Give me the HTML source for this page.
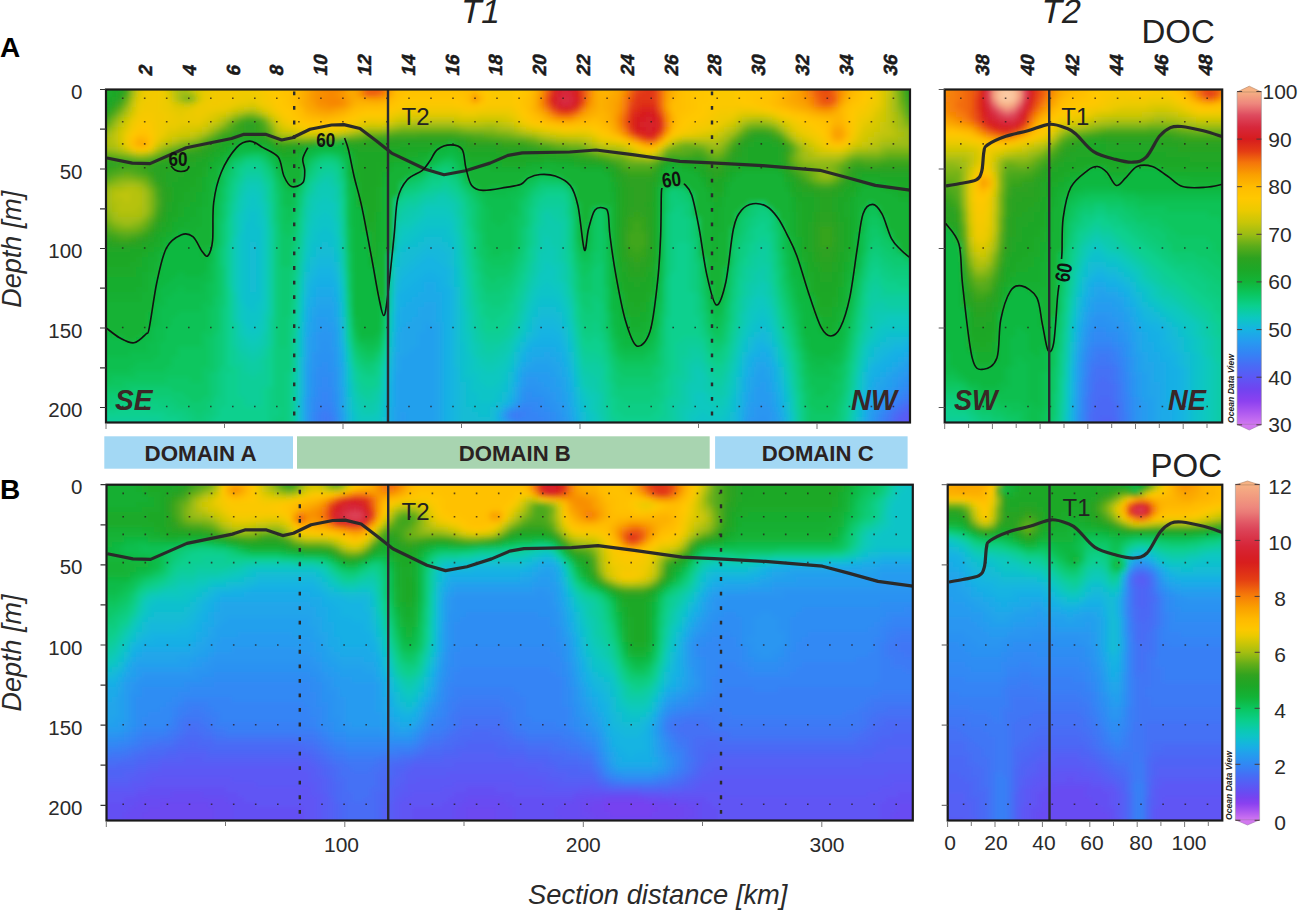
<!DOCTYPE html>
<html><head><meta charset="utf-8"><style>html,body{margin:0;padding:0;background:#fff;overflow:hidden}svg{display:block}text{font-family:"Liberation Sans", sans-serif}</style></head>
<body><svg width="1299" height="910" viewBox="0 0 1299 910" font-family='"Liberation Sans", sans-serif'>
<defs><filter id="bl" x="-2%" y="-2%" width="104%" height="104%"><feGaussianBlur stdDeviation="2.8"/></filter><clipPath id="cAL"><rect x="106.0" y="89.5" width="804.0" height="333.0"/></clipPath><clipPath id="cAR"><rect x="944.7" y="89.5" width="277.5" height="333.0"/></clipPath><clipPath id="cBL"><rect x="106.5" y="484.7" width="806.3" height="335.8"/></clipPath><clipPath id="cBR"><rect x="947.7" y="484.7" width="274.6" height="335.8"/></clipPath><linearGradient id="g91" x1="0" y1="0" x2="0" y2="1"><stop offset="0.000" stop-color="rgb(246,178,132)"/><stop offset="0.018" stop-color="rgb(242,156,128)"/><stop offset="0.036" stop-color="rgb(238,135,125)"/><stop offset="0.054" stop-color="rgb(230,105,110)"/><stop offset="0.071" stop-color="rgb(222,75,95)"/><stop offset="0.089" stop-color="rgb(218,57,77)"/><stop offset="0.107" stop-color="rgb(215,40,60)"/><stop offset="0.125" stop-color="rgb(215,34,45)"/><stop offset="0.143" stop-color="rgb(215,28,30)"/><stop offset="0.161" stop-color="rgb(221,44,25)"/><stop offset="0.179" stop-color="rgb(228,60,20)"/><stop offset="0.196" stop-color="rgb(236,89,15)"/><stop offset="0.214" stop-color="rgb(245,118,10)"/><stop offset="0.232" stop-color="rgb(247,139,5)"/><stop offset="0.250" stop-color="rgb(250,160,0)"/><stop offset="0.268" stop-color="rgb(252,174,0)"/><stop offset="0.286" stop-color="rgb(255,188,0)"/><stop offset="0.304" stop-color="rgb(255,194,0)"/><stop offset="0.321" stop-color="rgb(255,200,0)"/><stop offset="0.339" stop-color="rgb(245,201,0)"/><stop offset="0.357" stop-color="rgb(235,202,0)"/><stop offset="0.375" stop-color="rgb(217,200,4)"/><stop offset="0.393" stop-color="rgb(200,198,8)"/><stop offset="0.411" stop-color="rgb(177,193,14)"/><stop offset="0.429" stop-color="rgb(155,188,20)"/><stop offset="0.446" stop-color="rgb(123,180,23)"/><stop offset="0.464" stop-color="rgb(92,172,26)"/><stop offset="0.482" stop-color="rgb(68,167,29)"/><stop offset="0.500" stop-color="rgb(45,162,32)"/><stop offset="0.518" stop-color="rgb(36,165,36)"/><stop offset="0.536" stop-color="rgb(28,168,40)"/><stop offset="0.554" stop-color="rgb(23,174,48)"/><stop offset="0.571" stop-color="rgb(18,180,56)"/><stop offset="0.589" stop-color="rgb(14,189,75)"/><stop offset="0.607" stop-color="rgb(10,198,95)"/><stop offset="0.625" stop-color="rgb(10,203,118)"/><stop offset="0.643" stop-color="rgb(10,208,142)"/><stop offset="0.661" stop-color="rgb(11,204,167)"/><stop offset="0.679" stop-color="rgb(12,200,192)"/><stop offset="0.696" stop-color="rgb(17,190,209)"/><stop offset="0.714" stop-color="rgb(22,180,226)"/><stop offset="0.732" stop-color="rgb(30,167,233)"/><stop offset="0.750" stop-color="rgb(38,155,240)"/><stop offset="0.768" stop-color="rgb(45,143,242)"/><stop offset="0.786" stop-color="rgb(52,132,245)"/><stop offset="0.804" stop-color="rgb(62,120,245)"/><stop offset="0.821" stop-color="rgb(72,108,245)"/><stop offset="0.839" stop-color="rgb(82,98,245)"/><stop offset="0.857" stop-color="rgb(92,88,245)"/><stop offset="0.875" stop-color="rgb(102,78,242)"/><stop offset="0.893" stop-color="rgb(112,68,240)"/><stop offset="0.911" stop-color="rgb(126,66,240)"/><stop offset="0.929" stop-color="rgb(140,65,240)"/><stop offset="0.946" stop-color="rgb(157,77,240)"/><stop offset="0.964" stop-color="rgb(175,90,240)"/><stop offset="0.982" stop-color="rgb(192,105,240)"/><stop offset="1.000" stop-color="rgb(210,120,240)"/></linearGradient><linearGradient id="gpoc" x1="0" y1="0" x2="0" y2="1"><stop offset="0.000" stop-color="rgb(246,178,132)"/><stop offset="0.017" stop-color="rgb(244,167,130)"/><stop offset="0.033" stop-color="rgb(242,157,128)"/><stop offset="0.050" stop-color="rgb(240,147,126)"/><stop offset="0.067" stop-color="rgb(238,136,125)"/><stop offset="0.083" stop-color="rgb(234,123,119)"/><stop offset="0.100" stop-color="rgb(229,103,109)"/><stop offset="0.117" stop-color="rgb(224,84,99)"/><stop offset="0.133" stop-color="rgb(220,69,89)"/><stop offset="0.150" stop-color="rgb(218,58,78)"/><stop offset="0.167" stop-color="rgb(216,47,67)"/><stop offset="0.183" stop-color="rgb(215,38,56)"/><stop offset="0.200" stop-color="rgb(215,34,46)"/><stop offset="0.217" stop-color="rgb(215,30,37)"/><stop offset="0.233" stop-color="rgb(216,30,29)"/><stop offset="0.250" stop-color="rgb(220,40,26)"/><stop offset="0.267" stop-color="rgb(224,51,22)"/><stop offset="0.283" stop-color="rgb(228,62,19)"/><stop offset="0.300" stop-color="rgb(234,83,16)"/><stop offset="0.317" stop-color="rgb(241,106,12)"/><stop offset="0.333" stop-color="rgb(246,126,8)"/><stop offset="0.350" stop-color="rgb(248,143,4)"/><stop offset="0.367" stop-color="rgb(250,160,0)"/><stop offset="0.383" stop-color="rgb(252,172,0)"/><stop offset="0.400" stop-color="rgb(254,185,0)"/><stop offset="0.417" stop-color="rgb(255,192,0)"/><stop offset="0.433" stop-color="rgb(251,200,0)"/><stop offset="0.450" stop-color="rgb(235,202,0)"/><stop offset="0.467" stop-color="rgb(211,199,5)"/><stop offset="0.483" stop-color="rgb(189,195,10)"/><stop offset="0.500" stop-color="rgb(164,190,17)"/><stop offset="0.517" stop-color="rgb(134,182,21)"/><stop offset="0.533" stop-color="rgb(102,174,25)"/><stop offset="0.550" stop-color="rgb(75,168,28)"/><stop offset="0.567" stop-color="rgb(50,163,31)"/><stop offset="0.583" stop-color="rgb(38,164,35)"/><stop offset="0.600" stop-color="rgb(29,167,39)"/><stop offset="0.617" stop-color="rgb(23,173,47)"/><stop offset="0.633" stop-color="rgb(18,179,55)"/><stop offset="0.650" stop-color="rgb(14,188,74)"/><stop offset="0.667" stop-color="rgb(10,198,95)"/><stop offset="0.683" stop-color="rgb(10,202,115)"/><stop offset="0.700" stop-color="rgb(10,206,136)"/><stop offset="0.717" stop-color="rgb(10,205,157)"/><stop offset="0.733" stop-color="rgb(11,201,180)"/><stop offset="0.750" stop-color="rgb(14,196,198)"/><stop offset="0.767" stop-color="rgb(19,185,216)"/><stop offset="0.783" stop-color="rgb(25,174,229)"/><stop offset="0.800" stop-color="rgb(34,160,236)"/><stop offset="0.817" stop-color="rgb(41,148,241)"/><stop offset="0.833" stop-color="rgb(49,136,244)"/><stop offset="0.850" stop-color="rgb(59,123,245)"/><stop offset="0.867" stop-color="rgb(70,109,245)"/><stop offset="0.883" stop-color="rgb(81,98,245)"/><stop offset="0.900" stop-color="rgb(92,87,244)"/><stop offset="0.917" stop-color="rgb(104,76,242)"/><stop offset="0.933" stop-color="rgb(119,67,240)"/><stop offset="0.950" stop-color="rgb(138,65,240)"/><stop offset="0.967" stop-color="rgb(162,81,240)"/><stop offset="0.983" stop-color="rgb(186,99,240)"/><stop offset="1.000" stop-color="rgb(210,120,240)"/></linearGradient></defs>
<rect width="1299" height="910" fill="#fff"/>
<g clip-path="url(#cAL)"><g filter="url(#bl)"><path fill="#18ad2e" d="M94 77h18v5h-18zM94 82h18v5h-18zM94 87h12v5h-12zM256 142h6v5h-6zM226 147h6v5h-6zM220 152h6v5h-6zM274 152h6v5h-6zM418 152h12v5h-12zM214 157h6v5h-6zM280 157h18v5h-18zM406 157h6v5h-6zM208 162h6v5h-6zM388 162h6v5h-6zM472 162h30v5h-30zM526 162h6v5h-6zM568 162h6v5h-6zM670 162h6v5h-6zM688 167h6v5h-6zM742 167h36v5h-36zM352 172h6v5h-6zM382 172h6v5h-6zM730 172h6v5h-6zM202 177h6v5h-6zM352 177h6v5h-6zM658 177h6v5h-6zM700 177h6v5h-6zM202 182h6v5h-6zM610 182h6v5h-6zM724 182h6v5h-6zM784 182h6v5h-6zM862 182h6v5h-6zM880 182h6v5h-6zM202 187h6v5h-6zM610 187h6v5h-6zM706 187h6v5h-6zM856 187h6v5h-6zM886 187h12v5h-12zM196 192h6v5h-6zM898 192h24v5h-24zM196 197h6v5h-6zM718 197h6v5h-6zM790 197h6v5h-6zM850 197h6v5h-6zM190 202h12v5h-12zM712 202h12v5h-12zM790 202h6v5h-6zM850 202h6v5h-6zM184 207h12v5h-12zM712 207h6v5h-6zM790 207h6v5h-6zM850 207h6v5h-6zM184 212h12v5h-12zM376 212h6v5h-6zM712 212h6v5h-6zM850 212h6v5h-6zM178 217h12v5h-12zM376 217h6v5h-6zM712 217h6v5h-6zM850 217h6v5h-6zM172 222h12v5h-12zM376 222h6v5h-6zM712 222h6v5h-6zM850 222h6v5h-6zM172 227h6v5h-6zM376 227h6v5h-6zM850 227h6v5h-6zM166 232h6v5h-6zM376 232h6v5h-6zM850 232h6v5h-6zM160 237h6v5h-6zM376 237h6v5h-6zM796 237h6v5h-6zM850 237h6v5h-6zM160 242h6v5h-6zM796 242h6v5h-6zM850 242h6v5h-6zM154 247h6v5h-6zM796 247h6v5h-6zM850 247h6v5h-6zM148 252h6v5h-6zM796 252h6v5h-6zM142 257h6v5h-6zM370 257h6v5h-6zM142 262h6v5h-6zM370 262h6v5h-6zM802 262h6v5h-6zM844 262h6v5h-6zM136 267h12v5h-12zM802 267h6v5h-6zM844 267h6v5h-6zM136 272h6v5h-6zM802 272h6v5h-6zM94 277h48v5h-48zM652 277h6v5h-6zM94 282h48v5h-48zM616 282h6v5h-6zM652 282h6v5h-6zM94 287h42v5h-42zM616 287h6v5h-6zM838 287h6v5h-6zM808 292h6v5h-6zM838 292h6v5h-6zM838 297h6v5h-6zM646 302h6v5h-6zM622 307h6v5h-6zM646 307h6v5h-6zM832 307h6v5h-6zM622 312h6v5h-6zM640 312h6v5h-6zM814 312h6v5h-6zM832 312h6v5h-6zM628 317h18v5h-18zM820 317h18v5h-18zM628 322h12v5h-12zM820 322h12v5h-12zM820 327h12v5h-12z"/>
<path fill="#1aaa2b" d="M112 77h6v5h-6zM112 82h6v5h-6zM106 87h6v5h-6zM94 92h18v5h-18zM94 97h12v5h-12zM232 142h6v5h-6zM262 142h6v5h-6zM346 147h6v5h-6zM430 147h6v5h-6zM214 152h6v5h-6zM292 152h6v5h-6zM406 152h12v5h-12zM208 157h6v5h-6zM352 157h6v5h-6zM394 157h12v5h-12zM466 157h24v5h-24zM544 157h6v5h-6zM352 162h6v5h-6zM502 162h24v5h-24zM574 162h6v5h-6zM676 162h6v5h-6zM202 167h6v5h-6zM352 167h6v5h-6zM382 167h6v5h-6zM604 167h6v5h-6zM694 167h6v5h-6zM736 167h6v5h-6zM778 167h6v5h-6zM202 172h6v5h-6zM658 172h6v5h-6zM196 177h6v5h-6zM610 177h6v5h-6zM724 177h6v5h-6zM784 177h6v5h-6zM862 177h18v5h-18zM196 182h6v5h-6zM856 182h6v5h-6zM886 182h12v5h-12zM190 187h12v5h-12zM376 187h6v5h-6zM898 187h24v5h-24zM184 192h12v5h-12zM376 192h6v5h-6zM712 192h12v5h-12zM790 192h6v5h-6zM850 192h6v5h-6zM184 197h12v5h-12zM376 197h6v5h-6zM712 197h6v5h-6zM178 202h12v5h-12zM376 202h6v5h-6zM796 202h6v5h-6zM844 202h6v5h-6zM178 207h6v5h-6zM376 207h6v5h-6zM796 207h6v5h-6zM844 207h6v5h-6zM178 212h6v5h-6zM796 212h6v5h-6zM844 212h6v5h-6zM172 217h6v5h-6zM796 217h6v5h-6zM370 222h6v5h-6zM796 222h6v5h-6zM166 227h6v5h-6zM364 227h12v5h-12zM796 227h6v5h-6zM160 232h6v5h-6zM370 232h6v5h-6zM796 232h6v5h-6zM370 237h6v5h-6zM154 242h6v5h-6zM370 242h6v5h-6zM148 247h6v5h-6zM370 247h6v5h-6zM844 247h6v5h-6zM142 252h6v5h-6zM370 252h6v5h-6zM802 252h6v5h-6zM844 252h6v5h-6zM136 257h6v5h-6zM802 257h6v5h-6zM844 257h6v5h-6zM130 262h12v5h-12zM652 262h6v5h-6zM94 267h42v5h-42zM616 267h6v5h-6zM652 267h6v5h-6zM94 272h42v5h-42zM616 272h6v5h-6zM652 272h6v5h-6zM808 272h6v5h-6zM838 272h6v5h-6zM616 277h6v5h-6zM808 277h6v5h-6zM838 277h6v5h-6zM808 282h6v5h-6zM838 282h6v5h-6zM808 287h6v5h-6zM622 292h6v5h-6zM646 292h6v5h-6zM622 297h6v5h-6zM646 297h6v5h-6zM814 297h6v5h-6zM832 297h6v5h-6zM622 302h12v5h-12zM640 302h6v5h-6zM814 302h6v5h-6zM832 302h6v5h-6zM628 307h18v5h-18zM814 307h18v5h-18zM628 312h12v5h-12zM820 312h12v5h-12z"/>
<path fill="#23a625" d="M118 77h6v5h-6zM910 77h6v5h-6zM118 82h6v5h-6zM910 82h6v5h-6zM118 87h6v5h-6zM910 87h6v5h-6zM916 92h6v5h-6zM112 97h6v5h-6zM94 107h12v5h-12zM232 137h12v5h-12zM256 137h12v5h-12zM754 137h18v5h-18zM400 142h30v5h-30zM460 142h6v5h-6zM748 142h6v5h-6zM772 142h6v5h-6zM286 147h6v5h-6zM358 147h30v5h-30zM466 147h30v5h-30zM742 147h6v5h-6zM778 147h6v5h-6zM502 152h36v5h-36zM742 152h6v5h-6zM778 152h6v5h-6zM196 157h6v5h-6zM574 157h6v5h-6zM736 157h12v5h-12zM778 157h6v5h-6zM184 162h12v5h-12zM694 162h6v5h-6zM730 162h6v5h-6zM172 167h18v5h-18zM610 167h6v5h-6zM724 167h6v5h-6zM166 172h18v5h-18zM706 172h6v5h-6zM856 172h6v5h-6zM880 172h42v5h-42zM166 177h12v5h-12zM616 177h6v5h-6zM712 177h6v5h-6zM790 177h6v5h-6zM850 177h6v5h-6zM166 182h6v5h-6zM616 182h6v5h-6zM652 182h6v5h-6zM796 187h6v5h-6zM802 192h12v5h-12zM838 192h6v5h-6zM814 197h6v5h-6zM832 197h6v5h-6zM166 202h6v5h-6zM814 202h6v5h-6zM832 202h6v5h-6zM166 207h6v5h-6zM814 207h6v5h-6zM832 207h6v5h-6zM160 222h6v5h-6zM808 222h6v5h-6zM838 222h6v5h-6zM808 227h6v5h-6zM838 227h6v5h-6zM808 232h6v5h-6zM838 232h6v5h-6zM148 237h6v5h-6zM808 237h6v5h-6zM838 237h6v5h-6zM142 242h6v5h-6zM808 242h6v5h-6zM838 242h6v5h-6zM106 247h24v5h-24zM808 247h6v5h-6zM838 247h6v5h-6zM622 262h6v5h-6zM814 262h6v5h-6zM832 262h6v5h-6zM622 267h6v5h-6zM646 267h6v5h-6zM832 267h6v5h-6zM820 272h12v5h-12zM628 277h18v5h-18zM820 277h12v5h-12zM634 282h6v5h-6z"/>
<path fill="#36a41f" d="M124 77h6v5h-6zM124 82h6v5h-6zM904 92h6v5h-6zM916 107h6v5h-6zM106 112h6v5h-6zM94 117h12v5h-12zM238 122h6v5h-6zM256 122h6v5h-6zM238 127h6v5h-6zM256 127h6v5h-6zM226 132h6v5h-6zM262 132h6v5h-6zM214 137h6v5h-6zM268 137h6v5h-6zM364 137h6v5h-6zM466 137h6v5h-6zM778 137h6v5h-6zM280 142h12v5h-12zM502 142h24v5h-24zM784 142h6v5h-6zM196 147h6v5h-6zM538 147h12v5h-12zM730 147h6v5h-6zM178 152h6v5h-6zM574 152h6v5h-6zM784 152h6v5h-6zM94 157h18v5h-18zM160 157h6v5h-6zM598 157h6v5h-6zM724 157h6v5h-6zM784 157h6v5h-6zM118 162h12v5h-12zM148 162h6v5h-6zM706 162h6v5h-6zM718 162h6v5h-6zM856 162h6v5h-6zM880 162h42v5h-42zM100 167h12v5h-12zM142 167h6v5h-6zM652 167h6v5h-6zM148 172h6v5h-6zM628 172h24v5h-24zM844 172h6v5h-6zM154 182h6v5h-6zM808 182h6v5h-6zM634 212h6v5h-6zM154 217h6v5h-6zM628 217h18v5h-18zM628 222h6v5h-6zM640 222h6v5h-6zM148 227h6v5h-6zM628 227h6v5h-6zM640 227h6v5h-6zM820 227h12v5h-12zM94 232h12v5h-12zM142 232h6v5h-6zM820 232h12v5h-12zM112 237h6v5h-6zM130 237h6v5h-6zM820 237h12v5h-12zM820 242h12v5h-12zM628 247h6v5h-6zM640 247h6v5h-6zM628 252h18v5h-18zM634 257h6v5h-6z"/>
<path fill="#8eb915" d="M130 77h6v5h-6zM130 82h6v5h-6zM190 97h6v5h-6zM118 112h6v5h-6zM898 112h6v5h-6zM268 122h6v5h-6zM766 122h6v5h-6zM106 127h6v5h-6zM214 127h6v5h-6zM388 127h6v5h-6zM466 127h30v5h-30zM910 127h6v5h-6zM352 132h6v5h-6zM514 132h6v5h-6zM196 137h6v5h-6zM538 137h6v5h-6zM580 142h6v5h-6zM700 142h6v5h-6zM94 147h12v5h-12zM160 147h6v5h-6zM592 147h6v5h-6zM712 147h6v5h-6zM880 147h6v5h-6zM124 152h6v5h-6zM796 152h6v5h-6zM850 152h6v5h-6zM634 157h12v5h-12zM814 162h18v5h-18zM112 182h6v5h-6zM100 187h6v5h-6zM94 197h6v5h-6zM94 202h12v5h-12zM100 207h6v5h-6zM106 212h6v5h-6zM118 222h6v5h-6zM130 222h6v5h-6z"/>
<path fill="#d6c805" d="M136 77h6v5h-6zM166 77h6v5h-6zM196 77h6v5h-6zM136 82h6v5h-6zM166 82h6v5h-6zM196 82h6v5h-6zM136 87h6v5h-6zM166 87h6v5h-6zM196 92h6v5h-6zM190 102h6v5h-6zM232 107h6v5h-6zM880 107h6v5h-6zM220 112h6v5h-6zM394 117h6v5h-6zM460 117h18v5h-18zM502 117h6v5h-6zM874 117h6v5h-6zM202 122h6v5h-6zM370 122h6v5h-6zM382 122h6v5h-6zM514 122h6v5h-6zM784 122h6v5h-6zM874 122h6v5h-6zM184 127h12v5h-12zM526 127h6v5h-6zM718 127h6v5h-6zM868 127h6v5h-6zM118 132h6v5h-6zM172 132h6v5h-6zM556 132h6v5h-6zM706 132h6v5h-6zM862 132h6v5h-6zM118 137h6v5h-6zM592 137h6v5h-6zM802 137h6v5h-6zM616 142h6v5h-6zM664 142h6v5h-6zM844 147h6v5h-6z"/>
<path fill="#ebca00" d="M142 77h6v5h-6zM160 77h6v5h-6zM142 82h6v5h-6zM160 82h6v5h-6zM202 92h6v5h-6zM202 97h6v5h-6zM244 97h12v5h-12zM136 102h6v5h-6zM166 102h6v5h-6zM196 102h6v5h-6zM232 102h6v5h-6zM256 102h6v5h-6zM874 102h6v5h-6zM166 107h6v5h-6zM190 107h6v5h-6zM214 107h12v5h-12zM172 112h6v5h-6zM184 112h12v5h-12zM202 112h6v5h-6zM394 112h6v5h-6zM460 112h18v5h-18zM508 112h6v5h-6zM868 112h6v5h-6zM130 117h6v5h-6zM172 117h30v5h-30zM514 117h6v5h-6zM724 117h6v5h-6zM862 117h6v5h-6zM166 122h12v5h-12zM520 122h6v5h-6zM718 122h6v5h-6zM790 122h6v5h-6zM298 127h6v5h-6zM340 127h6v5h-6zM706 127h6v5h-6zM856 127h6v5h-6zM160 132h6v5h-6zM688 132h6v5h-6zM802 132h6v5h-6zM598 137h6v5h-6zM148 147h6v5h-6zM634 147h6v5h-6zM832 147h12v5h-12z"/>
<path fill="#efca00" d="M148 77h6v5h-6zM208 77h6v5h-6zM148 82h6v5h-6zM208 82h6v5h-6zM142 87h12v5h-12zM160 87h6v5h-6zM208 87h6v5h-6zM874 87h6v5h-6zM142 92h6v5h-6zM160 92h6v5h-6zM208 92h6v5h-6zM238 92h18v5h-18zM874 92h6v5h-6zM142 97h6v5h-6zM160 97h6v5h-6zM208 97h6v5h-6zM232 97h12v5h-12zM256 97h6v5h-6zM874 97h6v5h-6zM160 102h6v5h-6zM202 102h6v5h-6zM220 102h12v5h-12zM136 107h6v5h-6zM160 107h6v5h-6zM196 107h18v5h-18zM268 107h6v5h-6zM868 107h6v5h-6zM166 112h6v5h-6zM196 112h6v5h-6zM274 112h6v5h-6zM730 112h6v5h-6zM772 112h6v5h-6zM166 117h6v5h-6zM718 117h6v5h-6zM784 117h6v5h-6zM160 122h6v5h-6zM286 122h6v5h-6zM352 122h6v5h-6zM712 122h6v5h-6zM856 122h6v5h-6zM160 127h6v5h-6zM334 127h6v5h-6zM544 127h6v5h-6zM700 127h6v5h-6zM796 127h6v5h-6zM124 132h6v5h-6zM592 132h6v5h-6zM682 132h6v5h-6zM154 137h6v5h-6zM604 137h6v5h-6zM814 137h6v5h-6zM850 137h6v5h-6zM124 142h6v5h-6zM820 142h6v5h-6z"/>
<path fill="#f3c900" d="M154 77h6v5h-6zM214 77h42v5h-42zM874 77h6v5h-6zM154 82h6v5h-6zM214 82h42v5h-42zM874 82h6v5h-6zM154 87h6v5h-6zM214 87h42v5h-42zM148 92h12v5h-12zM214 92h24v5h-24zM256 92h6v5h-6zM148 97h12v5h-12zM214 97h18v5h-18zM142 102h18v5h-18zM208 102h12v5h-12zM262 102h6v5h-6zM868 102h6v5h-6zM142 107h18v5h-18zM406 107h54v5h-54zM484 107h30v5h-30zM736 107h18v5h-18zM136 112h6v5h-6zM154 112h12v5h-12zM388 112h6v5h-6zM514 112h6v5h-6zM718 112h12v5h-12zM862 112h6v5h-6zM154 117h12v5h-12zM280 117h6v5h-6zM364 117h24v5h-24zM712 117h6v5h-6zM856 117h6v5h-6zM130 122h6v5h-6zM154 122h6v5h-6zM292 122h6v5h-6zM526 122h6v5h-6zM706 122h6v5h-6zM796 122h6v5h-6zM154 127h6v5h-6zM304 127h12v5h-12zM328 127h6v5h-6zM550 127h6v5h-6zM694 127h6v5h-6zM802 127h6v5h-6zM154 132h6v5h-6zM808 132h6v5h-6zM124 137h6v5h-6zM130 147h6v5h-6z"/>
<path fill="#b6c20d" d="M172 77h6v5h-6zM172 82h6v5h-6zM172 87h6v5h-6zM130 97h6v5h-6zM124 112h6v5h-6zM220 117h6v5h-6zM268 117h6v5h-6zM748 117h6v5h-6zM760 117h6v5h-6zM214 122h6v5h-6zM394 122h6v5h-6zM460 122h24v5h-24zM496 122h6v5h-6zM736 122h6v5h-6zM274 127h6v5h-6zM514 127h6v5h-6zM730 127h6v5h-6zM892 127h6v5h-6zM196 132h6v5h-6zM280 132h12v5h-12zM892 132h6v5h-6zM178 137h6v5h-6zM568 137h12v5h-12zM880 137h6v5h-6zM112 142h6v5h-6zM592 142h6v5h-6zM874 142h6v5h-6zM118 147h6v5h-6zM154 147h6v5h-6zM622 147h6v5h-6zM136 152h6v5h-6zM124 187h12v5h-12zM112 192h6v5h-6zM130 192h12v5h-12zM112 197h12v5h-12zM130 197h12v5h-12zM118 202h24v5h-24zM118 207h18v5h-18z"/>
<path fill="#a4be12" d="M178 77h6v5h-6zM178 82h6v5h-6zM178 87h6v5h-6zM130 92h6v5h-6zM178 92h6v5h-6zM892 97h6v5h-6zM892 102h6v5h-6zM124 107h6v5h-6zM892 107h6v5h-6zM412 122h42v5h-42zM772 122h6v5h-6zM382 127h6v5h-6zM502 127h12v5h-12zM898 127h6v5h-6zM106 132h6v5h-6zM202 132h6v5h-6zM346 132h6v5h-6zM526 132h6v5h-6zM94 137h12v5h-12zM190 137h6v5h-6zM550 137h6v5h-6zM790 137h6v5h-6zM898 137h6v5h-6zM94 142h12v5h-12zM586 142h6v5h-6zM670 142h6v5h-6zM712 142h6v5h-6zM796 142h6v5h-6zM880 142h12v5h-12zM112 147h6v5h-6zM604 147h12v5h-12zM868 147h12v5h-12zM130 152h6v5h-6zM802 152h6v5h-6zM808 157h30v5h-30zM124 182h12v5h-12zM106 192h6v5h-6zM142 192h6v5h-6zM106 197h6v5h-6zM142 197h6v5h-6zM106 202h6v5h-6zM142 202h6v5h-6zM142 207h6v5h-6zM112 212h6v5h-6zM118 217h18v5h-18z"/>
<path fill="#adc00f" d="M184 77h6v5h-6zM184 82h6v5h-6zM184 87h6v5h-6zM190 92h6v5h-6zM232 112h6v5h-6zM892 112h6v5h-6zM118 117h6v5h-6zM754 117h6v5h-6zM892 117h6v5h-6zM400 122h12v5h-12zM454 122h6v5h-6zM484 122h12v5h-12zM892 122h6v5h-6zM112 127h6v5h-6zM208 127h6v5h-6zM364 127h18v5h-18zM340 132h6v5h-6zM532 132h6v5h-6zM724 132h6v5h-6zM898 132h6v5h-6zM106 137h6v5h-6zM184 137h6v5h-6zM556 137h12v5h-12zM718 137h6v5h-6zM886 137h12v5h-12zM106 142h6v5h-6zM166 142h6v5h-6zM616 147h6v5h-6zM802 147h6v5h-6zM856 147h12v5h-12zM142 152h6v5h-6zM628 152h6v5h-6zM808 152h6v5h-6zM844 152h6v5h-6zM112 187h12v5h-12zM136 187h6v5h-6zM112 202h6v5h-6zM112 207h6v5h-6zM136 207h6v5h-6zM118 212h24v5h-24z"/>
<path fill="#c8c608" d="M190 77h6v5h-6zM886 77h6v5h-6zM190 82h6v5h-6zM886 82h6v5h-6zM190 87h6v5h-6zM886 87h6v5h-6zM886 92h6v5h-6zM130 102h6v5h-6zM184 102h6v5h-6zM244 107h6v5h-6zM226 112h6v5h-6zM412 117h42v5h-42zM208 122h6v5h-6zM274 122h6v5h-6zM388 122h6v5h-6zM508 122h6v5h-6zM880 122h6v5h-6zM202 127h6v5h-6zM520 127h6v5h-6zM724 127h6v5h-6zM880 127h6v5h-6zM190 132h6v5h-6zM298 132h6v5h-6zM322 132h6v5h-6zM544 132h6v5h-6zM718 132h6v5h-6zM790 132h6v5h-6zM874 132h6v5h-6zM172 137h6v5h-6zM586 137h6v5h-6zM796 137h6v5h-6zM868 137h6v5h-6zM598 142h6v5h-6zM862 142h6v5h-6zM658 147h6v5h-6zM652 152h6v5h-6zM820 152h18v5h-18z"/>
<path fill="#e4c902" d="M202 77h6v5h-6zM202 82h6v5h-6zM202 87h6v5h-6zM136 97h6v5h-6zM166 97h6v5h-6zM238 102h12v5h-12zM172 107h18v5h-18zM226 107h6v5h-6zM262 107h6v5h-6zM874 107h6v5h-6zM178 112h6v5h-6zM208 112h6v5h-6zM400 112h60v5h-60zM478 112h30v5h-30zM736 112h6v5h-6zM766 112h6v5h-6zM202 117h6v5h-6zM388 117h6v5h-6zM730 117h6v5h-6zM778 117h6v5h-6zM868 117h6v5h-6zM178 122h24v5h-24zM280 122h6v5h-6zM358 122h6v5h-6zM862 122h6v5h-6zM124 127h6v5h-6zM166 127h12v5h-12zM292 127h6v5h-6zM538 127h6v5h-6zM712 127h6v5h-6zM586 132h6v5h-6zM694 132h6v5h-6zM856 132h6v5h-6zM670 137h6v5h-6zM808 137h6v5h-6zM622 142h6v5h-6zM814 142h6v5h-6zM826 147h6v5h-6z"/>
<path fill="#f7c900" d="M256 77h6v5h-6zM256 82h6v5h-6zM256 87h6v5h-6zM262 92h6v5h-6zM262 97h6v5h-6zM868 97h6v5h-6zM268 102h6v5h-6zM400 107h6v5h-6zM460 107h6v5h-6zM472 107h12v5h-12zM718 107h18v5h-18zM754 107h6v5h-6zM862 107h6v5h-6zM142 112h12v5h-12zM712 112h6v5h-6zM856 112h6v5h-6zM136 117h18v5h-18zM358 117h6v5h-6zM520 117h6v5h-6zM706 117h6v5h-6zM790 117h6v5h-6zM346 122h6v5h-6zM694 122h12v5h-12zM130 127h6v5h-6zM316 127h12v5h-12zM556 127h6v5h-6zM574 127h18v5h-18zM688 127h6v5h-6zM808 127h6v5h-6zM676 132h6v5h-6zM814 132h6v5h-6zM850 132h6v5h-6zM610 137h6v5h-6zM820 137h6v5h-6zM628 142h6v5h-6zM844 142h6v5h-6zM652 147h6v5h-6z"/>
<path fill="#fbc800" d="M262 77h6v5h-6zM490 77h24v5h-24zM712 77h24v5h-24zM868 77h6v5h-6zM262 82h6v5h-6zM490 82h24v5h-24zM712 82h24v5h-24zM868 82h6v5h-6zM262 87h6v5h-6zM490 87h24v5h-24zM712 87h24v5h-24zM868 87h6v5h-6zM268 92h6v5h-6zM490 92h24v5h-24zM712 92h24v5h-24zM868 92h6v5h-6zM268 97h6v5h-6zM490 97h24v5h-24zM712 97h24v5h-24zM406 102h48v5h-48zM484 102h30v5h-30zM712 102h30v5h-30zM862 102h6v5h-6zM274 107h6v5h-6zM394 107h6v5h-6zM466 107h6v5h-6zM514 107h6v5h-6zM706 107h12v5h-12zM760 107h6v5h-6zM856 107h6v5h-6zM280 112h6v5h-6zM706 112h6v5h-6zM778 112h6v5h-6zM286 117h6v5h-6zM700 117h6v5h-6zM136 122h6v5h-6zM148 122h6v5h-6zM298 122h6v5h-6zM532 122h6v5h-6zM688 122h6v5h-6zM802 122h6v5h-6zM850 122h6v5h-6zM148 127h6v5h-6zM562 127h12v5h-12zM682 127h6v5h-6zM850 127h6v5h-6zM598 132h6v5h-6zM826 142h6v5h-6zM640 147h6v5h-6z"/>
<path fill="#ffc800" d="M268 77h12v5h-12zM484 77h6v5h-6zM514 77h6v5h-6zM706 77h6v5h-6zM736 77h12v5h-12zM268 82h12v5h-12zM484 82h6v5h-6zM514 82h6v5h-6zM706 82h6v5h-6zM736 82h12v5h-12zM268 87h12v5h-12zM484 87h6v5h-6zM514 87h6v5h-6zM706 87h6v5h-6zM736 87h12v5h-12zM274 92h6v5h-6zM484 92h6v5h-6zM514 92h6v5h-6zM706 92h6v5h-6zM736 92h12v5h-12zM274 97h6v5h-6zM484 97h6v5h-6zM514 97h6v5h-6zM706 97h6v5h-6zM736 97h12v5h-12zM862 97h6v5h-6zM274 102h6v5h-6zM400 102h6v5h-6zM454 102h6v5h-6zM514 102h6v5h-6zM700 102h12v5h-12zM742 102h12v5h-12zM280 107h6v5h-6zM388 107h6v5h-6zM700 107h6v5h-6zM766 107h6v5h-6zM286 112h6v5h-6zM364 112h24v5h-24zM520 112h6v5h-6zM694 112h12v5h-12zM784 112h6v5h-6zM850 112h6v5h-6zM292 117h6v5h-6zM352 117h6v5h-6zM688 117h12v5h-12zM796 117h6v5h-6zM850 117h6v5h-6zM142 122h6v5h-6zM340 122h6v5h-6zM538 122h6v5h-6zM682 122h6v5h-6zM808 122h6v5h-6zM592 127h6v5h-6zM814 127h6v5h-6zM130 132h6v5h-6zM148 132h6v5h-6zM820 132h6v5h-6zM616 137h6v5h-6zM142 147h6v5h-6z"/>
<path fill="#ffc300" d="M280 77h6v5h-6zM478 77h6v5h-6zM688 77h6v5h-6zM766 77h6v5h-6zM862 77h6v5h-6zM280 82h6v5h-6zM478 82h6v5h-6zM688 82h6v5h-6zM766 82h6v5h-6zM862 82h6v5h-6zM280 87h6v5h-6zM478 87h6v5h-6zM688 87h6v5h-6zM766 87h6v5h-6zM280 92h6v5h-6zM406 92h54v5h-54zM688 92h6v5h-6zM760 92h12v5h-12zM460 97h6v5h-6zM520 97h6v5h-6zM688 97h6v5h-6zM754 97h12v5h-12zM856 97h6v5h-6zM286 102h6v5h-6zM466 102h6v5h-6zM520 102h6v5h-6zM688 102h6v5h-6zM760 102h6v5h-6zM850 102h6v5h-6zM382 107h6v5h-6zM688 107h6v5h-6zM772 107h6v5h-6zM292 112h6v5h-6zM352 112h6v5h-6zM526 112h6v5h-6zM682 112h6v5h-6zM790 112h6v5h-6zM298 117h6v5h-6zM808 117h6v5h-6zM310 122h24v5h-24zM544 122h6v5h-6zM676 122h6v5h-6zM820 122h6v5h-6zM598 127h6v5h-6zM148 137h6v5h-6zM832 142h12v5h-12z"/>
<path fill="#ffbe00" d="M286 77h6v5h-6zM400 77h6v5h-6zM454 77h12v5h-12zM472 77h6v5h-6zM856 77h6v5h-6zM286 82h6v5h-6zM400 82h6v5h-6zM454 82h12v5h-12zM472 82h6v5h-6zM856 82h6v5h-6zM400 87h6v5h-6zM460 87h6v5h-6zM472 87h6v5h-6zM772 87h6v5h-6zM856 87h6v5h-6zM394 92h6v5h-6zM478 92h6v5h-6zM772 92h6v5h-6zM526 97h6v5h-6zM676 97h6v5h-6zM850 97h6v5h-6zM292 102h6v5h-6zM526 102h6v5h-6zM676 102h6v5h-6zM358 107h6v5h-6zM526 107h6v5h-6zM676 107h6v5h-6zM298 112h6v5h-6zM346 112h6v5h-6zM802 112h6v5h-6zM304 117h6v5h-6zM334 117h6v5h-6zM820 117h6v5h-6zM574 122h6v5h-6zM598 122h6v5h-6zM826 122h6v5h-6zM844 122h6v5h-6zM604 127h6v5h-6zM610 132h6v5h-6zM622 137h6v5h-6zM130 142h6v5h-6z"/>
<path fill="#feb600" d="M292 77h6v5h-6zM532 77h6v5h-6zM850 77h6v5h-6zM292 82h6v5h-6zM532 82h6v5h-6zM850 82h6v5h-6zM532 87h6v5h-6zM850 87h6v5h-6zM778 92h6v5h-6zM478 97h6v5h-6zM670 97h6v5h-6zM778 97h6v5h-6zM358 102h24v5h-24zM778 102h6v5h-6zM790 107h6v5h-6zM838 107h6v5h-6zM304 112h6v5h-6zM340 112h6v5h-6zM598 112h6v5h-6zM670 112h6v5h-6zM808 112h6v5h-6zM838 112h6v5h-6zM322 117h6v5h-6zM586 117h6v5h-6zM598 117h6v5h-6zM832 117h12v5h-12zM604 122h6v5h-6zM670 122h6v5h-6zM844 132h6v5h-6zM142 137h6v5h-6z"/>
<path fill="#fdb100" d="M298 77h6v5h-6zM598 77h12v5h-12zM784 77h6v5h-6zM298 82h6v5h-6zM598 82h12v5h-12zM784 82h6v5h-6zM298 87h6v5h-6zM598 87h12v5h-12zM670 87h6v5h-6zM784 87h6v5h-6zM298 92h6v5h-6zM532 92h6v5h-6zM598 92h12v5h-12zM670 92h6v5h-6zM784 92h6v5h-6zM298 97h6v5h-6zM532 97h6v5h-6zM598 97h6v5h-6zM844 97h6v5h-6zM298 102h6v5h-6zM352 102h6v5h-6zM532 102h6v5h-6zM598 102h6v5h-6zM784 102h6v5h-6zM346 107h6v5h-6zM532 107h6v5h-6zM598 107h6v5h-6zM796 107h6v5h-6zM310 112h6v5h-6zM334 112h6v5h-6zM538 112h6v5h-6zM592 112h6v5h-6zM604 112h6v5h-6zM814 112h6v5h-6zM832 112h6v5h-6zM544 117h6v5h-6zM580 117h6v5h-6zM604 117h6v5h-6zM670 117h6v5h-6zM832 122h12v5h-12zM610 127h6v5h-6zM616 132h6v5h-6zM136 137h6v5h-6z"/>
<path fill="#fba600" d="M304 77h6v5h-6zM346 77h6v5h-6zM358 77h6v5h-6zM388 77h6v5h-6zM592 77h6v5h-6zM616 77h6v5h-6zM844 77h6v5h-6zM304 82h6v5h-6zM346 82h6v5h-6zM358 82h6v5h-6zM388 82h6v5h-6zM592 82h6v5h-6zM616 82h6v5h-6zM844 82h6v5h-6zM304 87h6v5h-6zM346 87h12v5h-12zM388 87h6v5h-6zM592 87h6v5h-6zM616 87h6v5h-6zM844 87h6v5h-6zM304 92h6v5h-6zM346 92h12v5h-12zM592 92h6v5h-6zM790 92h6v5h-6zM304 97h6v5h-6zM364 97h6v5h-6zM382 97h6v5h-6zM592 97h6v5h-6zM610 97h6v5h-6zM790 97h6v5h-6zM304 102h6v5h-6zM592 102h6v5h-6zM610 102h6v5h-6zM664 102h6v5h-6zM796 102h6v5h-6zM838 102h6v5h-6zM310 107h6v5h-6zM340 107h6v5h-6zM610 107h6v5h-6zM808 107h6v5h-6zM610 112h6v5h-6zM550 117h6v5h-6zM610 117h6v5h-6zM832 127h12v5h-12zM664 132h6v5h-6zM628 137h6v5h-6zM652 142h6v5h-6z"/>
<path fill="#f99802" d="M310 77h6v5h-6zM664 77h6v5h-6zM310 82h6v5h-6zM664 82h6v5h-6zM310 87h6v5h-6zM538 87h6v5h-6zM664 87h6v5h-6zM310 92h6v5h-6zM340 92h6v5h-6zM538 92h6v5h-6zM310 97h6v5h-6zM802 97h6v5h-6zM838 97h6v5h-6zM616 102h6v5h-6zM322 107h12v5h-12zM616 107h6v5h-6zM814 107h6v5h-6zM556 117h18v5h-18zM616 127h6v5h-6zM658 137h6v5h-6zM646 142h6v5h-6z"/>
<path fill="#f88f04" d="M316 77h6v5h-6zM340 77h6v5h-6zM364 77h6v5h-6zM622 77h6v5h-6zM802 77h6v5h-6zM316 82h6v5h-6zM340 82h6v5h-6zM364 82h6v5h-6zM622 82h6v5h-6zM802 82h6v5h-6zM316 87h6v5h-6zM340 87h6v5h-6zM358 87h6v5h-6zM622 87h6v5h-6zM802 87h6v5h-6zM838 87h6v5h-6zM316 92h12v5h-12zM334 92h6v5h-6zM358 92h6v5h-6zM802 92h6v5h-6zM838 92h6v5h-6zM316 97h6v5h-6zM340 97h6v5h-6zM472 97h6v5h-6zM538 97h6v5h-6zM316 102h12v5h-12zM340 102h6v5h-6zM538 102h6v5h-6zM586 102h6v5h-6zM808 102h6v5h-6zM820 107h12v5h-12zM616 112h6v5h-6zM664 112h6v5h-6zM616 122h6v5h-6zM622 132h6v5h-6z"/>
<path fill="#f78706" d="M322 77h18v5h-18zM586 77h6v5h-6zM838 77h6v5h-6zM322 82h18v5h-18zM586 82h6v5h-6zM838 82h6v5h-6zM322 87h18v5h-18zM328 92h6v5h-6zM382 92h6v5h-6zM622 92h6v5h-6zM322 97h18v5h-18zM586 97h6v5h-6zM808 97h6v5h-6zM328 102h12v5h-12zM616 117h6v5h-6zM664 117h6v5h-6zM664 127h6v5h-6z"/>
<path fill="#fcab00" d="M352 77h6v5h-6zM610 77h6v5h-6zM670 77h6v5h-6zM790 77h6v5h-6zM352 82h6v5h-6zM610 82h6v5h-6zM670 82h6v5h-6zM790 82h6v5h-6zM610 87h6v5h-6zM790 87h6v5h-6zM388 92h6v5h-6zM472 92h6v5h-6zM610 92h6v5h-6zM844 92h6v5h-6zM352 97h12v5h-12zM604 97h6v5h-6zM784 97h6v5h-6zM604 102h6v5h-6zM790 102h6v5h-6zM304 107h6v5h-6zM592 107h6v5h-6zM604 107h6v5h-6zM802 107h6v5h-6zM316 112h18v5h-18zM586 112h6v5h-6zM820 112h12v5h-12zM574 117h6v5h-6zM610 122h6v5h-6zM832 137h12v5h-12zM136 142h12v5h-12zM640 142h6v5h-6z"/>
<path fill="#f5760a" d="M370 77h6v5h-6zM544 77h6v5h-6zM808 77h6v5h-6zM370 82h6v5h-6zM544 82h6v5h-6zM808 82h6v5h-6zM382 87h6v5h-6zM808 87h6v5h-6zM814 102h6v5h-6zM622 107h6v5h-6zM622 127h6v5h-6z"/>
<path fill="#ee5f0e" d="M376 77h6v5h-6zM814 77h6v5h-6zM832 77h6v5h-6zM376 82h6v5h-6zM814 82h6v5h-6zM832 82h6v5h-6zM370 87h12v5h-12zM814 87h6v5h-6zM364 92h12v5h-12zM544 92h6v5h-6zM628 92h6v5h-6zM814 92h6v5h-6zM832 97h6v5h-6zM544 102h6v5h-6zM820 102h12v5h-12zM658 107h6v5h-6zM556 112h6v5h-6zM568 112h6v5h-6zM622 117h6v5h-6zM622 122h6v5h-6zM628 132h6v5h-6z"/>
<path fill="#f26a0c" d="M382 77h6v5h-6zM628 77h6v5h-6zM658 77h6v5h-6zM382 82h6v5h-6zM628 82h6v5h-6zM658 82h6v5h-6zM364 87h6v5h-6zM544 87h6v5h-6zM628 87h6v5h-6zM658 87h6v5h-6zM832 87h6v5h-6zM376 92h6v5h-6zM658 92h6v5h-6zM832 92h6v5h-6zM658 97h6v5h-6zM814 97h6v5h-6zM658 102h6v5h-6zM622 112h6v5h-6z"/>
<path fill="#ffbc00" d="M394 77h6v5h-6zM466 77h6v5h-6zM676 77h6v5h-6zM778 77h6v5h-6zM394 82h6v5h-6zM466 82h6v5h-6zM676 82h6v5h-6zM778 82h6v5h-6zM292 87h6v5h-6zM394 87h6v5h-6zM466 87h6v5h-6zM676 87h6v5h-6zM778 87h6v5h-6zM292 92h6v5h-6zM466 92h6v5h-6zM676 92h6v5h-6zM850 92h6v5h-6zM292 97h6v5h-6zM388 97h6v5h-6zM466 97h6v5h-6zM772 97h6v5h-6zM382 102h6v5h-6zM670 102h6v5h-6zM772 102h6v5h-6zM844 102h6v5h-6zM298 107h6v5h-6zM352 107h6v5h-6zM670 107h6v5h-6zM784 107h6v5h-6zM532 112h6v5h-6zM310 117h12v5h-12zM328 117h6v5h-6zM538 117h6v5h-6zM592 117h6v5h-6zM826 117h6v5h-6zM556 122h18v5h-18zM670 127h6v5h-6zM826 127h6v5h-6zM844 127h6v5h-6zM826 132h6v5h-6z"/>
<path fill="#ffc100" d="M406 77h48v5h-48zM526 77h6v5h-6zM682 77h6v5h-6zM772 77h6v5h-6zM406 82h48v5h-48zM526 82h6v5h-6zM682 82h6v5h-6zM772 82h6v5h-6zM286 87h6v5h-6zM406 87h54v5h-54zM526 87h6v5h-6zM682 87h6v5h-6zM286 92h6v5h-6zM400 92h6v5h-6zM460 92h6v5h-6zM526 92h6v5h-6zM682 92h6v5h-6zM856 92h6v5h-6zM286 97h6v5h-6zM394 97h6v5h-6zM682 97h6v5h-6zM766 97h6v5h-6zM388 102h6v5h-6zM472 102h6v5h-6zM682 102h6v5h-6zM766 102h6v5h-6zM292 107h6v5h-6zM364 107h18v5h-18zM682 107h6v5h-6zM778 107h6v5h-6zM844 107h6v5h-6zM676 112h6v5h-6zM796 112h6v5h-6zM844 112h6v5h-6zM340 117h6v5h-6zM532 117h6v5h-6zM676 117h6v5h-6zM814 117h6v5h-6zM844 117h6v5h-6zM550 122h6v5h-6zM580 122h18v5h-18zM136 132h12v5h-12zM130 137h6v5h-6zM826 137h6v5h-6zM844 137h6v5h-6zM634 142h6v5h-6z"/>
<path fill="#ffc600" d="M520 77h6v5h-6zM694 77h12v5h-12zM748 77h18v5h-18zM520 82h6v5h-6zM694 82h12v5h-12zM748 82h18v5h-18zM520 87h6v5h-6zM694 87h12v5h-12zM748 87h18v5h-18zM862 87h6v5h-6zM520 92h6v5h-6zM694 92h12v5h-12zM748 92h12v5h-12zM862 92h6v5h-6zM280 97h6v5h-6zM400 97h60v5h-60zM694 97h12v5h-12zM748 97h6v5h-6zM280 102h6v5h-6zM394 102h6v5h-6zM460 102h6v5h-6zM478 102h6v5h-6zM694 102h6v5h-6zM754 102h6v5h-6zM856 102h6v5h-6zM286 107h6v5h-6zM520 107h6v5h-6zM694 107h6v5h-6zM850 107h6v5h-6zM358 112h6v5h-6zM688 112h6v5h-6zM346 117h6v5h-6zM526 117h6v5h-6zM682 117h6v5h-6zM802 117h6v5h-6zM304 122h6v5h-6zM334 122h6v5h-6zM814 122h6v5h-6zM136 127h12v5h-12zM676 127h6v5h-6zM820 127h6v5h-6zM604 132h6v5h-6zM670 132h6v5h-6zM664 137h6v5h-6zM148 142h6v5h-6zM658 142h6v5h-6zM136 147h6v5h-6zM646 147h6v5h-6z"/>
<path fill="#faa000" d="M538 77h6v5h-6zM796 77h6v5h-6zM538 82h6v5h-6zM796 82h6v5h-6zM796 87h6v5h-6zM616 92h6v5h-6zM664 92h6v5h-6zM796 92h6v5h-6zM346 97h6v5h-6zM370 97h12v5h-12zM616 97h6v5h-6zM664 97h6v5h-6zM796 97h6v5h-6zM310 102h6v5h-6zM346 102h6v5h-6zM802 102h6v5h-6zM316 107h6v5h-6zM334 107h6v5h-6zM538 107h6v5h-6zM586 107h6v5h-6zM664 107h6v5h-6zM832 107h6v5h-6zM544 112h6v5h-6zM580 112h6v5h-6zM832 132h12v5h-12z"/>
<path fill="#e43c14" d="M550 77h6v5h-6zM640 77h6v5h-6zM652 77h6v5h-6zM820 77h12v5h-12zM640 82h6v5h-6zM652 82h6v5h-6zM820 82h12v5h-12zM640 87h6v5h-6zM652 87h6v5h-6zM634 92h6v5h-6zM652 92h6v5h-6zM580 97h6v5h-6zM652 97h6v5h-6zM574 107h6v5h-6zM628 107h6v5h-6zM646 137h6v5h-6z"/>
<path fill="#d71c1e" d="M556 77h6v5h-6zM574 92h6v5h-6zM550 97h6v5h-6zM574 102h6v5h-6zM562 107h6v5h-6zM640 112h6v5h-6zM652 112h6v5h-6zM634 117h6v5h-6zM634 122h6v5h-6zM634 127h6v5h-6z"/>
<path fill="#d72330" d="M562 77h6v5h-6zM562 82h6v5h-6zM568 87h6v5h-6zM556 92h6v5h-6zM556 102h6v5h-6z"/>
<path fill="#d7212a" d="M568 77h6v5h-6zM568 82h6v5h-6zM556 87h6v5h-6zM646 117h6v5h-6zM640 122h18v5h-18zM646 127h6v5h-6z"/>
<path fill="#dc291a" d="M574 77h6v5h-6zM574 82h6v5h-6zM550 92h6v5h-6zM550 102h6v5h-6zM556 107h6v5h-6zM652 107h6v5h-6zM658 122h6v5h-6z"/>
<path fill="#eb5310" d="M580 77h6v5h-6zM580 82h6v5h-6zM820 92h12v5h-12zM544 97h6v5h-6zM628 97h6v5h-6zM820 97h6v5h-6zM580 102h6v5h-6zM562 112h6v5h-6zM658 132h6v5h-6zM640 137h6v5h-6z"/>
<path fill="#e74812" d="M634 77h6v5h-6zM634 82h6v5h-6zM580 87h6v5h-6zM634 87h6v5h-6zM820 87h12v5h-12zM580 92h6v5h-6zM826 97h6v5h-6zM628 102h6v5h-6zM550 107h6v5h-6zM658 112h6v5h-6zM652 137h6v5h-6z"/>
<path fill="#e13616" d="M646 77h6v5h-6zM550 82h6v5h-6zM646 82h6v5h-6zM646 87h6v5h-6zM640 92h12v5h-12zM634 97h18v5h-18zM634 102h6v5h-6zM652 102h6v5h-6zM628 112h6v5h-6zM628 127h6v5h-6z"/>
<path fill="#ddc803" d="M880 77h6v5h-6zM880 82h6v5h-6zM196 87h6v5h-6zM880 87h6v5h-6zM136 92h6v5h-6zM166 92h6v5h-6zM880 92h6v5h-6zM880 97h6v5h-6zM172 102h6v5h-6zM250 102h6v5h-6zM880 102h6v5h-6zM130 112h6v5h-6zM214 112h6v5h-6zM268 112h6v5h-6zM742 112h24v5h-24zM874 112h6v5h-6zM208 117h6v5h-6zM274 117h6v5h-6zM508 117h6v5h-6zM124 122h6v5h-6zM364 122h6v5h-6zM376 122h6v5h-6zM724 122h6v5h-6zM868 122h6v5h-6zM178 127h6v5h-6zM286 127h6v5h-6zM346 127h6v5h-6zM532 127h6v5h-6zM790 127h6v5h-6zM862 127h6v5h-6zM166 132h6v5h-6zM562 132h24v5h-24zM700 132h6v5h-6zM796 132h6v5h-6zM160 137h6v5h-6zM856 137h6v5h-6zM154 142h6v5h-6zM850 142h6v5h-6zM820 147h6v5h-6zM646 152h6v5h-6z"/>
<path fill="#9bbc14" d="M892 77h6v5h-6zM892 82h6v5h-6zM130 87h6v5h-6zM892 87h6v5h-6zM184 92h6v5h-6zM892 92h6v5h-6zM178 97h6v5h-6zM238 112h6v5h-6zM256 112h6v5h-6zM226 117h6v5h-6zM898 117h6v5h-6zM112 122h6v5h-6zM220 122h6v5h-6zM742 122h6v5h-6zM898 122h6v5h-6zM496 127h6v5h-6zM736 127h6v5h-6zM778 127h6v5h-6zM904 127h6v5h-6zM94 132h12v5h-12zM274 132h6v5h-6zM520 132h6v5h-6zM730 132h6v5h-6zM784 132h6v5h-6zM904 132h18v5h-18zM544 137h6v5h-6zM724 137h6v5h-6zM904 137h18v5h-18zM172 142h6v5h-6zM706 142h6v5h-6zM718 142h6v5h-6zM892 142h30v5h-30zM106 147h6v5h-6zM598 147h6v5h-6zM148 152h6v5h-6zM622 152h6v5h-6zM658 152h6v5h-6zM646 157h6v5h-6zM802 157h6v5h-6zM838 157h6v5h-6zM820 172h12v5h-12zM118 182h6v5h-6zM136 182h6v5h-6zM106 187h6v5h-6zM142 187h6v5h-6zM94 192h12v5h-12zM100 197h6v5h-6zM106 207h6v5h-6zM142 212h6v5h-6zM112 217h6v5h-6zM136 217h6v5h-6zM124 222h6v5h-6z"/>
<path fill="#5cac1a" d="M898 77h6v5h-6zM898 82h6v5h-6zM898 87h6v5h-6zM112 112h6v5h-6zM904 112h6v5h-6zM910 117h12v5h-12zM214 132h6v5h-6zM268 132h6v5h-6zM382 132h6v5h-6zM472 132h12v5h-12zM778 132h6v5h-6zM274 137h6v5h-6zM322 137h12v5h-12zM514 137h12v5h-12zM190 142h6v5h-6zM544 142h6v5h-6zM172 147h6v5h-6zM580 147h6v5h-6zM682 147h12v5h-12zM700 147h6v5h-6zM724 147h6v5h-6zM160 152h6v5h-6zM592 152h6v5h-6zM664 152h6v5h-6zM706 152h6v5h-6zM790 152h6v5h-6zM136 157h12v5h-12zM616 157h6v5h-6zM850 157h6v5h-6zM862 157h18v5h-18zM628 162h24v5h-24zM838 167h6v5h-6zM118 172h6v5h-6zM130 172h6v5h-6zM106 177h6v5h-6zM808 177h6v5h-6zM148 182h6v5h-6zM148 217h6v5h-6zM100 222h6v5h-6zM124 232h6v5h-6z"/>
<path fill="#2da220" d="M904 77h6v5h-6zM904 82h6v5h-6zM904 87h6v5h-6zM118 97h6v5h-6zM910 102h12v5h-12zM244 122h12v5h-12zM244 127h12v5h-12zM748 132h6v5h-6zM766 132h6v5h-6zM370 137h36v5h-36zM460 137h6v5h-6zM742 137h6v5h-6zM208 142h6v5h-6zM274 142h6v5h-6zM292 142h12v5h-12zM496 142h6v5h-6zM736 142h6v5h-6zM532 147h6v5h-6zM784 147h6v5h-6zM184 152h6v5h-6zM568 152h6v5h-6zM730 152h6v5h-6zM166 157h6v5h-6zM592 157h6v5h-6zM664 157h6v5h-6zM700 157h6v5h-6zM106 162h12v5h-12zM610 162h6v5h-6zM784 162h6v5h-6zM94 167h6v5h-6zM148 167h6v5h-6zM616 167h6v5h-6zM712 167h12v5h-12zM850 167h6v5h-6zM622 172h6v5h-6zM154 177h6v5h-6zM628 177h24v5h-24zM796 177h6v5h-6zM844 177h6v5h-6zM628 182h18v5h-18zM802 182h6v5h-6zM838 182h6v5h-6zM634 187h12v5h-12zM814 187h18v5h-18zM160 192h6v5h-6zM634 192h12v5h-12zM160 197h6v5h-6zM634 197h12v5h-12zM160 202h6v5h-6zM634 202h12v5h-12zM160 207h6v5h-6zM628 207h18v5h-18zM628 212h6v5h-6zM640 212h6v5h-6zM820 222h12v5h-12zM622 227h6v5h-6zM646 227h6v5h-6zM622 232h6v5h-6zM646 232h6v5h-6zM100 237h12v5h-12zM136 237h6v5h-6zM622 237h6v5h-6zM646 237h6v5h-6zM832 237h6v5h-6zM622 242h6v5h-6zM646 242h6v5h-6zM820 247h12v5h-12zM820 252h12v5h-12zM628 257h6v5h-6zM640 257h6v5h-6zM634 262h6v5h-6z"/>
<path fill="#1fa726" d="M916 77h6v5h-6zM916 82h6v5h-6zM916 87h6v5h-6zM112 92h6v5h-6zM106 102h6v5h-6zM244 137h12v5h-12zM220 142h6v5h-6zM268 142h6v5h-6zM430 142h12v5h-12zM454 142h6v5h-6zM754 142h18v5h-18zM214 147h6v5h-6zM274 147h6v5h-6zM292 147h6v5h-6zM352 147h6v5h-6zM388 147h18v5h-18zM748 147h30v5h-30zM208 152h6v5h-6zM358 152h36v5h-36zM472 152h30v5h-30zM748 152h30v5h-30zM202 157h6v5h-6zM364 157h18v5h-18zM508 157h18v5h-18zM562 157h12v5h-12zM748 157h30v5h-30zM196 162h6v5h-6zM364 162h12v5h-12zM598 162h6v5h-6zM688 162h6v5h-6zM736 162h6v5h-6zM778 162h6v5h-6zM190 167h6v5h-6zM364 167h12v5h-12zM658 167h6v5h-6zM700 167h6v5h-6zM184 172h12v5h-12zM364 172h12v5h-12zM724 172h6v5h-6zM862 172h18v5h-18zM178 177h12v5h-12zM364 177h12v5h-12zM706 177h6v5h-6zM718 177h6v5h-6zM856 177h6v5h-6zM892 177h30v5h-30zM172 182h12v5h-12zM364 182h12v5h-12zM712 182h6v5h-6zM790 182h6v5h-6zM850 182h6v5h-6zM172 187h6v5h-6zM364 187h6v5h-6zM616 187h6v5h-6zM652 187h6v5h-6zM844 187h6v5h-6zM172 192h6v5h-6zM616 192h6v5h-6zM652 192h6v5h-6zM796 192h6v5h-6zM172 197h6v5h-6zM652 197h6v5h-6zM802 197h12v5h-12zM838 197h6v5h-6zM172 202h6v5h-6zM808 202h6v5h-6zM838 202h6v5h-6zM808 207h6v5h-6zM838 207h6v5h-6zM166 212h6v5h-6zM808 212h6v5h-6zM838 212h6v5h-6zM616 217h6v5h-6zM808 217h6v5h-6zM838 217h6v5h-6zM616 222h6v5h-6zM616 227h6v5h-6zM652 227h6v5h-6zM154 232h6v5h-6zM616 232h6v5h-6zM652 232h6v5h-6zM616 237h6v5h-6zM652 237h6v5h-6zM616 242h6v5h-6zM652 242h6v5h-6zM94 247h12v5h-12zM130 247h12v5h-12zM616 247h6v5h-6zM94 252h36v5h-36zM808 252h6v5h-6zM838 252h6v5h-6zM808 257h6v5h-6zM838 257h6v5h-6zM814 267h6v5h-6zM622 272h6v5h-6zM646 272h6v5h-6zM814 272h6v5h-6zM832 272h6v5h-6zM622 277h6v5h-6zM646 277h6v5h-6zM814 277h6v5h-6zM832 277h6v5h-6zM628 282h6v5h-6zM640 282h6v5h-6zM820 282h12v5h-12zM628 287h18v5h-18zM820 287h12v5h-12z"/>
<path fill="#d71e24" d="M556 82h6v5h-6zM574 97h6v5h-6zM646 112h6v5h-6zM640 117h6v5h-6zM652 117h6v5h-6zM640 127h6v5h-6zM652 127h6v5h-6zM646 132h6v5h-6z"/>
<path fill="#1ca828" d="M112 87h6v5h-6zM106 97h6v5h-6zM94 102h12v5h-12zM226 142h6v5h-6zM442 142h6v5h-6zM220 147h6v5h-6zM298 147h6v5h-6zM406 147h24v5h-24zM460 147h6v5h-6zM280 152h12v5h-12zM352 152h6v5h-6zM394 152h12v5h-12zM466 152h6v5h-6zM358 157h6v5h-6zM382 157h12v5h-12zM490 157h18v5h-18zM526 157h18v5h-18zM550 157h12v5h-12zM202 162h6v5h-6zM358 162h6v5h-6zM376 162h12v5h-12zM580 162h18v5h-18zM664 162h6v5h-6zM682 162h6v5h-6zM742 162h36v5h-36zM196 167h6v5h-6zM358 167h6v5h-6zM376 167h6v5h-6zM730 167h6v5h-6zM196 172h6v5h-6zM358 172h6v5h-6zM376 172h6v5h-6zM610 172h6v5h-6zM700 172h6v5h-6zM784 172h6v5h-6zM190 177h6v5h-6zM358 177h6v5h-6zM376 177h6v5h-6zM880 177h12v5h-12zM184 182h12v5h-12zM358 182h6v5h-6zM376 182h6v5h-6zM706 182h6v5h-6zM718 182h6v5h-6zM898 182h24v5h-24zM178 187h12v5h-12zM358 187h6v5h-6zM370 187h6v5h-6zM712 187h12v5h-12zM790 187h6v5h-6zM850 187h6v5h-6zM178 192h6v5h-6zM358 192h18v5h-18zM844 192h6v5h-6zM178 197h6v5h-6zM358 197h18v5h-18zM616 197h6v5h-6zM796 197h6v5h-6zM844 197h6v5h-6zM358 202h18v5h-18zM616 202h6v5h-6zM652 202h6v5h-6zM802 202h6v5h-6zM172 207h6v5h-6zM364 207h12v5h-12zM616 207h6v5h-6zM652 207h6v5h-6zM802 207h6v5h-6zM172 212h6v5h-6zM364 212h12v5h-12zM616 212h6v5h-6zM652 212h6v5h-6zM802 212h6v5h-6zM166 217h6v5h-6zM364 217h12v5h-12zM652 217h6v5h-6zM802 217h6v5h-6zM844 217h6v5h-6zM166 222h6v5h-6zM364 222h6v5h-6zM652 222h6v5h-6zM802 222h6v5h-6zM844 222h6v5h-6zM160 227h6v5h-6zM802 227h6v5h-6zM844 227h6v5h-6zM802 232h6v5h-6zM844 232h6v5h-6zM154 237h6v5h-6zM802 237h6v5h-6zM844 237h6v5h-6zM148 242h6v5h-6zM802 242h6v5h-6zM844 242h6v5h-6zM142 247h6v5h-6zM652 247h6v5h-6zM802 247h6v5h-6zM130 252h12v5h-12zM616 252h6v5h-6zM652 252h6v5h-6zM94 257h42v5h-42zM616 257h6v5h-6zM652 257h6v5h-6zM94 262h36v5h-36zM616 262h6v5h-6zM808 262h6v5h-6zM838 262h6v5h-6zM808 267h6v5h-6zM838 267h6v5h-6zM622 282h6v5h-6zM646 282h6v5h-6zM814 282h6v5h-6zM832 282h6v5h-6zM622 287h6v5h-6zM646 287h6v5h-6zM814 287h6v5h-6zM832 287h6v5h-6zM628 292h18v5h-18zM814 292h24v5h-24zM628 297h18v5h-18zM820 297h12v5h-12zM634 302h6v5h-6zM820 302h12v5h-12z"/>
<path fill="#40a61e" d="M124 87h6v5h-6zM904 97h6v5h-6zM112 107h6v5h-6zM910 107h6v5h-6zM244 117h12v5h-12zM232 127h6v5h-6zM220 132h6v5h-6zM418 132h36v5h-36zM772 132h6v5h-6zM358 137h6v5h-6zM472 137h18v5h-18zM202 142h6v5h-6zM526 142h6v5h-6zM190 147h6v5h-6zM550 147h6v5h-6zM172 152h6v5h-6zM580 152h6v5h-6zM694 152h6v5h-6zM112 157h12v5h-12zM154 157h6v5h-6zM604 157h6v5h-6zM130 162h18v5h-18zM616 162h6v5h-6zM712 162h6v5h-6zM850 162h6v5h-6zM862 162h18v5h-18zM112 167h6v5h-6zM136 167h6v5h-6zM622 167h6v5h-6zM790 167h6v5h-6zM844 167h6v5h-6zM94 172h12v5h-12zM796 172h6v5h-6zM802 177h6v5h-6zM832 182h6v5h-6zM154 212h6v5h-6zM634 222h6v5h-6zM634 227h6v5h-6zM106 232h6v5h-6zM628 232h18v5h-18zM118 237h12v5h-12zM628 237h18v5h-18zM628 242h18v5h-18zM634 247h6v5h-6z"/>
<path fill="#df2f18" d="M550 87h6v5h-6zM640 102h12v5h-12zM634 107h6v5h-6zM628 117h6v5h-6zM658 117h6v5h-6zM628 122h6v5h-6zM658 127h6v5h-6zM634 132h6v5h-6z"/>
<path fill="#d72636" d="M562 87h6v5h-6zM568 92h6v5h-6zM556 97h6v5h-6zM568 102h6v5h-6z"/>
<path fill="#da221c" d="M574 87h6v5h-6zM568 107h6v5h-6zM640 107h12v5h-12zM634 112h6v5h-6zM640 132h6v5h-6zM652 132h6v5h-6z"/>
<path fill="#f67e08" d="M586 87h6v5h-6zM586 92h6v5h-6zM808 92h6v5h-6zM622 97h6v5h-6zM622 102h6v5h-6zM832 102h6v5h-6zM544 107h6v5h-6zM580 107h6v5h-6zM550 112h6v5h-6zM574 112h6v5h-6zM664 122h6v5h-6zM634 137h6v5h-6z"/>
<path fill="#26a423" d="M118 92h6v5h-6zM910 92h6v5h-6zM916 97h6v5h-6zM106 107h6v5h-6zM226 137h6v5h-6zM748 137h6v5h-6zM214 142h6v5h-6zM310 142h6v5h-6zM346 142h54v5h-54zM742 142h6v5h-6zM778 142h6v5h-6zM208 147h6v5h-6zM280 147h6v5h-6zM496 147h12v5h-12zM202 152h6v5h-6zM538 152h18v5h-18zM736 152h6v5h-6zM184 157h12v5h-12zM580 157h6v5h-6zM670 157h18v5h-18zM160 162h24v5h-24zM604 162h6v5h-6zM700 162h6v5h-6zM160 167h12v5h-12zM784 167h6v5h-6zM160 172h6v5h-6zM616 172h6v5h-6zM718 172h6v5h-6zM160 177h6v5h-6zM652 177h6v5h-6zM622 182h6v5h-6zM796 182h6v5h-6zM844 182h6v5h-6zM166 187h6v5h-6zM622 187h6v5h-6zM802 187h6v5h-6zM838 187h6v5h-6zM166 192h6v5h-6zM622 192h6v5h-6zM814 192h6v5h-6zM832 192h6v5h-6zM166 197h6v5h-6zM622 197h6v5h-6zM820 197h12v5h-12zM622 202h6v5h-6zM646 202h6v5h-6zM820 202h12v5h-12zM622 207h6v5h-6zM820 207h12v5h-12zM622 212h6v5h-6zM814 212h6v5h-6zM832 212h6v5h-6zM160 217h6v5h-6zM814 217h6v5h-6zM832 217h6v5h-6zM154 227h6v5h-6zM94 242h18v5h-18zM136 242h6v5h-6zM814 252h6v5h-6zM832 252h6v5h-6zM622 257h6v5h-6zM646 257h6v5h-6zM814 257h6v5h-6zM832 257h6v5h-6zM646 262h6v5h-6zM820 262h12v5h-12zM628 267h6v5h-6zM640 267h6v5h-6zM820 267h12v5h-12zM628 272h18v5h-18z"/>
<path fill="#49a81c" d="M124 92h6v5h-6zM118 102h6v5h-6zM904 102h6v5h-6zM916 112h6v5h-6zM256 117h6v5h-6zM232 122h6v5h-6zM262 127h6v5h-6zM754 127h12v5h-12zM394 132h24v5h-24zM454 132h6v5h-6zM742 132h6v5h-6zM208 137h6v5h-6zM346 137h12v5h-12zM490 137h12v5h-12zM736 137h6v5h-6zM532 142h6v5h-6zM730 142h6v5h-6zM184 147h6v5h-6zM556 147h12v5h-12zM166 152h6v5h-6zM586 152h6v5h-6zM688 152h6v5h-6zM700 152h6v5h-6zM724 152h6v5h-6zM124 157h6v5h-6zM148 157h6v5h-6zM706 157h6v5h-6zM718 157h6v5h-6zM886 157h36v5h-36zM652 162h6v5h-6zM118 167h18v5h-18zM628 167h24v5h-24zM106 172h6v5h-6zM142 172h6v5h-6zM148 177h6v5h-6zM838 177h6v5h-6zM814 182h6v5h-6zM154 187h6v5h-6zM154 192h6v5h-6zM154 207h6v5h-6zM148 222h6v5h-6zM94 227h12v5h-12zM112 232h6v5h-6zM136 232h6v5h-6z"/>
<path fill="#bfc40a" d="M172 92h6v5h-6zM172 97h6v5h-6zM886 97h6v5h-6zM886 102h6v5h-6zM250 107h6v5h-6zM886 107h6v5h-6zM262 112h6v5h-6zM886 112h6v5h-6zM742 117h6v5h-6zM766 117h6v5h-6zM886 117h6v5h-6zM118 122h6v5h-6zM502 122h6v5h-6zM778 122h6v5h-6zM886 122h6v5h-6zM358 127h6v5h-6zM784 127h6v5h-6zM886 127h6v5h-6zM112 132h6v5h-6zM292 132h6v5h-6zM328 132h12v5h-12zM538 132h6v5h-6zM880 132h12v5h-12zM112 137h6v5h-6zM580 137h6v5h-6zM682 137h36v5h-36zM874 137h6v5h-6zM160 142h6v5h-6zM802 142h6v5h-6zM868 142h6v5h-6zM808 147h6v5h-6zM850 147h6v5h-6zM634 152h6v5h-6zM814 152h6v5h-6zM838 152h6v5h-6zM118 192h12v5h-12zM124 197h6v5h-6z"/>
<path fill="#d7283c" d="M562 92h6v5h-6zM568 97h6v5h-6zM562 102h6v5h-6z"/>
<path fill="#69af19" d="M898 92h6v5h-6zM124 97h6v5h-6zM898 97h6v5h-6zM118 107h6v5h-6zM106 122h6v5h-6zM226 122h6v5h-6zM220 127h6v5h-6zM742 127h6v5h-6zM772 127h6v5h-6zM364 132h18v5h-18zM484 132h12v5h-12zM736 132h6v5h-6zM202 137h6v5h-6zM526 137h6v5h-6zM730 137h6v5h-6zM784 137h6v5h-6zM550 142h6v5h-6zM790 142h6v5h-6zM670 147h12v5h-12zM94 152h18v5h-18zM598 152h6v5h-6zM718 152h6v5h-6zM886 152h36v5h-36zM622 157h6v5h-6zM790 157h6v5h-6zM838 162h6v5h-6zM802 167h6v5h-6zM124 172h6v5h-6zM808 172h6v5h-6zM142 177h6v5h-6zM832 177h6v5h-6zM94 182h6v5h-6zM94 217h6v5h-6zM106 222h6v5h-6zM142 222h6v5h-6zM112 227h6v5h-6zM136 227h6v5h-6z"/>
<path fill="#75b218" d="M184 97h6v5h-6zM898 102h6v5h-6zM232 117h6v5h-6zM262 117h6v5h-6zM904 117h6v5h-6zM910 122h12v5h-12zM94 127h12v5h-12zM268 127h6v5h-6zM400 127h60v5h-60zM496 132h12v5h-12zM280 137h18v5h-18zM310 137h12v5h-12zM532 137h6v5h-6zM184 142h6v5h-6zM556 142h12v5h-12zM682 142h12v5h-12zM724 142h6v5h-6zM166 147h6v5h-6zM586 147h6v5h-6zM112 152h6v5h-6zM154 152h6v5h-6zM604 152h6v5h-6zM712 152h6v5h-6zM880 152h6v5h-6zM844 157h6v5h-6zM796 162h6v5h-6zM808 167h6v5h-6zM832 167h6v5h-6zM112 177h6v5h-6zM136 177h6v5h-6zM814 177h6v5h-6zM100 182h6v5h-6zM148 187h6v5h-6zM94 212h6v5h-6zM148 212h6v5h-6zM100 217h6v5h-6zM118 227h18v5h-18z"/>
<path fill="#cfc706" d="M196 97h6v5h-6zM178 102h6v5h-6zM130 107h6v5h-6zM238 107h6v5h-6zM256 107h6v5h-6zM880 112h6v5h-6zM124 117h6v5h-6zM214 117h6v5h-6zM400 117h12v5h-12zM454 117h6v5h-6zM478 117h24v5h-24zM736 117h6v5h-6zM772 117h6v5h-6zM880 117h6v5h-6zM730 122h6v5h-6zM118 127h6v5h-6zM196 127h6v5h-6zM280 127h6v5h-6zM352 127h6v5h-6zM874 127h6v5h-6zM178 132h12v5h-12zM304 132h18v5h-18zM550 132h6v5h-6zM712 132h6v5h-6zM868 132h6v5h-6zM166 137h6v5h-6zM676 137h6v5h-6zM862 137h6v5h-6zM118 142h6v5h-6zM604 142h12v5h-12zM808 142h6v5h-6zM856 142h6v5h-6zM124 147h6v5h-6zM628 147h6v5h-6zM814 147h6v5h-6zM640 152h6v5h-6z"/>
<path fill="#d82f43" d="M562 97h6v5h-6z"/>
<path fill="#2aa322" d="M910 97h6v5h-6zM112 102h6v5h-6zM94 112h12v5h-12zM232 132h30v5h-30zM754 132h12v5h-12zM220 137h6v5h-6zM406 137h54v5h-54zM772 137h6v5h-6zM304 142h6v5h-6zM466 142h30v5h-30zM202 147h6v5h-6zM508 147h24v5h-24zM736 147h6v5h-6zM190 152h12v5h-12zM556 152h12v5h-12zM172 157h12v5h-12zM586 157h6v5h-6zM688 157h12v5h-12zM730 157h6v5h-6zM94 162h12v5h-12zM154 162h6v5h-6zM658 162h6v5h-6zM724 162h6v5h-6zM154 167h6v5h-6zM706 167h6v5h-6zM856 167h66v5h-66zM154 172h6v5h-6zM652 172h6v5h-6zM712 172h6v5h-6zM790 172h6v5h-6zM850 172h6v5h-6zM622 177h6v5h-6zM160 182h6v5h-6zM646 182h6v5h-6zM160 187h6v5h-6zM628 187h6v5h-6zM646 187h6v5h-6zM808 187h6v5h-6zM832 187h6v5h-6zM628 192h6v5h-6zM646 192h6v5h-6zM820 192h12v5h-12zM628 197h6v5h-6zM646 197h6v5h-6zM628 202h6v5h-6zM646 207h6v5h-6zM160 212h6v5h-6zM646 212h6v5h-6zM820 212h12v5h-12zM622 217h6v5h-6zM646 217h6v5h-6zM820 217h12v5h-12zM154 222h6v5h-6zM622 222h6v5h-6zM646 222h6v5h-6zM814 222h6v5h-6zM832 222h6v5h-6zM814 227h6v5h-6zM832 227h6v5h-6zM148 232h6v5h-6zM814 232h6v5h-6zM832 232h6v5h-6zM94 237h6v5h-6zM142 237h6v5h-6zM814 237h6v5h-6zM112 242h24v5h-24zM814 242h6v5h-6zM832 242h6v5h-6zM622 247h6v5h-6zM646 247h6v5h-6zM814 247h6v5h-6zM832 247h6v5h-6zM622 252h6v5h-6zM646 252h6v5h-6zM820 257h12v5h-12zM628 262h6v5h-6zM640 262h6v5h-6zM634 267h6v5h-6z"/>
<path fill="#82b616" d="M124 102h6v5h-6zM898 107h6v5h-6zM244 112h12v5h-12zM112 117h6v5h-6zM748 122h18v5h-18zM904 122h6v5h-6zM394 127h6v5h-6zM460 127h6v5h-6zM916 127h6v5h-6zM208 132h6v5h-6zM358 132h6v5h-6zM508 132h6v5h-6zM298 137h12v5h-12zM178 142h6v5h-6zM568 142h12v5h-12zM676 142h6v5h-6zM694 142h6v5h-6zM664 147h6v5h-6zM706 147h6v5h-6zM718 147h6v5h-6zM796 147h6v5h-6zM886 147h36v5h-36zM118 152h6v5h-6zM610 152h12v5h-12zM856 152h24v5h-24zM628 157h6v5h-6zM652 157h6v5h-6zM796 157h6v5h-6zM802 162h12v5h-12zM832 162h6v5h-6zM814 167h18v5h-18zM814 172h6v5h-6zM832 172h6v5h-6zM118 177h18v5h-18zM820 177h12v5h-12zM106 182h6v5h-6zM142 182h6v5h-6zM94 187h6v5h-6zM148 192h6v5h-6zM148 197h6v5h-6zM148 202h6v5h-6zM94 207h6v5h-6zM148 207h6v5h-6zM100 212h6v5h-6zM106 217h6v5h-6zM142 217h6v5h-6zM112 222h6v5h-6zM136 222h6v5h-6z"/>
<path fill="#53aa1b" d="M904 107h6v5h-6zM910 112h6v5h-6zM106 117h6v5h-6zM238 117h6v5h-6zM94 122h12v5h-12zM262 122h6v5h-6zM226 127h6v5h-6zM748 127h6v5h-6zM766 127h6v5h-6zM388 132h6v5h-6zM460 132h12v5h-12zM334 137h6v5h-6zM502 137h12v5h-12zM196 142h6v5h-6zM538 142h6v5h-6zM178 147h6v5h-6zM568 147h12v5h-12zM694 147h6v5h-6zM790 147h6v5h-6zM670 152h18v5h-18zM130 157h6v5h-6zM610 157h6v5h-6zM658 157h6v5h-6zM712 157h6v5h-6zM856 157h6v5h-6zM880 157h6v5h-6zM622 162h6v5h-6zM790 162h6v5h-6zM844 162h6v5h-6zM796 167h6v5h-6zM112 172h6v5h-6zM136 172h6v5h-6zM802 172h6v5h-6zM838 172h6v5h-6zM94 177h12v5h-12zM820 182h12v5h-12zM154 197h6v5h-6zM154 202h6v5h-6zM94 222h6v5h-6zM106 227h6v5h-6zM142 227h6v5h-6zM118 232h6v5h-6zM130 232h6v5h-6z"/>
<path fill="#10b840" d="M340 137h6v5h-6zM238 142h18v5h-18zM316 142h30v5h-30zM448 142h6v5h-6zM232 147h36v5h-36zM304 147h42v5h-42zM436 147h24v5h-24zM232 152h6v5h-6zM268 152h6v5h-6zM304 152h6v5h-6zM346 152h6v5h-6zM430 152h18v5h-18zM454 152h12v5h-12zM274 157h6v5h-6zM346 157h6v5h-6zM430 157h6v5h-6zM460 157h6v5h-6zM274 162h6v5h-6zM346 162h6v5h-6zM460 162h6v5h-6zM346 167h6v5h-6zM280 172h6v5h-6zM346 172h6v5h-6zM352 182h6v5h-6zM352 187h6v5h-6zM658 187h6v5h-6zM352 192h6v5h-6zM658 192h6v5h-6zM352 197h6v5h-6zM658 197h6v5h-6zM352 202h6v5h-6zM658 202h6v5h-6zM352 207h12v5h-12zM658 207h6v5h-6zM352 212h12v5h-12zM658 212h6v5h-6zM352 217h12v5h-12zM658 217h6v5h-6zM352 222h12v5h-12zM658 222h6v5h-6zM352 227h12v5h-12zM658 227h6v5h-6zM178 232h12v5h-12zM352 232h18v5h-18zM658 232h6v5h-6zM784 232h6v5h-6zM856 232h6v5h-6zM172 237h24v5h-24zM352 237h18v5h-18zM658 237h6v5h-6zM856 237h6v5h-6zM166 242h30v5h-30zM352 242h18v5h-18zM658 242h6v5h-6zM856 242h6v5h-6zM166 247h36v5h-36zM352 247h18v5h-18zM658 247h6v5h-6zM790 247h6v5h-6zM856 247h6v5h-6zM160 252h42v5h-42zM352 252h18v5h-18zM658 252h6v5h-6zM790 252h6v5h-6zM856 252h6v5h-6zM160 257h48v5h-48zM352 257h18v5h-18zM610 257h6v5h-6zM658 257h6v5h-6zM790 257h6v5h-6zM160 262h48v5h-48zM352 262h18v5h-18zM610 262h6v5h-6zM790 262h12v5h-12zM160 267h48v5h-48zM352 267h24v5h-24zM610 267h6v5h-6zM790 267h12v5h-12zM160 272h18v5h-18zM184 272h18v5h-18zM352 272h24v5h-24zM610 272h6v5h-6zM790 272h12v5h-12zM850 272h6v5h-6zM154 277h18v5h-18zM352 277h24v5h-24zM610 277h6v5h-6zM796 277h6v5h-6zM850 277h6v5h-6zM154 282h12v5h-12zM352 282h24v5h-24zM610 282h6v5h-6zM796 282h12v5h-12zM154 287h6v5h-6zM352 287h24v5h-24zM610 287h6v5h-6zM796 287h12v5h-12zM154 292h6v5h-6zM352 292h24v5h-24zM610 292h12v5h-12zM796 292h12v5h-12zM154 297h6v5h-6zM352 297h30v5h-30zM610 297h12v5h-12zM652 297h6v5h-6zM718 297h6v5h-6zM796 297h18v5h-18zM352 302h30v5h-30zM610 302h12v5h-12zM652 302h6v5h-6zM712 302h6v5h-6zM802 302h12v5h-12zM352 307h30v5h-30zM610 307h12v5h-12zM652 307h6v5h-6zM802 307h12v5h-12zM844 307h6v5h-6zM148 312h6v5h-6zM352 312h30v5h-30zM616 312h6v5h-6zM652 312h6v5h-6zM802 312h12v5h-12zM844 312h6v5h-6zM148 317h6v5h-6zM358 317h24v5h-24zM616 317h12v5h-12zM652 317h6v5h-6zM802 317h18v5h-18zM148 322h6v5h-6zM358 322h24v5h-24zM616 322h12v5h-12zM652 322h6v5h-6zM802 322h18v5h-18zM838 322h6v5h-6zM94 327h12v5h-12zM358 327h24v5h-24zM616 327h12v5h-12zM802 327h18v5h-18zM838 327h6v5h-6zM94 332h18v5h-18zM142 332h6v5h-6zM358 332h18v5h-18zM616 332h12v5h-12zM646 332h6v5h-6zM802 332h24v5h-24zM832 332h12v5h-12zM136 337h6v5h-6zM622 337h12v5h-12zM646 337h6v5h-6zM808 337h36v5h-36zM622 342h12v5h-12zM640 342h6v5h-6zM808 342h30v5h-30zM808 347h30v5h-30zM814 352h18v5h-18z"/>
<path fill="#16af32" d="M268 147h6v5h-6zM298 152h6v5h-6zM412 157h12v5h-12zM286 162h12v5h-12zM394 162h12v5h-12zM466 162h6v5h-6zM532 162h12v5h-12zM556 162h12v5h-12zM208 167h6v5h-6zM388 167h6v5h-6zM490 167h36v5h-36zM580 167h24v5h-24zM682 167h6v5h-6zM604 172h6v5h-6zM694 172h6v5h-6zM736 172h6v5h-6zM778 172h6v5h-6zM382 177h6v5h-6zM730 177h6v5h-6zM382 182h6v5h-6zM658 182h6v5h-6zM700 182h6v5h-6zM868 182h12v5h-12zM724 187h6v5h-6zM784 187h6v5h-6zM880 187h6v5h-6zM202 192h6v5h-6zM610 192h6v5h-6zM706 192h6v5h-6zM724 192h6v5h-6zM856 192h6v5h-6zM892 192h6v5h-6zM202 197h6v5h-6zM610 197h6v5h-6zM706 197h6v5h-6zM898 197h24v5h-24zM202 202h6v5h-6zM910 202h12v5h-12zM196 207h6v5h-6zM718 207h6v5h-6zM196 212h6v5h-6zM718 212h6v5h-6zM790 212h6v5h-6zM190 217h12v5h-12zM718 217h6v5h-6zM790 217h6v5h-6zM184 222h18v5h-18zM718 222h6v5h-6zM790 222h6v5h-6zM178 227h18v5h-18zM712 227h12v5h-12zM790 227h6v5h-6zM172 232h6v5h-6zM712 232h6v5h-6zM790 232h6v5h-6zM166 237h6v5h-6zM712 237h6v5h-6zM376 242h6v5h-6zM712 242h6v5h-6zM160 247h6v5h-6zM376 247h6v5h-6zM712 247h6v5h-6zM154 252h6v5h-6zM376 252h6v5h-6zM712 252h6v5h-6zM850 252h6v5h-6zM148 257h12v5h-12zM376 257h6v5h-6zM712 257h6v5h-6zM796 257h6v5h-6zM148 262h6v5h-6zM376 262h6v5h-6zM148 267h6v5h-6zM376 267h6v5h-6zM142 272h6v5h-6zM376 272h6v5h-6zM844 272h6v5h-6zM142 277h6v5h-6zM376 277h6v5h-6zM802 277h6v5h-6zM844 277h6v5h-6zM142 282h6v5h-6zM376 282h6v5h-6zM136 287h12v5h-12zM376 287h6v5h-6zM652 287h6v5h-6zM94 292h48v5h-48zM376 292h6v5h-6zM652 292h6v5h-6zM94 297h48v5h-48zM838 302h6v5h-6zM838 307h6v5h-6zM646 312h6v5h-6zM646 317h6v5h-6zM640 322h6v5h-6zM832 322h6v5h-6zM628 327h18v5h-18zM832 327h6v5h-6zM826 332h6v5h-6z"/>
<path fill="#14b235" d="M226 152h6v5h-6zM220 157h6v5h-6zM298 157h6v5h-6zM424 157h6v5h-6zM214 162h12v5h-12zM280 162h6v5h-6zM298 162h6v5h-6zM406 162h18v5h-18zM544 162h12v5h-12zM214 167h6v5h-6zM280 167h24v5h-24zM394 167h30v5h-30zM466 167h24v5h-24zM526 167h54v5h-54zM664 167h18v5h-18zM208 172h12v5h-12zM286 172h18v5h-18zM388 172h24v5h-24zM466 172h72v5h-72zM550 172h54v5h-54zM664 172h30v5h-30zM742 172h36v5h-36zM208 177h12v5h-12zM286 177h18v5h-18zM388 177h18v5h-18zM466 177h60v5h-60zM562 177h48v5h-48zM664 177h36v5h-36zM736 177h48v5h-48zM208 182h6v5h-6zM286 182h12v5h-12zM388 182h12v5h-12zM472 182h48v5h-48zM568 182h42v5h-42zM664 182h36v5h-36zM730 182h54v5h-54zM208 187h6v5h-6zM382 187h18v5h-18zM478 187h12v5h-12zM574 187h36v5h-36zM688 187h18v5h-18zM730 187h54v5h-54zM862 187h18v5h-18zM208 192h6v5h-6zM382 192h18v5h-18zM574 192h36v5h-36zM694 192h12v5h-12zM730 192h60v5h-60zM862 192h30v5h-30zM208 197h6v5h-6zM382 197h12v5h-12zM574 197h36v5h-36zM694 197h12v5h-12zM724 197h66v5h-66zM856 197h42v5h-42zM208 202h6v5h-6zM382 202h12v5h-12zM580 202h36v5h-36zM694 202h18v5h-18zM724 202h24v5h-24zM766 202h24v5h-24zM856 202h12v5h-12zM874 202h36v5h-36zM202 207h12v5h-12zM382 207h12v5h-12zM580 207h12v5h-12zM610 207h6v5h-6zM694 207h18v5h-18zM724 207h18v5h-18zM772 207h18v5h-18zM856 207h6v5h-6zM880 207h42v5h-42zM202 212h12v5h-12zM382 212h12v5h-12zM580 212h12v5h-12zM610 212h6v5h-6zM694 212h18v5h-18zM724 212h12v5h-12zM778 212h12v5h-12zM856 212h6v5h-6zM880 212h42v5h-42zM202 217h12v5h-12zM382 217h12v5h-12zM580 217h12v5h-12zM610 217h6v5h-6zM700 217h12v5h-12zM724 217h12v5h-12zM778 217h12v5h-12zM856 217h6v5h-6zM886 217h36v5h-36zM202 222h12v5h-12zM382 222h12v5h-12zM580 222h6v5h-6zM610 222h6v5h-6zM700 222h12v5h-12zM724 222h12v5h-12zM784 222h6v5h-6zM856 222h6v5h-6zM886 222h36v5h-36zM196 227h18v5h-18zM382 227h12v5h-12zM580 227h6v5h-6zM610 227h6v5h-6zM700 227h12v5h-12zM724 227h6v5h-6zM784 227h6v5h-6zM856 227h6v5h-6zM886 227h36v5h-36zM190 232h24v5h-24zM382 232h12v5h-12zM580 232h6v5h-6zM610 232h6v5h-6zM700 232h12v5h-12zM718 232h12v5h-12zM892 232h30v5h-30zM196 237h18v5h-18zM382 237h12v5h-12zM580 237h6v5h-6zM610 237h6v5h-6zM700 237h12v5h-12zM718 237h12v5h-12zM790 237h6v5h-6zM892 237h30v5h-30zM196 242h18v5h-18zM382 242h12v5h-12zM580 242h6v5h-6zM610 242h6v5h-6zM700 242h12v5h-12zM718 242h12v5h-12zM790 242h6v5h-6zM898 242h24v5h-24zM202 247h6v5h-6zM382 247h12v5h-12zM610 247h6v5h-6zM700 247h12v5h-12zM718 247h12v5h-12zM898 247h24v5h-24zM202 252h6v5h-6zM382 252h6v5h-6zM610 252h6v5h-6zM700 252h12v5h-12zM718 252h12v5h-12zM904 252h18v5h-18zM382 257h6v5h-6zM706 257h6v5h-6zM718 257h12v5h-12zM850 257h6v5h-6zM154 262h6v5h-6zM382 262h6v5h-6zM706 262h24v5h-24zM850 262h6v5h-6zM154 267h6v5h-6zM382 267h6v5h-6zM706 267h18v5h-18zM850 267h6v5h-6zM148 272h12v5h-12zM382 272h6v5h-6zM706 272h18v5h-18zM148 277h6v5h-6zM382 277h6v5h-6zM706 277h18v5h-18zM148 282h6v5h-6zM382 282h6v5h-6zM712 282h12v5h-12zM844 282h6v5h-6zM148 287h6v5h-6zM382 287h6v5h-6zM712 287h12v5h-12zM844 287h6v5h-6zM142 292h12v5h-12zM382 292h6v5h-6zM712 292h12v5h-12zM844 292h6v5h-6zM142 297h12v5h-12zM382 297h6v5h-6zM712 297h6v5h-6zM844 297h6v5h-6zM94 302h60v5h-60zM382 302h6v5h-6zM844 302h6v5h-6zM94 307h60v5h-60zM94 312h54v5h-54zM838 312h6v5h-6zM94 317h54v5h-54zM838 317h6v5h-6zM94 322h54v5h-54zM646 322h6v5h-6zM106 327h42v5h-42zM646 327h6v5h-6zM112 332h30v5h-30zM628 332h18v5h-18zM124 337h12v5h-12zM634 337h12v5h-12zM634 342h6v5h-6z"/>
<path fill="#0dbf4f" d="M238 152h6v5h-6zM268 157h6v5h-6zM304 157h6v5h-6zM430 162h6v5h-6zM220 167h6v5h-6zM274 167h6v5h-6zM412 172h6v5h-6zM538 172h6v5h-6zM526 177h6v5h-6zM280 182h6v5h-6zM520 182h6v5h-6zM292 187h6v5h-6zM514 187h6v5h-6zM286 192h6v5h-6zM346 192h6v5h-6zM484 192h6v5h-6zM508 192h12v5h-12zM214 197h6v5h-6zM286 197h6v5h-6zM346 197h6v5h-6zM484 197h30v5h-30zM214 202h6v5h-6zM286 202h6v5h-6zM346 202h6v5h-6zM484 202h30v5h-30zM574 202h6v5h-6zM214 207h6v5h-6zM346 207h6v5h-6zM490 207h24v5h-24zM574 207h6v5h-6zM604 207h6v5h-6zM214 212h6v5h-6zM346 212h6v5h-6zM490 212h18v5h-18zM604 212h6v5h-6zM862 212h6v5h-6zM346 217h6v5h-6zM490 217h18v5h-18zM604 217h6v5h-6zM862 217h6v5h-6zM346 222h6v5h-6zM496 222h6v5h-6zM604 222h6v5h-6zM862 222h6v5h-6zM604 227h6v5h-6zM862 227h6v5h-6zM586 242h6v5h-6zM586 247h6v5h-6zM580 252h6v5h-6zM784 252h6v5h-6zM784 257h6v5h-6zM208 262h6v5h-6zM784 262h6v5h-6zM208 267h6v5h-6zM724 267h6v5h-6zM856 267h6v5h-6zM208 272h6v5h-6zM724 272h6v5h-6zM208 277h6v5h-6zM202 282h6v5h-6zM658 282h6v5h-6zM178 287h6v5h-6zM202 287h6v5h-6zM658 287h6v5h-6zM790 287h6v5h-6zM172 292h36v5h-36zM658 292h6v5h-6zM706 292h6v5h-6zM790 292h6v5h-6zM850 292h6v5h-6zM166 297h42v5h-42zM658 297h6v5h-6zM706 297h6v5h-6zM850 297h6v5h-6zM166 302h36v5h-36zM160 307h42v5h-42zM160 312h18v5h-18zM718 312h6v5h-6zM796 312h6v5h-6zM160 317h12v5h-12zM712 317h6v5h-6zM796 317h6v5h-6zM160 322h12v5h-12zM712 322h6v5h-6zM796 322h6v5h-6zM154 327h12v5h-12zM352 327h6v5h-6zM610 327h6v5h-6zM844 327h6v5h-6zM154 332h12v5h-12zM610 332h6v5h-6zM844 332h6v5h-6zM154 337h12v5h-12zM376 337h6v5h-6zM652 337h6v5h-6zM148 342h12v5h-12zM364 342h12v5h-12zM148 347h12v5h-12zM616 347h6v5h-6zM646 347h6v5h-6zM802 347h6v5h-6zM130 352h30v5h-30zM622 352h24v5h-24zM838 352h6v5h-6zM94 357h60v5h-60zM838 357h6v5h-6zM94 362h42v5h-42zM808 362h6v5h-6zM826 362h12v5h-12zM94 367h36v5h-36zM808 367h24v5h-24zM814 372h18v5h-18z"/>
<path fill="#0cc257" d="M244 152h6v5h-6zM262 152h6v5h-6zM316 152h6v5h-6zM334 152h6v5h-6zM340 157h6v5h-6zM442 157h12v5h-12zM226 162h6v5h-6zM304 162h6v5h-6zM454 162h6v5h-6zM220 172h6v5h-6zM274 172h6v5h-6zM418 172h6v5h-6zM460 172h6v5h-6zM544 172h6v5h-6zM220 177h6v5h-6zM532 177h6v5h-6zM220 182h6v5h-6zM466 182h6v5h-6zM526 182h6v5h-6zM280 187h6v5h-6zM472 187h6v5h-6zM520 187h6v5h-6zM280 192h6v5h-6zM292 192h6v5h-6zM478 192h6v5h-6zM520 192h6v5h-6zM280 197h6v5h-6zM292 197h6v5h-6zM478 197h6v5h-6zM514 197h6v5h-6zM280 202h6v5h-6zM292 202h6v5h-6zM514 202h6v5h-6zM868 202h6v5h-6zM286 207h6v5h-6zM484 207h6v5h-6zM514 207h6v5h-6zM592 207h6v5h-6zM868 207h12v5h-12zM286 212h6v5h-6zM484 212h6v5h-6zM508 212h12v5h-12zM574 212h6v5h-6zM868 212h12v5h-12zM214 217h6v5h-6zM286 217h6v5h-6zM484 217h6v5h-6zM508 217h6v5h-6zM574 217h6v5h-6zM880 217h6v5h-6zM214 222h6v5h-6zM484 222h12v5h-12zM502 222h12v5h-12zM574 222h6v5h-6zM778 222h6v5h-6zM880 222h6v5h-6zM214 227h6v5h-6zM346 227h6v5h-6zM484 227h30v5h-30zM574 227h6v5h-6zM730 227h6v5h-6zM214 232h6v5h-6zM346 232h6v5h-6zM484 232h30v5h-30zM574 232h6v5h-6zM604 232h6v5h-6zM730 232h6v5h-6zM862 232h6v5h-6zM886 232h6v5h-6zM214 237h6v5h-6zM346 237h6v5h-6zM484 237h30v5h-30zM574 237h6v5h-6zM604 237h6v5h-6zM862 237h6v5h-6zM214 242h6v5h-6zM346 242h6v5h-6zM484 242h30v5h-30zM604 242h6v5h-6zM862 242h6v5h-6zM346 247h6v5h-6zM490 247h24v5h-24zM604 247h6v5h-6zM862 247h6v5h-6zM490 252h12v5h-12zM586 252h6v5h-6zM604 252h6v5h-6zM580 257h12v5h-12zM604 257h6v5h-6zM604 262h6v5h-6zM604 267h6v5h-6zM784 267h6v5h-6zM604 272h6v5h-6zM784 272h6v5h-6zM856 272h6v5h-6zM604 277h6v5h-6zM724 277h6v5h-6zM784 277h6v5h-6zM208 282h6v5h-6zM604 282h6v5h-6zM724 282h6v5h-6zM208 287h6v5h-6zM724 287h6v5h-6zM208 292h6v5h-6zM724 292h6v5h-6zM208 297h6v5h-6zM790 297h6v5h-6zM202 302h12v5h-12zM658 302h6v5h-6zM706 302h6v5h-6zM790 302h6v5h-6zM850 302h6v5h-6zM202 307h6v5h-6zM658 307h6v5h-6zM706 307h6v5h-6zM850 307h6v5h-6zM178 312h30v5h-30zM172 317h36v5h-36zM718 317h6v5h-6zM172 322h36v5h-36zM718 322h6v5h-6zM166 327h42v5h-42zM712 327h6v5h-6zM796 327h6v5h-6zM166 332h36v5h-36zM352 332h6v5h-6zM796 332h6v5h-6zM166 337h36v5h-36zM610 337h6v5h-6zM844 337h6v5h-6zM160 342h42v5h-42zM358 342h6v5h-6zM376 342h6v5h-6zM652 342h6v5h-6zM844 342h6v5h-6zM160 347h18v5h-18zM364 347h12v5h-12zM652 347h6v5h-6zM160 352h18v5h-18zM616 352h6v5h-6zM646 352h6v5h-6zM802 352h6v5h-6zM154 357h18v5h-18zM622 357h24v5h-24zM802 357h6v5h-6zM136 362h36v5h-36zM838 362h6v5h-6zM130 367h36v5h-36zM832 367h6v5h-6zM94 372h42v5h-42zM808 372h6v5h-6zM832 372h6v5h-6zM94 377h18v5h-18zM808 377h30v5h-30zM808 382h24v5h-24zM814 387h18v5h-18zM814 392h12v5h-12z"/>
<path fill="#0ac65f" d="M250 152h12v5h-12zM322 152h12v5h-12zM232 157h6v5h-6zM310 157h6v5h-6zM268 162h6v5h-6zM436 162h6v5h-6zM226 167h6v5h-6zM424 167h6v5h-6zM454 167h6v5h-6zM274 177h6v5h-6zM406 177h12v5h-12zM460 177h6v5h-6zM538 177h24v5h-24zM298 182h6v5h-6zM532 182h6v5h-6zM220 187h6v5h-6zM466 187h6v5h-6zM526 187h6v5h-6zM664 187h6v5h-6zM220 192h6v5h-6zM472 192h6v5h-6zM688 192h6v5h-6zM220 197h6v5h-6zM520 197h6v5h-6zM478 202h6v5h-6zM280 207h6v5h-6zM292 207h6v5h-6zM478 207h6v5h-6zM280 212h6v5h-6zM292 212h6v5h-6zM478 212h6v5h-6zM592 212h6v5h-6zM736 212h6v5h-6zM280 217h6v5h-6zM478 217h6v5h-6zM514 217h6v5h-6zM592 217h6v5h-6zM736 217h6v5h-6zM868 217h12v5h-12zM280 222h12v5h-12zM478 222h6v5h-6zM514 222h6v5h-6zM592 222h6v5h-6zM868 222h12v5h-12zM280 227h12v5h-12zM478 227h6v5h-6zM514 227h6v5h-6zM592 227h6v5h-6zM778 227h6v5h-6zM880 227h6v5h-6zM286 232h6v5h-6zM514 232h6v5h-6zM592 232h6v5h-6zM778 232h6v5h-6zM880 232h6v5h-6zM514 237h6v5h-6zM592 237h6v5h-6zM730 237h6v5h-6zM778 237h6v5h-6zM886 237h6v5h-6zM514 242h6v5h-6zM574 242h6v5h-6zM592 242h6v5h-6zM730 242h6v5h-6zM778 242h6v5h-6zM892 242h6v5h-6zM214 247h6v5h-6zM484 247h6v5h-6zM574 247h6v5h-6zM592 247h6v5h-6zM778 247h6v5h-6zM214 252h6v5h-6zM346 252h6v5h-6zM484 252h6v5h-6zM502 252h12v5h-12zM862 252h6v5h-6zM214 257h6v5h-6zM346 257h6v5h-6zM484 257h30v5h-30zM700 257h6v5h-6zM214 262h6v5h-6zM346 262h6v5h-6zM490 262h18v5h-18zM580 262h12v5h-12zM700 262h6v5h-6zM214 267h6v5h-6zM346 267h6v5h-6zM580 267h12v5h-12zM700 267h6v5h-6zM214 272h6v5h-6zM580 272h6v5h-6zM700 272h6v5h-6zM214 277h6v5h-6zM856 277h6v5h-6zM214 282h6v5h-6zM784 282h6v5h-6zM856 282h6v5h-6zM214 287h6v5h-6zM604 287h6v5h-6zM784 287h6v5h-6zM214 292h6v5h-6zM604 292h6v5h-6zM604 297h6v5h-6zM724 297h6v5h-6zM604 302h6v5h-6zM724 302h6v5h-6zM208 307h6v5h-6zM382 307h6v5h-6zM604 307h6v5h-6zM790 307h6v5h-6zM208 312h6v5h-6zM382 312h6v5h-6zM658 312h6v5h-6zM706 312h6v5h-6zM790 312h6v5h-6zM850 312h6v5h-6zM208 317h6v5h-6zM382 317h6v5h-6zM658 317h6v5h-6zM706 317h6v5h-6zM850 317h6v5h-6zM208 322h6v5h-6zM658 322h6v5h-6zM208 327h6v5h-6zM718 327h6v5h-6zM202 332h12v5h-12zM712 332h12v5h-12zM202 337h6v5h-6zM352 337h6v5h-6zM796 337h6v5h-6zM202 342h6v5h-6zM610 342h6v5h-6zM796 342h6v5h-6zM178 347h30v5h-30zM358 347h6v5h-6zM376 347h6v5h-6zM610 347h6v5h-6zM844 347h6v5h-6zM178 352h30v5h-30zM364 352h12v5h-12zM652 352h6v5h-6zM844 352h6v5h-6zM172 357h36v5h-36zM616 357h6v5h-6zM646 357h12v5h-12zM172 362h36v5h-36zM622 362h30v5h-30zM802 362h6v5h-6zM166 367h36v5h-36zM802 367h6v5h-6zM838 367h6v5h-6zM136 372h66v5h-66zM802 372h6v5h-6zM838 372h6v5h-6zM112 377h54v5h-54zM190 377h12v5h-12zM838 377h6v5h-6zM94 382h30v5h-30zM832 382h6v5h-6zM808 387h6v5h-6zM832 387h6v5h-6zM808 392h6v5h-6zM826 392h12v5h-12zM808 397h30v5h-30zM808 402h24v5h-24zM814 407h18v5h-18z"/>
<path fill="#0fbb48" d="M310 152h6v5h-6zM340 152h6v5h-6zM448 152h6v5h-6zM226 157h6v5h-6zM436 157h6v5h-6zM454 157h6v5h-6zM424 162h6v5h-6zM460 167h6v5h-6zM280 177h6v5h-6zM346 177h6v5h-6zM214 182h6v5h-6zM346 182h6v5h-6zM214 187h6v5h-6zM286 187h6v5h-6zM346 187h6v5h-6zM490 187h24v5h-24zM214 192h6v5h-6zM490 192h18v5h-18zM862 207h6v5h-6zM586 222h6v5h-6zM586 227h6v5h-6zM586 232h6v5h-6zM586 237h6v5h-6zM784 237h6v5h-6zM784 242h6v5h-6zM208 247h6v5h-6zM580 247h6v5h-6zM784 247h6v5h-6zM208 252h6v5h-6zM208 257h6v5h-6zM856 257h6v5h-6zM658 262h6v5h-6zM856 262h6v5h-6zM658 267h6v5h-6zM178 272h6v5h-6zM202 272h6v5h-6zM658 272h6v5h-6zM172 277h36v5h-36zM658 277h6v5h-6zM790 277h6v5h-6zM166 282h36v5h-36zM706 282h6v5h-6zM790 282h6v5h-6zM850 282h6v5h-6zM160 287h18v5h-18zM184 287h18v5h-18zM706 287h6v5h-6zM850 287h6v5h-6zM160 292h12v5h-12zM160 297h6v5h-6zM154 302h12v5h-12zM718 302h6v5h-6zM796 302h6v5h-6zM154 307h6v5h-6zM712 307h12v5h-12zM796 307h6v5h-6zM154 312h6v5h-6zM610 312h6v5h-6zM712 312h6v5h-6zM154 317h6v5h-6zM352 317h6v5h-6zM610 317h6v5h-6zM844 317h6v5h-6zM154 322h6v5h-6zM352 322h6v5h-6zM610 322h6v5h-6zM844 322h6v5h-6zM148 327h6v5h-6zM652 327h6v5h-6zM148 332h6v5h-6zM376 332h6v5h-6zM652 332h6v5h-6zM94 337h30v5h-30zM142 337h12v5h-12zM358 337h18v5h-18zM616 337h6v5h-6zM802 337h6v5h-6zM94 342h54v5h-54zM616 342h6v5h-6zM646 342h6v5h-6zM802 342h6v5h-6zM838 342h6v5h-6zM94 347h54v5h-54zM622 347h24v5h-24zM838 347h6v5h-6zM94 352h36v5h-36zM808 352h6v5h-6zM832 352h6v5h-6zM808 357h30v5h-30zM814 362h12v5h-12z"/>
<path fill="#0ac868" d="M238 157h6v5h-6zM262 157h6v5h-6zM340 162h6v5h-6zM442 162h12v5h-12zM304 167h6v5h-6zM430 167h6v5h-6zM226 172h6v5h-6zM424 172h6v5h-6zM454 172h6v5h-6zM418 177h6v5h-6zM274 182h6v5h-6zM400 182h12v5h-12zM460 182h6v5h-6zM274 187h6v5h-6zM298 187h6v5h-6zM568 187h6v5h-6zM682 187h6v5h-6zM526 192h6v5h-6zM664 192h6v5h-6zM472 197h6v5h-6zM664 197h6v5h-6zM688 197h6v5h-6zM220 202h6v5h-6zM520 202h6v5h-6zM664 202h6v5h-6zM748 202h6v5h-6zM220 207h6v5h-6zM520 207h6v5h-6zM598 207h6v5h-6zM664 207h6v5h-6zM742 207h6v5h-6zM220 212h6v5h-6zM520 212h6v5h-6zM598 212h6v5h-6zM742 212h6v5h-6zM772 212h6v5h-6zM220 217h6v5h-6zM292 217h6v5h-6zM520 217h6v5h-6zM598 217h6v5h-6zM694 217h6v5h-6zM292 222h6v5h-6zM520 222h6v5h-6zM598 222h6v5h-6zM694 222h6v5h-6zM736 222h6v5h-6zM292 227h6v5h-6zM598 227h6v5h-6zM694 227h6v5h-6zM736 227h6v5h-6zM868 227h12v5h-12zM280 232h6v5h-6zM478 232h6v5h-6zM598 232h6v5h-6zM694 232h6v5h-6zM736 232h6v5h-6zM868 232h12v5h-12zM280 237h12v5h-12zM478 237h6v5h-6zM598 237h6v5h-6zM868 237h6v5h-6zM880 237h6v5h-6zM280 242h12v5h-12zM478 242h6v5h-6zM598 242h6v5h-6zM880 242h12v5h-12zM280 247h12v5h-12zM478 247h6v5h-6zM514 247h6v5h-6zM598 247h6v5h-6zM730 247h6v5h-6zM886 247h12v5h-12zM280 252h12v5h-12zM478 252h6v5h-6zM514 252h6v5h-6zM574 252h6v5h-6zM592 252h12v5h-12zM730 252h6v5h-6zM778 252h6v5h-6zM892 252h12v5h-12zM280 257h12v5h-12zM574 257h6v5h-6zM592 257h12v5h-12zM730 257h6v5h-6zM778 257h6v5h-6zM862 257h6v5h-6zM904 257h18v5h-18zM280 262h12v5h-12zM484 262h6v5h-6zM508 262h6v5h-6zM592 262h6v5h-6zM730 262h6v5h-6zM778 262h6v5h-6zM862 262h6v5h-6zM484 267h30v5h-30zM346 272h6v5h-6zM484 272h24v5h-24zM586 272h6v5h-6zM346 277h6v5h-6zM490 277h6v5h-6zM580 277h12v5h-12zM700 277h6v5h-6zM346 282h6v5h-6zM580 282h12v5h-12zM700 282h6v5h-6zM346 287h6v5h-6zM580 287h12v5h-12zM700 287h6v5h-6zM856 287h6v5h-6zM700 292h6v5h-6zM784 292h6v5h-6zM856 292h6v5h-6zM214 297h6v5h-6zM784 297h6v5h-6zM214 302h6v5h-6zM214 307h6v5h-6zM724 307h6v5h-6zM214 312h6v5h-6zM604 312h6v5h-6zM724 312h6v5h-6zM214 317h6v5h-6zM604 317h6v5h-6zM724 317h6v5h-6zM790 317h6v5h-6zM214 322h6v5h-6zM382 322h6v5h-6zM604 322h6v5h-6zM706 322h6v5h-6zM790 322h6v5h-6zM850 322h6v5h-6zM214 327h6v5h-6zM382 327h6v5h-6zM604 327h6v5h-6zM658 327h6v5h-6zM706 327h6v5h-6zM850 327h6v5h-6zM658 332h6v5h-6zM208 337h6v5h-6zM658 337h6v5h-6zM712 337h12v5h-12zM208 342h6v5h-6zM352 342h6v5h-6zM658 342h6v5h-6zM208 347h6v5h-6zM796 347h6v5h-6zM208 352h6v5h-6zM358 352h6v5h-6zM610 352h6v5h-6zM208 357h6v5h-6zM364 357h12v5h-12zM844 357h6v5h-6zM208 362h6v5h-6zM616 362h6v5h-6zM652 362h6v5h-6zM202 367h12v5h-12zM616 367h36v5h-36zM202 372h6v5h-6zM622 372h30v5h-30zM166 377h24v5h-24zM202 377h6v5h-6zM802 377h6v5h-6zM124 382h84v5h-84zM802 382h6v5h-6zM838 382h6v5h-6zM94 387h36v5h-36zM172 387h36v5h-36zM802 387h6v5h-6zM838 387h6v5h-6zM94 392h12v5h-12zM184 392h24v5h-24zM838 392h6v5h-6zM190 397h12v5h-12zM832 402h6v5h-6zM808 407h6v5h-6zM832 407h6v5h-6zM808 412h30v5h-30zM808 417h24v5h-24zM808 422h24v5h-24zM808 427h24v5h-24z"/>
<path fill="#0acc7b" d="M244 157h18v5h-18zM322 157h12v5h-12zM238 162h6v5h-6zM262 162h6v5h-6zM232 167h6v5h-6zM310 167h6v5h-6zM442 167h6v5h-6zM232 172h6v5h-6zM268 172h6v5h-6zM430 172h12v5h-12zM448 172h6v5h-6zM304 177h6v5h-6zM340 177h6v5h-6zM424 177h6v5h-6zM454 177h6v5h-6zM418 182h6v5h-6zM226 187h6v5h-6zM406 187h12v5h-12zM460 187h6v5h-6zM538 187h6v5h-6zM562 187h6v5h-6zM226 192h6v5h-6zM532 192h6v5h-6zM670 192h6v5h-6zM226 197h6v5h-6zM298 197h6v5h-6zM466 197h6v5h-6zM568 197h6v5h-6zM670 197h12v5h-12zM298 202h6v5h-6zM466 202h6v5h-6zM568 202h6v5h-6zM670 202h18v5h-18zM760 202h6v5h-6zM526 207h6v5h-6zM568 207h6v5h-6zM670 207h6v5h-6zM682 207h6v5h-6zM754 207h18v5h-18zM526 212h6v5h-6zM568 212h6v5h-6zM682 212h6v5h-6zM754 212h6v5h-6zM766 212h6v5h-6zM526 217h6v5h-6zM688 217h6v5h-6zM748 217h6v5h-6zM274 222h6v5h-6zM526 222h6v5h-6zM688 222h6v5h-6zM748 222h6v5h-6zM274 227h6v5h-6zM688 227h6v5h-6zM274 232h6v5h-6zM472 232h6v5h-6zM688 232h6v5h-6zM742 232h6v5h-6zM772 232h6v5h-6zM274 237h6v5h-6zM472 237h6v5h-6zM688 237h6v5h-6zM742 237h6v5h-6zM772 237h6v5h-6zM274 242h6v5h-6zM472 242h6v5h-6zM772 242h6v5h-6zM220 247h6v5h-6zM274 247h6v5h-6zM292 247h6v5h-6zM472 247h6v5h-6zM736 247h6v5h-6zM772 247h6v5h-6zM874 247h6v5h-6zM220 252h6v5h-6zM274 252h6v5h-6zM292 252h6v5h-6zM472 252h6v5h-6zM520 252h6v5h-6zM736 252h6v5h-6zM868 252h12v5h-12zM220 257h6v5h-6zM274 257h6v5h-6zM292 257h6v5h-6zM520 257h6v5h-6zM736 257h6v5h-6zM868 257h6v5h-6zM880 257h6v5h-6zM220 262h6v5h-6zM274 262h6v5h-6zM292 262h6v5h-6zM694 262h6v5h-6zM880 262h12v5h-12zM274 267h6v5h-6zM292 267h6v5h-6zM514 267h6v5h-6zM694 267h6v5h-6zM886 267h36v5h-36zM274 272h6v5h-6zM478 272h6v5h-6zM514 272h6v5h-6zM574 272h6v5h-6zM694 272h6v5h-6zM892 272h30v5h-30zM274 277h6v5h-6zM478 277h6v5h-6zM574 277h6v5h-6zM664 277h6v5h-6zM694 277h6v5h-6zM862 277h6v5h-6zM274 282h6v5h-6zM478 282h6v5h-6zM508 282h6v5h-6zM574 282h6v5h-6zM664 282h6v5h-6zM694 282h6v5h-6zM274 287h6v5h-6zM502 287h12v5h-12zM574 287h6v5h-6zM664 287h6v5h-6zM694 287h6v5h-6zM730 287h6v5h-6zM778 287h6v5h-6zM274 292h6v5h-6zM484 292h24v5h-24zM664 292h6v5h-6zM730 292h6v5h-6zM778 292h6v5h-6zM274 297h6v5h-6zM484 297h24v5h-24zM592 297h6v5h-6zM664 297h6v5h-6zM730 297h6v5h-6zM274 302h6v5h-6zM490 302h12v5h-12zM592 302h12v5h-12zM664 302h6v5h-6zM220 307h6v5h-6zM274 307h6v5h-6zM346 307h6v5h-6zM580 307h6v5h-6zM592 307h12v5h-12zM664 307h6v5h-6zM856 307h6v5h-6zM220 312h6v5h-6zM274 312h6v5h-6zM346 312h6v5h-6zM580 312h24v5h-24zM664 312h6v5h-6zM700 312h6v5h-6zM784 312h6v5h-6zM856 312h6v5h-6zM220 317h6v5h-6zM274 317h6v5h-6zM286 317h6v5h-6zM580 317h24v5h-24zM700 317h6v5h-6zM784 317h6v5h-6zM220 322h6v5h-6zM274 322h6v5h-6zM286 322h6v5h-6zM586 322h6v5h-6zM598 322h6v5h-6zM700 322h6v5h-6zM220 327h6v5h-6zM274 327h6v5h-6zM286 327h6v5h-6zM586 327h6v5h-6zM598 327h6v5h-6zM220 332h6v5h-6zM274 332h6v5h-6zM286 332h6v5h-6zM724 332h6v5h-6zM220 337h6v5h-6zM274 337h6v5h-6zM286 337h6v5h-6zM382 337h6v5h-6zM706 337h6v5h-6zM724 337h6v5h-6zM790 337h6v5h-6zM220 342h6v5h-6zM274 342h6v5h-6zM286 342h6v5h-6zM604 342h6v5h-6zM706 342h6v5h-6zM790 342h6v5h-6zM850 342h6v5h-6zM220 347h6v5h-6zM274 347h18v5h-18zM604 347h6v5h-6zM718 347h6v5h-6zM850 347h6v5h-6zM220 352h6v5h-6zM274 352h18v5h-18zM352 352h6v5h-6zM712 352h6v5h-6zM220 357h6v5h-6zM274 357h18v5h-18zM376 357h6v5h-6zM220 362h6v5h-6zM274 362h18v5h-18zM358 362h6v5h-6zM370 362h6v5h-6zM796 362h6v5h-6zM274 367h18v5h-18zM364 367h12v5h-12zM610 367h6v5h-6zM658 367h6v5h-6zM796 367h6v5h-6zM214 372h6v5h-6zM274 372h12v5h-12zM610 372h6v5h-6zM658 372h6v5h-6zM796 372h6v5h-6zM214 377h6v5h-6zM274 377h12v5h-12zM610 377h6v5h-6zM658 377h6v5h-6zM844 377h6v5h-6zM214 382h6v5h-6zM274 382h12v5h-12zM652 382h6v5h-6zM844 382h6v5h-6zM214 387h6v5h-6zM274 387h12v5h-12zM616 387h42v5h-42zM844 387h6v5h-6zM214 392h6v5h-6zM274 392h12v5h-12zM616 392h42v5h-42zM112 397h60v5h-60zM274 397h12v5h-12zM622 397h30v5h-30zM94 402h24v5h-24zM160 402h18v5h-18zM208 402h6v5h-6zM274 402h12v5h-12zM172 407h18v5h-18zM208 407h6v5h-6zM280 407h6v5h-6zM802 407h6v5h-6zM838 407h6v5h-6zM184 412h12v5h-12zM202 412h12v5h-12zM280 412h6v5h-6zM802 412h6v5h-6zM838 412h6v5h-6zM190 417h18v5h-18zM274 417h12v5h-12zM802 417h6v5h-6zM838 417h6v5h-6zM190 422h18v5h-18zM274 422h12v5h-12zM802 422h6v5h-6zM838 422h6v5h-6zM196 427h12v5h-12zM274 427h12v5h-12zM802 427h6v5h-6z"/>
<path fill="#0aca72" d="M316 157h6v5h-6zM334 157h6v5h-6zM232 162h6v5h-6zM310 162h6v5h-6zM268 167h6v5h-6zM340 167h6v5h-6zM436 167h6v5h-6zM448 167h6v5h-6zM304 172h6v5h-6zM340 172h6v5h-6zM226 177h6v5h-6zM226 182h6v5h-6zM412 182h6v5h-6zM538 182h30v5h-30zM400 187h6v5h-6zM532 187h6v5h-6zM670 187h12v5h-12zM274 192h6v5h-6zM298 192h6v5h-6zM466 192h6v5h-6zM568 192h6v5h-6zM676 192h12v5h-12zM274 197h6v5h-6zM526 197h6v5h-6zM682 197h6v5h-6zM274 202h6v5h-6zM472 202h6v5h-6zM526 202h6v5h-6zM688 202h6v5h-6zM754 202h6v5h-6zM274 207h6v5h-6zM472 207h6v5h-6zM688 207h6v5h-6zM748 207h6v5h-6zM274 212h6v5h-6zM472 212h6v5h-6zM664 212h6v5h-6zM688 212h6v5h-6zM748 212h6v5h-6zM274 217h6v5h-6zM472 217h6v5h-6zM664 217h6v5h-6zM742 217h6v5h-6zM772 217h6v5h-6zM220 222h6v5h-6zM472 222h6v5h-6zM664 222h6v5h-6zM742 222h6v5h-6zM772 222h6v5h-6zM220 227h6v5h-6zM472 227h6v5h-6zM520 227h6v5h-6zM664 227h6v5h-6zM742 227h6v5h-6zM772 227h6v5h-6zM220 232h6v5h-6zM292 232h6v5h-6zM520 232h6v5h-6zM664 232h6v5h-6zM220 237h6v5h-6zM292 237h6v5h-6zM520 237h6v5h-6zM664 237h6v5h-6zM694 237h6v5h-6zM736 237h6v5h-6zM874 237h6v5h-6zM220 242h6v5h-6zM292 242h6v5h-6zM520 242h6v5h-6zM664 242h6v5h-6zM694 242h6v5h-6zM736 242h6v5h-6zM868 242h12v5h-12zM520 247h6v5h-6zM664 247h6v5h-6zM694 247h6v5h-6zM868 247h6v5h-6zM880 247h6v5h-6zM664 252h6v5h-6zM694 252h6v5h-6zM880 252h12v5h-12zM478 257h6v5h-6zM514 257h6v5h-6zM664 257h6v5h-6zM694 257h6v5h-6zM886 257h18v5h-18zM478 262h6v5h-6zM514 262h6v5h-6zM574 262h6v5h-6zM598 262h6v5h-6zM664 262h6v5h-6zM892 262h30v5h-30zM220 267h6v5h-6zM280 267h12v5h-12zM478 267h6v5h-6zM574 267h6v5h-6zM592 267h12v5h-12zM664 267h6v5h-6zM730 267h6v5h-6zM778 267h6v5h-6zM862 267h6v5h-6zM220 272h6v5h-6zM280 272h12v5h-12zM508 272h6v5h-6zM592 272h12v5h-12zM664 272h6v5h-6zM730 272h6v5h-6zM778 272h6v5h-6zM862 272h6v5h-6zM220 277h6v5h-6zM280 277h12v5h-12zM484 277h6v5h-6zM496 277h18v5h-18zM592 277h12v5h-12zM730 277h6v5h-6zM778 277h6v5h-6zM220 282h6v5h-6zM280 282h12v5h-12zM484 282h24v5h-24zM592 282h12v5h-12zM730 282h6v5h-6zM778 282h6v5h-6zM220 287h6v5h-6zM280 287h12v5h-12zM484 287h18v5h-18zM592 287h12v5h-12zM220 292h6v5h-6zM280 292h12v5h-12zM346 292h6v5h-6zM580 292h24v5h-24zM220 297h6v5h-6zM280 297h12v5h-12zM346 297h6v5h-6zM580 297h12v5h-12zM598 297h6v5h-6zM700 297h6v5h-6zM856 297h6v5h-6zM220 302h6v5h-6zM280 302h12v5h-12zM346 302h6v5h-6zM580 302h12v5h-12zM700 302h6v5h-6zM784 302h6v5h-6zM856 302h6v5h-6zM280 307h12v5h-12zM586 307h6v5h-6zM700 307h6v5h-6zM784 307h6v5h-6zM280 312h12v5h-12zM280 317h6v5h-6zM280 322h6v5h-6zM724 322h6v5h-6zM280 327h6v5h-6zM724 327h6v5h-6zM790 327h6v5h-6zM214 332h6v5h-6zM280 332h6v5h-6zM382 332h6v5h-6zM604 332h6v5h-6zM706 332h6v5h-6zM790 332h6v5h-6zM850 332h6v5h-6zM214 337h6v5h-6zM280 337h6v5h-6zM604 337h6v5h-6zM850 337h6v5h-6zM214 342h6v5h-6zM280 342h6v5h-6zM712 342h12v5h-12zM214 347h6v5h-6zM352 347h6v5h-6zM658 347h6v5h-6zM712 347h6v5h-6zM214 352h6v5h-6zM376 352h6v5h-6zM658 352h6v5h-6zM796 352h6v5h-6zM214 357h6v5h-6zM358 357h6v5h-6zM610 357h6v5h-6zM658 357h6v5h-6zM796 357h6v5h-6zM214 362h6v5h-6zM364 362h6v5h-6zM610 362h6v5h-6zM658 362h6v5h-6zM844 362h6v5h-6zM214 367h6v5h-6zM652 367h6v5h-6zM844 367h6v5h-6zM208 372h6v5h-6zM616 372h6v5h-6zM652 372h6v5h-6zM844 372h6v5h-6zM208 377h6v5h-6zM616 377h42v5h-42zM208 382h6v5h-6zM616 382h36v5h-36zM130 387h42v5h-42zM208 387h6v5h-6zM106 392h78v5h-78zM208 392h6v5h-6zM802 392h6v5h-6zM94 397h18v5h-18zM172 397h18v5h-18zM202 397h12v5h-12zM802 397h6v5h-6zM838 397h6v5h-6zM178 402h30v5h-30zM802 402h6v5h-6zM838 402h6v5h-6zM190 407h18v5h-18zM196 412h6v5h-6zM832 417h6v5h-6zM832 422h6v5h-6zM832 427h6v5h-6z"/>
<path fill="#0ad08e" d="M244 162h18v5h-18zM322 162h12v5h-12zM238 167h6v5h-6zM316 167h6v5h-6zM334 167h6v5h-6zM238 172h6v5h-6zM262 172h6v5h-6zM310 177h6v5h-6zM442 177h6v5h-6zM232 182h6v5h-6zM268 182h6v5h-6zM430 182h12v5h-12zM448 182h6v5h-6zM232 187h6v5h-6zM268 187h6v5h-6zM304 187h6v5h-6zM424 187h6v5h-6zM454 187h6v5h-6zM268 192h6v5h-6zM412 192h6v5h-6zM544 192h24v5h-24zM268 197h6v5h-6zM340 197h6v5h-6zM400 197h6v5h-6zM460 197h6v5h-6zM538 197h6v5h-6zM562 197h6v5h-6zM340 202h6v5h-6zM394 202h6v5h-6zM340 207h6v5h-6zM532 207h6v5h-6zM340 212h6v5h-6zM532 212h6v5h-6zM226 217h6v5h-6zM298 217h6v5h-6zM532 217h6v5h-6zM226 222h6v5h-6zM298 222h6v5h-6zM760 222h6v5h-6zM226 227h6v5h-6zM298 227h6v5h-6zM466 227h6v5h-6zM754 227h12v5h-12zM226 232h6v5h-6zM466 232h6v5h-6zM754 232h18v5h-18zM226 237h6v5h-6zM466 237h6v5h-6zM754 237h6v5h-6zM766 237h6v5h-6zM466 242h6v5h-6zM676 242h12v5h-12zM748 242h6v5h-6zM526 247h6v5h-6zM676 247h12v5h-12zM748 247h6v5h-6zM526 252h6v5h-6zM568 252h6v5h-6zM676 252h12v5h-12zM526 257h6v5h-6zM568 257h6v5h-6zM676 257h12v5h-12zM742 257h6v5h-6zM568 262h6v5h-6zM676 262h12v5h-12zM742 262h6v5h-6zM676 267h12v5h-12zM874 267h6v5h-6zM472 272h6v5h-6zM520 272h6v5h-6zM670 272h18v5h-18zM772 272h6v5h-6zM868 272h12v5h-12zM472 277h6v5h-6zM520 277h6v5h-6zM670 277h18v5h-18zM736 277h6v5h-6zM772 277h6v5h-6zM868 277h6v5h-6zM880 277h6v5h-6zM472 282h6v5h-6zM670 282h18v5h-18zM736 282h6v5h-6zM772 282h6v5h-6zM880 282h18v5h-18zM226 287h6v5h-6zM472 287h6v5h-6zM514 287h6v5h-6zM670 287h18v5h-18zM736 287h6v5h-6zM886 287h36v5h-36zM226 292h6v5h-6zM514 292h6v5h-6zM670 292h24v5h-24zM736 292h6v5h-6zM862 292h6v5h-6zM226 297h6v5h-6zM670 297h24v5h-24zM862 297h6v5h-6zM226 302h6v5h-6zM292 302h6v5h-6zM478 302h6v5h-6zM508 302h6v5h-6zM574 302h6v5h-6zM670 302h24v5h-24zM862 302h6v5h-6zM226 307h6v5h-6zM292 307h6v5h-6zM478 307h6v5h-6zM508 307h6v5h-6zM574 307h6v5h-6zM670 307h24v5h-24zM778 307h6v5h-6zM226 312h6v5h-6zM292 312h6v5h-6zM478 312h6v5h-6zM502 312h12v5h-12zM574 312h6v5h-6zM670 312h24v5h-24zM778 312h6v5h-6zM226 317h6v5h-6zM292 317h6v5h-6zM484 317h6v5h-6zM496 317h12v5h-12zM670 317h30v5h-30zM226 322h6v5h-6zM292 322h6v5h-6zM484 322h24v5h-24zM670 322h30v5h-30zM730 322h6v5h-6zM226 327h6v5h-6zM292 327h6v5h-6zM346 327h6v5h-6zM484 327h18v5h-18zM670 327h30v5h-30zM730 327h6v5h-6zM226 332h6v5h-6zM346 332h6v5h-6zM670 332h30v5h-30zM784 332h6v5h-6zM856 332h6v5h-6zM226 337h6v5h-6zM580 337h6v5h-6zM592 337h6v5h-6zM670 337h12v5h-12zM700 337h6v5h-6zM226 342h6v5h-6zM580 342h24v5h-24zM670 342h6v5h-6zM226 347h6v5h-6zM268 347h6v5h-6zM382 347h6v5h-6zM586 347h18v5h-18zM670 347h6v5h-6zM724 347h6v5h-6zM226 352h6v5h-6zM268 352h6v5h-6zM598 352h6v5h-6zM670 352h6v5h-6zM706 352h6v5h-6zM724 352h6v5h-6zM790 352h6v5h-6zM226 357h6v5h-6zM268 357h6v5h-6zM670 357h6v5h-6zM706 357h6v5h-6zM790 357h6v5h-6zM226 362h6v5h-6zM268 362h6v5h-6zM352 362h6v5h-6zM604 362h6v5h-6zM670 362h6v5h-6zM712 362h12v5h-12zM850 362h6v5h-6zM232 367h6v5h-6zM268 367h6v5h-6zM376 367h6v5h-6zM604 367h6v5h-6zM670 367h6v5h-6zM850 367h6v5h-6zM226 372h12v5h-12zM268 372h6v5h-6zM358 372h6v5h-6zM376 372h6v5h-6zM604 372h6v5h-6zM226 377h12v5h-12zM268 377h6v5h-6zM358 377h18v5h-18zM604 377h6v5h-6zM664 377h6v5h-6zM226 382h12v5h-12zM268 382h6v5h-6zM364 382h12v5h-12zM664 382h6v5h-6zM226 387h12v5h-12zM262 387h6v5h-6zM664 387h6v5h-6zM226 392h12v5h-12zM262 392h6v5h-6zM664 392h6v5h-6zM796 392h6v5h-6zM226 397h18v5h-18zM262 397h6v5h-6zM610 397h6v5h-6zM796 397h6v5h-6zM226 402h18v5h-18zM262 402h6v5h-6zM610 402h6v5h-6zM658 402h6v5h-6zM796 402h6v5h-6zM844 402h6v5h-6zM118 407h30v5h-30zM220 407h48v5h-48zM610 407h6v5h-6zM658 407h6v5h-6zM844 407h6v5h-6zM94 412h72v5h-72zM220 412h48v5h-48zM610 412h12v5h-12zM652 412h12v5h-12zM844 412h6v5h-6zM160 417h18v5h-18zM214 417h54v5h-54zM616 417h42v5h-42zM166 422h18v5h-18zM214 422h54v5h-54zM616 422h42v5h-42zM172 427h12v5h-12zM214 427h54v5h-54zM616 427h42v5h-42z"/>
<path fill="#0ace85" d="M316 162h6v5h-6zM334 162h6v5h-6zM262 167h6v5h-6zM310 172h6v5h-6zM442 172h6v5h-6zM232 177h6v5h-6zM268 177h6v5h-6zM430 177h12v5h-12zM448 177h6v5h-6zM304 182h6v5h-6zM340 182h6v5h-6zM424 182h6v5h-6zM454 182h6v5h-6zM340 187h6v5h-6zM418 187h6v5h-6zM544 187h18v5h-18zM340 192h6v5h-6zM400 192h12v5h-12zM460 192h6v5h-6zM538 192h6v5h-6zM394 197h6v5h-6zM532 197h6v5h-6zM226 202h6v5h-6zM532 202h6v5h-6zM226 207h6v5h-6zM298 207h6v5h-6zM466 207h6v5h-6zM676 207h6v5h-6zM226 212h6v5h-6zM298 212h6v5h-6zM466 212h6v5h-6zM670 212h12v5h-12zM760 212h6v5h-6zM466 217h6v5h-6zM568 217h6v5h-6zM670 217h18v5h-18zM754 217h18v5h-18zM466 222h6v5h-6zM568 222h6v5h-6zM670 222h18v5h-18zM754 222h6v5h-6zM766 222h6v5h-6zM526 227h6v5h-6zM568 227h6v5h-6zM670 227h18v5h-18zM748 227h6v5h-6zM766 227h6v5h-6zM526 232h6v5h-6zM568 232h6v5h-6zM670 232h18v5h-18zM748 232h6v5h-6zM526 237h6v5h-6zM568 237h6v5h-6zM670 237h18v5h-18zM748 237h6v5h-6zM526 242h6v5h-6zM568 242h6v5h-6zM670 242h6v5h-6zM688 242h6v5h-6zM742 242h6v5h-6zM568 247h6v5h-6zM670 247h6v5h-6zM688 247h6v5h-6zM742 247h6v5h-6zM670 252h6v5h-6zM688 252h6v5h-6zM742 252h6v5h-6zM772 252h6v5h-6zM472 257h6v5h-6zM670 257h6v5h-6zM688 257h6v5h-6zM772 257h6v5h-6zM874 257h6v5h-6zM472 262h6v5h-6zM520 262h6v5h-6zM670 262h6v5h-6zM688 262h6v5h-6zM736 262h6v5h-6zM772 262h6v5h-6zM868 262h12v5h-12zM472 267h6v5h-6zM520 267h6v5h-6zM670 267h6v5h-6zM688 267h6v5h-6zM736 267h6v5h-6zM772 267h6v5h-6zM868 267h6v5h-6zM880 267h6v5h-6zM292 272h6v5h-6zM688 272h6v5h-6zM736 272h6v5h-6zM880 272h12v5h-12zM292 277h6v5h-6zM514 277h6v5h-6zM688 277h6v5h-6zM886 277h36v5h-36zM292 282h6v5h-6zM514 282h6v5h-6zM688 282h6v5h-6zM862 282h6v5h-6zM898 282h24v5h-24zM292 287h6v5h-6zM478 287h6v5h-6zM688 287h6v5h-6zM862 287h6v5h-6zM292 292h6v5h-6zM478 292h6v5h-6zM508 292h6v5h-6zM574 292h6v5h-6zM694 292h6v5h-6zM292 297h6v5h-6zM478 297h6v5h-6zM508 297h6v5h-6zM574 297h6v5h-6zM694 297h6v5h-6zM778 297h6v5h-6zM484 302h6v5h-6zM502 302h6v5h-6zM694 302h6v5h-6zM730 302h6v5h-6zM778 302h6v5h-6zM484 307h24v5h-24zM694 307h6v5h-6zM730 307h6v5h-6zM484 312h18v5h-18zM694 312h6v5h-6zM730 312h6v5h-6zM346 317h6v5h-6zM490 317h6v5h-6zM664 317h6v5h-6zM730 317h6v5h-6zM856 317h6v5h-6zM346 322h6v5h-6zM580 322h6v5h-6zM592 322h6v5h-6zM664 322h6v5h-6zM784 322h6v5h-6zM856 322h6v5h-6zM580 327h6v5h-6zM592 327h6v5h-6zM664 327h6v5h-6zM700 327h6v5h-6zM784 327h6v5h-6zM856 327h6v5h-6zM580 332h24v5h-24zM664 332h6v5h-6zM700 332h6v5h-6zM586 337h6v5h-6zM598 337h6v5h-6zM664 337h6v5h-6zM382 342h6v5h-6zM664 342h6v5h-6zM724 342h6v5h-6zM664 347h6v5h-6zM706 347h6v5h-6zM790 347h6v5h-6zM604 352h6v5h-6zM664 352h6v5h-6zM718 352h6v5h-6zM850 352h6v5h-6zM352 357h6v5h-6zM604 357h6v5h-6zM664 357h6v5h-6zM712 357h12v5h-12zM850 357h6v5h-6zM376 362h6v5h-6zM664 362h6v5h-6zM220 367h12v5h-12zM358 367h6v5h-6zM664 367h6v5h-6zM220 372h6v5h-6zM286 372h6v5h-6zM364 372h12v5h-12zM664 372h6v5h-6zM220 377h6v5h-6zM286 377h6v5h-6zM796 377h6v5h-6zM220 382h6v5h-6zM286 382h6v5h-6zM610 382h6v5h-6zM658 382h6v5h-6zM796 382h6v5h-6zM220 387h6v5h-6zM268 387h6v5h-6zM286 387h6v5h-6zM610 387h6v5h-6zM658 387h6v5h-6zM796 387h6v5h-6zM220 392h6v5h-6zM268 392h6v5h-6zM286 392h6v5h-6zM610 392h6v5h-6zM658 392h6v5h-6zM844 392h6v5h-6zM214 397h12v5h-12zM268 397h6v5h-6zM286 397h6v5h-6zM616 397h6v5h-6zM652 397h12v5h-12zM844 397h6v5h-6zM118 402h42v5h-42zM214 402h12v5h-12zM268 402h6v5h-6zM286 402h6v5h-6zM616 402h42v5h-42zM94 407h24v5h-24zM148 407h24v5h-24zM214 407h6v5h-6zM268 407h12v5h-12zM286 407h6v5h-6zM616 407h42v5h-42zM166 412h18v5h-18zM214 412h6v5h-6zM268 412h12v5h-12zM286 412h6v5h-6zM622 412h30v5h-30zM178 417h12v5h-12zM208 417h6v5h-6zM268 417h6v5h-6zM286 417h6v5h-6zM184 422h6v5h-6zM208 422h6v5h-6zM268 422h6v5h-6zM286 422h6v5h-6zM184 427h12v5h-12zM208 427h6v5h-6zM268 427h6v5h-6zM286 427h6v5h-6zM838 427h6v5h-6z"/>
<path fill="#0ace98" d="M244 167h18v5h-18zM322 167h12v5h-12zM316 172h6v5h-6zM334 172h6v5h-6zM238 177h6v5h-6zM262 177h6v5h-6zM334 177h6v5h-6zM442 182h6v5h-6zM430 187h12v5h-12zM448 187h6v5h-6zM232 192h6v5h-6zM304 192h6v5h-6zM418 192h6v5h-6zM454 192h6v5h-6zM232 197h6v5h-6zM406 197h12v5h-12zM544 197h18v5h-18zM268 202h6v5h-6zM400 202h6v5h-6zM460 202h6v5h-6zM538 202h30v5h-30zM268 207h6v5h-6zM394 207h6v5h-6zM460 207h6v5h-6zM538 207h6v5h-6zM562 207h6v5h-6zM268 212h6v5h-6zM394 212h6v5h-6zM460 212h6v5h-6zM562 212h6v5h-6zM268 217h6v5h-6zM340 217h6v5h-6zM268 222h6v5h-6zM340 222h6v5h-6zM532 222h6v5h-6zM340 227h6v5h-6zM532 227h6v5h-6zM298 232h6v5h-6zM340 232h6v5h-6zM532 232h6v5h-6zM298 237h6v5h-6zM532 237h6v5h-6zM760 237h6v5h-6zM226 242h6v5h-6zM298 242h6v5h-6zM532 242h6v5h-6zM754 242h18v5h-18zM226 247h6v5h-6zM466 247h6v5h-6zM754 247h6v5h-6zM766 247h6v5h-6zM226 252h6v5h-6zM388 252h6v5h-6zM466 252h6v5h-6zM748 252h12v5h-12zM766 252h6v5h-6zM226 257h6v5h-6zM388 257h6v5h-6zM466 257h6v5h-6zM748 257h6v5h-6zM766 257h6v5h-6zM226 262h6v5h-6zM466 262h6v5h-6zM526 262h6v5h-6zM748 262h6v5h-6zM226 267h6v5h-6zM526 267h6v5h-6zM568 267h6v5h-6zM742 267h6v5h-6zM226 272h6v5h-6zM568 272h6v5h-6zM742 272h6v5h-6zM226 277h6v5h-6zM568 277h6v5h-6zM742 277h6v5h-6zM874 277h6v5h-6zM226 282h6v5h-6zM520 282h6v5h-6zM568 282h6v5h-6zM868 282h12v5h-12zM520 287h6v5h-6zM772 287h6v5h-6zM868 287h6v5h-6zM880 287h6v5h-6zM472 292h6v5h-6zM772 292h6v5h-6zM880 292h42v5h-42zM472 297h6v5h-6zM514 297h6v5h-6zM736 297h6v5h-6zM472 302h6v5h-6zM514 302h6v5h-6zM736 302h6v5h-6zM514 307h6v5h-6zM736 307h6v5h-6zM862 307h6v5h-6zM862 312h6v5h-6zM268 317h6v5h-6zM478 317h6v5h-6zM508 317h6v5h-6zM574 317h6v5h-6zM778 317h6v5h-6zM862 317h6v5h-6zM268 322h6v5h-6zM478 322h6v5h-6zM508 322h6v5h-6zM574 322h6v5h-6zM778 322h6v5h-6zM268 327h6v5h-6zM478 327h6v5h-6zM502 327h6v5h-6zM268 332h6v5h-6zM292 332h6v5h-6zM484 332h24v5h-24zM730 332h6v5h-6zM268 337h6v5h-6zM292 337h6v5h-6zM346 337h6v5h-6zM484 337h18v5h-18zM682 337h18v5h-18zM730 337h6v5h-6zM784 337h6v5h-6zM856 337h6v5h-6zM268 342h6v5h-6zM292 342h6v5h-6zM676 342h30v5h-30zM784 342h6v5h-6zM856 342h6v5h-6zM232 347h6v5h-6zM292 347h6v5h-6zM580 347h6v5h-6zM676 347h12v5h-12zM700 347h6v5h-6zM232 352h6v5h-6zM292 352h6v5h-6zM382 352h6v5h-6zM580 352h18v5h-18zM676 352h12v5h-12zM232 357h6v5h-6zM262 357h6v5h-6zM292 357h6v5h-6zM586 357h18v5h-18zM676 357h6v5h-6zM724 357h6v5h-6zM232 362h12v5h-12zM262 362h6v5h-6zM292 362h6v5h-6zM598 362h6v5h-6zM676 362h6v5h-6zM706 362h6v5h-6zM790 362h6v5h-6zM238 367h6v5h-6zM262 367h6v5h-6zM292 367h6v5h-6zM352 367h6v5h-6zM676 367h6v5h-6zM712 367h12v5h-12zM790 367h6v5h-6zM238 372h12v5h-12zM256 372h12v5h-12zM670 372h12v5h-12zM712 372h12v5h-12zM850 372h6v5h-6zM238 377h30v5h-30zM376 377h6v5h-6zM670 377h6v5h-6zM850 377h6v5h-6zM238 382h30v5h-30zM358 382h6v5h-6zM376 382h6v5h-6zM604 382h6v5h-6zM670 382h6v5h-6zM850 382h6v5h-6zM238 387h24v5h-24zM358 387h18v5h-18zM604 387h6v5h-6zM670 387h6v5h-6zM238 392h24v5h-24zM364 392h6v5h-6zM604 392h6v5h-6zM670 392h6v5h-6zM244 397h18v5h-18zM604 397h6v5h-6zM664 397h6v5h-6zM244 402h18v5h-18zM604 402h6v5h-6zM664 402h6v5h-6zM664 407h6v5h-6zM796 407h6v5h-6zM664 412h6v5h-6zM796 412h6v5h-6zM94 417h66v5h-66zM610 417h6v5h-6zM658 417h12v5h-12zM796 417h6v5h-6zM844 417h6v5h-6zM148 422h18v5h-18zM610 422h6v5h-6zM658 422h6v5h-6zM844 422h6v5h-6zM154 427h18v5h-18zM610 427h6v5h-6zM658 427h6v5h-6zM844 427h6v5h-6z"/>
<path fill="#0bcda2" d="M244 172h18v5h-18zM322 172h12v5h-12zM316 177h6v5h-6zM238 182h6v5h-6zM262 182h6v5h-6zM310 182h6v5h-6zM334 182h6v5h-6zM310 187h6v5h-6zM442 187h6v5h-6zM424 192h12v5h-12zM448 192h6v5h-6zM304 197h6v5h-6zM418 197h6v5h-6zM454 197h6v5h-6zM232 202h6v5h-6zM304 202h6v5h-6zM406 202h12v5h-12zM232 207h6v5h-6zM400 207h6v5h-6zM544 207h18v5h-18zM538 212h6v5h-6zM550 212h12v5h-12zM394 217h6v5h-6zM460 217h6v5h-6zM538 217h6v5h-6zM556 217h12v5h-12zM460 222h6v5h-6zM538 222h6v5h-6zM562 222h6v5h-6zM268 227h6v5h-6zM460 227h6v5h-6zM562 227h6v5h-6zM268 232h6v5h-6zM460 232h6v5h-6zM562 232h6v5h-6zM268 237h6v5h-6zM340 237h6v5h-6zM562 237h6v5h-6zM268 242h6v5h-6zM340 242h6v5h-6zM562 242h6v5h-6zM268 247h6v5h-6zM298 247h6v5h-6zM340 247h6v5h-6zM532 247h6v5h-6zM562 247h6v5h-6zM760 247h6v5h-6zM268 252h6v5h-6zM298 252h6v5h-6zM532 252h6v5h-6zM562 252h6v5h-6zM760 252h6v5h-6zM268 257h6v5h-6zM298 257h6v5h-6zM532 257h6v5h-6zM562 257h6v5h-6zM754 257h12v5h-12zM268 262h6v5h-6zM388 262h6v5h-6zM754 262h18v5h-18zM268 267h6v5h-6zM388 267h6v5h-6zM466 267h6v5h-6zM748 267h12v5h-12zM766 267h6v5h-6zM268 272h6v5h-6zM388 272h6v5h-6zM466 272h6v5h-6zM526 272h6v5h-6zM748 272h6v5h-6zM766 272h6v5h-6zM268 277h6v5h-6zM466 277h6v5h-6zM526 277h6v5h-6zM748 277h6v5h-6zM766 277h6v5h-6zM268 282h6v5h-6zM466 282h6v5h-6zM742 282h6v5h-6zM268 287h6v5h-6zM568 287h6v5h-6zM742 287h6v5h-6zM874 287h6v5h-6zM268 292h6v5h-6zM520 292h6v5h-6zM568 292h6v5h-6zM742 292h6v5h-6zM868 292h12v5h-12zM268 297h6v5h-6zM520 297h6v5h-6zM772 297h6v5h-6zM868 297h54v5h-54zM268 302h6v5h-6zM772 302h6v5h-6zM868 302h6v5h-6zM886 302h36v5h-36zM268 307h6v5h-6zM472 307h6v5h-6zM268 312h6v5h-6zM472 312h6v5h-6zM514 312h6v5h-6zM736 312h6v5h-6zM472 317h6v5h-6zM514 317h6v5h-6zM736 317h6v5h-6zM232 322h6v5h-6zM472 322h6v5h-6zM736 322h6v5h-6zM862 322h6v5h-6zM232 327h6v5h-6zM508 327h6v5h-6zM574 327h6v5h-6zM778 327h6v5h-6zM862 327h6v5h-6zM232 332h6v5h-6zM478 332h6v5h-6zM508 332h6v5h-6zM574 332h6v5h-6zM232 337h6v5h-6zM478 337h6v5h-6zM502 337h6v5h-6zM232 342h6v5h-6zM346 342h6v5h-6zM484 342h18v5h-18zM730 342h6v5h-6zM262 347h6v5h-6zM484 347h12v5h-12zM688 347h12v5h-12zM730 347h6v5h-6zM784 347h6v5h-6zM856 347h6v5h-6zM238 352h6v5h-6zM262 352h6v5h-6zM688 352h18v5h-18zM856 352h6v5h-6zM238 357h12v5h-12zM256 357h6v5h-6zM382 357h6v5h-6zM580 357h6v5h-6zM682 357h12v5h-12zM700 357h6v5h-6zM244 362h18v5h-18zM580 362h18v5h-18zM682 362h6v5h-6zM724 362h6v5h-6zM244 367h18v5h-18zM586 367h18v5h-18zM682 367h6v5h-6zM706 367h6v5h-6zM724 367h6v5h-6zM250 372h6v5h-6zM292 372h6v5h-6zM352 372h6v5h-6zM592 372h12v5h-12zM682 372h6v5h-6zM706 372h6v5h-6zM790 372h6v5h-6zM292 377h6v5h-6zM352 377h6v5h-6zM598 377h6v5h-6zM676 377h12v5h-12zM712 377h12v5h-12zM790 377h6v5h-6zM292 382h6v5h-6zM598 382h6v5h-6zM676 382h6v5h-6zM712 382h12v5h-12zM790 382h6v5h-6zM292 387h6v5h-6zM376 387h6v5h-6zM598 387h6v5h-6zM676 387h6v5h-6zM850 387h6v5h-6zM292 392h6v5h-6zM358 392h6v5h-6zM370 392h6v5h-6zM676 392h6v5h-6zM850 392h6v5h-6zM292 397h6v5h-6zM364 397h12v5h-12zM670 397h12v5h-12zM292 402h6v5h-6zM670 402h6v5h-6zM292 407h6v5h-6zM604 407h6v5h-6zM670 407h6v5h-6zM292 412h6v5h-6zM604 412h6v5h-6zM670 412h6v5h-6zM292 417h6v5h-6zM604 417h6v5h-6zM670 417h6v5h-6zM94 422h54v5h-54zM292 422h6v5h-6zM604 422h6v5h-6zM664 422h12v5h-12zM796 422h6v5h-6zM94 427h60v5h-60zM292 427h6v5h-6zM604 427h6v5h-6zM664 427h12v5h-12zM796 427h6v5h-6z"/>
<path fill="#0bcbac" d="M244 177h18v5h-18zM322 177h12v5h-12zM316 182h6v5h-6zM328 182h6v5h-6zM238 187h6v5h-6zM262 187h6v5h-6zM334 187h6v5h-6zM238 192h6v5h-6zM262 192h6v5h-6zM310 192h6v5h-6zM334 192h6v5h-6zM436 192h12v5h-12zM262 197h6v5h-6zM334 197h6v5h-6zM424 197h12v5h-12zM448 197h6v5h-6zM418 202h6v5h-6zM454 202h6v5h-6zM304 207h6v5h-6zM406 207h12v5h-12zM454 207h6v5h-6zM232 212h6v5h-6zM304 212h6v5h-6zM400 212h12v5h-12zM454 212h6v5h-6zM544 212h6v5h-6zM232 217h6v5h-6zM304 217h6v5h-6zM400 217h6v5h-6zM544 217h12v5h-12zM232 222h6v5h-6zM394 222h6v5h-6zM544 222h18v5h-18zM232 227h6v5h-6zM394 227h6v5h-6zM538 227h24v5h-24zM232 232h6v5h-6zM538 232h24v5h-24zM460 237h6v5h-6zM538 237h6v5h-6zM550 237h12v5h-12zM460 242h6v5h-6zM538 242h6v5h-6zM550 242h12v5h-12zM460 247h6v5h-6zM538 247h6v5h-6zM556 247h6v5h-6zM340 252h6v5h-6zM460 252h6v5h-6zM556 252h6v5h-6zM340 257h6v5h-6zM556 257h6v5h-6zM298 262h6v5h-6zM340 262h6v5h-6zM532 262h6v5h-6zM562 262h6v5h-6zM298 267h6v5h-6zM532 267h6v5h-6zM562 267h6v5h-6zM760 267h6v5h-6zM298 272h6v5h-6zM532 272h6v5h-6zM562 272h6v5h-6zM754 272h12v5h-12zM388 277h6v5h-6zM562 277h6v5h-6zM754 277h12v5h-12zM388 282h6v5h-6zM526 282h6v5h-6zM748 282h12v5h-12zM766 282h6v5h-6zM388 287h6v5h-6zM466 287h6v5h-6zM526 287h6v5h-6zM748 287h6v5h-6zM766 287h6v5h-6zM232 292h6v5h-6zM388 292h6v5h-6zM466 292h6v5h-6zM748 292h6v5h-6zM766 292h6v5h-6zM232 297h6v5h-6zM466 297h6v5h-6zM568 297h6v5h-6zM742 297h6v5h-6zM232 302h6v5h-6zM466 302h6v5h-6zM520 302h6v5h-6zM568 302h6v5h-6zM742 302h6v5h-6zM874 302h12v5h-12zM232 307h6v5h-6zM466 307h6v5h-6zM520 307h6v5h-6zM742 307h6v5h-6zM772 307h6v5h-6zM868 307h54v5h-54zM232 312h6v5h-6zM772 312h6v5h-6zM868 312h6v5h-6zM232 317h6v5h-6zM868 317h6v5h-6zM514 322h6v5h-6zM868 322h6v5h-6zM472 327h6v5h-6zM514 327h6v5h-6zM736 327h6v5h-6zM262 332h6v5h-6zM472 332h6v5h-6zM736 332h6v5h-6zM778 332h6v5h-6zM862 332h6v5h-6zM238 337h6v5h-6zM262 337h6v5h-6zM472 337h6v5h-6zM508 337h6v5h-6zM574 337h6v5h-6zM778 337h6v5h-6zM862 337h6v5h-6zM238 342h6v5h-6zM262 342h6v5h-6zM478 342h6v5h-6zM502 342h6v5h-6zM574 342h6v5h-6zM238 347h12v5h-12zM256 347h6v5h-6zM346 347h6v5h-6zM478 347h6v5h-6zM496 347h12v5h-12zM244 352h18v5h-18zM478 352h24v5h-24zM730 352h6v5h-6zM784 352h6v5h-6zM250 357h6v5h-6zM484 357h12v5h-12zM694 357h6v5h-6zM730 357h6v5h-6zM784 357h6v5h-6zM856 357h6v5h-6zM382 362h6v5h-6zM688 362h18v5h-18zM856 362h6v5h-6zM580 367h6v5h-6zM688 367h6v5h-6zM700 367h6v5h-6zM580 372h12v5h-12zM688 372h6v5h-6zM724 372h6v5h-6zM586 377h12v5h-12zM688 377h6v5h-6zM706 377h6v5h-6zM724 377h6v5h-6zM352 382h6v5h-6zM586 382h12v5h-12zM682 382h6v5h-6zM706 382h6v5h-6zM352 387h6v5h-6zM592 387h6v5h-6zM682 387h6v5h-6zM706 387h18v5h-18zM790 387h6v5h-6zM376 392h6v5h-6zM598 392h6v5h-6zM682 392h6v5h-6zM712 392h12v5h-12zM790 392h6v5h-6zM358 397h6v5h-6zM376 397h6v5h-6zM598 397h6v5h-6zM682 397h6v5h-6zM850 397h6v5h-6zM358 402h18v5h-18zM598 402h6v5h-6zM676 402h12v5h-12zM850 402h6v5h-6zM364 407h12v5h-12zM598 407h6v5h-6zM676 407h6v5h-6zM850 407h6v5h-6zM598 412h6v5h-6zM676 412h6v5h-6zM676 417h6v5h-6zM676 422h6v5h-6zM676 427h6v5h-6z"/>
<path fill="#0ccab6" d="M244 182h18v5h-18zM322 182h6v5h-6zM244 187h6v5h-6zM256 187h6v5h-6zM316 187h18v5h-18zM316 192h18v5h-18zM238 197h6v5h-6zM310 197h12v5h-12zM328 197h6v5h-6zM436 197h12v5h-12zM238 202h6v5h-6zM262 202h6v5h-6zM310 202h6v5h-6zM334 202h6v5h-6zM424 202h30v5h-30zM238 207h6v5h-6zM262 207h6v5h-6zM310 207h6v5h-6zM334 207h6v5h-6zM418 207h6v5h-6zM448 207h6v5h-6zM262 212h6v5h-6zM334 212h6v5h-6zM412 212h12v5h-12zM334 217h6v5h-6zM406 217h12v5h-12zM454 217h6v5h-6zM304 222h6v5h-6zM400 222h12v5h-12zM454 222h6v5h-6zM304 227h6v5h-6zM454 227h6v5h-6zM304 232h6v5h-6zM394 232h6v5h-6zM232 237h6v5h-6zM394 237h6v5h-6zM544 237h6v5h-6zM232 242h6v5h-6zM544 242h6v5h-6zM232 247h6v5h-6zM544 247h12v5h-12zM232 252h6v5h-6zM538 252h18v5h-18zM232 257h6v5h-6zM460 257h6v5h-6zM538 257h18v5h-18zM232 262h6v5h-6zM460 262h6v5h-6zM538 262h6v5h-6zM550 262h12v5h-12zM232 267h6v5h-6zM340 267h6v5h-6zM460 267h6v5h-6zM538 267h6v5h-6zM556 267h6v5h-6zM232 272h6v5h-6zM340 272h6v5h-6zM460 272h6v5h-6zM556 272h6v5h-6zM232 277h6v5h-6zM298 277h6v5h-6zM532 277h6v5h-6zM556 277h6v5h-6zM232 282h6v5h-6zM298 282h6v5h-6zM532 282h6v5h-6zM562 282h6v5h-6zM760 282h6v5h-6zM232 287h6v5h-6zM298 287h6v5h-6zM562 287h6v5h-6zM754 287h12v5h-12zM526 292h6v5h-6zM562 292h6v5h-6zM754 292h12v5h-12zM388 297h6v5h-6zM526 297h6v5h-6zM748 297h6v5h-6zM766 297h6v5h-6zM388 302h6v5h-6zM748 302h6v5h-6zM766 302h6v5h-6zM388 307h6v5h-6zM568 307h6v5h-6zM262 312h6v5h-6zM466 312h6v5h-6zM520 312h6v5h-6zM568 312h6v5h-6zM742 312h6v5h-6zM874 312h48v5h-48zM262 317h6v5h-6zM466 317h6v5h-6zM520 317h6v5h-6zM568 317h6v5h-6zM742 317h6v5h-6zM772 317h6v5h-6zM874 317h12v5h-12zM238 322h6v5h-6zM262 322h6v5h-6zM466 322h6v5h-6zM742 322h6v5h-6zM772 322h6v5h-6zM874 322h6v5h-6zM238 327h6v5h-6zM262 327h6v5h-6zM466 327h6v5h-6zM868 327h6v5h-6zM238 332h6v5h-6zM514 332h6v5h-6zM868 332h6v5h-6zM244 337h6v5h-6zM256 337h6v5h-6zM736 337h6v5h-6zM244 342h18v5h-18zM472 342h6v5h-6zM508 342h6v5h-6zM736 342h6v5h-6zM778 342h6v5h-6zM862 342h6v5h-6zM250 347h6v5h-6zM472 347h6v5h-6zM508 347h6v5h-6zM574 347h6v5h-6zM346 352h6v5h-6zM472 352h6v5h-6zM502 352h6v5h-6zM574 352h6v5h-6zM346 357h6v5h-6zM478 357h6v5h-6zM496 357h12v5h-12zM478 362h24v5h-24zM730 362h6v5h-6zM784 362h6v5h-6zM382 367h6v5h-6zM484 367h12v5h-12zM694 367h6v5h-6zM730 367h6v5h-6zM784 367h6v5h-6zM856 367h6v5h-6zM382 372h6v5h-6zM694 372h12v5h-12zM856 372h6v5h-6zM580 377h6v5h-6zM694 377h12v5h-12zM580 382h6v5h-6zM688 382h18v5h-18zM724 382h6v5h-6zM586 387h6v5h-6zM688 387h18v5h-18zM724 387h6v5h-6zM352 392h6v5h-6zM586 392h12v5h-12zM688 392h6v5h-6zM706 392h6v5h-6zM724 392h6v5h-6zM352 397h6v5h-6zM592 397h6v5h-6zM688 397h6v5h-6zM706 397h18v5h-18zM790 397h6v5h-6zM376 402h6v5h-6zM592 402h6v5h-6zM688 402h6v5h-6zM712 402h12v5h-12zM790 402h6v5h-6zM358 407h6v5h-6zM376 407h6v5h-6zM592 407h6v5h-6zM682 407h12v5h-12zM790 407h6v5h-6zM358 412h18v5h-18zM682 412h6v5h-6zM850 412h6v5h-6zM598 417h6v5h-6zM682 417h6v5h-6zM850 417h6v5h-6zM598 422h6v5h-6zM682 422h6v5h-6zM850 422h6v5h-6zM598 427h6v5h-6zM682 427h6v5h-6zM850 427h6v5h-6z"/>
<path fill="#0cc8c0" d="M250 187h6v5h-6zM244 192h18v5h-18zM244 197h6v5h-6zM256 197h6v5h-6zM322 197h6v5h-6zM244 202h6v5h-6zM256 202h6v5h-6zM316 202h18v5h-18zM316 207h18v5h-18zM424 207h24v5h-24zM238 212h6v5h-6zM310 212h12v5h-12zM328 212h6v5h-6zM424 212h30v5h-30zM238 217h6v5h-6zM262 217h6v5h-6zM310 217h6v5h-6zM418 217h6v5h-6zM448 217h6v5h-6zM238 222h6v5h-6zM262 222h6v5h-6zM310 222h6v5h-6zM334 222h6v5h-6zM412 222h6v5h-6zM238 227h6v5h-6zM262 227h6v5h-6zM334 227h6v5h-6zM400 227h12v5h-12zM262 232h6v5h-6zM334 232h6v5h-6zM400 232h6v5h-6zM454 232h6v5h-6zM262 237h6v5h-6zM304 237h6v5h-6zM454 237h6v5h-6zM262 242h6v5h-6zM304 242h6v5h-6zM394 242h6v5h-6zM454 242h6v5h-6zM262 247h6v5h-6zM304 247h6v5h-6zM262 252h6v5h-6zM262 257h6v5h-6zM262 262h6v5h-6zM544 262h6v5h-6zM262 267h6v5h-6zM544 267h12v5h-12zM262 272h6v5h-6zM538 272h18v5h-18zM262 277h6v5h-6zM340 277h6v5h-6zM460 277h6v5h-6zM538 277h18v5h-18zM262 282h6v5h-6zM340 282h6v5h-6zM460 282h6v5h-6zM538 282h6v5h-6zM550 282h12v5h-12zM262 287h6v5h-6zM460 287h6v5h-6zM532 287h6v5h-6zM556 287h6v5h-6zM262 292h6v5h-6zM298 292h6v5h-6zM460 292h6v5h-6zM532 292h6v5h-6zM262 297h6v5h-6zM298 297h6v5h-6zM460 297h6v5h-6zM562 297h6v5h-6zM754 297h12v5h-12zM238 302h6v5h-6zM262 302h6v5h-6zM298 302h6v5h-6zM460 302h6v5h-6zM526 302h6v5h-6zM562 302h6v5h-6zM754 302h12v5h-12zM238 307h6v5h-6zM262 307h6v5h-6zM298 307h6v5h-6zM526 307h6v5h-6zM748 307h12v5h-12zM766 307h6v5h-6zM238 312h6v5h-6zM388 312h6v5h-6zM748 312h6v5h-6zM766 312h6v5h-6zM238 317h6v5h-6zM388 317h6v5h-6zM748 317h6v5h-6zM886 317h36v5h-36zM256 322h6v5h-6zM388 322h6v5h-6zM520 322h6v5h-6zM568 322h6v5h-6zM880 322h42v5h-42zM244 327h6v5h-6zM256 327h6v5h-6zM520 327h6v5h-6zM568 327h6v5h-6zM742 327h6v5h-6zM772 327h6v5h-6zM874 327h6v5h-6zM244 332h18v5h-18zM466 332h6v5h-6zM742 332h6v5h-6zM772 332h6v5h-6zM250 337h6v5h-6zM466 337h6v5h-6zM514 337h6v5h-6zM868 337h6v5h-6zM466 342h6v5h-6zM466 347h6v5h-6zM736 347h6v5h-6zM778 347h6v5h-6zM862 347h6v5h-6zM508 352h6v5h-6zM736 352h6v5h-6zM778 352h6v5h-6zM862 352h6v5h-6zM472 357h6v5h-6zM574 357h6v5h-6zM346 362h6v5h-6zM472 362h6v5h-6zM502 362h6v5h-6zM574 362h6v5h-6zM472 367h12v5h-12zM496 367h12v5h-12zM478 372h24v5h-24zM730 372h6v5h-6zM784 372h6v5h-6zM382 377h6v5h-6zM478 377h24v5h-24zM730 377h6v5h-6zM784 377h6v5h-6zM856 377h6v5h-6zM382 382h6v5h-6zM484 382h12v5h-12zM730 382h6v5h-6zM856 382h6v5h-6zM382 387h6v5h-6zM580 387h6v5h-6zM856 387h6v5h-6zM694 392h12v5h-12zM586 397h6v5h-6zM694 397h12v5h-12zM724 397h6v5h-6zM352 402h6v5h-6zM586 402h6v5h-6zM694 402h18v5h-18zM724 402h6v5h-6zM352 407h6v5h-6zM586 407h6v5h-6zM694 407h30v5h-30zM376 412h6v5h-6zM592 412h6v5h-6zM688 412h12v5h-12zM706 412h18v5h-18zM790 412h6v5h-6zM358 417h24v5h-24zM592 417h6v5h-6zM688 417h6v5h-6zM790 417h6v5h-6zM358 422h18v5h-18zM592 422h6v5h-6zM688 422h6v5h-6zM790 422h6v5h-6zM358 427h18v5h-18zM592 427h6v5h-6zM688 427h6v5h-6zM790 427h6v5h-6z"/>
<path fill="#0ec4c7" d="M250 197h6v5h-6zM250 202h6v5h-6zM244 207h18v5h-18zM244 212h6v5h-6zM256 212h6v5h-6zM322 212h6v5h-6zM244 217h6v5h-6zM256 217h6v5h-6zM316 217h18v5h-18zM424 217h24v5h-24zM256 222h6v5h-6zM316 222h18v5h-18zM418 222h36v5h-36zM310 227h12v5h-12zM328 227h6v5h-6zM412 227h12v5h-12zM448 227h6v5h-6zM238 232h6v5h-6zM310 232h6v5h-6zM406 232h12v5h-12zM448 232h6v5h-6zM238 237h6v5h-6zM310 237h6v5h-6zM334 237h6v5h-6zM400 237h12v5h-12zM238 242h6v5h-6zM334 242h6v5h-6zM400 242h6v5h-6zM238 247h6v5h-6zM334 247h6v5h-6zM394 247h6v5h-6zM454 247h6v5h-6zM238 252h6v5h-6zM304 252h6v5h-6zM394 252h6v5h-6zM454 252h6v5h-6zM238 257h6v5h-6zM304 257h6v5h-6zM454 257h6v5h-6zM238 262h6v5h-6zM454 262h6v5h-6zM238 267h6v5h-6zM238 272h6v5h-6zM238 277h6v5h-6zM238 282h6v5h-6zM544 282h6v5h-6zM238 287h6v5h-6zM340 287h6v5h-6zM538 287h18v5h-18zM238 292h6v5h-6zM340 292h6v5h-6zM538 292h24v5h-24zM238 297h6v5h-6zM340 297h6v5h-6zM532 297h6v5h-6zM556 297h6v5h-6zM256 302h6v5h-6zM532 302h6v5h-6zM244 307h6v5h-6zM256 307h6v5h-6zM460 307h6v5h-6zM562 307h6v5h-6zM760 307h6v5h-6zM244 312h18v5h-18zM298 312h6v5h-6zM460 312h6v5h-6zM526 312h6v5h-6zM562 312h6v5h-6zM754 312h12v5h-12zM244 317h18v5h-18zM298 317h6v5h-6zM460 317h6v5h-6zM526 317h6v5h-6zM754 317h6v5h-6zM766 317h6v5h-6zM244 322h12v5h-12zM298 322h6v5h-6zM460 322h6v5h-6zM748 322h6v5h-6zM766 322h6v5h-6zM250 327h6v5h-6zM388 327h6v5h-6zM460 327h6v5h-6zM748 327h6v5h-6zM880 327h42v5h-42zM388 332h6v5h-6zM460 332h6v5h-6zM520 332h6v5h-6zM568 332h6v5h-6zM874 332h12v5h-12zM460 337h6v5h-6zM568 337h6v5h-6zM742 337h6v5h-6zM772 337h6v5h-6zM874 337h6v5h-6zM514 342h6v5h-6zM868 342h6v5h-6zM466 352h6v5h-6zM466 357h6v5h-6zM508 357h6v5h-6zM736 357h6v5h-6zM778 357h6v5h-6zM862 357h6v5h-6zM466 362h6v5h-6zM508 362h6v5h-6zM736 362h6v5h-6zM862 362h6v5h-6zM346 367h6v5h-6zM466 367h6v5h-6zM574 367h6v5h-6zM346 372h6v5h-6zM466 372h12v5h-12zM502 372h6v5h-6zM574 372h6v5h-6zM346 377h6v5h-6zM472 377h6v5h-6zM502 377h6v5h-6zM472 382h12v5h-12zM496 382h6v5h-6zM784 382h6v5h-6zM472 387h30v5h-30zM730 387h6v5h-6zM784 387h6v5h-6zM382 392h6v5h-6zM478 392h18v5h-18zM580 392h6v5h-6zM730 392h6v5h-6zM856 392h6v5h-6zM382 397h6v5h-6zM478 397h18v5h-18zM580 397h6v5h-6zM856 397h6v5h-6zM724 407h6v5h-6zM352 412h6v5h-6zM586 412h6v5h-6zM700 412h6v5h-6zM724 412h6v5h-6zM352 417h6v5h-6zM586 417h6v5h-6zM694 417h30v5h-30zM352 422h6v5h-6zM376 422h6v5h-6zM694 422h30v5h-30zM376 427h6v5h-6zM694 427h30v5h-30z"/>
<path fill="#10c0ce" d="M250 212h6v5h-6zM250 217h6v5h-6zM244 222h12v5h-12zM244 227h18v5h-18zM322 227h6v5h-6zM424 227h24v5h-24zM244 232h18v5h-18zM316 232h18v5h-18zM418 232h30v5h-30zM244 237h18v5h-18zM316 237h18v5h-18zM412 237h12v5h-12zM442 237h12v5h-12zM244 242h6v5h-6zM256 242h6v5h-6zM310 242h12v5h-12zM328 242h6v5h-6zM406 242h12v5h-12zM448 242h6v5h-6zM244 247h6v5h-6zM256 247h6v5h-6zM310 247h6v5h-6zM400 247h6v5h-6zM244 252h6v5h-6zM256 252h6v5h-6zM310 252h6v5h-6zM334 252h6v5h-6zM244 257h6v5h-6zM256 257h6v5h-6zM334 257h6v5h-6zM394 257h6v5h-6zM244 262h6v5h-6zM256 262h6v5h-6zM304 262h6v5h-6zM394 262h6v5h-6zM244 267h6v5h-6zM256 267h6v5h-6zM304 267h6v5h-6zM454 267h6v5h-6zM244 272h6v5h-6zM256 272h6v5h-6zM454 272h6v5h-6zM244 277h6v5h-6zM256 277h6v5h-6zM454 277h6v5h-6zM244 282h6v5h-6zM256 282h6v5h-6zM454 282h6v5h-6zM244 287h6v5h-6zM256 287h6v5h-6zM244 292h18v5h-18zM244 297h18v5h-18zM538 297h18v5h-18zM244 302h12v5h-12zM340 302h6v5h-6zM538 302h24v5h-24zM250 307h6v5h-6zM340 307h6v5h-6zM532 307h6v5h-6zM556 307h6v5h-6zM340 312h6v5h-6zM532 312h6v5h-6zM562 317h6v5h-6zM760 317h6v5h-6zM526 322h6v5h-6zM562 322h6v5h-6zM754 322h12v5h-12zM298 327h6v5h-6zM526 327h6v5h-6zM754 327h6v5h-6zM766 327h6v5h-6zM298 332h6v5h-6zM748 332h6v5h-6zM886 332h24v5h-24zM298 337h6v5h-6zM388 337h6v5h-6zM520 337h6v5h-6zM880 337h6v5h-6zM298 342h6v5h-6zM388 342h6v5h-6zM460 342h6v5h-6zM568 342h6v5h-6zM742 342h6v5h-6zM772 342h6v5h-6zM874 342h6v5h-6zM298 347h6v5h-6zM460 347h6v5h-6zM514 347h6v5h-6zM568 347h6v5h-6zM742 347h6v5h-6zM868 347h6v5h-6zM298 352h6v5h-6zM460 352h6v5h-6zM868 352h6v5h-6zM460 357h6v5h-6zM460 362h6v5h-6zM778 362h6v5h-6zM460 367h6v5h-6zM508 367h6v5h-6zM736 367h6v5h-6zM862 367h6v5h-6zM460 372h6v5h-6zM736 372h6v5h-6zM460 377h12v5h-12zM574 377h6v5h-6zM346 382h6v5h-6zM466 382h6v5h-6zM502 382h6v5h-6zM574 382h6v5h-6zM346 387h6v5h-6zM466 387h6v5h-6zM502 387h6v5h-6zM346 392h6v5h-6zM466 392h12v5h-12zM496 392h6v5h-6zM784 392h6v5h-6zM466 397h12v5h-12zM496 397h6v5h-6zM730 397h6v5h-6zM784 397h6v5h-6zM382 402h6v5h-6zM466 402h30v5h-30zM580 402h6v5h-6zM730 402h6v5h-6zM856 402h6v5h-6zM382 407h6v5h-6zM472 407h18v5h-18zM580 407h6v5h-6zM730 407h6v5h-6zM856 407h6v5h-6zM382 412h6v5h-6zM478 412h12v5h-12zM856 412h6v5h-6zM724 417h6v5h-6zM586 422h6v5h-6zM724 422h6v5h-6zM352 427h6v5h-6zM586 427h6v5h-6zM724 427h6v5h-6z"/>
<path fill="#12bcd4" d="M424 237h18v5h-18zM250 242h6v5h-6zM322 242h6v5h-6zM418 242h30v5h-30zM250 247h6v5h-6zM316 247h18v5h-18zM406 247h18v5h-18zM442 247h12v5h-12zM250 252h6v5h-6zM316 252h18v5h-18zM400 252h18v5h-18zM448 252h6v5h-6zM250 257h6v5h-6zM310 257h6v5h-6zM400 257h12v5h-12zM448 257h6v5h-6zM250 262h6v5h-6zM310 262h6v5h-6zM334 262h6v5h-6zM400 262h6v5h-6zM448 262h6v5h-6zM250 267h6v5h-6zM334 267h6v5h-6zM394 267h6v5h-6zM250 272h6v5h-6zM304 272h6v5h-6zM394 272h6v5h-6zM250 277h6v5h-6zM304 277h6v5h-6zM394 277h6v5h-6zM250 282h6v5h-6zM250 287h6v5h-6zM454 287h6v5h-6zM454 292h6v5h-6zM454 297h6v5h-6zM454 302h6v5h-6zM454 307h6v5h-6zM538 307h18v5h-18zM454 312h6v5h-6zM538 312h24v5h-24zM340 317h6v5h-6zM454 317h6v5h-6zM532 317h6v5h-6zM556 317h6v5h-6zM340 322h6v5h-6zM454 322h6v5h-6zM532 322h6v5h-6zM454 327h6v5h-6zM562 327h6v5h-6zM760 327h6v5h-6zM454 332h6v5h-6zM526 332h6v5h-6zM562 332h6v5h-6zM754 332h6v5h-6zM766 332h6v5h-6zM910 332h12v5h-12zM454 337h6v5h-6zM748 337h6v5h-6zM766 337h6v5h-6zM886 337h18v5h-18zM454 342h6v5h-6zM520 342h6v5h-6zM748 342h6v5h-6zM880 342h12v5h-12zM388 347h6v5h-6zM454 347h6v5h-6zM772 347h6v5h-6zM874 347h6v5h-6zM388 352h6v5h-6zM454 352h6v5h-6zM514 352h6v5h-6zM568 352h6v5h-6zM742 352h6v5h-6zM772 352h6v5h-6zM298 357h6v5h-6zM454 357h6v5h-6zM514 357h6v5h-6zM568 357h6v5h-6zM868 357h6v5h-6zM298 362h6v5h-6zM454 362h6v5h-6zM298 367h6v5h-6zM778 367h6v5h-6zM298 372h6v5h-6zM508 372h6v5h-6zM778 372h6v5h-6zM862 372h6v5h-6zM298 377h6v5h-6zM508 377h6v5h-6zM736 377h6v5h-6zM862 377h6v5h-6zM298 382h6v5h-6zM460 382h6v5h-6zM736 382h6v5h-6zM862 382h6v5h-6zM298 387h6v5h-6zM460 387h6v5h-6zM574 387h6v5h-6zM736 387h6v5h-6zM298 392h6v5h-6zM460 392h6v5h-6zM502 392h6v5h-6zM574 392h6v5h-6zM346 397h6v5h-6zM460 397h6v5h-6zM502 397h6v5h-6zM346 402h6v5h-6zM460 402h6v5h-6zM496 402h6v5h-6zM784 402h6v5h-6zM346 407h6v5h-6zM460 407h12v5h-12zM490 407h6v5h-6zM784 407h6v5h-6zM460 412h18v5h-18zM490 412h6v5h-6zM580 412h6v5h-6zM730 412h6v5h-6zM382 417h6v5h-6zM460 417h36v5h-36zM580 417h6v5h-6zM730 417h6v5h-6zM856 417h6v5h-6zM382 422h6v5h-6zM460 422h36v5h-36zM580 422h6v5h-6zM730 422h6v5h-6zM856 422h6v5h-6zM382 427h6v5h-6zM460 427h36v5h-36zM730 427h6v5h-6zM856 427h6v5h-6z"/>
<path fill="#14b8db" d="M424 247h18v5h-18zM418 252h30v5h-30zM316 257h18v5h-18zM412 257h12v5h-12zM436 257h12v5h-12zM316 262h18v5h-18zM406 262h12v5h-12zM442 262h6v5h-6zM310 267h6v5h-6zM400 267h12v5h-12zM448 267h6v5h-6zM310 272h6v5h-6zM334 272h6v5h-6zM400 272h6v5h-6zM448 272h6v5h-6zM334 277h6v5h-6zM448 277h6v5h-6zM304 282h6v5h-6zM394 282h6v5h-6zM448 282h6v5h-6zM304 287h6v5h-6zM394 287h6v5h-6zM304 292h6v5h-6zM538 317h18v5h-18zM538 322h24v5h-24zM340 327h6v5h-6zM532 327h6v5h-6zM556 327h6v5h-6zM340 332h6v5h-6zM532 332h6v5h-6zM760 332h6v5h-6zM340 337h6v5h-6zM526 337h6v5h-6zM562 337h6v5h-6zM754 337h12v5h-12zM904 337h18v5h-18zM562 342h6v5h-6zM766 342h6v5h-6zM892 342h12v5h-12zM520 347h6v5h-6zM748 347h6v5h-6zM880 347h12v5h-12zM874 352h12v5h-12zM388 357h6v5h-6zM742 357h6v5h-6zM772 357h6v5h-6zM874 357h6v5h-6zM388 362h6v5h-6zM514 362h6v5h-6zM568 362h6v5h-6zM742 362h6v5h-6zM868 362h6v5h-6zM454 367h6v5h-6zM568 367h6v5h-6zM454 372h6v5h-6zM454 377h6v5h-6zM778 377h6v5h-6zM454 382h6v5h-6zM508 382h6v5h-6zM778 382h6v5h-6zM454 387h6v5h-6zM508 387h6v5h-6zM862 387h6v5h-6zM454 392h6v5h-6zM736 392h6v5h-6zM862 392h6v5h-6zM298 397h6v5h-6zM454 397h6v5h-6zM574 397h6v5h-6zM736 397h6v5h-6zM298 402h6v5h-6zM454 402h6v5h-6zM574 402h6v5h-6zM736 402h6v5h-6zM298 407h6v5h-6zM454 407h6v5h-6zM496 407h6v5h-6zM298 412h6v5h-6zM346 412h6v5h-6zM454 412h6v5h-6zM784 412h6v5h-6zM298 417h6v5h-6zM346 417h6v5h-6zM454 417h6v5h-6zM784 417h6v5h-6zM298 422h6v5h-6zM346 422h6v5h-6zM454 422h6v5h-6zM298 427h6v5h-6zM346 427h6v5h-6zM454 427h6v5h-6zM496 427h6v5h-6zM580 427h6v5h-6z"/>
<path fill="#16b4e2" d="M424 257h12v5h-12zM418 262h24v5h-24zM316 267h18v5h-18zM412 267h36v5h-36zM316 272h18v5h-18zM406 272h18v5h-18zM436 272h12v5h-12zM310 277h6v5h-6zM400 277h18v5h-18zM442 277h6v5h-6zM310 282h6v5h-6zM334 282h6v5h-6zM400 282h12v5h-12zM442 282h6v5h-6zM334 287h6v5h-6zM400 287h6v5h-6zM448 287h6v5h-6zM394 292h6v5h-6zM448 292h6v5h-6zM304 297h6v5h-6zM394 297h6v5h-6zM448 297h6v5h-6zM304 302h6v5h-6zM394 302h6v5h-6zM448 302h6v5h-6zM394 307h6v5h-6zM448 307h6v5h-6zM448 312h6v5h-6zM448 317h6v5h-6zM448 322h6v5h-6zM448 327h6v5h-6zM538 327h18v5h-18zM448 332h6v5h-6zM538 332h24v5h-24zM448 337h6v5h-6zM532 337h6v5h-6zM556 337h6v5h-6zM340 342h6v5h-6zM448 342h6v5h-6zM526 342h6v5h-6zM754 342h12v5h-12zM904 342h18v5h-18zM340 347h6v5h-6zM448 347h6v5h-6zM562 347h6v5h-6zM754 347h6v5h-6zM766 347h6v5h-6zM892 347h12v5h-12zM448 352h6v5h-6zM520 352h6v5h-6zM562 352h6v5h-6zM748 352h6v5h-6zM886 352h6v5h-6zM448 357h6v5h-6zM880 357h6v5h-6zM448 362h6v5h-6zM772 362h6v5h-6zM874 362h6v5h-6zM388 367h6v5h-6zM448 367h6v5h-6zM514 367h6v5h-6zM742 367h6v5h-6zM868 367h6v5h-6zM388 372h6v5h-6zM448 372h6v5h-6zM568 372h6v5h-6zM742 372h6v5h-6zM868 372h6v5h-6zM388 377h6v5h-6zM448 377h6v5h-6zM568 377h6v5h-6zM448 382h6v5h-6zM448 387h6v5h-6zM778 387h6v5h-6zM448 392h6v5h-6zM508 392h6v5h-6zM778 392h6v5h-6zM448 397h6v5h-6zM862 397h6v5h-6zM448 402h6v5h-6zM502 402h6v5h-6zM862 402h6v5h-6zM448 407h6v5h-6zM574 407h6v5h-6zM736 407h6v5h-6zM448 412h6v5h-6zM574 412h6v5h-6zM736 412h6v5h-6zM448 417h6v5h-6zM736 417h6v5h-6zM448 422h6v5h-6zM496 422h6v5h-6zM784 422h6v5h-6zM448 427h6v5h-6zM784 427h6v5h-6z"/>
<path fill="#19afe5" d="M424 272h12v5h-12zM316 277h18v5h-18zM418 277h24v5h-24zM316 282h18v5h-18zM412 282h12v5h-12zM436 282h6v5h-6zM310 287h6v5h-6zM406 287h18v5h-18zM436 287h12v5h-12zM310 292h6v5h-6zM334 292h6v5h-6zM400 292h18v5h-18zM442 292h6v5h-6zM334 297h6v5h-6zM400 297h12v5h-12zM442 297h6v5h-6zM400 302h6v5h-6zM442 302h6v5h-6zM304 307h6v5h-6zM442 307h6v5h-6zM304 312h6v5h-6zM394 312h6v5h-6zM442 312h6v5h-6zM304 317h6v5h-6zM394 317h6v5h-6zM442 317h6v5h-6zM394 322h6v5h-6zM442 322h6v5h-6zM394 327h6v5h-6zM442 327h6v5h-6zM442 332h6v5h-6zM442 337h6v5h-6zM538 337h18v5h-18zM442 342h6v5h-6zM532 342h30v5h-30zM442 347h6v5h-6zM526 347h6v5h-6zM556 347h6v5h-6zM760 347h6v5h-6zM904 347h18v5h-18zM340 352h6v5h-6zM442 352h6v5h-6zM754 352h6v5h-6zM766 352h6v5h-6zM892 352h12v5h-12zM340 357h6v5h-6zM442 357h6v5h-6zM520 357h6v5h-6zM562 357h6v5h-6zM748 357h6v5h-6zM886 357h12v5h-12zM442 362h6v5h-6zM562 362h6v5h-6zM748 362h6v5h-6zM880 362h12v5h-12zM442 367h6v5h-6zM772 367h6v5h-6zM874 367h12v5h-12zM442 372h6v5h-6zM514 372h6v5h-6zM772 372h6v5h-6zM874 372h6v5h-6zM442 377h6v5h-6zM514 377h6v5h-6zM742 377h6v5h-6zM772 377h6v5h-6zM868 377h6v5h-6zM388 382h6v5h-6zM442 382h6v5h-6zM568 382h6v5h-6zM742 382h6v5h-6zM868 382h6v5h-6zM388 387h6v5h-6zM442 387h6v5h-6zM568 387h6v5h-6zM742 387h6v5h-6zM388 392h6v5h-6zM442 392h6v5h-6zM388 397h6v5h-6zM442 397h6v5h-6zM508 397h6v5h-6zM778 397h6v5h-6zM388 402h6v5h-6zM442 402h6v5h-6zM778 402h6v5h-6zM442 407h6v5h-6zM862 407h6v5h-6zM442 412h6v5h-6zM496 412h6v5h-6zM862 412h6v5h-6zM442 417h6v5h-6zM496 417h6v5h-6zM574 417h6v5h-6zM442 422h6v5h-6zM574 422h6v5h-6zM736 422h6v5h-6zM442 427h6v5h-6zM502 427h6v5h-6zM574 427h6v5h-6zM736 427h6v5h-6z"/>
<path fill="#1caae8" d="M424 282h12v5h-12zM316 287h18v5h-18zM424 287h12v5h-12zM316 292h18v5h-18zM418 292h24v5h-24zM310 297h6v5h-6zM412 297h30v5h-30zM310 302h6v5h-6zM334 302h6v5h-6zM406 302h18v5h-18zM436 302h6v5h-6zM334 307h6v5h-6zM400 307h18v5h-18zM436 307h6v5h-6zM334 312h6v5h-6zM400 312h18v5h-18zM436 312h6v5h-6zM400 317h12v5h-12zM436 317h6v5h-6zM304 322h6v5h-6zM400 322h6v5h-6zM304 327h6v5h-6zM304 332h6v5h-6zM394 332h6v5h-6zM394 337h6v5h-6zM394 342h6v5h-6zM394 347h6v5h-6zM532 347h24v5h-24zM526 352h18v5h-18zM550 352h12v5h-12zM760 352h6v5h-6zM904 352h12v5h-12zM526 357h6v5h-6zM556 357h6v5h-6zM754 357h18v5h-18zM898 357h6v5h-6zM340 362h6v5h-6zM520 362h6v5h-6zM766 362h6v5h-6zM892 362h6v5h-6zM340 367h6v5h-6zM562 367h6v5h-6zM748 367h6v5h-6zM886 367h6v5h-6zM340 372h6v5h-6zM562 372h6v5h-6zM748 372h6v5h-6zM880 372h6v5h-6zM340 377h6v5h-6zM874 377h6v5h-6zM340 382h6v5h-6zM514 382h6v5h-6zM772 382h6v5h-6zM772 387h6v5h-6zM868 387h6v5h-6zM568 392h6v5h-6zM742 392h6v5h-6zM868 392h6v5h-6zM568 397h6v5h-6zM742 397h6v5h-6zM508 402h6v5h-6zM568 402h6v5h-6zM742 402h6v5h-6zM388 407h6v5h-6zM778 407h6v5h-6zM388 412h6v5h-6zM778 412h6v5h-6zM388 417h6v5h-6zM862 417h6v5h-6zM388 422h6v5h-6zM502 422h6v5h-6zM862 422h6v5h-6zM388 427h6v5h-6zM862 427h6v5h-6z"/>
<path fill="#20a5ea" d="M316 297h18v5h-18zM316 302h18v5h-18zM424 302h12v5h-12zM310 307h6v5h-6zM418 307h18v5h-18zM310 312h6v5h-6zM418 312h18v5h-18zM334 317h6v5h-6zM412 317h24v5h-24zM334 322h6v5h-6zM406 322h18v5h-18zM430 322h12v5h-12zM400 327h24v5h-24zM436 327h6v5h-6zM400 332h18v5h-18zM436 332h6v5h-6zM304 337h6v5h-6zM400 337h18v5h-18zM436 337h6v5h-6zM304 342h6v5h-6zM400 342h18v5h-18zM436 342h6v5h-6zM304 347h6v5h-6zM400 347h12v5h-12zM436 347h6v5h-6zM304 352h6v5h-6zM394 352h12v5h-12zM436 352h6v5h-6zM544 352h6v5h-6zM916 352h6v5h-6zM304 357h6v5h-6zM394 357h6v5h-6zM436 357h6v5h-6zM532 357h24v5h-24zM904 357h6v5h-6zM394 362h6v5h-6zM436 362h6v5h-6zM526 362h6v5h-6zM550 362h12v5h-12zM754 362h12v5h-12zM898 362h6v5h-6zM394 367h6v5h-6zM436 367h6v5h-6zM520 367h6v5h-6zM556 367h6v5h-6zM754 367h6v5h-6zM766 367h6v5h-6zM892 367h6v5h-6zM436 372h6v5h-6zM556 372h6v5h-6zM766 372h6v5h-6zM886 372h6v5h-6zM436 377h6v5h-6zM562 377h6v5h-6zM748 377h6v5h-6zM880 377h6v5h-6zM436 382h6v5h-6zM562 382h6v5h-6zM748 382h6v5h-6zM874 382h12v5h-12zM340 387h6v5h-6zM436 387h6v5h-6zM514 387h6v5h-6zM562 387h6v5h-6zM748 387h6v5h-6zM874 387h6v5h-6zM340 392h6v5h-6zM436 392h6v5h-6zM514 392h6v5h-6zM772 392h6v5h-6zM340 397h6v5h-6zM436 397h6v5h-6zM772 397h6v5h-6zM868 397h6v5h-6zM340 402h6v5h-6zM436 402h6v5h-6zM868 402h6v5h-6zM340 407h6v5h-6zM436 407h6v5h-6zM502 407h6v5h-6zM568 407h6v5h-6zM742 407h6v5h-6zM436 412h6v5h-6zM568 412h6v5h-6zM742 412h6v5h-6zM436 417h6v5h-6zM778 417h6v5h-6zM436 422h6v5h-6zM778 422h6v5h-6zM436 427h6v5h-6zM508 427h6v5h-6zM778 427h6v5h-6z"/>
<path fill="#23a0ed" d="M316 307h18v5h-18zM316 312h18v5h-18zM310 317h6v5h-6zM328 317h6v5h-6zM310 322h6v5h-6zM424 322h6v5h-6zM310 327h6v5h-6zM334 327h6v5h-6zM424 327h12v5h-12zM334 332h6v5h-6zM418 332h18v5h-18zM334 337h6v5h-6zM418 337h18v5h-18zM334 342h6v5h-6zM418 342h18v5h-18zM412 347h24v5h-24zM406 352h30v5h-30zM400 357h36v5h-36zM910 357h12v5h-12zM304 362h6v5h-6zM400 362h36v5h-36zM532 362h18v5h-18zM904 362h6v5h-6zM304 367h6v5h-6zM400 367h36v5h-36zM526 367h30v5h-30zM760 367h6v5h-6zM898 367h6v5h-6zM304 372h6v5h-6zM394 372h42v5h-42zM520 372h6v5h-6zM550 372h6v5h-6zM754 372h12v5h-12zM892 372h6v5h-6zM304 377h6v5h-6zM394 377h42v5h-42zM556 377h6v5h-6zM754 377h18v5h-18zM886 377h6v5h-6zM304 382h6v5h-6zM394 382h42v5h-42zM556 382h6v5h-6zM754 382h6v5h-6zM766 382h6v5h-6zM886 382h6v5h-6zM304 387h6v5h-6zM394 387h42v5h-42zM766 387h6v5h-6zM880 387h6v5h-6zM304 392h6v5h-6zM394 392h42v5h-42zM562 392h6v5h-6zM748 392h6v5h-6zM874 392h6v5h-6zM394 397h42v5h-42zM514 397h6v5h-6zM562 397h6v5h-6zM748 397h6v5h-6zM394 402h42v5h-42zM772 402h6v5h-6zM394 407h42v5h-42zM772 407h6v5h-6zM868 407h6v5h-6zM340 412h6v5h-6zM394 412h6v5h-6zM406 412h30v5h-30zM340 417h6v5h-6zM394 417h6v5h-6zM406 417h30v5h-30zM568 417h6v5h-6zM742 417h6v5h-6zM340 422h6v5h-6zM406 422h30v5h-30zM568 422h6v5h-6zM742 422h6v5h-6zM340 427h6v5h-6zM406 427h30v5h-30zM568 427h6v5h-6zM742 427h6v5h-6z"/>
<path fill="#269bf0" d="M316 317h12v5h-12zM316 322h18v5h-18zM316 327h6v5h-6zM328 327h6v5h-6zM310 332h6v5h-6zM310 337h6v5h-6zM310 342h6v5h-6zM310 347h6v5h-6zM334 347h6v5h-6zM334 352h6v5h-6zM334 357h6v5h-6zM334 362h6v5h-6zM910 362h12v5h-12zM904 367h6v5h-6zM526 372h24v5h-24zM898 372h6v5h-6zM520 377h6v5h-6zM538 377h18v5h-18zM892 377h6v5h-6zM520 382h6v5h-6zM544 382h12v5h-12zM760 382h6v5h-6zM892 382h6v5h-6zM550 387h12v5h-12zM754 387h12v5h-12zM886 387h6v5h-6zM556 392h6v5h-6zM754 392h18v5h-18zM880 392h6v5h-6zM304 397h6v5h-6zM556 397h6v5h-6zM754 397h18v5h-18zM874 397h6v5h-6zM304 402h6v5h-6zM562 402h6v5h-6zM748 402h12v5h-12zM766 402h6v5h-6zM304 407h6v5h-6zM562 407h6v5h-6zM748 407h6v5h-6zM304 412h6v5h-6zM400 412h6v5h-6zM562 412h6v5h-6zM748 412h6v5h-6zM772 412h6v5h-6zM868 412h6v5h-6zM304 417h6v5h-6zM400 417h6v5h-6zM502 417h6v5h-6zM772 417h6v5h-6zM868 417h6v5h-6zM304 422h6v5h-6zM394 422h12v5h-12zM508 422h6v5h-6zM772 422h6v5h-6zM304 427h6v5h-6zM394 427h12v5h-12zM772 427h6v5h-6z"/>
<path fill="#2996f1" d="M322 327h6v5h-6zM316 332h18v5h-18zM316 337h18v5h-18zM316 342h6v5h-6zM328 342h6v5h-6zM316 347h6v5h-6zM328 347h6v5h-6zM310 352h6v5h-6zM310 357h6v5h-6zM310 362h6v5h-6zM310 367h6v5h-6zM334 367h6v5h-6zM910 367h12v5h-12zM334 372h6v5h-6zM904 372h6v5h-6zM334 377h6v5h-6zM526 377h12v5h-12zM898 377h6v5h-6zM334 382h6v5h-6zM526 382h18v5h-18zM334 387h6v5h-6zM520 387h6v5h-6zM538 387h12v5h-12zM892 387h6v5h-6zM544 392h12v5h-12zM886 392h6v5h-6zM550 397h6v5h-6zM880 397h6v5h-6zM514 402h6v5h-6zM556 402h6v5h-6zM760 402h6v5h-6zM874 402h6v5h-6zM556 407h6v5h-6zM754 407h18v5h-18zM874 407h6v5h-6zM502 412h6v5h-6zM754 412h18v5h-18zM562 417h6v5h-6zM748 417h12v5h-12zM766 417h6v5h-6zM562 422h6v5h-6zM748 422h6v5h-6zM766 422h6v5h-6zM868 422h6v5h-6zM514 427h6v5h-6zM562 427h6v5h-6zM748 427h6v5h-6zM766 427h6v5h-6zM868 427h6v5h-6z"/>
<path fill="#2c92f2" d="M322 342h6v5h-6zM322 347h6v5h-6zM316 352h18v5h-18zM316 357h18v5h-18zM316 362h6v5h-6zM328 362h6v5h-6zM328 367h6v5h-6zM310 372h6v5h-6zM910 372h12v5h-12zM310 377h6v5h-6zM904 377h6v5h-6zM310 382h6v5h-6zM898 382h6v5h-6zM310 387h6v5h-6zM526 387h12v5h-12zM310 392h6v5h-6zM334 392h6v5h-6zM520 392h6v5h-6zM532 392h12v5h-12zM334 397h6v5h-6zM520 397h6v5h-6zM544 397h6v5h-6zM886 397h6v5h-6zM334 402h6v5h-6zM544 402h12v5h-12zM880 402h6v5h-6zM508 407h6v5h-6zM550 407h6v5h-6zM556 412h6v5h-6zM874 412h6v5h-6zM556 417h6v5h-6zM760 417h6v5h-6zM754 422h12v5h-12zM754 427h12v5h-12z"/>
<path fill="#2e8df3" d="M322 362h6v5h-6zM316 367h12v5h-12zM316 372h18v5h-18zM316 377h6v5h-6zM328 377h6v5h-6zM910 377h12v5h-12zM316 382h6v5h-6zM328 382h6v5h-6zM904 382h6v5h-6zM898 387h6v5h-6zM526 392h6v5h-6zM892 392h6v5h-6zM310 397h6v5h-6zM526 397h18v5h-18zM310 402h6v5h-6zM538 402h6v5h-6zM310 407h6v5h-6zM334 407h6v5h-6zM544 407h6v5h-6zM880 407h6v5h-6zM334 412h6v5h-6zM550 412h6v5h-6zM550 417h6v5h-6zM874 417h6v5h-6zM334 422h6v5h-6zM514 422h6v5h-6zM556 422h6v5h-6zM874 422h6v5h-6zM334 427h6v5h-6zM556 427h6v5h-6zM874 427h6v5h-6z"/>
<path fill="#3189f4" d="M322 377h6v5h-6zM322 382h6v5h-6zM910 382h12v5h-12zM316 387h18v5h-18zM904 387h6v5h-6zM316 392h6v5h-6zM328 392h6v5h-6zM898 392h6v5h-6zM316 397h6v5h-6zM328 397h6v5h-6zM892 397h6v5h-6zM520 402h18v5h-18zM886 402h6v5h-6zM514 407h6v5h-6zM532 407h12v5h-12zM310 412h6v5h-6zM538 412h12v5h-12zM310 417h6v5h-6zM334 417h6v5h-6zM508 417h6v5h-6zM544 417h6v5h-6zM310 422h6v5h-6zM550 422h6v5h-6zM310 427h6v5h-6zM520 427h6v5h-6zM550 427h6v5h-6z"/>
<path fill="#3484f5" d="M910 387h12v5h-12zM322 392h6v5h-6zM322 397h6v5h-6zM316 402h18v5h-18zM316 407h6v5h-6zM328 407h6v5h-6zM520 407h12v5h-12zM526 412h12v5h-12zM880 412h6v5h-6zM520 417h24v5h-24zM520 422h30v5h-30zM526 427h24v5h-24z"/>
<path fill="#387ff5" d="M904 392h18v5h-18zM898 397h6v5h-6zM892 402h6v5h-6zM322 407h6v5h-6zM886 407h6v5h-6zM316 412h6v5h-6zM328 412h6v5h-6zM508 412h6v5h-6zM520 412h6v5h-6zM316 417h6v5h-6zM514 417h6v5h-6zM880 417h6v5h-6zM316 422h6v5h-6zM328 422h6v5h-6zM880 422h6v5h-6zM316 427h6v5h-6zM328 427h6v5h-6zM880 427h6v5h-6z"/>
<path fill="#3c7af5" d="M904 397h6v5h-6zM322 412h6v5h-6zM514 412h6v5h-6zM886 412h6v5h-6zM322 417h12v5h-12zM322 422h6v5h-6zM322 427h6v5h-6z"/>
<path fill="#4076f5" d="M910 397h12v5h-12zM898 402h6v5h-6zM892 407h6v5h-6zM886 417h6v5h-6zM886 427h6v5h-6z"/>
<path fill="#486cf5" d="M904 402h18v5h-18zM898 407h6v5h-6zM892 412h6v5h-6z"/>
<path fill="#5064f5" d="M904 407h18v5h-18zM898 412h6v5h-6zM892 422h6v5h-6z"/>
<path fill="#585cf5" d="M904 412h12v5h-12zM898 417h6v5h-6zM916 417h6v5h-6zM898 422h6v5h-6zM916 422h6v5h-6zM904 427h18v5h-18z"/>
<path fill="#5460f5" d="M916 412h6v5h-6zM898 427h6v5h-6z"/>
<path fill="#4c68f5" d="M892 417h6v5h-6zM892 427h6v5h-6z"/>
<path fill="#5c58f5" d="M904 417h12v5h-12zM904 422h12v5h-12z"/>
<path fill="#4471f5" d="M886 422h6v5h-6z"/></g></g>
<g clip-path="url(#cAR)"><g filter="url(#bl)"><path fill="#f78706" d="M932 77h18v5h-18zM1220 77h12v5h-12zM932 82h18v5h-18zM1190 82h6v5h-6zM1226 82h6v5h-6zM932 87h18v5h-18zM1226 87h6v5h-6zM932 92h18v5h-18zM1220 92h6v5h-6zM932 97h12v5h-12zM1214 97h6v5h-6zM932 102h18v5h-18zM944 107h6v5h-6zM950 112h6v5h-6zM1034 112h6v5h-6zM956 117h6v5h-6zM968 122h6v5h-6zM1028 122h6v5h-6zM1016 132h6v5h-6z"/>
<path fill="#f67e08" d="M950 77h6v5h-6zM1196 77h6v5h-6zM1214 77h6v5h-6zM950 82h6v5h-6zM1220 82h6v5h-6zM950 87h6v5h-6zM1220 87h6v5h-6zM950 92h6v5h-6zM1046 92h6v5h-6zM944 97h12v5h-12zM1202 97h6v5h-6zM950 102h6v5h-6zM1040 102h6v5h-6zM950 107h6v5h-6zM956 112h6v5h-6zM962 117h6v5h-6zM986 132h6v5h-6z"/>
<path fill="#f5760a" d="M956 77h6v5h-6zM1046 77h6v5h-6zM1202 77h12v5h-12zM956 82h6v5h-6zM1046 82h6v5h-6zM1196 82h6v5h-6zM1208 82h12v5h-12zM956 87h6v5h-6zM1046 87h6v5h-6zM956 92h6v5h-6zM1196 92h6v5h-6zM956 97h6v5h-6zM956 107h6v5h-6zM962 112h6v5h-6zM1022 127h6v5h-6z"/>
<path fill="#f26a0c" d="M962 77h12v5h-12zM962 82h12v5h-12zM1202 82h6v5h-6zM962 87h6v5h-6zM1196 87h6v5h-6zM962 92h6v5h-6zM962 97h6v5h-6zM1040 97h6v5h-6zM1208 97h6v5h-6zM956 102h12v5h-12zM962 107h6v5h-6zM1034 107h6v5h-6zM968 117h6v5h-6zM1028 117h6v5h-6zM974 122h6v5h-6zM980 127h6v5h-6zM992 132h6v5h-6z"/>
<path fill="#e74812" d="M974 77h6v5h-6zM974 82h6v5h-6zM974 87h6v5h-6zM974 92h6v5h-6zM1202 92h6v5h-6zM1034 97h6v5h-6zM974 112h6v5h-6zM974 117h6v5h-6zM986 127h6v5h-6zM1004 132h6v5h-6z"/>
<path fill="#dc291a" d="M980 77h6v5h-6zM1028 102h6v5h-6zM980 117h6v5h-6zM1010 127h6v5h-6z"/>
<path fill="#d7283c" d="M986 77h6v5h-6zM1022 102h6v5h-6z"/>
<path fill="#e4636b" d="M992 77h6v5h-6z"/>
<path fill="#f19880" d="M998 77h6v5h-6zM992 87h6v5h-6zM1016 87h6v5h-6zM992 97h6v5h-6zM1016 97h6v5h-6z"/>
<path fill="#f6b284" d="M1004 77h6v5h-6zM1010 82h6v5h-6z"/>
<path fill="#f3a181" d="M1010 77h6v5h-6z"/>
<path fill="#e86f71" d="M1016 77h6v5h-6zM992 102h6v5h-6zM1016 102h6v5h-6zM998 107h6v5h-6z"/>
<path fill="#da364a" d="M1022 77h6v5h-6zM1004 117h12v5h-12z"/>
<path fill="#d71c1e" d="M1028 77h6v5h-6zM1028 82h6v5h-6zM980 92h6v5h-6zM980 97h6v5h-6zM1028 97h6v5h-6zM980 102h6v5h-6zM980 107h6v5h-6zM1022 112h6v5h-6zM1016 122h6v5h-6z"/>
<path fill="#e43c14" d="M1034 77h6v5h-6zM1034 82h6v5h-6zM1034 87h6v5h-6zM1034 92h6v5h-6zM974 97h6v5h-6zM974 102h6v5h-6zM974 107h6v5h-6zM980 122h6v5h-6zM1022 122h6v5h-6zM1016 127h6v5h-6z"/>
<path fill="#ee5f0e" d="M1040 77h6v5h-6zM1040 82h6v5h-6zM968 87h6v5h-6zM1040 87h6v5h-6zM1214 87h6v5h-6zM968 92h6v5h-6zM1040 92h6v5h-6zM968 97h6v5h-6zM968 102h6v5h-6zM968 107h6v5h-6zM968 112h6v5h-6zM1010 132h6v5h-6z"/>
<path fill="#f88f04" d="M1052 77h6v5h-6zM1190 77h6v5h-6zM1052 82h6v5h-6zM1190 87h6v5h-6zM1046 97h6v5h-6zM932 107h12v5h-12zM1040 107h6v5h-6zM944 112h6v5h-6zM974 127h6v5h-6z"/>
<path fill="#fba600" d="M1058 77h6v5h-6zM1184 77h6v5h-6zM1058 82h6v5h-6zM1184 82h6v5h-6zM1184 87h6v5h-6zM1052 97h6v5h-6zM1220 97h6v5h-6zM1046 107h6v5h-6zM1040 112h6v5h-6zM932 117h6v5h-6zM950 122h6v5h-6zM1028 127h6v5h-6zM1022 132h6v5h-6zM992 137h6v5h-6zM980 177h6v5h-6z"/>
<path fill="#fdb100" d="M1064 77h6v5h-6zM1064 82h6v5h-6zM1064 87h6v5h-6zM1190 97h6v5h-6zM1226 97h6v5h-6zM932 122h12v5h-12zM1034 122h6v5h-6zM962 127h6v5h-6zM974 132h6v5h-6zM986 137h6v5h-6zM986 182h6v5h-6z"/>
<path fill="#feb600" d="M1070 77h6v5h-6zM1178 77h6v5h-6zM1070 82h6v5h-6zM1178 82h6v5h-6zM1070 87h6v5h-6zM1064 92h6v5h-6zM1184 92h6v5h-6zM1058 97h6v5h-6zM1202 102h12v5h-12zM1046 112h6v5h-6zM1040 117h6v5h-6zM956 127h6v5h-6zM986 177h6v5h-6zM980 187h6v5h-6z"/>
<path fill="#ffbc00" d="M1076 77h6v5h-6zM1076 82h6v5h-6zM1076 87h6v5h-6zM1178 87h6v5h-6zM1070 92h6v5h-6zM1058 102h6v5h-6zM1214 102h6v5h-6zM1052 107h6v5h-6zM950 127h6v5h-6zM1034 127h6v5h-6zM1028 132h6v5h-6zM1016 137h6v5h-6z"/>
<path fill="#ffbe00" d="M1082 77h6v5h-6zM1082 82h6v5h-6zM1082 87h6v5h-6zM1076 92h6v5h-6zM1064 97h6v5h-6zM1196 102h6v5h-6zM932 127h18v5h-18zM968 132h6v5h-6zM980 137h6v5h-6zM980 172h6v5h-6z"/>
<path fill="#ffc300" d="M1088 77h6v5h-6zM1088 82h6v5h-6zM1088 87h6v5h-6zM1082 97h6v5h-6zM1070 102h6v5h-6zM1190 102h6v5h-6zM1226 102h6v5h-6zM962 132h6v5h-6zM1022 137h6v5h-6zM974 177h6v5h-6zM974 187h6v5h-6zM980 192h6v5h-6z"/>
<path fill="#ffc600" d="M1094 77h6v5h-6zM1136 77h12v5h-12zM1166 77h6v5h-6zM1094 82h6v5h-6zM1136 82h12v5h-12zM1166 82h6v5h-6zM1094 87h6v5h-6zM1088 92h6v5h-6zM1172 92h6v5h-6zM1088 97h6v5h-6zM1076 102h6v5h-6zM1064 107h6v5h-6zM1040 127h6v5h-6zM932 132h30v5h-30zM1034 132h6v5h-6zM974 137h6v5h-6zM992 142h12v5h-12zM986 172h6v5h-6zM974 192h6v5h-6z"/>
<path fill="#ffc800" d="M1100 77h6v5h-6zM1130 77h6v5h-6zM1148 77h6v5h-6zM1160 77h6v5h-6zM1100 82h6v5h-6zM1130 82h6v5h-6zM1148 82h6v5h-6zM1160 82h6v5h-6zM1100 87h6v5h-6zM1130 87h24v5h-24zM1166 87h6v5h-6zM1094 92h6v5h-6zM1094 97h6v5h-6zM1178 97h6v5h-6zM1082 102h12v5h-12zM1070 107h6v5h-6zM1196 107h18v5h-18zM1058 112h6v5h-6zM1052 117h6v5h-6zM1046 122h6v5h-6zM986 142h6v5h-6zM1004 142h6v5h-6zM974 197h12v5h-12z"/>
<path fill="#fbc800" d="M1106 77h24v5h-24zM1154 77h6v5h-6zM1106 82h24v5h-24zM1154 82h6v5h-6zM1106 87h24v5h-24zM1154 87h12v5h-12zM1100 92h12v5h-12zM1130 92h18v5h-18zM1166 92h6v5h-6zM1100 97h6v5h-6zM1094 102h6v5h-6zM1184 102h6v5h-6zM1076 107h6v5h-6zM1214 107h12v5h-12zM1040 132h6v5h-6zM968 137h6v5h-6zM1028 137h6v5h-6zM980 167h6v5h-6zM974 172h6v5h-6zM986 192h6v5h-6zM974 202h12v5h-12zM974 207h12v5h-12z"/>
<path fill="#ffc100" d="M1172 77h6v5h-6zM1172 82h6v5h-6zM1172 87h6v5h-6zM1082 92h6v5h-6zM1178 92h6v5h-6zM1070 97h12v5h-12zM1184 97h6v5h-6zM1064 102h6v5h-6zM1220 102h6v5h-6zM1058 107h6v5h-6zM1052 112h6v5h-6zM1046 117h6v5h-6zM1040 122h6v5h-6zM974 182h6v5h-6zM986 187h6v5h-6z"/>
<path fill="#da221c" d="M980 82h6v5h-6zM980 87h6v5h-6zM980 112h6v5h-6zM1022 117h6v5h-6zM986 122h6v5h-6zM998 127h12v5h-12z"/>
<path fill="#d82f43" d="M986 82h6v5h-6zM986 102h6v5h-6zM992 112h6v5h-6zM1016 112h6v5h-6zM998 117h6v5h-6z"/>
<path fill="#eb7b77" d="M992 82h6v5h-6zM1010 107h6v5h-6z"/>
<path fill="#f4a983" d="M998 82h6v5h-6zM992 92h6v5h-6zM1016 92h6v5h-6zM998 102h6v5h-6zM1010 102h6v5h-6z"/>
<path fill="#f7b68a" d="M1004 82h6v5h-6zM1004 102h6v5h-6z"/>
<path fill="#ee877d" d="M1016 82h6v5h-6z"/>
<path fill="#db3d51" d="M1022 82h6v5h-6zM986 87h6v5h-6zM986 97h6v5h-6zM1022 97h6v5h-6z"/>
<path fill="#f9c095" d="M998 87h6v5h-6zM1010 87h6v5h-6z"/>
<path fill="#fac69f" d="M1004 87h6v5h-6zM998 92h6v5h-6zM1010 92h6v5h-6z"/>
<path fill="#dd4458" d="M1022 87h6v5h-6zM986 92h6v5h-6zM992 107h6v5h-6zM1016 107h6v5h-6zM998 112h6v5h-6z"/>
<path fill="#d71e24" d="M1028 87h6v5h-6zM1028 92h6v5h-6zM992 122h6v5h-6z"/>
<path fill="#f99802" d="M1052 87h6v5h-6zM1052 92h6v5h-6zM1190 92h6v5h-6zM1196 97h6v5h-6zM1046 102h6v5h-6zM932 112h12v5h-12zM950 117h6v5h-6zM962 122h6v5h-6zM980 132h6v5h-6z"/>
<path fill="#fcab00" d="M1058 87h6v5h-6zM1058 92h6v5h-6zM1052 102h6v5h-6zM944 122h6v5h-6zM968 127h6v5h-6zM1010 137h6v5h-6z"/>
<path fill="#eb5310" d="M1202 87h12v5h-12zM1214 92h6v5h-6zM1034 102h6v5h-6zM1028 112h6v5h-6zM998 132h6v5h-6z"/>
<path fill="#fccca6" d="M1004 92h6v5h-6z"/>
<path fill="#de4b5f" d="M1022 92h6v5h-6zM1010 112h6v5h-6z"/>
<path fill="#f7c900" d="M1112 92h18v5h-18zM1148 92h18v5h-18zM1106 97h6v5h-6zM1172 97h6v5h-6zM1100 102h6v5h-6zM1082 107h6v5h-6zM1190 107h6v5h-6zM1226 107h6v5h-6zM1064 112h12v5h-12zM1046 127h6v5h-6zM962 137h6v5h-6zM980 142h6v5h-6zM1010 142h6v5h-6zM974 212h12v5h-12zM974 217h12v5h-12z"/>
<path fill="#e13616" d="M1208 92h6v5h-6zM1028 107h6v5h-6z"/>
<path fill="#faa000" d="M1226 92h6v5h-6zM938 117h12v5h-12zM1034 117h6v5h-6zM956 122h6v5h-6zM998 137h12v5h-12zM980 182h6v5h-6z"/>
<path fill="#fac49b" d="M998 97h6v5h-6zM1010 97h6v5h-6z"/>
<path fill="#fbc9a2" d="M1004 97h6v5h-6z"/>
<path fill="#f3c900" d="M1112 97h36v5h-36zM1106 102h6v5h-6zM1178 102h6v5h-6zM1088 107h12v5h-12zM1076 112h6v5h-6zM1058 117h6v5h-6zM1052 122h6v5h-6zM932 137h30v5h-30zM986 147h6v5h-6zM980 162h6v5h-6zM986 167h6v5h-6zM986 197h6v5h-6zM986 202h6v5h-6zM974 222h12v5h-12zM974 227h12v5h-12z"/>
<path fill="#efca00" d="M1148 97h24v5h-24zM1112 102h12v5h-12zM1100 107h6v5h-6zM1184 107h6v5h-6zM1082 112h6v5h-6zM1064 117h6v5h-6zM1034 137h6v5h-6zM974 142h6v5h-6zM1016 142h6v5h-6zM980 147h6v5h-6zM992 147h6v5h-6zM986 152h6v5h-6zM974 167h6v5h-6zM986 207h6v5h-6zM986 212h6v5h-6zM974 232h12v5h-12z"/>
<path fill="#ebca00" d="M1124 102h24v5h-24zM1172 102h6v5h-6zM1106 107h6v5h-6zM1088 112h6v5h-6zM1196 112h36v5h-36zM1070 117h6v5h-6zM1046 132h6v5h-6zM968 142h6v5h-6zM998 147h6v5h-6zM980 152h6v5h-6zM980 157h12v5h-12zM986 162h6v5h-6zM968 182h6v5h-6zM968 187h6v5h-6zM968 192h6v5h-6zM968 197h6v5h-6zM986 217h6v5h-6zM986 222h6v5h-6zM974 237h12v5h-12z"/>
<path fill="#e4c902" d="M1148 102h24v5h-24zM1112 107h6v5h-6zM1178 107h6v5h-6zM1190 112h6v5h-6zM1076 117h6v5h-6zM1058 122h6v5h-6zM1052 127h6v5h-6zM1040 137h6v5h-6zM932 142h36v5h-36zM1022 142h6v5h-6zM968 177h6v5h-6zM992 182h6v5h-6zM968 202h6v5h-6zM968 207h6v5h-6zM986 227h6v5h-6zM986 232h6v5h-6zM980 242h6v5h-6z"/>
<path fill="#d72636" d="M986 107h6v5h-6zM992 117h6v5h-6zM1016 117h6v5h-6z"/>
<path fill="#f0907e" d="M1004 107h6v5h-6z"/>
<path fill="#d72330" d="M1022 107h6v5h-6zM986 112h6v5h-6zM998 122h18v5h-18z"/>
<path fill="#ddc803" d="M1118 107h30v5h-30zM1172 107h6v5h-6zM1094 112h6v5h-6zM1082 117h6v5h-6zM974 147h6v5h-6zM1004 147h6v5h-6zM992 152h6v5h-6zM974 162h6v5h-6zM992 177h6v5h-6zM968 212h6v5h-6zM968 217h6v5h-6zM986 237h6v5h-6zM974 242h6v5h-6z"/>
<path fill="#d6c805" d="M1148 107h6v5h-6zM1166 107h6v5h-6zM1100 112h12v5h-12zM1184 112h6v5h-6zM1064 122h6v5h-6zM1028 142h6v5h-6zM968 147h6v5h-6zM1010 147h6v5h-6zM974 152h6v5h-6zM974 157h6v5h-6zM968 172h6v5h-6zM992 172h6v5h-6zM992 187h6v5h-6zM968 222h6v5h-6zM974 247h12v5h-12z"/>
<path fill="#cfc706" d="M1154 107h12v5h-12zM1112 112h30v5h-30zM1178 112h6v5h-6zM1088 117h6v5h-6zM1196 117h36v5h-36zM1070 122h6v5h-6zM1046 137h6v5h-6zM932 147h36v5h-36zM1016 147h6v5h-6zM998 152h6v5h-6zM992 157h6v5h-6zM968 167h6v5h-6zM992 192h6v5h-6zM968 227h6v5h-6zM968 232h6v5h-6zM986 242h6v5h-6zM980 252h6v5h-6z"/>
<path fill="#e15765" d="M1004 112h6v5h-6z"/>
<path fill="#c8c608" d="M1142 112h12v5h-12zM1172 112h6v5h-6zM1094 117h6v5h-6zM1190 117h6v5h-6zM1076 122h6v5h-6zM1052 132h6v5h-6zM1034 142h6v5h-6zM1022 147h6v5h-6zM968 152h6v5h-6zM992 162h6v5h-6zM992 167h6v5h-6zM992 197h6v5h-6zM992 202h6v5h-6zM992 207h6v5h-6zM968 237h6v5h-6zM986 247h6v5h-6zM974 252h6v5h-6z"/>
<path fill="#bfc40a" d="M1154 112h18v5h-18zM1100 117h6v5h-6zM1184 117h6v5h-6zM1082 122h6v5h-6zM1058 127h6v5h-6zM1040 142h6v5h-6zM932 152h36v5h-36zM1004 152h6v5h-6zM968 157h6v5h-6zM968 162h6v5h-6zM992 212h6v5h-6zM992 217h6v5h-6zM992 222h6v5h-6zM992 227h6v5h-6zM968 242h6v5h-6zM980 257h6v5h-6z"/>
<path fill="#d7212a" d="M986 117h6v5h-6z"/>
<path fill="#b6c20d" d="M1106 117h42v5h-42zM1178 117h6v5h-6zM1028 147h6v5h-6zM1010 152h6v5h-6zM992 232h6v5h-6zM986 252h6v5h-6zM974 257h6v5h-6z"/>
<path fill="#adc00f" d="M1148 117h6v5h-6zM1166 117h12v5h-12zM1088 122h6v5h-6zM1196 122h36v5h-36zM1034 147h6v5h-6zM1016 152h12v5h-12zM962 157h6v5h-6zM992 237h6v5h-6zM968 247h6v5h-6zM986 257h6v5h-6zM974 262h12v5h-12z"/>
<path fill="#a4be12" d="M1154 117h12v5h-12zM1094 122h6v5h-6zM1184 122h12v5h-12zM1064 127h6v5h-6zM1052 137h6v5h-6zM1046 142h6v5h-6zM932 157h30v5h-30zM998 157h6v5h-6zM962 162h6v5h-6zM962 167h6v5h-6zM962 172h6v5h-6zM962 177h6v5h-6zM962 182h6v5h-6zM962 187h6v5h-6zM962 192h6v5h-6zM992 242h6v5h-6zM968 252h6v5h-6z"/>
<path fill="#9bbc14" d="M1100 122h12v5h-12zM1178 122h6v5h-6zM1070 127h12v5h-12zM1058 132h6v5h-6zM1040 147h6v5h-6zM1028 152h6v5h-6zM956 162h6v5h-6zM962 197h6v5h-6zM962 202h6v5h-6zM992 247h6v5h-6zM986 262h6v5h-6zM974 267h12v5h-12z"/>
<path fill="#8eb915" d="M1112 122h36v5h-36zM1172 122h6v5h-6zM1082 127h6v5h-6zM1034 152h6v5h-6zM1004 157h24v5h-24zM932 162h24v5h-24zM998 162h6v5h-6zM998 167h6v5h-6zM962 207h6v5h-6zM968 257h6v5h-6z"/>
<path fill="#82b616" d="M1148 122h24v5h-24zM1088 127h6v5h-6zM1196 127h36v5h-36zM1028 157h6v5h-6zM932 167h30v5h-30zM998 172h6v5h-6zM998 177h6v5h-6zM998 182h6v5h-6zM998 187h6v5h-6zM962 212h6v5h-6zM962 217h6v5h-6zM992 252h6v5h-6zM968 262h6v5h-6zM986 267h6v5h-6zM974 272h12v5h-12z"/>
<path fill="#df2f18" d="M992 127h6v5h-6z"/>
<path fill="#75b218" d="M1094 127h6v5h-6zM1184 127h12v5h-12zM1064 132h6v5h-6zM1052 142h6v5h-6zM1046 147h6v5h-6zM1040 152h6v5h-6zM1016 162h12v5h-12zM932 172h30v5h-30zM956 177h6v5h-6zM998 192h6v5h-6zM998 197h6v5h-6zM998 202h6v5h-6zM998 207h6v5h-6zM998 212h6v5h-6zM962 222h6v5h-6zM992 257h6v5h-6zM986 272h6v5h-6z"/>
<path fill="#69af19" d="M1100 127h6v5h-6zM1178 127h6v5h-6zM1058 137h6v5h-6zM1034 157h6v5h-6zM1004 162h12v5h-12zM1028 162h6v5h-6zM944 177h12v5h-12zM956 182h6v5h-6zM998 217h6v5h-6zM998 222h6v5h-6zM962 227h6v5h-6zM998 227h6v5h-6zM962 232h6v5h-6zM992 262h6v5h-6zM968 267h6v5h-6zM974 277h12v5h-12z"/>
<path fill="#5cac1a" d="M1106 127h42v5h-42zM1166 127h12v5h-12zM1070 132h12v5h-12zM1004 167h24v5h-24zM932 177h12v5h-12zM950 182h6v5h-6zM956 187h6v5h-6zM956 192h6v5h-6zM998 232h6v5h-6zM962 237h6v5h-6zM998 237h6v5h-6zM992 267h6v5h-6zM968 272h6v5h-6zM986 277h6v5h-6zM974 282h12v5h-12z"/>
<path fill="#53aa1b" d="M1148 127h18v5h-18zM1082 132h6v5h-6zM1190 132h42v5h-42zM1052 147h6v5h-6zM1046 152h6v5h-6zM1040 157h6v5h-6zM1034 162h6v5h-6zM1028 167h6v5h-6zM1004 172h6v5h-6zM932 182h18v5h-18zM950 187h6v5h-6zM956 197h6v5h-6zM962 242h6v5h-6zM998 242h6v5h-6zM986 282h6v5h-6zM980 287h6v5h-6z"/>
<path fill="#49a81c" d="M1088 132h6v5h-6zM1178 132h12v5h-12zM1064 137h6v5h-6zM1058 142h6v5h-6zM1010 172h18v5h-18zM1004 177h6v5h-6zM1004 182h6v5h-6zM932 187h18v5h-18zM950 192h6v5h-6zM956 202h6v5h-6zM962 247h6v5h-6zM998 247h6v5h-6zM992 272h6v5h-6zM968 277h6v5h-6zM974 287h6v5h-6zM986 287h6v5h-6z"/>
<path fill="#40a61e" d="M1094 132h6v5h-6zM1172 132h6v5h-6zM1070 137h6v5h-6zM1052 152h6v5h-6zM1046 157h6v5h-6zM1040 162h6v5h-6zM1034 167h6v5h-6zM1028 172h6v5h-6zM1010 177h12v5h-12zM1004 187h6v5h-6zM932 192h18v5h-18zM1004 192h6v5h-6zM950 197h6v5h-6zM956 207h6v5h-6zM962 252h6v5h-6zM998 252h6v5h-6zM998 257h6v5h-6zM992 277h6v5h-6zM968 282h6v5h-6zM974 292h12v5h-12z"/>
<path fill="#36a41f" d="M1100 132h72v5h-72zM1076 137h6v5h-6zM1184 137h48v5h-48zM1064 142h6v5h-6zM1058 147h6v5h-6zM1034 172h6v5h-6zM1022 177h12v5h-12zM1010 182h12v5h-12zM932 197h18v5h-18zM1004 197h6v5h-6zM950 202h6v5h-6zM1004 202h6v5h-6zM1004 207h6v5h-6zM956 212h6v5h-6zM1004 212h6v5h-6zM956 217h6v5h-6zM962 257h6v5h-6zM998 262h6v5h-6zM992 282h6v5h-6zM968 287h6v5h-6zM986 292h6v5h-6zM974 297h12v5h-12z"/>
<path fill="#2da220" d="M1082 137h6v5h-6zM1172 137h12v5h-12zM1070 142h6v5h-6zM1058 152h6v5h-6zM1052 157h6v5h-6zM1046 162h6v5h-6zM1040 167h6v5h-6zM1022 182h12v5h-12zM1010 187h18v5h-18zM1010 192h6v5h-6zM932 202h18v5h-18zM950 207h6v5h-6zM1004 217h6v5h-6zM956 222h6v5h-6zM1004 222h6v5h-6zM1004 227h6v5h-6zM1004 232h6v5h-6zM962 262h6v5h-6zM998 267h6v5h-6zM992 287h6v5h-6zM968 292h6v5h-6zM986 297h6v5h-6zM974 302h12v5h-12z"/>
<path fill="#26a423" d="M1088 137h18v5h-18zM1160 142h18v5h-18zM1070 147h6v5h-6zM1178 147h54v5h-54zM1064 152h6v5h-6zM1058 157h6v5h-6zM1052 162h6v5h-6zM1046 167h6v5h-6zM1040 177h6v5h-6zM1034 187h6v5h-6zM1034 192h6v5h-6zM1022 197h18v5h-18zM1016 202h18v5h-18zM1016 207h12v5h-12zM932 212h12v5h-12zM1010 212h12v5h-12zM932 217h18v5h-18zM1010 217h6v5h-6zM950 222h6v5h-6zM1010 222h6v5h-6zM1010 227h6v5h-6zM1010 232h6v5h-6zM956 237h6v5h-6zM1004 252h6v5h-6zM962 272h6v5h-6zM962 277h6v5h-6zM998 277h6v5h-6zM992 297h6v5h-6zM968 302h6v5h-6zM986 307h6v5h-6zM974 312h12v5h-12z"/>
<path fill="#2aa322" d="M1106 137h66v5h-66zM1076 142h6v5h-6zM1178 142h54v5h-54zM1064 147h6v5h-6zM1040 172h6v5h-6zM1034 177h6v5h-6zM1034 182h6v5h-6zM1028 187h6v5h-6zM1016 192h18v5h-18zM1010 197h12v5h-12zM1010 202h6v5h-6zM932 207h18v5h-18zM1010 207h6v5h-6zM944 212h12v5h-12zM950 217h6v5h-6zM956 227h6v5h-6zM956 232h6v5h-6zM1004 237h6v5h-6zM1004 242h6v5h-6zM1004 247h6v5h-6zM962 267h6v5h-6zM998 272h6v5h-6zM992 292h6v5h-6zM968 297h6v5h-6zM986 302h6v5h-6zM974 307h12v5h-12z"/>
<path fill="#23a625" d="M1082 142h6v5h-6zM1106 142h54v5h-54zM1076 147h12v5h-12zM1106 147h72v5h-72zM1070 152h36v5h-36zM1166 152h66v5h-66zM1064 157h12v5h-12zM1190 157h42v5h-42zM1058 162h6v5h-6zM1052 167h6v5h-6zM1046 172h6v5h-6zM1040 182h6v5h-6zM1040 187h6v5h-6zM1040 192h6v5h-6zM1034 202h6v5h-6zM1028 207h12v5h-12zM1022 212h12v5h-12zM1016 217h18v5h-18zM944 222h6v5h-6zM1016 222h12v5h-12zM950 227h6v5h-6zM1016 227h6v5h-6zM1016 232h6v5h-6zM1010 237h12v5h-12zM1010 242h6v5h-6zM1010 247h6v5h-6zM1004 257h6v5h-6zM1004 262h6v5h-6zM962 282h6v5h-6zM998 282h6v5h-6zM992 302h6v5h-6zM968 307h6v5h-6zM986 312h6v5h-6zM974 317h18v5h-18zM974 322h12v5h-12z"/>
<path fill="#1ca828" d="M1088 142h6v5h-6zM1088 147h12v5h-12zM1076 162h114v5h-114zM1064 167h12v5h-12zM1058 172h6v5h-6zM1052 177h6v5h-6zM1046 187h6v5h-6zM1046 192h6v5h-6zM1040 212h6v5h-6zM1040 217h6v5h-6zM1040 222h6v5h-6zM1034 227h6v5h-6zM1034 232h6v5h-6zM1028 237h6v5h-6zM1028 242h6v5h-6zM1022 247h12v5h-12zM1022 252h6v5h-6zM1016 257h6v5h-6zM1010 262h6v5h-6zM1010 267h6v5h-6zM1004 272h6v5h-6zM1004 277h6v5h-6zM962 297h6v5h-6zM998 297h6v5h-6zM962 302h6v5h-6zM992 317h6v5h-6zM968 322h6v5h-6zM992 322h6v5h-6zM968 327h6v5h-6zM992 327h6v5h-6zM968 332h12v5h-12zM986 332h6v5h-6zM974 337h18v5h-18zM980 342h6v5h-6z"/>
<path fill="#1aaa2b" d="M1094 142h6v5h-6zM1076 167h12v5h-12zM1106 167h24v5h-24zM1160 167h72v5h-72zM1064 172h6v5h-6zM1058 177h6v5h-6zM1052 182h6v5h-6zM1046 197h6v5h-6zM1046 202h6v5h-6zM1046 207h6v5h-6zM1040 227h6v5h-6zM1040 232h6v5h-6zM1034 237h12v5h-12zM1034 242h6v5h-6zM1034 247h6v5h-6zM1028 252h12v5h-12zM1022 257h12v5h-12zM1016 262h18v5h-18zM1016 267h12v5h-12zM1010 272h6v5h-6zM1004 282h6v5h-6zM998 302h6v5h-6zM998 307h6v5h-6zM992 332h6v5h-6zM968 337h6v5h-6zM992 337h6v5h-6zM968 342h12v5h-12zM986 342h6v5h-6zM974 347h18v5h-18z"/>
<path fill="#1fa726" d="M1100 142h6v5h-6zM1100 147h6v5h-6zM1106 152h60v5h-60zM1076 157h114v5h-114zM1064 162h12v5h-12zM1190 162h42v5h-42zM1058 167h6v5h-6zM1052 172h6v5h-6zM1046 177h6v5h-6zM1046 182h6v5h-6zM1040 197h6v5h-6zM1040 202h6v5h-6zM1040 207h6v5h-6zM1034 212h6v5h-6zM1034 217h6v5h-6zM1028 222h12v5h-12zM1022 227h12v5h-12zM1022 232h12v5h-12zM1022 237h6v5h-6zM1016 242h12v5h-12zM1016 247h6v5h-6zM1010 252h12v5h-12zM1010 257h6v5h-6zM1004 267h6v5h-6zM962 287h6v5h-6zM998 287h6v5h-6zM962 292h6v5h-6zM998 292h6v5h-6zM992 307h6v5h-6zM968 312h6v5h-6zM992 312h6v5h-6zM968 317h6v5h-6zM986 322h6v5h-6zM974 327h18v5h-18zM980 332h6v5h-6z"/>
<path fill="#10b840" d="M1088 167h18v5h-18zM1130 167h30v5h-30zM1082 172h24v5h-24zM1130 172h36v5h-36zM1076 177h36v5h-36zM1124 177h48v5h-48zM1070 182h42v5h-42zM1118 182h60v5h-60zM1220 182h12v5h-12zM1070 187h12v5h-12zM1124 187h108v5h-108zM932 222h12v5h-12zM932 227h18v5h-18zM932 232h24v5h-24zM932 237h24v5h-24zM932 242h30v5h-30zM932 247h30v5h-30zM932 252h30v5h-30zM932 257h30v5h-30zM932 262h30v5h-30zM932 267h30v5h-30zM932 272h30v5h-30zM932 277h30v5h-30zM932 282h30v5h-30zM932 287h30v5h-30zM1010 287h18v5h-18zM932 292h30v5h-30zM1010 292h24v5h-24zM932 297h30v5h-30zM1004 297h36v5h-36zM932 302h30v5h-30zM1004 302h36v5h-36zM932 307h36v5h-36zM1004 307h36v5h-36zM932 312h36v5h-36zM998 312h42v5h-42zM932 317h36v5h-36zM998 317h42v5h-42zM932 322h36v5h-36zM998 322h42v5h-42zM932 327h36v5h-36zM998 327h18v5h-18zM1022 327h24v5h-24zM932 332h36v5h-36zM998 332h18v5h-18zM1028 332h18v5h-18zM932 337h36v5h-36zM998 337h12v5h-12zM1028 337h18v5h-18zM932 342h36v5h-36zM998 342h12v5h-12zM1028 342h18v5h-18zM944 347h24v5h-24zM998 347h12v5h-12zM1028 347h12v5h-12zM950 352h24v5h-24zM998 352h12v5h-12zM1034 352h6v5h-6zM950 357h24v5h-24zM998 357h12v5h-12zM950 362h24v5h-24zM992 362h18v5h-18zM956 367h48v5h-48zM962 372h42v5h-42zM968 377h36v5h-36zM980 382h18v5h-18z"/>
<path fill="#18ad2e" d="M1070 172h12v5h-12zM1106 172h24v5h-24zM1166 172h66v5h-66zM1064 177h6v5h-6zM1058 182h6v5h-6zM1052 187h6v5h-6zM1052 192h6v5h-6zM1046 212h6v5h-6zM1046 217h6v5h-6zM1046 222h6v5h-6zM1046 227h6v5h-6zM1040 242h6v5h-6zM1040 247h6v5h-6zM1040 252h6v5h-6zM1034 257h12v5h-12zM1034 262h6v5h-6zM1028 267h12v5h-12zM1016 272h24v5h-24zM1010 277h30v5h-30zM1010 282h6v5h-6zM1004 287h6v5h-6zM1004 292h6v5h-6zM992 342h6v5h-6zM968 347h6v5h-6zM992 347h6v5h-6zM974 352h24v5h-24zM974 357h18v5h-18z"/>
<path fill="#16af32" d="M1070 177h6v5h-6zM1190 177h42v5h-42zM1064 182h6v5h-6zM1058 187h6v5h-6zM1052 197h6v5h-6zM1052 202h6v5h-6zM1046 232h6v5h-6zM1046 237h6v5h-6zM1046 242h6v5h-6zM1046 247h6v5h-6zM1040 262h6v5h-6zM1040 267h6v5h-6zM1040 272h6v5h-6zM1040 277h6v5h-6zM1016 282h30v5h-30zM1028 287h12v5h-12zM1034 292h6v5h-6zM992 357h6v5h-6zM974 362h18v5h-18z"/>
<path fill="#14b235" d="M1112 177h12v5h-12zM1172 177h18v5h-18zM1112 182h6v5h-6zM1178 182h42v5h-42zM1064 187h6v5h-6zM1058 192h12v5h-12zM1058 197h6v5h-6zM1058 202h6v5h-6zM1052 207h12v5h-12zM1052 212h12v5h-12zM1052 217h12v5h-12zM1052 222h12v5h-12zM1052 227h12v5h-12zM1052 232h12v5h-12zM1052 237h12v5h-12zM1052 242h12v5h-12zM1052 247h12v5h-12zM1046 252h12v5h-12zM1046 257h12v5h-12zM1046 262h12v5h-12zM1046 267h12v5h-12zM1046 272h12v5h-12zM1046 277h12v5h-12zM1046 282h12v5h-12zM1040 287h18v5h-18zM1040 292h18v5h-18zM1040 297h18v5h-18zM1040 302h18v5h-18zM1040 307h18v5h-18zM1040 312h18v5h-18zM1040 317h12v5h-12zM1040 322h12v5h-12zM1046 327h6v5h-6zM1046 332h6v5h-6zM1046 337h6v5h-6zM1046 342h6v5h-6zM1046 347h6v5h-6z"/>
<path fill="#0fbb48" d="M1082 187h42v5h-42zM1070 192h6v5h-6zM1136 192h96v5h-96zM1064 197h6v5h-6zM1016 327h6v5h-6zM1016 332h12v5h-12zM1010 337h18v5h-18zM1010 342h18v5h-18zM932 347h12v5h-12zM1010 347h18v5h-18zM1040 347h6v5h-6zM932 352h18v5h-18zM1010 352h24v5h-24zM1040 352h6v5h-6zM932 357h18v5h-18zM1010 357h6v5h-6zM1022 357h24v5h-24zM932 362h18v5h-18zM1010 362h6v5h-6zM1028 362h18v5h-18zM932 367h24v5h-24zM1004 367h6v5h-6zM1028 367h18v5h-18zM956 372h6v5h-6zM1004 372h6v5h-6zM1028 372h12v5h-12zM962 377h6v5h-6zM1004 377h6v5h-6zM1028 377h12v5h-12zM968 382h12v5h-12zM998 382h12v5h-12zM1028 382h12v5h-12zM980 387h24v5h-24zM1028 387h12v5h-12zM1028 392h12v5h-12zM1028 397h12v5h-12zM1034 402h6v5h-6z"/>
<path fill="#0dbf4f" d="M1076 192h12v5h-12zM1118 192h18v5h-18zM1070 197h6v5h-6zM1142 197h90v5h-90zM1064 202h6v5h-6zM1064 207h6v5h-6zM1052 317h6v5h-6zM1052 322h6v5h-6zM1046 352h6v5h-6zM1016 357h6v5h-6zM1046 357h6v5h-6zM1016 362h12v5h-12zM1046 362h6v5h-6zM1010 367h18v5h-18zM1046 367h6v5h-6zM932 372h24v5h-24zM1010 372h18v5h-18zM1040 372h6v5h-6zM956 377h6v5h-6zM1010 377h18v5h-18zM1040 377h6v5h-6zM1010 382h18v5h-18zM1040 382h6v5h-6zM974 387h6v5h-6zM1004 387h24v5h-24zM1040 387h6v5h-6zM980 392h48v5h-48zM1040 392h6v5h-6zM998 397h30v5h-30zM1040 397h6v5h-6zM1022 402h12v5h-12zM1040 402h6v5h-6zM1028 407h18v5h-18zM1028 412h12v5h-12zM1028 417h12v5h-12zM1034 422h6v5h-6zM1034 427h6v5h-6z"/>
<path fill="#0cc257" d="M1088 192h30v5h-30zM1076 197h6v5h-6zM1124 197h18v5h-18zM1070 202h6v5h-6zM1136 202h96v5h-96zM1166 207h66v5h-66zM1064 212h6v5h-6zM1208 212h24v5h-24zM1064 217h6v5h-6zM1220 217h12v5h-12zM1226 222h6v5h-6zM1058 252h6v5h-6zM1058 257h6v5h-6zM1058 262h6v5h-6zM1052 327h6v5h-6zM1052 332h6v5h-6zM1052 337h6v5h-6zM1052 342h6v5h-6zM1046 372h6v5h-6zM932 377h24v5h-24zM1046 377h6v5h-6zM962 382h6v5h-6zM1046 382h6v5h-6zM968 387h6v5h-6zM1046 387h6v5h-6zM974 392h6v5h-6zM1046 392h6v5h-6zM980 397h18v5h-18zM1046 397h6v5h-6zM998 402h24v5h-24zM1046 402h6v5h-6zM1010 407h18v5h-18zM1022 412h6v5h-6zM1040 412h6v5h-6zM1022 417h6v5h-6zM1040 417h6v5h-6zM1028 422h6v5h-6zM1040 422h6v5h-6zM1028 427h6v5h-6zM1040 427h6v5h-6z"/>
<path fill="#0ac65f" d="M1082 197h42v5h-42zM1076 202h6v5h-6zM1124 202h12v5h-12zM1070 207h6v5h-6zM1136 207h30v5h-30zM1070 212h6v5h-6zM1142 212h66v5h-66zM1160 217h60v5h-60zM1064 222h6v5h-6zM1166 222h60v5h-60zM1064 227h6v5h-6zM1172 227h60v5h-60zM1064 232h6v5h-6zM1178 232h54v5h-54zM1208 237h24v5h-24zM1214 242h18v5h-18zM1214 247h18v5h-18zM1220 252h12v5h-12zM1058 267h6v5h-6zM1058 272h6v5h-6zM1058 277h6v5h-6zM1058 282h6v5h-6zM1058 287h6v5h-6zM1052 347h6v5h-6zM1052 352h6v5h-6zM1052 357h6v5h-6zM1052 362h6v5h-6zM932 382h30v5h-30zM962 387h6v5h-6zM968 392h6v5h-6zM974 397h6v5h-6zM980 402h18v5h-18zM998 407h12v5h-12zM1046 407h6v5h-6zM1004 412h18v5h-18zM1046 412h6v5h-6zM1016 417h6v5h-6zM1046 417h6v5h-6zM1022 422h6v5h-6zM1046 422h6v5h-6zM1022 427h6v5h-6zM1046 427h6v5h-6z"/>
<path fill="#0ac868" d="M1082 202h12v5h-12zM1106 202h18v5h-18zM1076 207h6v5h-6zM1124 207h12v5h-12zM1130 212h12v5h-12zM1070 217h6v5h-6zM1136 217h24v5h-24zM1148 222h18v5h-18zM1160 227h12v5h-12zM1166 232h12v5h-12zM1064 237h6v5h-6zM1166 237h42v5h-42zM1064 242h6v5h-6zM1172 242h42v5h-42zM1172 247h42v5h-42zM1196 252h24v5h-24zM1208 257h24v5h-24zM1214 262h18v5h-18zM1220 267h12v5h-12zM1058 292h6v5h-6zM1058 297h6v5h-6zM1058 302h6v5h-6zM1058 307h6v5h-6zM1052 367h6v5h-6zM1052 372h6v5h-6zM1052 377h6v5h-6zM1052 382h6v5h-6zM932 387h30v5h-30zM1052 387h6v5h-6zM962 392h6v5h-6zM968 397h6v5h-6zM974 402h6v5h-6zM980 407h18v5h-18zM992 412h12v5h-12zM1004 417h12v5h-12zM1010 422h12v5h-12zM1016 427h6v5h-6z"/>
<path fill="#0aca72" d="M1094 202h12v5h-12zM1082 207h12v5h-12zM1106 207h18v5h-18zM1076 212h6v5h-6zM1118 212h12v5h-12zM1076 217h6v5h-6zM1124 217h12v5h-12zM1070 222h6v5h-6zM1136 222h12v5h-12zM1070 227h6v5h-6zM1142 227h18v5h-18zM1148 232h18v5h-18zM1154 237h12v5h-12zM1160 242h12v5h-12zM1064 247h6v5h-6zM1166 247h6v5h-6zM1064 252h6v5h-6zM1172 252h24v5h-24zM1064 257h6v5h-6zM1178 257h30v5h-30zM1196 262h18v5h-18zM1202 267h18v5h-18zM1208 272h24v5h-24zM1214 277h18v5h-18zM1220 282h12v5h-12zM1058 312h6v5h-6zM1058 317h6v5h-6zM1058 322h6v5h-6zM1058 327h6v5h-6zM932 392h30v5h-30zM1052 392h6v5h-6zM962 397h6v5h-6zM1052 397h6v5h-6zM968 402h6v5h-6zM1052 402h6v5h-6zM974 407h6v5h-6zM1052 407h6v5h-6zM980 412h12v5h-12zM1052 412h6v5h-6zM992 417h12v5h-12zM998 422h12v5h-12zM998 427h18v5h-18z"/>
<path fill="#0acc7b" d="M1094 207h12v5h-12zM1082 212h12v5h-12zM1106 212h12v5h-12zM1118 217h6v5h-6zM1076 222h6v5h-6zM1124 222h12v5h-12zM1130 227h12v5h-12zM1070 232h6v5h-6zM1136 232h12v5h-12zM1070 237h6v5h-6zM1142 237h12v5h-12zM1148 242h12v5h-12zM1154 247h12v5h-12zM1160 252h12v5h-12zM1166 257h12v5h-12zM1064 262h6v5h-6zM1172 262h24v5h-24zM1064 267h6v5h-6zM1184 267h18v5h-18zM1064 272h6v5h-6zM1196 272h12v5h-12zM1064 277h6v5h-6zM1202 277h12v5h-12zM1208 282h12v5h-12zM1208 287h24v5h-24zM1214 292h18v5h-18zM1220 297h12v5h-12zM1226 302h6v5h-6zM1058 332h6v5h-6zM1058 337h6v5h-6zM1058 342h6v5h-6zM1058 347h6v5h-6zM932 397h30v5h-30zM962 402h6v5h-6zM968 407h6v5h-6zM974 412h6v5h-6zM980 417h12v5h-12zM1052 417h6v5h-6zM986 422h12v5h-12zM1052 422h6v5h-6zM992 427h6v5h-6zM1052 427h6v5h-6z"/>
<path fill="#0ace85" d="M1094 212h12v5h-12zM1082 217h12v5h-12zM1106 217h12v5h-12zM1082 222h6v5h-6zM1112 222h12v5h-12zM1076 227h6v5h-6zM1124 227h6v5h-6zM1130 232h6v5h-6zM1136 237h6v5h-6zM1070 242h6v5h-6zM1142 242h6v5h-6zM1070 247h6v5h-6zM1148 247h6v5h-6zM1154 252h6v5h-6zM1160 257h6v5h-6zM1166 262h6v5h-6zM1172 267h12v5h-12zM1178 272h18v5h-18zM1184 277h18v5h-18zM1064 282h6v5h-6zM1190 282h18v5h-18zM1064 287h6v5h-6zM1196 287h12v5h-12zM1064 292h6v5h-6zM1202 292h12v5h-12zM1208 297h12v5h-12zM1214 302h12v5h-12zM1214 307h18v5h-18zM1220 312h12v5h-12zM1226 317h6v5h-6zM1058 352h6v5h-6zM1058 357h6v5h-6zM1058 362h6v5h-6zM1058 367h6v5h-6zM1058 372h6v5h-6zM932 402h30v5h-30zM956 407h12v5h-12zM968 412h6v5h-6zM974 417h6v5h-6zM980 422h6v5h-6zM980 427h12v5h-12z"/>
<path fill="#0ad08e" d="M1094 217h12v5h-12zM1088 222h6v5h-6zM1100 222h12v5h-12zM1082 227h6v5h-6zM1112 227h12v5h-12zM1076 232h6v5h-6zM1118 232h12v5h-12zM1076 237h6v5h-6zM1124 237h12v5h-12zM1130 242h12v5h-12zM1136 247h12v5h-12zM1070 252h6v5h-6zM1142 252h12v5h-12zM1070 257h6v5h-6zM1148 257h12v5h-12zM1154 262h12v5h-12zM1160 267h12v5h-12zM1166 272h12v5h-12zM1172 277h12v5h-12zM1178 282h12v5h-12zM1184 287h12v5h-12zM1190 292h12v5h-12zM1064 297h6v5h-6zM1196 297h12v5h-12zM1064 302h6v5h-6zM1202 302h12v5h-12zM1064 307h6v5h-6zM1208 307h6v5h-6zM1214 312h6v5h-6zM1214 317h12v5h-12zM1220 322h12v5h-12zM1220 327h12v5h-12zM1226 332h6v5h-6zM1058 377h6v5h-6zM1058 382h6v5h-6zM1058 387h6v5h-6zM1058 392h6v5h-6zM1058 397h6v5h-6zM932 407h24v5h-24zM932 412h36v5h-36zM968 417h6v5h-6zM968 422h12v5h-12zM974 427h6v5h-6z"/>
<path fill="#0ace98" d="M1094 222h6v5h-6zM1088 227h6v5h-6zM1100 227h12v5h-12zM1082 232h6v5h-6zM1112 232h6v5h-6zM1118 237h6v5h-6zM1076 242h6v5h-6zM1124 242h6v5h-6zM1130 247h6v5h-6zM1136 252h6v5h-6zM1142 257h6v5h-6zM1070 262h6v5h-6zM1148 262h6v5h-6zM1070 267h6v5h-6zM1154 267h6v5h-6zM1160 272h6v5h-6zM1160 277h12v5h-12zM1166 282h12v5h-12zM1178 287h6v5h-6zM1184 292h6v5h-6zM1190 297h6v5h-6zM1196 302h6v5h-6zM1202 307h6v5h-6zM1064 312h6v5h-6zM1208 312h6v5h-6zM1064 317h6v5h-6zM1208 317h6v5h-6zM1064 322h6v5h-6zM1214 322h6v5h-6zM1214 327h6v5h-6zM1214 332h12v5h-12zM1220 337h12v5h-12zM1220 342h12v5h-12zM1220 347h12v5h-12zM1226 352h6v5h-6zM1058 402h6v5h-6zM1058 407h6v5h-6zM1058 412h6v5h-6zM932 417h36v5h-36zM1058 417h6v5h-6zM962 422h6v5h-6zM1058 422h6v5h-6zM962 427h12v5h-12zM1058 427h6v5h-6z"/>
<path fill="#0bcda2" d="M1094 227h6v5h-6zM1088 232h6v5h-6zM1100 232h12v5h-12zM1082 237h6v5h-6zM1112 237h6v5h-6zM1118 242h6v5h-6zM1076 247h6v5h-6zM1124 247h6v5h-6zM1076 252h6v5h-6zM1130 252h6v5h-6zM1136 257h6v5h-6zM1142 262h6v5h-6zM1148 267h6v5h-6zM1070 272h6v5h-6zM1148 272h12v5h-12zM1070 277h6v5h-6zM1154 277h6v5h-6zM1070 282h6v5h-6zM1160 282h6v5h-6zM1166 287h12v5h-12zM1172 292h12v5h-12zM1178 297h12v5h-12zM1184 302h12v5h-12zM1190 307h12v5h-12zM1196 312h12v5h-12zM1202 317h6v5h-6zM1208 322h6v5h-6zM1064 327h6v5h-6zM1208 327h6v5h-6zM1064 332h6v5h-6zM1208 332h6v5h-6zM1064 337h6v5h-6zM1214 337h6v5h-6zM1214 342h6v5h-6zM1214 347h6v5h-6zM1214 352h12v5h-12zM1214 357h18v5h-18zM1220 362h12v5h-12zM1220 367h12v5h-12zM1220 372h12v5h-12zM1220 377h12v5h-12zM1220 382h12v5h-12zM1220 387h12v5h-12zM1220 392h12v5h-12zM1220 397h12v5h-12zM1220 402h12v5h-12zM1220 407h12v5h-12zM1220 412h12v5h-12zM1220 417h12v5h-12zM932 422h30v5h-30zM1220 422h12v5h-12zM932 427h30v5h-30zM1220 427h12v5h-12z"/>
<path fill="#0bcbac" d="M1094 232h6v5h-6zM1088 237h6v5h-6zM1100 237h12v5h-12zM1082 242h6v5h-6zM1106 242h12v5h-12zM1112 247h12v5h-12zM1124 252h6v5h-6zM1076 257h6v5h-6zM1130 257h6v5h-6zM1076 262h6v5h-6zM1136 262h6v5h-6zM1142 267h6v5h-6zM1142 272h6v5h-6zM1148 277h6v5h-6zM1154 282h6v5h-6zM1070 287h6v5h-6zM1160 287h6v5h-6zM1070 292h6v5h-6zM1160 292h12v5h-12zM1172 297h6v5h-6zM1178 302h6v5h-6zM1184 307h6v5h-6zM1190 312h6v5h-6zM1196 317h6v5h-6zM1202 322h6v5h-6zM1202 327h6v5h-6zM1202 332h6v5h-6zM1208 337h6v5h-6zM1064 342h6v5h-6zM1208 342h6v5h-6zM1064 347h6v5h-6zM1208 347h6v5h-6zM1064 352h6v5h-6zM1208 352h6v5h-6zM1064 357h6v5h-6zM1214 362h6v5h-6zM1214 367h6v5h-6zM1214 372h6v5h-6zM1214 377h6v5h-6zM1214 382h6v5h-6zM1214 387h6v5h-6zM1214 392h6v5h-6zM1214 397h6v5h-6zM1214 402h6v5h-6zM1214 407h6v5h-6zM1214 412h6v5h-6zM1214 417h6v5h-6zM1214 422h6v5h-6zM1214 427h6v5h-6z"/>
<path fill="#0ccab6" d="M1094 237h6v5h-6zM1088 242h6v5h-6zM1100 242h6v5h-6zM1082 247h6v5h-6zM1106 247h6v5h-6zM1082 252h6v5h-6zM1118 252h6v5h-6zM1124 257h6v5h-6zM1130 262h6v5h-6zM1076 267h6v5h-6zM1136 267h6v5h-6zM1142 277h6v5h-6zM1148 282h6v5h-6zM1154 287h6v5h-6zM1154 292h6v5h-6zM1070 297h6v5h-6zM1160 297h12v5h-12zM1070 302h6v5h-6zM1166 302h12v5h-12zM1178 307h6v5h-6zM1184 312h6v5h-6zM1190 317h6v5h-6zM1196 322h6v5h-6zM1196 327h6v5h-6zM1196 332h6v5h-6zM1202 337h6v5h-6zM1202 342h6v5h-6zM1202 347h6v5h-6zM1202 352h6v5h-6zM1208 357h6v5h-6zM1064 362h6v5h-6zM1208 362h6v5h-6zM1064 367h6v5h-6zM1208 367h6v5h-6zM1064 372h6v5h-6zM1208 372h6v5h-6zM1064 377h6v5h-6zM1208 377h6v5h-6zM1208 382h6v5h-6zM1208 387h6v5h-6zM1208 392h6v5h-6zM1208 397h6v5h-6zM1208 402h6v5h-6zM1208 407h6v5h-6zM1208 412h6v5h-6zM1208 417h6v5h-6zM1208 422h6v5h-6zM1208 427h6v5h-6z"/>
<path fill="#0cc8c0" d="M1094 242h6v5h-6zM1088 247h6v5h-6zM1100 247h6v5h-6zM1106 252h12v5h-12zM1082 257h6v5h-6zM1118 257h6v5h-6zM1124 262h6v5h-6zM1130 267h6v5h-6zM1076 272h6v5h-6zM1136 272h6v5h-6zM1076 277h6v5h-6zM1136 277h6v5h-6zM1142 282h6v5h-6zM1148 287h6v5h-6zM1148 292h6v5h-6zM1154 297h6v5h-6zM1160 302h6v5h-6zM1070 307h6v5h-6zM1166 307h12v5h-12zM1070 312h6v5h-6zM1172 312h12v5h-12zM1178 317h12v5h-12zM1184 322h12v5h-12zM1190 327h6v5h-6zM1190 332h6v5h-6zM1196 337h6v5h-6zM1196 342h6v5h-6zM1196 347h6v5h-6zM1202 357h6v5h-6zM1202 362h6v5h-6zM1202 367h6v5h-6zM1202 372h6v5h-6zM1202 377h6v5h-6zM1064 382h6v5h-6zM1202 382h6v5h-6zM1064 387h6v5h-6zM1202 387h6v5h-6zM1064 392h6v5h-6zM1202 392h6v5h-6zM1064 397h6v5h-6zM1202 397h6v5h-6zM1064 402h6v5h-6zM1202 402h6v5h-6zM1064 407h6v5h-6zM1202 407h6v5h-6zM1202 412h6v5h-6zM1202 417h6v5h-6zM1202 422h6v5h-6zM1202 427h6v5h-6z"/>
<path fill="#0ec4c7" d="M1094 247h6v5h-6zM1088 252h6v5h-6zM1100 252h6v5h-6zM1106 257h12v5h-12zM1082 262h6v5h-6zM1118 262h6v5h-6zM1124 267h6v5h-6zM1130 272h6v5h-6zM1076 282h6v5h-6zM1136 282h6v5h-6zM1076 287h6v5h-6zM1142 287h6v5h-6zM1148 297h6v5h-6zM1154 302h6v5h-6zM1160 307h6v5h-6zM1166 312h6v5h-6zM1070 317h6v5h-6zM1172 317h6v5h-6zM1070 322h6v5h-6zM1178 322h6v5h-6zM1184 327h6v5h-6zM1184 332h6v5h-6zM1190 337h6v5h-6zM1190 342h6v5h-6zM1190 347h6v5h-6zM1196 352h6v5h-6zM1196 357h6v5h-6zM1196 362h6v5h-6zM1196 367h6v5h-6zM1196 372h6v5h-6zM1196 377h6v5h-6zM1196 382h6v5h-6zM1196 387h6v5h-6zM1196 392h6v5h-6zM1196 397h6v5h-6zM1196 402h6v5h-6zM1196 407h6v5h-6zM1064 412h6v5h-6zM1196 412h6v5h-6zM1064 417h6v5h-6zM1196 417h6v5h-6zM1064 422h6v5h-6zM1196 422h6v5h-6zM1064 427h6v5h-6zM1196 427h6v5h-6z"/>
<path fill="#10c0ce" d="M1094 252h6v5h-6zM1088 257h18v5h-18zM1106 262h12v5h-12zM1082 267h6v5h-6zM1118 267h6v5h-6zM1082 272h6v5h-6zM1124 272h6v5h-6zM1130 277h6v5h-6zM1136 287h6v5h-6zM1076 292h6v5h-6zM1142 292h6v5h-6zM1142 297h6v5h-6zM1148 302h6v5h-6zM1154 307h6v5h-6zM1160 312h6v5h-6zM1166 317h6v5h-6zM1172 322h6v5h-6zM1070 327h6v5h-6zM1178 327h6v5h-6zM1070 332h6v5h-6zM1178 332h6v5h-6zM1070 337h6v5h-6zM1184 337h6v5h-6zM1184 342h6v5h-6zM1184 347h6v5h-6zM1190 352h6v5h-6zM1190 357h6v5h-6zM1190 362h6v5h-6zM1190 367h6v5h-6zM1190 372h6v5h-6zM1190 377h6v5h-6zM1190 382h6v5h-6zM1190 387h6v5h-6zM1190 392h6v5h-6zM1190 397h6v5h-6zM1190 402h6v5h-6zM1190 407h6v5h-6zM1190 412h6v5h-6zM1190 417h6v5h-6zM1190 422h6v5h-6zM1190 427h6v5h-6z"/>
<path fill="#12bcd4" d="M1088 262h18v5h-18zM1088 267h6v5h-6zM1106 267h12v5h-12zM1118 272h6v5h-6zM1082 277h6v5h-6zM1124 277h6v5h-6zM1130 282h6v5h-6zM1136 292h6v5h-6zM1076 297h6v5h-6zM1076 302h6v5h-6zM1142 302h6v5h-6zM1148 307h6v5h-6zM1154 312h6v5h-6zM1160 317h6v5h-6zM1166 322h6v5h-6zM1172 327h6v5h-6zM1172 332h6v5h-6zM1178 337h6v5h-6zM1070 342h6v5h-6zM1178 342h6v5h-6zM1070 347h6v5h-6zM1178 347h6v5h-6zM1184 352h6v5h-6zM1184 357h6v5h-6zM1184 362h6v5h-6z"/>
<path fill="#14b8db" d="M1094 267h12v5h-12zM1088 272h6v5h-6zM1106 272h12v5h-12zM1118 277h6v5h-6zM1082 282h6v5h-6zM1124 282h6v5h-6zM1082 287h6v5h-6zM1130 287h6v5h-6zM1130 292h6v5h-6zM1136 297h6v5h-6zM1136 302h6v5h-6zM1076 307h6v5h-6zM1142 307h6v5h-6zM1076 312h6v5h-6zM1142 312h12v5h-12zM1148 317h12v5h-12zM1160 322h6v5h-6zM1166 327h6v5h-6zM1166 332h6v5h-6zM1166 337h12v5h-12zM1172 342h6v5h-6zM1172 347h6v5h-6zM1070 352h6v5h-6zM1178 352h6v5h-6zM1070 357h6v5h-6zM1178 357h6v5h-6zM1070 362h6v5h-6zM1178 362h6v5h-6zM1184 367h6v5h-6zM1184 372h6v5h-6zM1184 377h6v5h-6zM1184 382h6v5h-6zM1184 387h6v5h-6zM1184 392h6v5h-6zM1184 397h6v5h-6zM1184 402h6v5h-6zM1184 407h6v5h-6zM1184 412h6v5h-6zM1184 417h6v5h-6zM1184 422h6v5h-6zM1184 427h6v5h-6z"/>
<path fill="#16b4e2" d="M1094 272h12v5h-12zM1088 277h6v5h-6zM1106 277h12v5h-12zM1118 282h6v5h-6zM1124 287h6v5h-6zM1082 292h6v5h-6zM1130 297h6v5h-6zM1136 307h6v5h-6zM1076 317h6v5h-6zM1142 317h6v5h-6zM1148 322h12v5h-12zM1154 327h12v5h-12zM1160 332h6v5h-6zM1160 337h6v5h-6zM1160 342h12v5h-12zM1166 347h6v5h-6zM1166 352h12v5h-12zM1172 357h6v5h-6zM1172 362h6v5h-6zM1070 367h6v5h-6zM1178 367h6v5h-6zM1070 372h6v5h-6zM1178 372h6v5h-6zM1070 377h6v5h-6zM1178 377h6v5h-6zM1070 382h6v5h-6zM1178 382h6v5h-6zM1070 387h6v5h-6zM1178 387h6v5h-6zM1070 392h6v5h-6zM1178 392h6v5h-6zM1178 397h6v5h-6zM1178 402h6v5h-6zM1178 407h6v5h-6zM1178 412h6v5h-6zM1178 417h6v5h-6zM1178 422h6v5h-6zM1178 427h6v5h-6z"/>
<path fill="#19afe5" d="M1094 277h12v5h-12zM1088 282h6v5h-6zM1106 282h12v5h-12zM1118 287h6v5h-6zM1124 292h6v5h-6zM1082 297h6v5h-6zM1082 302h6v5h-6zM1130 302h6v5h-6zM1136 312h6v5h-6zM1136 317h6v5h-6zM1076 322h6v5h-6zM1142 322h6v5h-6zM1076 327h6v5h-6zM1142 327h12v5h-12zM1148 332h12v5h-12zM1148 337h12v5h-12zM1154 342h6v5h-6zM1154 347h12v5h-12zM1160 352h6v5h-6zM1160 357h12v5h-12zM1166 362h6v5h-6zM1166 367h12v5h-12zM1166 372h12v5h-12zM1166 377h12v5h-12zM1166 382h12v5h-12zM1166 387h12v5h-12zM1166 392h12v5h-12zM1070 397h6v5h-6zM1166 397h12v5h-12zM1070 402h6v5h-6zM1172 402h6v5h-6zM1070 407h6v5h-6zM1172 407h6v5h-6zM1070 412h6v5h-6zM1172 412h6v5h-6zM1070 417h6v5h-6zM1172 417h6v5h-6zM1070 422h6v5h-6zM1172 422h6v5h-6zM1070 427h6v5h-6zM1172 427h6v5h-6z"/>
<path fill="#1caae8" d="M1094 282h12v5h-12zM1088 287h6v5h-6zM1106 287h12v5h-12zM1088 292h6v5h-6zM1118 292h6v5h-6zM1124 297h6v5h-6zM1124 302h6v5h-6zM1082 307h6v5h-6zM1130 307h6v5h-6zM1130 312h6v5h-6zM1136 322h6v5h-6zM1136 327h6v5h-6zM1076 332h6v5h-6zM1142 332h6v5h-6zM1076 337h6v5h-6zM1142 337h6v5h-6zM1142 342h12v5h-12zM1142 347h12v5h-12zM1148 352h12v5h-12zM1148 357h12v5h-12zM1154 362h12v5h-12zM1154 367h12v5h-12zM1154 372h12v5h-12zM1154 377h12v5h-12zM1160 382h6v5h-6zM1160 387h6v5h-6zM1160 392h6v5h-6zM1160 397h6v5h-6zM1160 402h12v5h-12zM1160 407h12v5h-12zM1160 412h12v5h-12zM1160 417h12v5h-12zM1166 422h6v5h-6zM1166 427h6v5h-6z"/>
<path fill="#20a5ea" d="M1094 287h12v5h-12zM1094 292h6v5h-6zM1106 292h12v5h-12zM1088 297h6v5h-6zM1118 297h6v5h-6zM1124 307h6v5h-6zM1082 312h6v5h-6zM1082 317h6v5h-6zM1130 317h6v5h-6zM1130 322h6v5h-6zM1136 332h6v5h-6zM1136 337h6v5h-6zM1076 342h6v5h-6zM1136 342h6v5h-6zM1076 347h6v5h-6zM1136 347h6v5h-6zM1142 352h6v5h-6zM1142 357h6v5h-6zM1142 362h12v5h-12zM1142 367h12v5h-12zM1148 372h6v5h-6zM1148 377h6v5h-6zM1148 382h12v5h-12zM1148 387h12v5h-12zM1148 392h12v5h-12zM1154 397h6v5h-6zM1154 402h6v5h-6zM1154 407h6v5h-6zM1154 412h6v5h-6zM1154 417h6v5h-6zM1154 422h12v5h-12zM1154 427h12v5h-12z"/>
<path fill="#23a0ed" d="M1100 292h6v5h-6zM1094 297h24v5h-24zM1088 302h6v5h-6zM1112 302h12v5h-12zM1088 307h6v5h-6zM1118 307h6v5h-6zM1124 312h6v5h-6zM1124 317h6v5h-6zM1082 322h6v5h-6zM1130 327h6v5h-6zM1130 332h6v5h-6zM1130 337h6v5h-6zM1076 352h6v5h-6zM1136 352h6v5h-6zM1076 357h6v5h-6zM1136 357h6v5h-6zM1136 362h6v5h-6zM1136 367h6v5h-6zM1142 372h6v5h-6zM1142 377h6v5h-6zM1142 382h6v5h-6zM1142 387h6v5h-6zM1142 392h6v5h-6zM1142 397h12v5h-12zM1148 402h6v5h-6zM1148 407h6v5h-6zM1148 412h6v5h-6zM1148 417h6v5h-6zM1148 422h6v5h-6zM1148 427h6v5h-6z"/>
<path fill="#269bf0" d="M1094 302h18v5h-18zM1094 307h24v5h-24zM1088 312h6v5h-6zM1112 312h12v5h-12zM1118 317h6v5h-6zM1124 322h6v5h-6zM1082 327h6v5h-6zM1124 327h6v5h-6zM1082 332h6v5h-6zM1130 342h6v5h-6zM1130 347h6v5h-6zM1130 352h6v5h-6zM1076 362h6v5h-6zM1076 367h6v5h-6zM1076 372h6v5h-6zM1136 372h6v5h-6zM1076 377h6v5h-6zM1136 377h6v5h-6zM1136 382h6v5h-6zM1136 387h6v5h-6zM1136 392h6v5h-6zM1142 402h6v5h-6zM1142 407h6v5h-6zM1142 412h6v5h-6zM1142 417h6v5h-6zM1142 422h6v5h-6zM1142 427h6v5h-6z"/>
<path fill="#2996f1" d="M1094 312h18v5h-18zM1088 317h6v5h-6zM1106 317h12v5h-12zM1088 322h6v5h-6zM1112 322h12v5h-12zM1118 327h6v5h-6zM1124 332h6v5h-6zM1082 337h6v5h-6zM1124 337h6v5h-6zM1082 342h6v5h-6zM1130 357h6v5h-6zM1130 362h6v5h-6zM1130 367h6v5h-6zM1130 372h6v5h-6zM1076 382h6v5h-6zM1076 387h6v5h-6zM1076 392h6v5h-6zM1076 397h6v5h-6zM1136 397h6v5h-6zM1076 402h6v5h-6zM1136 402h6v5h-6zM1076 407h6v5h-6zM1136 407h6v5h-6zM1136 412h6v5h-6zM1136 417h6v5h-6zM1136 422h6v5h-6zM1136 427h6v5h-6z"/>
<path fill="#2c92f2" d="M1094 317h12v5h-12zM1094 322h18v5h-18zM1088 327h6v5h-6zM1106 327h12v5h-12zM1118 332h6v5h-6zM1118 337h6v5h-6zM1124 342h6v5h-6zM1082 347h6v5h-6zM1124 347h6v5h-6zM1124 352h6v5h-6zM1130 377h6v5h-6zM1130 382h6v5h-6zM1130 387h6v5h-6zM1130 392h6v5h-6zM1076 412h6v5h-6zM1076 417h6v5h-6zM1076 422h6v5h-6zM1076 427h6v5h-6z"/>
<path fill="#2e8df3" d="M1094 327h12v5h-12zM1088 332h6v5h-6zM1106 332h12v5h-12zM1088 337h6v5h-6zM1112 337h6v5h-6zM1118 342h6v5h-6zM1082 352h6v5h-6zM1082 357h6v5h-6zM1124 357h6v5h-6zM1124 362h6v5h-6zM1124 367h6v5h-6zM1130 397h6v5h-6zM1130 402h6v5h-6zM1130 407h6v5h-6zM1130 412h6v5h-6zM1130 417h6v5h-6z"/>
<path fill="#3189f4" d="M1094 332h12v5h-12zM1094 337h18v5h-18zM1088 342h6v5h-6zM1112 342h6v5h-6zM1118 347h6v5h-6zM1118 352h6v5h-6zM1082 362h6v5h-6zM1082 367h6v5h-6zM1082 372h6v5h-6zM1124 372h6v5h-6zM1124 377h6v5h-6zM1124 382h6v5h-6zM1124 387h6v5h-6zM1130 422h6v5h-6zM1130 427h6v5h-6z"/>
<path fill="#3484f5" d="M1094 342h18v5h-18zM1088 347h6v5h-6zM1112 347h6v5h-6zM1088 352h6v5h-6zM1118 357h6v5h-6zM1118 362h6v5h-6zM1082 377h6v5h-6zM1082 382h6v5h-6zM1082 387h6v5h-6zM1082 392h6v5h-6zM1124 392h6v5h-6zM1124 397h6v5h-6zM1124 402h6v5h-6zM1124 407h6v5h-6z"/>
<path fill="#387ff5" d="M1094 347h18v5h-18zM1112 352h6v5h-6zM1088 357h6v5h-6zM1112 357h6v5h-6zM1118 367h6v5h-6zM1118 372h6v5h-6zM1118 377h6v5h-6zM1082 397h6v5h-6zM1082 402h6v5h-6zM1082 407h6v5h-6zM1082 412h6v5h-6zM1124 412h6v5h-6zM1082 417h6v5h-6zM1124 417h6v5h-6zM1124 422h6v5h-6zM1124 427h6v5h-6z"/>
<path fill="#3c7af5" d="M1094 352h18v5h-18zM1094 357h6v5h-6zM1106 357h6v5h-6zM1088 362h6v5h-6zM1112 362h6v5h-6zM1088 367h6v5h-6zM1118 382h6v5h-6zM1118 387h6v5h-6zM1118 392h6v5h-6zM1118 397h6v5h-6zM1082 422h6v5h-6zM1082 427h6v5h-6z"/>
<path fill="#4076f5" d="M1100 357h6v5h-6zM1094 362h18v5h-18zM1112 367h6v5h-6zM1088 372h6v5h-6zM1112 372h6v5h-6zM1088 377h6v5h-6zM1112 377h6v5h-6zM1088 382h6v5h-6zM1088 387h6v5h-6zM1118 402h6v5h-6zM1118 407h6v5h-6zM1118 412h6v5h-6zM1118 417h6v5h-6z"/>
<path fill="#4471f5" d="M1094 367h18v5h-18zM1094 372h18v5h-18zM1094 377h6v5h-6zM1106 377h6v5h-6zM1112 382h6v5h-6zM1112 387h6v5h-6zM1088 392h6v5h-6zM1112 392h6v5h-6zM1088 397h6v5h-6zM1112 397h6v5h-6zM1088 402h6v5h-6zM1088 407h6v5h-6zM1118 422h6v5h-6zM1118 427h6v5h-6z"/>
<path fill="#486cf5" d="M1100 377h6v5h-6zM1094 382h18v5h-18zM1094 387h18v5h-18zM1094 392h18v5h-18zM1094 397h6v5h-6zM1112 402h6v5h-6zM1112 407h6v5h-6zM1088 412h6v5h-6zM1112 412h6v5h-6zM1088 417h6v5h-6zM1088 422h6v5h-6zM1088 427h6v5h-6z"/>
<path fill="#4c68f5" d="M1100 397h12v5h-12zM1094 402h18v5h-18zM1094 407h18v5h-18zM1094 412h18v5h-18zM1094 417h6v5h-6zM1112 417h6v5h-6zM1112 422h6v5h-6zM1112 427h6v5h-6z"/>
<path fill="#5064f5" d="M1100 417h12v5h-12zM1094 422h18v5h-18zM1094 427h18v5h-18z"/></g></g>
<g clip-path="url(#cBL)"><g filter="url(#bl)"><path fill="#16af32" d="M94 472h42v5h-42zM844 472h6v5h-6zM94 477h42v5h-42zM844 477h6v5h-6zM94 482h42v5h-42zM844 482h6v5h-6zM94 487h42v5h-42zM844 487h6v5h-6zM94 492h48v5h-48zM94 497h54v5h-54zM94 502h42v5h-42zM838 507h6v5h-6zM832 512h6v5h-6zM826 517h12v5h-12zM742 522h90v5h-90zM94 527h48v5h-48zM736 527h90v5h-90zM148 532h6v5h-6zM166 537h12v5h-12zM208 537h6v5h-6zM724 537h6v5h-6zM232 542h6v5h-6zM490 542h6v5h-6zM556 542h6v5h-6zM706 542h6v5h-6zM280 547h6v5h-6zM694 547h6v5h-6zM394 567h6v5h-6zM412 567h6v5h-6zM580 567h6v5h-6zM394 572h6v5h-6zM412 572h6v5h-6zM394 577h6v5h-6zM412 577h6v5h-6zM394 582h6v5h-6zM610 592h6v5h-6zM652 592h6v5h-6zM412 597h6v5h-6zM616 597h6v5h-6zM412 602h6v5h-6zM400 607h6v5h-6zM400 612h6v5h-6zM406 617h6v5h-6zM622 617h6v5h-6zM622 622h6v5h-6zM646 642h6v5h-6zM628 647h6v5h-6z"/>
<path fill="#18ad2e" d="M136 472h6v5h-6zM136 477h6v5h-6zM136 482h6v5h-6zM136 487h6v5h-6zM142 492h6v5h-6zM838 492h6v5h-6zM148 497h6v5h-6zM838 497h6v5h-6zM136 502h18v5h-18zM838 502h6v5h-6zM94 507h48v5h-48zM832 507h6v5h-6zM748 512h84v5h-84zM736 517h90v5h-90zM736 522h6v5h-6zM142 527h12v5h-12zM154 532h6v5h-6zM730 532h6v5h-6zM508 537h6v5h-6zM550 537h6v5h-6zM436 542h12v5h-12zM478 542h12v5h-12zM382 547h6v5h-6zM418 547h6v5h-6zM562 547h6v5h-6zM370 552h6v5h-6zM388 552h6v5h-6zM412 557h6v5h-6zM394 562h6v5h-6zM412 562h6v5h-6zM670 572h6v5h-6zM412 582h6v5h-6zM412 587h6v5h-6zM604 587h6v5h-6zM412 592h6v5h-6zM400 602h6v5h-6zM646 602h6v5h-6zM406 607h6v5h-6zM622 607h6v5h-6zM646 607h6v5h-6zM406 612h6v5h-6zM622 612h6v5h-6zM646 612h6v5h-6zM646 617h6v5h-6zM646 622h6v5h-6zM646 627h6v5h-6zM646 632h6v5h-6zM646 637h6v5h-6zM628 642h6v5h-6zM634 647h12v5h-12z"/>
<path fill="#1aaa2b" d="M142 472h6v5h-6zM838 472h6v5h-6zM142 477h6v5h-6zM838 477h6v5h-6zM142 482h6v5h-6zM838 482h6v5h-6zM142 487h6v5h-6zM838 487h6v5h-6zM148 492h12v5h-12zM154 497h6v5h-6zM832 497h6v5h-6zM154 502h6v5h-6zM832 502h6v5h-6zM142 507h18v5h-18zM742 507h90v5h-90zM94 512h54v5h-54zM736 512h12v5h-12zM94 517h54v5h-54zM94 522h60v5h-60zM154 527h6v5h-6zM730 527h6v5h-6zM160 532h6v5h-6zM214 537h6v5h-6zM238 542h6v5h-6zM430 542h6v5h-6zM448 542h6v5h-6zM472 542h6v5h-6zM700 542h6v5h-6zM286 547h6v5h-6zM376 547h6v5h-6zM328 552h6v5h-6zM412 552h6v5h-6zM568 552h6v5h-6zM688 552h6v5h-6zM394 557h6v5h-6zM574 557h6v5h-6zM580 562h6v5h-6zM676 562h6v5h-6zM400 567h12v5h-12zM670 567h6v5h-6zM400 572h12v5h-12zM586 572h6v5h-6zM400 577h6v5h-6zM400 582h6v5h-6zM400 587h6v5h-6zM400 592h6v5h-6zM400 597h6v5h-6zM646 597h6v5h-6zM406 602h6v5h-6zM622 602h6v5h-6zM628 617h6v5h-6zM628 622h6v5h-6zM628 627h6v5h-6zM628 632h6v5h-6zM628 637h6v5h-6zM634 642h12v5h-12z"/>
<path fill="#1ca828" d="M148 472h24v5h-24zM754 472h84v5h-84zM148 477h24v5h-24zM754 477h84v5h-84zM148 482h18v5h-18zM754 482h84v5h-84zM148 487h18v5h-18zM754 487h84v5h-84zM754 492h84v5h-84zM748 497h84v5h-84zM742 502h90v5h-90zM736 507h6v5h-6zM148 512h12v5h-12zM148 517h12v5h-12zM730 517h6v5h-6zM154 522h6v5h-6zM730 522h6v5h-6zM160 527h6v5h-6zM166 532h6v5h-6zM526 532h18v5h-18zM724 532h6v5h-6zM718 537h6v5h-6zM424 542h6v5h-6zM454 542h18v5h-18zM388 547h6v5h-6zM394 552h6v5h-6zM358 557h6v5h-6zM400 557h12v5h-12zM400 562h12v5h-12zM406 577h6v5h-6zM406 582h6v5h-6zM406 587h6v5h-6zM406 592h6v5h-6zM406 597h6v5h-6zM622 597h6v5h-6zM628 602h18v5h-18zM628 607h18v5h-18zM628 612h18v5h-18zM634 617h12v5h-12zM634 622h12v5h-12zM634 627h12v5h-12zM634 632h12v5h-12zM634 637h12v5h-12z"/>
<path fill="#1fa726" d="M172 472h6v5h-6zM742 472h12v5h-12zM172 477h6v5h-6zM742 477h12v5h-12zM166 482h12v5h-12zM742 482h12v5h-12zM166 487h6v5h-6zM742 487h12v5h-12zM160 492h6v5h-6zM742 492h12v5h-12zM160 497h6v5h-6zM742 497h6v5h-6zM160 502h6v5h-6zM736 502h6v5h-6zM160 507h6v5h-6zM160 512h6v5h-6zM730 512h6v5h-6zM160 517h6v5h-6zM160 522h6v5h-6zM172 532h30v5h-30zM520 532h6v5h-6zM544 532h6v5h-6zM220 537h6v5h-6zM502 537h6v5h-6zM244 542h36v5h-36zM382 542h12v5h-12zM292 547h6v5h-6zM412 547h6v5h-6zM400 552h12v5h-12zM340 557h6v5h-6zM682 557h6v5h-6zM586 567h6v5h-6zM664 577h6v5h-6zM598 582h6v5h-6zM616 592h6v5h-6zM646 592h6v5h-6zM628 597h18v5h-18z"/>
<path fill="#23a625" d="M178 472h6v5h-6zM736 472h6v5h-6zM178 477h6v5h-6zM736 477h6v5h-6zM178 482h6v5h-6zM736 482h6v5h-6zM172 487h6v5h-6zM736 487h6v5h-6zM166 492h6v5h-6zM736 492h6v5h-6zM736 497h6v5h-6zM730 507h6v5h-6zM166 527h6v5h-6zM724 527h6v5h-6zM202 532h6v5h-6zM514 532h6v5h-6zM712 537h6v5h-6zM280 542h6v5h-6zM694 542h6v5h-6zM298 547h6v5h-6zM394 547h6v5h-6zM352 557h6v5h-6zM580 557h6v5h-6zM670 562h6v5h-6zM592 577h6v5h-6zM658 582h6v5h-6zM652 587h6v5h-6z"/>
<path fill="#2aa322" d="M184 472h6v5h-6zM730 472h6v5h-6zM184 477h6v5h-6zM730 477h6v5h-6zM184 482h6v5h-6zM730 482h6v5h-6zM730 487h6v5h-6zM172 492h6v5h-6zM730 492h6v5h-6zM166 502h6v5h-6zM166 507h6v5h-6zM724 512h6v5h-6zM178 527h6v5h-6zM532 527h12v5h-12zM508 532h6v5h-6zM382 537h6v5h-6zM556 537h6v5h-6zM706 537h6v5h-6zM376 542h6v5h-6zM322 547h6v5h-6zM370 547h6v5h-6zM688 547h6v5h-6zM334 552h6v5h-6zM364 552h6v5h-6zM574 552h6v5h-6zM664 572h6v5h-6zM628 592h12v5h-12z"/>
<path fill="#40a61e" d="M190 472h6v5h-6zM190 477h6v5h-6zM190 482h6v5h-6zM172 502h6v5h-6zM172 507h6v5h-6zM172 512h6v5h-6zM400 517h12v5h-12zM178 522h6v5h-6zM400 522h6v5h-6zM526 522h18v5h-18zM718 522h6v5h-6zM202 527h6v5h-6zM394 527h6v5h-6zM514 527h6v5h-6zM382 532h6v5h-6zM712 532h6v5h-6zM244 537h12v5h-12zM280 537h6v5h-6zM400 537h6v5h-6zM424 537h6v5h-6zM448 537h6v5h-6zM664 562h6v5h-6zM604 582h6v5h-6zM616 587h6v5h-6z"/>
<path fill="#53aa1b" d="M196 472h6v5h-6zM334 472h6v5h-6zM196 477h6v5h-6zM334 477h6v5h-6zM196 482h6v5h-6zM286 487h6v5h-6zM532 507h6v5h-6zM544 507h6v5h-6zM532 512h6v5h-6zM544 512h6v5h-6zM178 517h6v5h-6zM394 517h6v5h-6zM412 517h6v5h-6zM544 517h6v5h-6zM184 522h6v5h-6zM520 522h6v5h-6zM550 527h6v5h-6zM220 532h6v5h-6zM268 532h6v5h-6zM502 532h6v5h-6zM406 537h12v5h-12zM454 537h6v5h-6zM694 537h6v5h-6zM688 542h6v5h-6zM574 547h6v5h-6zM358 552h6v5h-6zM592 562h6v5h-6zM598 577h6v5h-6zM652 582h6v5h-6zM622 587h24v5h-24z"/>
<path fill="#5cac1a" d="M202 472h6v5h-6zM712 472h6v5h-6zM202 477h6v5h-6zM712 477h6v5h-6zM202 482h6v5h-6zM334 482h6v5h-6zM712 482h6v5h-6zM196 487h6v5h-6zM712 487h6v5h-6zM712 492h6v5h-6zM184 497h6v5h-6zM712 497h6v5h-6zM178 502h6v5h-6zM538 502h6v5h-6zM712 502h6v5h-6zM178 507h6v5h-6zM178 512h6v5h-6zM400 512h12v5h-12zM526 517h6v5h-6zM190 522h12v5h-12zM406 527h6v5h-6zM508 527h6v5h-6zM712 527h6v5h-6zM262 532h6v5h-6zM274 532h6v5h-6zM556 532h6v5h-6zM706 532h6v5h-6zM286 537h6v5h-6zM484 537h6v5h-6zM298 542h6v5h-6zM370 542h6v5h-6zM334 547h6v5h-6zM580 547h6v5h-6zM592 557h6v5h-6z"/>
<path fill="#75b218" d="M208 472h6v5h-6zM274 472h6v5h-6zM340 472h6v5h-6zM208 477h6v5h-6zM274 477h6v5h-6zM340 477h6v5h-6zM208 482h6v5h-6zM274 482h6v5h-6zM328 482h6v5h-6zM202 487h6v5h-6zM706 497h6v5h-6zM184 502h6v5h-6zM544 502h6v5h-6zM550 507h6v5h-6zM526 512h6v5h-6zM712 512h6v5h-6zM184 517h6v5h-6zM520 517h6v5h-6zM712 517h6v5h-6zM208 522h6v5h-6zM514 522h6v5h-6zM712 522h6v5h-6zM412 527h6v5h-6zM232 532h6v5h-6zM280 532h6v5h-6zM376 532h6v5h-6zM412 532h6v5h-6zM700 532h6v5h-6zM466 537h12v5h-12zM322 542h6v5h-6zM682 547h6v5h-6zM592 552h6v5h-6zM658 572h6v5h-6zM610 582h6v5h-6z"/>
<path fill="#adc00f" d="M214 472h6v5h-6zM322 472h6v5h-6zM214 477h6v5h-6zM322 477h6v5h-6zM214 482h6v5h-6zM322 482h6v5h-6zM268 487h6v5h-6zM328 487h6v5h-6zM280 492h6v5h-6zM196 497h6v5h-6zM700 497h6v5h-6zM700 502h6v5h-6zM202 512h6v5h-6zM706 517h6v5h-6zM382 522h6v5h-6zM424 522h6v5h-6zM556 522h6v5h-6zM250 527h6v5h-6zM430 527h6v5h-6zM454 532h6v5h-6zM562 532h6v5h-6zM298 537h6v5h-6zM568 537h6v5h-6zM334 542h6v5h-6zM358 547h6v5h-6zM676 547h6v5h-6zM664 552h6v5h-6zM598 557h6v5h-6zM622 582h6v5h-6zM634 582h6v5h-6z"/>
<path fill="#e4c902" d="M220 472h6v5h-6zM256 472h6v5h-6zM220 477h6v5h-6zM256 477h6v5h-6zM256 482h6v5h-6zM520 497h6v5h-6zM418 502h6v5h-6zM508 512h6v5h-6zM262 517h18v5h-18zM688 517h6v5h-6zM286 522h6v5h-6zM442 522h6v5h-6zM682 532h6v5h-6zM364 537h6v5h-6zM346 542h6v5h-6zM604 547h6v5h-6zM610 567h6v5h-6zM646 567h6v5h-6zM610 572h6v5h-6zM616 577h6v5h-6z"/>
<path fill="#ffc300" d="M226 472h6v5h-6zM358 472h6v5h-6zM226 477h6v5h-6zM358 477h6v5h-6zM412 492h6v5h-6zM430 492h12v5h-12zM526 492h6v5h-6zM688 492h6v5h-6zM238 497h6v5h-6zM442 497h6v5h-6zM508 497h6v5h-6zM628 497h6v5h-6zM640 497h6v5h-6zM286 502h6v5h-6zM442 502h6v5h-6zM502 502h6v5h-6zM658 502h6v5h-6zM382 507h6v5h-6zM442 507h6v5h-6zM628 507h6v5h-6zM286 512h6v5h-6zM448 512h12v5h-12zM502 512h6v5h-6zM460 517h6v5h-6zM466 522h6v5h-6zM484 522h6v5h-6zM568 522h6v5h-6zM676 522h6v5h-6zM298 527h6v5h-6zM580 527h18v5h-18zM334 532h6v5h-6zM604 532h6v5h-6zM658 537h6v5h-6zM610 542h6v5h-6zM616 547h6v5h-6z"/>
<path fill="#ffbc00" d="M232 472h12v5h-12zM598 472h6v5h-6zM232 477h12v5h-12zM598 477h6v5h-6zM226 482h6v5h-6zM244 482h6v5h-6zM364 482h6v5h-6zM598 482h6v5h-6zM352 487h6v5h-6zM598 487h6v5h-6zM310 497h6v5h-6zM388 497h6v5h-6zM604 497h6v5h-6zM646 497h6v5h-6zM562 502h6v5h-6zM670 502h6v5h-6zM292 507h6v5h-6zM670 507h6v5h-6zM484 512h6v5h-6zM610 512h6v5h-6zM652 512h6v5h-6zM670 512h6v5h-6zM568 517h6v5h-6zM610 517h6v5h-6zM574 522h6v5h-6zM598 522h12v5h-12zM670 522h6v5h-6zM310 527h6v5h-6zM664 527h6v5h-6zM610 537h6v5h-6zM652 537h6v5h-6zM646 542h6v5h-6zM634 547h6v5h-6z"/>
<path fill="#ffbe00" d="M244 472h6v5h-6zM364 472h6v5h-6zM412 472h6v5h-6zM520 472h6v5h-6zM604 472h6v5h-6zM622 472h6v5h-6zM688 472h6v5h-6zM244 477h6v5h-6zM364 477h6v5h-6zM412 477h6v5h-6zM520 477h6v5h-6zM604 477h6v5h-6zM622 477h6v5h-6zM688 477h6v5h-6zM412 482h6v5h-6zM520 482h6v5h-6zM604 482h6v5h-6zM622 482h6v5h-6zM688 482h6v5h-6zM412 487h6v5h-6zM604 487h6v5h-6zM622 487h6v5h-6zM244 492h6v5h-6zM334 492h6v5h-6zM406 492h6v5h-6zM604 492h6v5h-6zM628 492h6v5h-6zM304 497h6v5h-6zM394 497h6v5h-6zM544 497h6v5h-6zM610 497h6v5h-6zM682 497h6v5h-6zM292 502h6v5h-6zM382 502h6v5h-6zM610 502h6v5h-6zM664 502h6v5h-6zM676 502h6v5h-6zM490 507h12v5h-12zM610 507h6v5h-6zM664 507h6v5h-6zM616 512h18v5h-18zM646 512h6v5h-6zM484 517h6v5h-6zM292 522h6v5h-6zM304 527h6v5h-6zM604 527h6v5h-6zM670 527h6v5h-6zM340 532h6v5h-6zM658 532h6v5h-6zM622 547h6v5h-6z"/>
<path fill="#ffc600" d="M250 472h6v5h-6zM250 477h6v5h-6zM250 482h6v5h-6zM250 487h6v5h-6zM250 492h6v5h-6zM418 492h12v5h-12zM514 492h6v5h-6zM226 497h6v5h-6zM244 497h6v5h-6zM298 497h6v5h-6zM400 497h6v5h-6zM436 497h6v5h-6zM634 497h6v5h-6zM280 502h6v5h-6zM436 502h6v5h-6zM628 502h6v5h-6zM682 502h6v5h-6zM280 507h6v5h-6zM502 507h6v5h-6zM442 512h6v5h-6zM562 512h6v5h-6zM454 517h6v5h-6zM490 522h6v5h-6zM370 527h6v5h-6zM478 527h6v5h-6zM574 527h6v5h-6zM676 527h6v5h-6zM670 532h6v5h-6zM346 537h6v5h-6zM358 537h6v5h-6zM652 542h6v5h-6z"/>
<path fill="#bfc40a" d="M262 472h6v5h-6zM262 477h6v5h-6zM262 482h6v5h-6zM304 482h6v5h-6zM214 487h6v5h-6zM274 492h6v5h-6zM196 502h6v5h-6zM418 507h6v5h-6zM208 512h6v5h-6zM388 512h6v5h-6zM514 512h6v5h-6zM556 517h6v5h-6zM268 522h12v5h-12zM442 527h6v5h-6zM490 532h6v5h-6zM688 532h6v5h-6zM304 537h24v5h-24zM574 537h6v5h-6zM352 547h6v5h-6zM598 547h6v5h-6zM652 572h6v5h-6z"/>
<path fill="#9bbc14" d="M268 472h6v5h-6zM706 472h6v5h-6zM268 477h6v5h-6zM706 477h6v5h-6zM706 482h6v5h-6zM190 502h6v5h-6zM526 502h6v5h-6zM190 507h6v5h-6zM400 507h12v5h-12zM706 507h6v5h-6zM190 512h6v5h-6zM418 512h6v5h-6zM520 512h6v5h-6zM208 517h6v5h-6zM388 517h6v5h-6zM508 522h6v5h-6zM706 522h6v5h-6zM262 527h6v5h-6zM502 527h6v5h-6zM556 527h6v5h-6zM448 532h6v5h-6zM694 532h6v5h-6zM580 542h6v5h-6zM340 547h6v5h-6zM598 567h6v5h-6zM604 577h6v5h-6zM652 577h6v5h-6zM616 582h6v5h-6z"/>
<path fill="#49a81c" d="M280 472h6v5h-6zM292 472h6v5h-6zM718 472h6v5h-6zM280 477h6v5h-6zM292 477h6v5h-6zM718 477h6v5h-6zM280 482h6v5h-6zM292 482h6v5h-6zM718 482h6v5h-6zM190 487h6v5h-6zM718 487h6v5h-6zM184 492h6v5h-6zM718 492h6v5h-6zM178 497h6v5h-6zM718 497h6v5h-6zM718 502h6v5h-6zM538 507h6v5h-6zM718 507h6v5h-6zM538 512h6v5h-6zM718 512h6v5h-6zM532 517h12v5h-12zM718 517h6v5h-6zM394 522h6v5h-6zM406 522h6v5h-6zM544 522h6v5h-6zM208 527h6v5h-6zM388 527h6v5h-6zM400 527h6v5h-6zM400 532h6v5h-6zM376 537h6v5h-6zM418 537h6v5h-6zM490 537h6v5h-6zM292 542h6v5h-6zM340 552h6v5h-6zM586 552h6v5h-6zM670 557h6v5h-6zM592 567h6v5h-6zM658 577h6v5h-6z"/>
<path fill="#36a41f" d="M286 472h6v5h-6zM724 472h6v5h-6zM286 477h6v5h-6zM724 477h6v5h-6zM286 482h6v5h-6zM724 482h6v5h-6zM724 487h6v5h-6zM724 492h6v5h-6zM172 497h6v5h-6zM724 497h6v5h-6zM172 517h6v5h-6zM190 527h12v5h-12zM544 527h6v5h-6zM718 527h6v5h-6zM214 532h6v5h-6zM394 532h6v5h-6zM238 537h6v5h-6zM256 537h6v5h-6zM430 537h18v5h-18zM700 537h6v5h-6zM406 542h6v5h-6zM328 547h6v5h-6zM580 552h6v5h-6zM682 552h6v5h-6zM592 572h6v5h-6zM646 587h6v5h-6z"/>
<path fill="#82b616" d="M298 472h6v5h-6zM298 477h6v5h-6zM298 482h6v5h-6zM340 482h6v5h-6zM196 492h6v5h-6zM706 492h6v5h-6zM706 502h6v5h-6zM184 507h6v5h-6zM526 507h6v5h-6zM184 512h6v5h-6zM394 512h6v5h-6zM550 512h6v5h-6zM190 517h6v5h-6zM418 517h6v5h-6zM550 517h6v5h-6zM238 532h18v5h-18zM418 532h24v5h-24zM328 542h6v5h-6zM658 567h6v5h-6zM598 572h6v5h-6z"/>
<path fill="#b6c20d" d="M304 472h6v5h-6zM304 477h6v5h-6zM208 492h6v5h-6zM292 492h6v5h-6zM700 492h6v5h-6zM196 507h6v5h-6zM394 507h6v5h-6zM520 507h6v5h-6zM700 507h6v5h-6zM214 517h6v5h-6zM424 517h6v5h-6zM220 522h6v5h-6zM700 522h6v5h-6zM232 527h18v5h-18zM376 527h6v5h-6zM436 527h6v5h-6zM694 527h6v5h-6zM364 542h6v5h-6zM592 542h6v5h-6zM346 547h6v5h-6zM598 552h6v5h-6zM628 582h6v5h-6z"/>
<path fill="#cfc706" d="M310 472h12v5h-12zM700 472h6v5h-6zM310 477h12v5h-12zM700 477h6v5h-6zM316 482h6v5h-6zM346 482h6v5h-6zM700 482h6v5h-6zM304 487h6v5h-6zM268 492h6v5h-6zM532 497h6v5h-6zM202 502h6v5h-6zM214 512h6v5h-6zM220 517h6v5h-6zM250 522h6v5h-6zM280 522h6v5h-6zM448 527h6v5h-6zM496 527h6v5h-6zM562 527h6v5h-6zM688 527h6v5h-6zM292 532h6v5h-6zM484 532h6v5h-6zM328 537h6v5h-6zM586 537h6v5h-6zM340 542h6v5h-6zM598 542h6v5h-6zM604 567h6v5h-6z"/>
<path fill="#69af19" d="M328 472h6v5h-6zM328 477h6v5h-6zM280 487h6v5h-6zM292 487h6v5h-6zM190 492h6v5h-6zM532 502h6v5h-6zM712 507h6v5h-6zM412 512h6v5h-6zM202 522h6v5h-6zM388 522h6v5h-6zM412 522h6v5h-6zM550 522h6v5h-6zM214 527h6v5h-6zM382 527h6v5h-6zM226 532h6v5h-6zM256 532h6v5h-6zM406 532h6v5h-6zM460 537h6v5h-6zM478 537h6v5h-6zM562 537h6v5h-6zM304 542h18v5h-18zM568 542h6v5h-6zM364 547h6v5h-6zM586 547h6v5h-6zM346 552h12v5h-12zM676 552h6v5h-6zM664 557h6v5h-6z"/>
<path fill="#c8c608" d="M346 472h6v5h-6zM346 477h6v5h-6zM262 487h6v5h-6zM322 487h6v5h-6zM340 487h6v5h-6zM700 487h6v5h-6zM202 497h6v5h-6zM526 497h6v5h-6zM520 502h6v5h-6zM202 507h6v5h-6zM556 507h6v5h-6zM424 512h6v5h-6zM556 512h6v5h-6zM700 512h6v5h-6zM508 517h6v5h-6zM700 517h6v5h-6zM226 522h6v5h-6zM256 522h12v5h-12zM430 522h6v5h-6zM502 522h6v5h-6zM694 522h6v5h-6zM286 527h6v5h-6zM460 532h6v5h-6zM580 537h6v5h-6zM682 537h6v5h-6zM670 547h6v5h-6zM658 552h6v5h-6zM652 562h6v5h-6zM652 567h6v5h-6zM604 572h6v5h-6zM610 577h6v5h-6zM646 577h6v5h-6z"/>
<path fill="#f3c900" d="M352 472h6v5h-6zM352 477h6v5h-6zM694 487h6v5h-6zM220 502h6v5h-6zM688 502h6v5h-6zM430 507h6v5h-6zM508 507h6v5h-6zM436 517h6v5h-6zM376 522h6v5h-6zM496 522h6v5h-6zM682 522h6v5h-6zM460 527h6v5h-6zM304 532h6v5h-6zM592 532h6v5h-6zM340 537h6v5h-6zM658 542h6v5h-6zM610 552h6v5h-6zM610 557h6v5h-6zM616 562h6v5h-6zM640 562h6v5h-6zM622 567h18v5h-18zM616 572h6v5h-6zM640 572h6v5h-6z"/>
<path fill="#fdb100" d="M370 472h6v5h-6zM406 472h6v5h-6zM580 472h6v5h-6zM370 477h6v5h-6zM406 477h6v5h-6zM526 477h6v5h-6zM580 477h6v5h-6zM232 482h12v5h-12zM406 482h6v5h-6zM580 482h12v5h-12zM358 487h6v5h-6zM526 487h6v5h-6zM586 487h12v5h-12zM238 492h6v5h-6zM400 492h6v5h-6zM382 497h6v5h-6zM550 497h6v5h-6zM598 497h6v5h-6zM676 497h6v5h-6zM304 502h6v5h-6zM568 512h6v5h-6zM604 512h6v5h-6zM628 517h42v5h-42zM658 522h6v5h-6zM610 527h6v5h-6zM358 532h6v5h-6z"/>
<path fill="#f88f04" d="M376 472h6v5h-6zM532 472h6v5h-6zM376 477h6v5h-6zM376 482h6v5h-6zM232 487h6v5h-6zM376 487h6v5h-6zM346 492h6v5h-6zM370 492h6v5h-6zM328 497h6v5h-6zM568 497h18v5h-18zM574 502h18v5h-18zM316 507h6v5h-6zM580 507h12v5h-12zM304 512h12v5h-12zM580 512h6v5h-6zM304 517h6v5h-6zM316 517h6v5h-6zM586 517h6v5h-6zM628 522h12v5h-12zM340 527h6v5h-6zM646 527h6v5h-6zM616 532h6v5h-6zM646 532h6v5h-6zM622 542h6v5h-6z"/>
<path fill="#f5760a" d="M382 472h6v5h-6zM382 477h6v5h-6zM382 482h6v5h-6zM532 482h6v5h-6zM640 482h6v5h-6zM388 487h6v5h-6zM532 487h6v5h-6zM352 492h12v5h-12zM646 492h6v5h-6zM322 507h6v5h-6zM322 517h6v5h-6zM328 522h6v5h-6zM352 527h6v5h-6zM640 527h6v5h-6zM634 542h6v5h-6z"/>
<path fill="#f26a0c" d="M388 472h6v5h-6zM640 472h6v5h-6zM388 477h6v5h-6zM640 477h6v5h-6zM388 482h6v5h-6zM670 492h6v5h-6zM370 497h6v5h-6zM322 512h6v5h-6zM628 527h6v5h-6zM640 537h6v5h-6zM628 542h6v5h-6z"/>
<path fill="#f67e08" d="M394 472h6v5h-6zM394 477h6v5h-6zM394 482h6v5h-6zM568 482h6v5h-6zM382 487h6v5h-6zM568 487h6v5h-6zM640 487h6v5h-6zM364 492h6v5h-6zM298 512h6v5h-6zM586 512h6v5h-6zM346 527h6v5h-6zM358 527h6v5h-6zM622 527h6v5h-6z"/>
<path fill="#f99802" d="M400 472h6v5h-6zM400 477h6v5h-6zM400 482h6v5h-6zM376 492h18v5h-18zM574 492h6v5h-6zM676 492h6v5h-6zM376 497h6v5h-6zM586 497h6v5h-6zM658 497h12v5h-12zM310 507h6v5h-6zM574 507h6v5h-6zM592 507h6v5h-6zM292 517h6v5h-6zM310 517h6v5h-6zM592 517h6v5h-6zM322 522h6v5h-6zM640 522h6v5h-6zM616 527h6v5h-6z"/>
<path fill="#ffc100" d="M418 472h102v5h-102zM610 472h12v5h-12zM418 477h102v5h-102zM610 477h12v5h-12zM358 482h6v5h-6zM418 482h102v5h-102zM610 482h12v5h-12zM418 487h108v5h-108zM610 487h12v5h-12zM688 487h6v5h-6zM442 492h72v5h-72zM610 492h18v5h-18zM232 497h6v5h-6zM448 497h60v5h-60zM616 497h12v5h-12zM448 502h54v5h-54zM616 502h12v5h-12zM286 507h6v5h-6zM448 507h42v5h-42zM562 507h6v5h-6zM616 507h12v5h-12zM658 507h6v5h-6zM676 507h6v5h-6zM460 512h24v5h-24zM634 512h12v5h-12zM676 512h6v5h-6zM466 517h18v5h-18zM676 517h6v5h-6zM472 522h12v5h-12zM598 527h6v5h-6zM364 532h6v5h-6zM664 532h6v5h-6zM352 537h6v5h-6zM640 547h6v5h-6z"/>
<path fill="#feb600" d="M526 472h6v5h-6zM586 472h12v5h-12zM628 472h6v5h-6zM586 477h12v5h-12zM628 477h6v5h-6zM592 482h6v5h-6zM628 482h6v5h-6zM244 487h6v5h-6zM406 487h6v5h-6zM628 487h6v5h-6zM226 492h6v5h-6zM598 492h6v5h-6zM634 492h6v5h-6zM682 492h6v5h-6zM316 497h6v5h-6zM298 502h6v5h-6zM604 502h6v5h-6zM604 507h6v5h-6zM658 512h12v5h-12zM376 517h6v5h-6zM604 517h6v5h-6zM616 517h12v5h-12zM670 517h6v5h-6zM580 522h18v5h-18zM610 522h6v5h-6zM664 522h6v5h-6zM316 527h12v5h-12zM658 527h6v5h-6zM346 532h6v5h-6zM610 532h6v5h-6zM616 542h6v5h-6zM628 547h6v5h-6z"/>
<path fill="#e74812" d="M538 472h6v5h-6zM562 472h6v5h-6zM646 472h6v5h-6zM562 477h6v5h-6zM646 477h6v5h-6zM646 482h6v5h-6zM652 492h6v5h-6zM328 502h6v5h-6zM364 522h6v5h-6zM634 532h6v5h-6z"/>
<path fill="#da221c" d="M544 472h6v5h-6zM544 477h6v5h-6zM556 477h6v5h-6zM550 492h6v5h-6zM352 497h6v5h-6zM334 502h6v5h-6zM346 522h6v5h-6zM358 522h6v5h-6z"/>
<path fill="#d71c1e" d="M550 472h6v5h-6zM556 482h6v5h-6zM556 487h6v5h-6zM364 507h6v5h-6zM352 522h6v5h-6z"/>
<path fill="#dc291a" d="M556 472h6v5h-6zM538 487h6v5h-6zM544 492h6v5h-6zM346 497h6v5h-6zM358 497h6v5h-6zM364 502h6v5h-6z"/>
<path fill="#f78706" d="M568 472h6v5h-6zM676 472h6v5h-6zM532 477h6v5h-6zM568 477h6v5h-6zM676 477h6v5h-6zM676 482h6v5h-6zM394 487h6v5h-6zM676 487h6v5h-6zM568 492h6v5h-6zM322 502h6v5h-6zM316 512h6v5h-6zM592 512h6v5h-6z"/>
<path fill="#fba600" d="M574 472h6v5h-6zM574 477h6v5h-6zM574 482h6v5h-6zM226 487h6v5h-6zM370 487h6v5h-6zM232 492h6v5h-6zM394 492h6v5h-6zM532 492h6v5h-6zM586 492h6v5h-6zM652 497h6v5h-6zM304 507h6v5h-6zM568 507h6v5h-6zM598 507h6v5h-6zM292 512h6v5h-6zM376 512h6v5h-6zM496 512h6v5h-6zM298 522h18v5h-18zM652 527h6v5h-6z"/>
<path fill="#faa000" d="M634 472h6v5h-6zM634 477h6v5h-6zM634 482h6v5h-6zM238 487h6v5h-6zM400 487h6v5h-6zM574 487h6v5h-6zM634 487h6v5h-6zM580 492h6v5h-6zM640 492h6v5h-6zM562 497h6v5h-6zM592 497h6v5h-6zM670 497h6v5h-6zM316 502h6v5h-6zM376 502h6v5h-6zM568 502h6v5h-6zM592 502h6v5h-6zM376 507h6v5h-6zM490 512h6v5h-6zM574 512h6v5h-6zM598 512h6v5h-6zM580 517h6v5h-6zM316 522h6v5h-6zM370 522h6v5h-6zM622 522h6v5h-6zM646 522h6v5h-6zM334 527h6v5h-6zM364 527h6v5h-6zM616 537h6v5h-6zM646 537h6v5h-6zM640 542h6v5h-6z"/>
<path fill="#e13616" d="M652 472h12v5h-12zM652 477h12v5h-12zM652 482h12v5h-12zM562 487h6v5h-6zM658 487h6v5h-6zM556 492h6v5h-6zM658 492h6v5h-6zM340 497h6v5h-6zM364 497h6v5h-6zM328 507h6v5h-6zM628 537h6v5h-6z"/>
<path fill="#e43c14" d="M664 472h6v5h-6zM538 477h6v5h-6zM664 477h6v5h-6zM562 482h6v5h-6zM664 482h6v5h-6zM652 487h6v5h-6zM664 487h6v5h-6zM664 492h6v5h-6zM370 512h6v5h-6zM328 517h6v5h-6zM334 522h6v5h-6zM628 532h6v5h-6zM634 537h6v5h-6z"/>
<path fill="#eb5310" d="M670 472h6v5h-6zM670 477h6v5h-6zM670 482h6v5h-6zM646 487h6v5h-6zM670 487h6v5h-6zM538 492h6v5h-6zM370 507h6v5h-6zM298 517h6v5h-6z"/>
<path fill="#fcab00" d="M682 472h6v5h-6zM682 477h6v5h-6zM370 482h6v5h-6zM526 482h6v5h-6zM682 482h6v5h-6zM364 487h6v5h-6zM580 487h6v5h-6zM682 487h6v5h-6zM340 492h6v5h-6zM592 492h6v5h-6zM322 497h6v5h-6zM556 497h6v5h-6zM310 502h6v5h-6zM598 502h6v5h-6zM298 507h6v5h-6zM490 517h12v5h-12zM574 517h6v5h-6zM598 517h6v5h-6zM616 522h6v5h-6zM652 522h6v5h-6zM328 527h6v5h-6zM352 532h6v5h-6zM652 532h6v5h-6z"/>
<path fill="#f7c900" d="M694 472h6v5h-6zM694 477h6v5h-6zM694 482h6v5h-6zM346 487h6v5h-6zM220 497h6v5h-6zM256 497h6v5h-6zM292 497h6v5h-6zM262 502h6v5h-6zM634 502h6v5h-6zM652 502h6v5h-6zM226 507h6v5h-6zM640 507h12v5h-12zM232 512h48v5h-48zM502 517h6v5h-6zM562 517h6v5h-6zM682 517h6v5h-6zM454 522h6v5h-6zM568 527h6v5h-6zM310 532h6v5h-6zM670 537h6v5h-6zM616 557h6v5h-6zM640 557h6v5h-6zM622 562h18v5h-18zM634 572h6v5h-6z"/>
<path fill="#12b438" d="M850 472h6v5h-6zM850 477h6v5h-6zM850 482h6v5h-6zM844 502h6v5h-6zM844 507h6v5h-6zM838 517h6v5h-6zM838 522h6v5h-6zM832 532h6v5h-6zM106 537h18v5h-18zM148 537h12v5h-12zM520 537h12v5h-12zM544 537h6v5h-6zM736 537h96v5h-96zM94 542h18v5h-18zM226 542h6v5h-6zM496 542h6v5h-6zM718 542h6v5h-6zM424 547h6v5h-6zM94 552h18v5h-18zM304 552h18v5h-18zM376 552h12v5h-12zM94 557h36v5h-36zM388 557h6v5h-6zM124 562h24v5h-24zM346 562h12v5h-12zM574 562h6v5h-6zM124 567h12v5h-12zM94 572h36v5h-36zM580 572h6v5h-6zM670 577h6v5h-6zM652 597h6v5h-6zM394 602h6v5h-6zM616 607h6v5h-6zM412 617h6v5h-6zM400 622h6v5h-6zM412 622h6v5h-6zM406 632h6v5h-6zM622 637h6v5h-6zM628 652h6v5h-6z"/>
<path fill="#0fbb48" d="M856 472h6v5h-6zM856 477h6v5h-6zM856 482h6v5h-6zM850 497h6v5h-6zM850 502h6v5h-6zM844 517h6v5h-6zM838 532h6v5h-6zM124 542h12v5h-12zM148 542h30v5h-30zM220 542h6v5h-6zM736 542h96v5h-96zM118 547h6v5h-6zM430 547h6v5h-6zM700 547h6v5h-6zM124 552h12v5h-12zM292 552h6v5h-6zM148 557h12v5h-12zM568 557h6v5h-6zM154 562h6v5h-6zM418 562h6v5h-6zM148 567h6v5h-6zM388 567h6v5h-6zM418 567h6v5h-6zM136 572h6v5h-6zM418 572h6v5h-6zM418 577h6v5h-6zM94 582h30v5h-30zM418 582h6v5h-6zM94 587h24v5h-24zM418 587h6v5h-6zM418 592h6v5h-6zM418 597h6v5h-6zM610 597h6v5h-6zM394 612h6v5h-6zM616 617h6v5h-6zM652 617h6v5h-6zM616 622h6v5h-6zM652 622h6v5h-6zM652 627h6v5h-6zM412 632h6v5h-6zM652 632h6v5h-6zM400 637h6v5h-6zM412 637h6v5h-6zM652 637h6v5h-6zM406 642h6v5h-6zM622 647h6v5h-6zM628 657h6v5h-6zM646 657h6v5h-6zM634 662h6v5h-6z"/>
<path fill="#0cc257" d="M862 472h6v5h-6zM862 477h6v5h-6zM862 482h6v5h-6zM862 487h6v5h-6zM856 497h6v5h-6zM850 517h6v5h-6zM844 527h6v5h-6zM184 542h6v5h-6zM208 542h6v5h-6zM508 542h6v5h-6zM838 542h6v5h-6zM142 547h24v5h-24zM436 547h30v5h-30zM706 547h72v5h-72zM160 552h6v5h-6zM280 552h6v5h-6zM160 557h6v5h-6zM376 557h6v5h-6zM160 562h6v5h-6zM148 572h6v5h-6zM136 577h6v5h-6zM676 577h6v5h-6zM130 582h6v5h-6zM670 582h6v5h-6zM124 587h6v5h-6zM664 587h6v5h-6zM118 592h6v5h-6zM388 592h6v5h-6zM94 597h24v5h-24zM388 597h6v5h-6zM610 602h6v5h-6zM418 612h6v5h-6zM418 617h6v5h-6zM394 627h6v5h-6zM616 632h6v5h-6zM400 647h6v5h-6zM412 647h6v5h-6zM652 647h6v5h-6zM628 662h6v5h-6zM646 662h6v5h-6zM634 667h12v5h-12z"/>
<path fill="#0ac65f" d="M868 472h6v5h-6zM868 477h6v5h-6zM868 482h6v5h-6zM868 487h6v5h-6zM862 492h6v5h-6zM856 502h6v5h-6zM856 507h6v5h-6zM856 512h6v5h-6zM844 532h6v5h-6zM190 542h18v5h-18zM514 542h6v5h-6zM550 542h6v5h-6zM166 547h6v5h-6zM232 547h6v5h-6zM466 547h6v5h-6zM556 547h6v5h-6zM778 547h60v5h-60zM250 552h30v5h-30zM424 557h6v5h-6zM334 562h6v5h-6zM382 562h6v5h-6zM688 562h6v5h-6zM160 567h6v5h-6zM346 567h12v5h-12zM574 572h6v5h-6zM682 572h6v5h-6zM130 587h6v5h-6zM592 587h6v5h-6zM124 592h6v5h-6zM118 597h6v5h-6zM658 597h6v5h-6zM94 602h24v5h-24zM388 602h6v5h-6zM610 607h6v5h-6zM610 612h6v5h-6zM418 622h6v5h-6zM418 627h6v5h-6zM394 632h6v5h-6zM418 632h6v5h-6zM616 637h6v5h-6zM406 652h6v5h-6zM652 652h6v5h-6zM622 657h6v5h-6zM628 667h6v5h-6z"/>
<path fill="#0ac868" d="M874 472h6v5h-6zM874 477h6v5h-6zM874 482h6v5h-6zM874 487h6v5h-6zM868 492h6v5h-6zM862 497h6v5h-6zM862 502h6v5h-6zM856 517h6v5h-6zM850 522h6v5h-6zM844 537h6v5h-6zM520 542h12v5h-12zM844 542h6v5h-6zM172 547h6v5h-6zM472 547h6v5h-6zM838 547h6v5h-6zM166 552h6v5h-6zM244 552h6v5h-6zM430 552h6v5h-6zM166 557h6v5h-6zM322 557h6v5h-6zM364 562h6v5h-6zM340 567h6v5h-6zM154 572h6v5h-6zM142 577h6v5h-6zM136 582h6v5h-6zM676 582h6v5h-6zM124 597h6v5h-6zM604 597h6v5h-6zM118 602h6v5h-6zM658 602h6v5h-6zM94 607h24v5h-24zM388 607h6v5h-6zM658 607h6v5h-6zM94 612h18v5h-18zM388 612h6v5h-6zM610 617h6v5h-6zM394 637h6v5h-6zM418 637h6v5h-6zM418 642h6v5h-6zM616 642h6v5h-6zM400 652h6v5h-6zM412 652h6v5h-6zM406 657h6v5h-6zM652 657h6v5h-6zM622 662h6v5h-6zM646 667h6v5h-6zM634 672h12v5h-12z"/>
<path fill="#0aca72" d="M880 472h6v5h-6zM880 477h6v5h-6zM880 482h6v5h-6zM874 492h6v5h-6zM868 497h6v5h-6zM862 507h6v5h-6zM862 512h6v5h-6zM850 527h6v5h-6zM532 542h6v5h-6zM178 547h6v5h-6zM226 547h6v5h-6zM478 547h12v5h-12zM172 552h6v5h-6zM238 552h6v5h-6zM700 552h6v5h-6zM736 552h12v5h-12zM316 557h6v5h-6zM694 557h6v5h-6zM166 562h6v5h-6zM424 562h6v5h-6zM568 562h6v5h-6zM358 567h6v5h-6zM382 567h6v5h-6zM424 567h6v5h-6zM688 567h6v5h-6zM160 572h6v5h-6zM382 572h6v5h-6zM148 577h6v5h-6zM574 577h6v5h-6zM682 577h6v5h-6zM580 582h6v5h-6zM586 587h6v5h-6zM670 587h6v5h-6zM130 592h6v5h-6zM598 592h6v5h-6zM664 592h6v5h-6zM124 602h6v5h-6zM118 607h6v5h-6zM112 612h6v5h-6zM658 612h6v5h-6zM94 617h18v5h-18zM388 617h6v5h-6zM658 617h6v5h-6zM610 622h6v5h-6zM658 622h6v5h-6zM394 642h6v5h-6zM418 647h6v5h-6zM616 647h6v5h-6zM400 657h6v5h-6zM412 657h6v5h-6zM628 672h6v5h-6zM646 672h6v5h-6z"/>
<path fill="#0ad08e" d="M886 472h6v5h-6zM886 477h6v5h-6zM886 482h6v5h-6zM874 502h6v5h-6zM874 507h6v5h-6zM874 512h6v5h-6zM862 522h6v5h-6zM514 547h12v5h-12zM190 552h36v5h-36zM460 552h12v5h-12zM556 552h6v5h-6zM832 552h12v5h-12zM184 557h18v5h-18zM226 557h54v5h-54zM700 557h6v5h-6zM178 562h12v5h-12zM172 567h6v5h-6zM370 567h6v5h-6zM358 572h6v5h-6zM376 572h6v5h-6zM346 577h6v5h-6zM688 577h6v5h-6zM154 582h6v5h-6zM574 582h6v5h-6zM142 587h6v5h-6zM136 592h6v5h-6zM586 592h6v5h-6zM382 602h6v5h-6zM598 602h6v5h-6zM130 607h6v5h-6zM382 607h6v5h-6zM664 607h6v5h-6zM664 612h6v5h-6zM124 617h6v5h-6zM118 622h6v5h-6zM604 622h6v5h-6zM424 627h6v5h-6zM604 627h6v5h-6zM112 632h6v5h-6zM424 632h6v5h-6zM94 637h18v5h-18zM388 637h6v5h-6zM424 637h6v5h-6zM610 642h6v5h-6zM658 652h6v5h-6zM394 657h6v5h-6zM418 657h6v5h-6zM616 662h6v5h-6zM400 667h6v5h-6zM412 667h6v5h-6zM406 672h6v5h-6zM652 672h6v5h-6zM622 677h6v5h-6zM628 682h6v5h-6zM646 682h6v5h-6zM634 687h6v5h-6z"/>
<path fill="#0bcbac" d="M892 472h6v5h-6zM892 477h6v5h-6zM892 482h6v5h-6zM880 512h6v5h-6zM880 517h6v5h-6zM874 522h6v5h-6zM868 527h6v5h-6zM862 532h6v5h-6zM538 547h12v5h-12zM856 547h6v5h-6zM496 552h30v5h-30zM850 552h6v5h-6zM442 557h18v5h-18zM760 557h12v5h-12zM244 562h12v5h-12zM292 562h24v5h-24zM562 562h6v5h-6zM700 562h6v5h-6zM226 567h12v5h-12zM196 572h24v5h-24zM328 572h6v5h-6zM430 572h6v5h-6zM694 572h6v5h-6zM178 577h18v5h-18zM334 577h6v5h-6zM364 577h12v5h-12zM430 577h6v5h-6zM568 577h6v5h-6zM172 582h6v5h-6zM340 582h18v5h-18zM430 582h6v5h-6zM160 587h6v5h-6zM430 587h6v5h-6zM688 587h6v5h-6zM376 592h6v5h-6zM682 592h6v5h-6zM376 597h6v5h-6zM580 597h6v5h-6zM586 602h6v5h-6zM676 602h6v5h-6zM136 607h6v5h-6zM586 607h6v5h-6zM586 612h6v5h-6zM670 612h6v5h-6zM130 617h6v5h-6zM592 617h6v5h-6zM670 617h6v5h-6zM592 622h6v5h-6zM124 627h6v5h-6zM382 627h6v5h-6zM592 627h6v5h-6zM592 632h6v5h-6zM118 637h6v5h-6zM598 637h6v5h-6zM664 637h6v5h-6zM598 642h6v5h-6zM664 642h6v5h-6zM112 647h6v5h-6zM604 647h6v5h-6zM94 652h18v5h-18zM388 652h6v5h-6zM424 652h6v5h-6zM604 652h6v5h-6zM610 662h6v5h-6zM658 667h6v5h-6zM394 672h6v5h-6zM418 672h6v5h-6zM400 677h6v5h-6zM412 677h6v5h-6zM616 677h6v5h-6zM406 682h6v5h-6zM652 682h6v5h-6zM622 687h6v5h-6zM622 692h6v5h-6zM646 692h6v5h-6zM628 697h18v5h-18z"/>
<path fill="#0cc8c0" d="M898 472h6v5h-6zM898 477h6v5h-6zM898 482h6v5h-6zM898 487h6v5h-6zM892 497h6v5h-6zM886 507h6v5h-6zM886 512h6v5h-6zM886 517h6v5h-6zM886 522h6v5h-6zM880 527h6v5h-6zM868 532h12v5h-12zM868 537h6v5h-6zM868 542h6v5h-6zM862 547h6v5h-6zM532 552h6v5h-6zM550 552h6v5h-6zM856 552h6v5h-6zM472 557h48v5h-48zM556 557h6v5h-6zM826 557h18v5h-18zM712 562h42v5h-42zM244 567h6v5h-6zM316 567h6v5h-6zM232 572h12v5h-12zM322 572h6v5h-6zM208 577h18v5h-18zM328 577h6v5h-6zM196 582h12v5h-12zM334 582h6v5h-6zM694 582h6v5h-6zM178 587h18v5h-18zM346 587h12v5h-12zM370 587h6v5h-6zM160 592h24v5h-24zM688 592h6v5h-6zM148 597h6v5h-6zM574 597h6v5h-6zM142 602h6v5h-6zM682 602h6v5h-6zM142 607h6v5h-6zM580 607h6v5h-6zM376 612h6v5h-6zM580 612h6v5h-6zM676 612h6v5h-6zM136 617h6v5h-6zM430 617h6v5h-6zM676 617h6v5h-6zM430 622h6v5h-6zM130 627h6v5h-6zM430 627h6v5h-6zM586 627h6v5h-6zM670 627h6v5h-6zM430 632h6v5h-6zM586 632h6v5h-6zM670 632h6v5h-6zM124 637h6v5h-6zM382 637h6v5h-6zM430 637h6v5h-6zM586 637h6v5h-6zM382 642h6v5h-6zM118 647h6v5h-6zM592 647h6v5h-6zM592 652h6v5h-6zM664 652h6v5h-6zM112 657h6v5h-6zM598 657h6v5h-6zM664 657h6v5h-6zM94 662h18v5h-18zM388 662h6v5h-6zM424 662h6v5h-6zM604 662h6v5h-6zM604 667h6v5h-6zM610 672h6v5h-6zM394 677h6v5h-6zM418 677h6v5h-6zM658 677h6v5h-6zM400 687h6v5h-6zM412 687h6v5h-6zM616 687h6v5h-6zM406 692h6v5h-6zM616 692h6v5h-6zM652 692h6v5h-6zM622 702h6v5h-6zM646 702h6v5h-6zM628 707h18v5h-18z"/>
<path fill="#0ec4c7" d="M904 472h18v5h-18zM904 477h18v5h-18zM904 482h18v5h-18zM904 487h18v5h-18zM898 492h24v5h-24zM898 497h24v5h-24zM892 502h30v5h-30zM892 507h30v5h-30zM892 512h30v5h-30zM892 517h30v5h-30zM892 522h30v5h-30zM886 527h36v5h-36zM880 532h42v5h-42zM874 537h48v5h-48zM874 542h48v5h-48zM868 547h6v5h-6zM538 552h6v5h-6zM520 557h6v5h-6zM844 557h6v5h-6zM442 562h6v5h-6zM754 562h6v5h-6zM250 567h66v5h-66zM436 567h6v5h-6zM562 567h6v5h-6zM706 567h6v5h-6zM244 572h6v5h-6zM700 572h6v5h-6zM226 577h12v5h-12zM208 582h6v5h-6zM328 582h6v5h-6zM196 587h6v5h-6zM340 587h6v5h-6zM358 587h12v5h-12zM568 587h6v5h-6zM694 587h6v5h-6zM184 592h12v5h-12zM370 592h6v5h-6zM154 597h36v5h-36zM688 597h6v5h-6zM148 602h6v5h-6zM574 602h6v5h-6zM682 607h6v5h-6zM142 612h6v5h-6zM376 617h6v5h-6zM580 617h6v5h-6zM136 622h6v5h-6zM376 622h6v5h-6zM580 622h6v5h-6zM676 622h6v5h-6zM130 632h6v5h-6zM670 637h6v5h-6zM124 642h6v5h-6zM430 642h6v5h-6zM586 642h6v5h-6zM670 642h6v5h-6zM382 647h6v5h-6zM430 647h6v5h-6zM586 647h6v5h-6zM118 652h6v5h-6zM592 657h6v5h-6zM112 662h6v5h-6zM592 662h12v5h-12zM664 662h6v5h-6zM388 667h6v5h-6zM424 667h6v5h-6zM598 667h6v5h-6zM604 672h6v5h-6zM610 677h6v5h-6zM394 682h6v5h-6zM418 682h6v5h-6zM610 682h6v5h-6zM658 682h6v5h-6zM400 692h6v5h-6zM412 692h6v5h-6zM406 697h6v5h-6zM616 697h6v5h-6zM616 702h6v5h-6zM622 707h6v5h-6zM646 707h6v5h-6zM628 712h18v5h-18z"/>
<path fill="#d71e24" d="M550 477h6v5h-6zM544 482h12v5h-12zM334 507h6v5h-6zM364 517h6v5h-6z"/>
<path fill="#efca00" d="M220 482h6v5h-6zM256 492h6v5h-6zM304 492h6v5h-6zM262 497h6v5h-6zM286 497h6v5h-6zM538 497h6v5h-6zM424 502h6v5h-6zM514 502h6v5h-6zM220 507h6v5h-6zM688 507h6v5h-6zM226 512h6v5h-6zM238 517h12v5h-12zM448 522h6v5h-6zM292 527h6v5h-6zM490 527h6v5h-6zM682 527h6v5h-6zM580 532h12v5h-12zM352 542h6v5h-6zM604 542h6v5h-6zM664 542h6v5h-6zM652 547h6v5h-6zM646 552h6v5h-6zM646 557h6v5h-6zM610 562h6v5h-6zM616 567h6v5h-6zM640 567h6v5h-6zM622 577h12v5h-12z"/>
<path fill="#a4be12" d="M268 482h6v5h-6zM298 487h6v5h-6zM334 487h6v5h-6zM202 492h6v5h-6zM286 492h6v5h-6zM550 502h6v5h-6zM412 507h6v5h-6zM196 512h6v5h-6zM706 512h6v5h-6zM514 517h6v5h-6zM226 527h6v5h-6zM256 527h6v5h-6zM280 527h6v5h-6zM424 527h6v5h-6zM700 527h6v5h-6zM286 532h6v5h-6zM370 537h6v5h-6zM586 542h6v5h-6zM682 542h6v5h-6zM658 557h6v5h-6zM598 562h6v5h-6zM640 582h6v5h-6z"/>
<path fill="#d6c805" d="M310 482h6v5h-6zM214 492h6v5h-6zM298 492h6v5h-6zM208 497h6v5h-6zM400 502h18v5h-18zM694 502h6v5h-6zM208 507h6v5h-6zM514 507h6v5h-6zM694 507h6v5h-6zM694 512h6v5h-6zM694 517h6v5h-6zM232 522h18v5h-18zM370 532h6v5h-6zM466 532h6v5h-6zM478 532h6v5h-6zM568 532h6v5h-6zM592 537h6v5h-6zM676 542h6v5h-6zM664 547h6v5h-6zM604 557h6v5h-6zM652 557h6v5h-6zM604 562h6v5h-6z"/>
<path fill="#fbc800" d="M352 482h6v5h-6zM220 492h6v5h-6zM310 492h6v5h-6zM322 492h6v5h-6zM406 497h24v5h-24zM514 497h6v5h-6zM688 497h6v5h-6zM226 502h36v5h-36zM268 502h12v5h-12zM388 502h6v5h-6zM430 502h6v5h-6zM232 507h42v5h-42zM280 512h6v5h-6zM382 512h6v5h-6zM436 512h6v5h-6zM682 512h6v5h-6zM286 517h6v5h-6zM442 517h6v5h-6zM466 527h6v5h-6zM484 527h6v5h-6zM316 532h12v5h-12zM598 532h6v5h-6zM676 532h6v5h-6zM604 537h6v5h-6zM610 547h6v5h-6zM646 547h6v5h-6zM616 552h6v5h-6zM640 552h6v5h-6zM622 557h18v5h-18zM622 572h12v5h-12z"/>
<path fill="#df2f18" d="M538 482h6v5h-6zM328 512h6v5h-6zM340 522h6v5h-6z"/>
<path fill="#26a423" d="M178 487h6v5h-6zM166 497h6v5h-6zM730 497h6v5h-6zM730 502h6v5h-6zM166 512h6v5h-6zM166 517h6v5h-6zM724 517h6v5h-6zM166 522h6v5h-6zM724 522h6v5h-6zM172 527h6v5h-6zM208 532h6v5h-6zM718 532h6v5h-6zM226 537h6v5h-6zM388 537h6v5h-6zM394 542h6v5h-6zM418 542h6v5h-6zM304 547h18v5h-18zM400 547h12v5h-12zM346 557h6v5h-6zM586 562h6v5h-6zM610 587h6v5h-6zM622 592h6v5h-6zM640 592h6v5h-6z"/>
<path fill="#2da220" d="M184 487h6v5h-6zM178 492h6v5h-6zM724 502h6v5h-6zM724 507h6v5h-6zM172 522h6v5h-6zM184 527h6v5h-6zM520 527h12v5h-12zM388 532h6v5h-6zM550 532h6v5h-6zM232 537h6v5h-6zM262 537h18v5h-18zM394 537h6v5h-6zM496 537h6v5h-6zM286 542h6v5h-6zM400 542h6v5h-6zM412 542h6v5h-6zM562 542h6v5h-6zM568 547h6v5h-6zM586 557h6v5h-6zM676 557h6v5h-6zM664 567h6v5h-6z"/>
<path fill="#8eb915" d="M208 487h6v5h-6zM274 487h6v5h-6zM706 487h6v5h-6zM190 497h6v5h-6zM196 517h12v5h-12zM214 522h6v5h-6zM418 522h6v5h-6zM220 527h6v5h-6zM268 527h12v5h-12zM418 527h6v5h-6zM706 527h6v5h-6zM442 532h6v5h-6zM496 532h6v5h-6zM292 537h6v5h-6zM688 537h6v5h-6zM574 542h6v5h-6zM592 547h6v5h-6zM670 552h6v5h-6zM658 562h6v5h-6zM646 582h6v5h-6z"/>
<path fill="#ffc800" d="M220 487h6v5h-6zM316 492h6v5h-6zM328 492h6v5h-6zM520 492h6v5h-6zM250 497h6v5h-6zM430 497h6v5h-6zM508 502h6v5h-6zM274 507h6v5h-6zM436 507h6v5h-6zM634 507h6v5h-6zM652 507h6v5h-6zM682 507h6v5h-6zM448 517h6v5h-6zM460 522h6v5h-6zM472 527h6v5h-6zM328 532h6v5h-6zM664 537h6v5h-6zM622 552h18v5h-18z"/>
<path fill="#ebca00" d="M256 487h6v5h-6zM694 492h6v5h-6zM214 497h6v5h-6zM268 497h18v5h-18zM214 502h6v5h-6zM394 502h6v5h-6zM640 502h12v5h-12zM430 512h6v5h-6zM688 512h6v5h-6zM232 517h6v5h-6zM250 517h12v5h-12zM280 517h6v5h-6zM562 522h6v5h-6zM298 532h6v5h-6zM574 532h6v5h-6zM598 537h6v5h-6zM676 537h6v5h-6zM670 542h6v5h-6zM646 562h6v5h-6zM634 577h6v5h-6z"/>
<path fill="#ddc803" d="M310 487h12v5h-12zM262 492h6v5h-6zM694 497h6v5h-6zM208 502h6v5h-6zM556 502h6v5h-6zM214 507h6v5h-6zM388 507h6v5h-6zM424 507h6v5h-6zM220 512h6v5h-6zM226 517h6v5h-6zM382 517h6v5h-6zM430 517h6v5h-6zM436 522h6v5h-6zM688 522h6v5h-6zM454 527h6v5h-6zM472 532h6v5h-6zM334 537h6v5h-6zM358 542h6v5h-6zM658 547h6v5h-6zM604 552h6v5h-6zM652 552h6v5h-6zM646 572h6v5h-6zM640 577h6v5h-6z"/>
<path fill="#d7212a" d="M544 487h12v5h-12zM340 502h6v5h-6zM358 502h6v5h-6zM334 517h6v5h-6z"/>
<path fill="#10b840" d="M850 487h6v5h-6zM850 492h6v5h-6zM844 512h6v5h-6zM838 527h6v5h-6zM124 537h24v5h-24zM532 537h12v5h-12zM832 537h6v5h-6zM112 542h12v5h-12zM724 542h12v5h-12zM94 547h24v5h-24zM244 547h6v5h-6zM112 552h12v5h-12zM298 552h6v5h-6zM130 557h18v5h-18zM418 557h6v5h-6zM688 557h6v5h-6zM148 562h6v5h-6zM340 562h6v5h-6zM388 562h6v5h-6zM136 567h12v5h-12zM130 572h6v5h-6zM676 572h6v5h-6zM94 577h36v5h-36zM598 587h6v5h-6zM652 602h6v5h-6zM394 607h6v5h-6zM652 607h6v5h-6zM616 612h6v5h-6zM652 612h6v5h-6zM400 627h6v5h-6zM412 627h6v5h-6zM400 632h6v5h-6zM406 637h6v5h-6zM622 642h6v5h-6zM646 652h6v5h-6zM634 657h12v5h-12z"/>
<path fill="#0dbf4f" d="M856 487h6v5h-6zM856 492h6v5h-6zM850 507h6v5h-6zM850 512h6v5h-6zM844 522h6v5h-6zM838 537h6v5h-6zM136 542h12v5h-12zM178 542h6v5h-6zM214 542h6v5h-6zM502 542h6v5h-6zM832 542h6v5h-6zM124 547h18v5h-18zM238 547h6v5h-6zM136 552h24v5h-24zM286 552h6v5h-6zM424 552h6v5h-6zM562 552h6v5h-6zM694 552h6v5h-6zM328 557h6v5h-6zM370 557h6v5h-6zM382 557h6v5h-6zM358 562h6v5h-6zM154 567h6v5h-6zM574 567h6v5h-6zM682 567h6v5h-6zM142 572h6v5h-6zM388 572h6v5h-6zM130 577h6v5h-6zM388 577h6v5h-6zM580 577h6v5h-6zM124 582h6v5h-6zM388 582h6v5h-6zM586 582h6v5h-6zM118 587h6v5h-6zM388 587h6v5h-6zM94 592h24v5h-24zM604 592h6v5h-6zM658 592h6v5h-6zM418 602h6v5h-6zM418 607h6v5h-6zM394 617h6v5h-6zM394 622h6v5h-6zM616 627h6v5h-6zM400 642h6v5h-6zM412 642h6v5h-6zM652 642h6v5h-6zM406 647h6v5h-6zM622 652h6v5h-6zM640 662h6v5h-6z"/>
<path fill="#0acc7b" d="M880 487h6v5h-6zM868 502h6v5h-6zM868 507h6v5h-6zM868 512h6v5h-6zM862 517h6v5h-6zM856 522h6v5h-6zM850 532h6v5h-6zM850 537h6v5h-6zM538 542h12v5h-12zM184 547h12v5h-12zM214 547h12v5h-12zM490 547h12v5h-12zM844 547h6v5h-6zM178 552h6v5h-6zM232 552h6v5h-6zM436 552h6v5h-6zM706 552h30v5h-30zM748 552h24v5h-24zM172 557h6v5h-6zM292 557h24v5h-24zM328 562h6v5h-6zM370 562h12v5h-12zM166 567h6v5h-6zM334 567h6v5h-6zM346 572h12v5h-12zM424 572h6v5h-6zM154 577h6v5h-6zM382 577h6v5h-6zM424 577h6v5h-6zM142 582h6v5h-6zM382 582h6v5h-6zM424 582h6v5h-6zM136 587h6v5h-6zM382 587h6v5h-6zM424 587h6v5h-6zM382 592h6v5h-6zM424 592h6v5h-6zM130 597h6v5h-6zM424 597h6v5h-6zM424 602h6v5h-6zM604 602h6v5h-6zM124 607h6v5h-6zM604 607h6v5h-6zM118 612h6v5h-6zM112 617h6v5h-6zM94 622h24v5h-24zM388 622h6v5h-6zM94 627h12v5h-12zM610 627h6v5h-6zM658 627h6v5h-6zM610 632h6v5h-6zM658 632h6v5h-6zM658 637h6v5h-6zM394 647h6v5h-6zM616 652h6v5h-6zM406 662h12v5h-12zM652 662h6v5h-6zM622 667h6v5h-6zM628 677h18v5h-18z"/>
<path fill="#0ace98" d="M886 487h6v5h-6zM880 497h6v5h-6zM874 517h6v5h-6zM868 522h6v5h-6zM856 532h6v5h-6zM856 537h6v5h-6zM526 547h6v5h-6zM550 547h6v5h-6zM850 547h6v5h-6zM472 552h6v5h-6zM202 557h24v5h-24zM706 557h6v5h-6zM730 557h18v5h-18zM190 562h42v5h-42zM322 562h6v5h-6zM430 562h6v5h-6zM178 567h18v5h-18zM328 567h6v5h-6zM694 567h6v5h-6zM172 572h6v5h-6zM334 572h6v5h-6zM364 572h6v5h-6zM568 572h6v5h-6zM166 577h6v5h-6zM340 577h6v5h-6zM352 577h6v5h-6zM376 577h6v5h-6zM160 582h6v5h-6zM148 587h6v5h-6zM682 587h6v5h-6zM676 592h6v5h-6zM136 597h6v5h-6zM592 597h6v5h-6zM670 597h6v5h-6zM670 602h6v5h-6zM598 607h6v5h-6zM130 612h6v5h-6zM382 612h6v5h-6zM598 612h6v5h-6zM598 617h6v5h-6zM664 617h6v5h-6zM124 622h6v5h-6zM664 622h6v5h-6zM118 627h6v5h-6zM604 632h6v5h-6zM112 637h6v5h-6zM604 637h6v5h-6zM94 642h18v5h-18zM388 642h6v5h-6zM424 642h6v5h-6zM610 647h6v5h-6zM610 652h6v5h-6zM658 657h6v5h-6zM394 662h6v5h-6zM418 662h6v5h-6zM616 667h6v5h-6zM400 672h6v5h-6zM412 672h6v5h-6zM652 677h6v5h-6zM628 687h6v5h-6zM640 687h6v5h-6z"/>
<path fill="#0ccab6" d="M892 487h6v5h-6zM892 492h6v5h-6zM886 497h6v5h-6zM886 502h6v5h-6zM880 522h6v5h-6zM874 527h6v5h-6zM862 537h6v5h-6zM862 542h6v5h-6zM526 552h6v5h-6zM460 557h12v5h-12zM772 557h54v5h-54zM256 562h36v5h-36zM436 562h6v5h-6zM706 562h6v5h-6zM238 567h6v5h-6zM322 567h6v5h-6zM700 567h6v5h-6zM220 572h12v5h-12zM196 577h12v5h-12zM694 577h6v5h-6zM178 582h18v5h-18zM358 582h18v5h-18zM568 582h6v5h-6zM166 587h12v5h-12zM148 592h12v5h-12zM430 592h6v5h-6zM574 592h6v5h-6zM142 597h6v5h-6zM430 597h6v5h-6zM682 597h6v5h-6zM376 602h6v5h-6zM430 602h6v5h-6zM580 602h6v5h-6zM376 607h6v5h-6zM430 607h6v5h-6zM676 607h6v5h-6zM136 612h6v5h-6zM430 612h6v5h-6zM586 617h6v5h-6zM130 622h6v5h-6zM586 622h6v5h-6zM670 622h6v5h-6zM124 632h6v5h-6zM382 632h6v5h-6zM592 637h6v5h-6zM118 642h6v5h-6zM592 642h6v5h-6zM598 647h6v5h-6zM664 647h6v5h-6zM112 652h6v5h-6zM598 652h6v5h-6zM94 657h18v5h-18zM388 657h6v5h-6zM424 657h6v5h-6zM604 657h6v5h-6zM610 667h6v5h-6zM658 672h6v5h-6zM400 682h6v5h-6zM412 682h6v5h-6zM616 682h6v5h-6zM406 687h6v5h-6zM652 687h6v5h-6zM622 697h6v5h-6zM646 697h6v5h-6zM628 702h18v5h-18z"/>
<path fill="#ee5f0e" d="M562 492h6v5h-6zM334 497h6v5h-6zM370 502h6v5h-6zM370 517h6v5h-6zM634 527h6v5h-6zM622 532h6v5h-6zM640 532h6v5h-6zM622 537h6v5h-6z"/>
<path fill="#14b235" d="M844 492h6v5h-6zM844 497h6v5h-6zM838 512h6v5h-6zM832 522h6v5h-6zM826 527h12v5h-12zM94 532h54v5h-54zM736 532h96v5h-96zM94 537h12v5h-12zM160 537h6v5h-6zM178 537h30v5h-30zM514 537h6v5h-6zM730 537h6v5h-6zM712 542h6v5h-6zM250 547h30v5h-30zM322 552h6v5h-6zM418 552h6v5h-6zM334 557h6v5h-6zM364 557h6v5h-6zM94 562h30v5h-30zM682 562h6v5h-6zM94 567h30v5h-30zM676 567h6v5h-6zM586 577h6v5h-6zM592 582h6v5h-6zM664 582h6v5h-6zM394 587h6v5h-6zM658 587h6v5h-6zM394 592h6v5h-6zM394 597h6v5h-6zM616 602h6v5h-6zM412 607h6v5h-6zM412 612h6v5h-6zM400 617h6v5h-6zM406 622h6v5h-6zM406 627h6v5h-6zM622 627h6v5h-6zM622 632h6v5h-6zM646 647h6v5h-6zM634 652h12v5h-12z"/>
<path fill="#0ace85" d="M880 492h6v5h-6zM874 497h6v5h-6zM868 517h6v5h-6zM856 527h6v5h-6zM850 542h6v5h-6zM196 547h18v5h-18zM502 547h12v5h-12zM184 552h6v5h-6zM226 552h6v5h-6zM442 552h18v5h-18zM772 552h60v5h-60zM178 557h6v5h-6zM280 557h12v5h-12zM430 557h6v5h-6zM562 557h6v5h-6zM172 562h6v5h-6zM694 562h6v5h-6zM364 567h6v5h-6zM376 567h6v5h-6zM568 567h6v5h-6zM166 572h6v5h-6zM340 572h6v5h-6zM688 572h6v5h-6zM160 577h6v5h-6zM148 582h6v5h-6zM682 582h6v5h-6zM580 587h6v5h-6zM676 587h6v5h-6zM592 592h6v5h-6zM670 592h6v5h-6zM382 597h6v5h-6zM598 597h6v5h-6zM664 597h6v5h-6zM130 602h6v5h-6zM664 602h6v5h-6zM424 607h6v5h-6zM124 612h6v5h-6zM424 612h6v5h-6zM604 612h6v5h-6zM118 617h6v5h-6zM424 617h6v5h-6zM604 617h6v5h-6zM424 622h6v5h-6zM106 627h12v5h-12zM388 627h6v5h-6zM94 632h18v5h-18zM388 632h6v5h-6zM610 637h6v5h-6zM658 642h6v5h-6zM658 647h6v5h-6zM394 652h6v5h-6zM418 652h6v5h-6zM616 657h6v5h-6zM400 662h6v5h-6zM406 667h6v5h-6zM652 667h6v5h-6zM622 672h6v5h-6zM646 677h6v5h-6zM634 682h12v5h-12z"/>
<path fill="#0bcda2" d="M886 492h6v5h-6zM880 502h6v5h-6zM880 507h6v5h-6zM862 527h6v5h-6zM856 542h6v5h-6zM532 547h6v5h-6zM478 552h18v5h-18zM844 552h6v5h-6zM436 557h6v5h-6zM712 557h18v5h-18zM748 557h12v5h-12zM232 562h12v5h-12zM316 562h6v5h-6zM196 567h30v5h-30zM430 567h6v5h-6zM178 572h18v5h-18zM370 572h6v5h-6zM172 577h6v5h-6zM358 577h6v5h-6zM166 582h6v5h-6zM376 582h6v5h-6zM688 582h6v5h-6zM154 587h6v5h-6zM376 587h6v5h-6zM574 587h6v5h-6zM142 592h6v5h-6zM580 592h6v5h-6zM586 597h6v5h-6zM676 597h6v5h-6zM136 602h6v5h-6zM592 602h6v5h-6zM592 607h6v5h-6zM670 607h6v5h-6zM592 612h6v5h-6zM382 617h6v5h-6zM382 622h6v5h-6zM598 622h6v5h-6zM598 627h6v5h-6zM664 627h6v5h-6zM118 632h6v5h-6zM598 632h6v5h-6zM664 632h6v5h-6zM112 642h6v5h-6zM604 642h6v5h-6zM94 647h18v5h-18zM388 647h6v5h-6zM424 647h6v5h-6zM610 657h6v5h-6zM658 662h6v5h-6zM394 667h6v5h-6zM418 667h6v5h-6zM616 672h6v5h-6zM406 677h6v5h-6zM622 682h6v5h-6zM646 687h6v5h-6zM628 692h18v5h-18z"/>
<path fill="#d72330" d="M346 502h12v5h-12zM334 512h6v5h-6zM364 512h6v5h-6z"/>
<path fill="#d72636" d="M340 507h6v5h-6zM340 517h6v5h-6z"/>
<path fill="#d7283c" d="M346 507h6v5h-6zM358 507h6v5h-6z"/>
<path fill="#d82f43" d="M352 507h6v5h-6zM340 512h6v5h-6z"/>
<path fill="#db3d51" d="M346 512h6v5h-6zM358 512h6v5h-6zM352 517h6v5h-6z"/>
<path fill="#dd4458" d="M352 512h6v5h-6z"/>
<path fill="#da364a" d="M346 517h6v5h-6zM358 517h6v5h-6z"/>
<path fill="#10c0ce" d="M874 547h48v5h-48zM544 552h6v5h-6zM862 552h6v5h-6zM526 557h6v5h-6zM850 557h6v5h-6zM448 562h30v5h-30zM760 562h6v5h-6zM712 567h36v5h-36zM250 572h6v5h-6zM316 572h6v5h-6zM436 572h6v5h-6zM562 572h6v5h-6zM238 577h6v5h-6zM322 577h6v5h-6zM436 577h6v5h-6zM700 577h6v5h-6zM214 582h12v5h-12zM202 587h6v5h-6zM334 587h6v5h-6zM196 592h6v5h-6zM568 592h6v5h-6zM190 597h6v5h-6zM370 597h6v5h-6zM154 602h36v5h-36zM370 602h6v5h-6zM148 607h36v5h-36zM574 607h6v5h-6zM148 612h6v5h-6zM682 612h6v5h-6zM142 617h6v5h-6zM136 627h6v5h-6zM376 627h6v5h-6zM580 627h6v5h-6zM676 627h6v5h-6zM376 632h6v5h-6zM580 632h6v5h-6zM130 637h6v5h-6zM124 647h6v5h-6zM670 647h6v5h-6zM382 652h6v5h-6zM430 652h6v5h-6zM586 652h6v5h-6zM118 657h6v5h-6zM94 667h18v5h-18zM592 667h6v5h-6zM664 667h6v5h-6zM388 672h6v5h-6zM424 672h6v5h-6zM598 672h6v5h-6zM604 677h6v5h-6zM394 687h6v5h-6zM418 687h6v5h-6zM610 687h6v5h-6zM658 687h6v5h-6zM610 692h6v5h-6zM400 697h6v5h-6zM412 697h6v5h-6zM652 697h6v5h-6zM406 702h6v5h-6zM616 707h6v5h-6zM622 712h6v5h-6zM622 717h18v5h-18z"/>
<path fill="#12bcd4" d="M868 552h12v5h-12zM532 557h6v5h-6zM856 557h6v5h-6zM478 562h48v5h-48zM766 562h6v5h-6zM442 567h6v5h-6zM748 567h6v5h-6zM256 572h60v5h-60zM706 572h6v5h-6zM244 577h12v5h-12zM316 577h6v5h-6zM562 577h6v5h-6zM226 582h18v5h-18zM322 582h6v5h-6zM436 582h6v5h-6zM700 582h6v5h-6zM208 587h6v5h-6zM328 587h6v5h-6zM202 592h6v5h-6zM340 592h30v5h-30zM694 592h6v5h-6zM196 597h6v5h-6zM190 602h6v5h-6zM688 602h6v5h-6zM184 607h12v5h-12zM370 607h6v5h-6zM154 612h36v5h-36zM370 612h6v5h-6zM574 612h6v5h-6zM148 617h36v5h-36zM370 617h6v5h-6zM574 617h6v5h-6zM682 617h6v5h-6zM142 622h6v5h-6zM142 627h6v5h-6zM136 632h6v5h-6zM676 632h6v5h-6zM376 637h6v5h-6zM580 637h6v5h-6zM580 642h6v5h-6zM124 652h6v5h-6zM670 652h6v5h-6zM382 657h6v5h-6zM430 657h6v5h-6zM586 657h6v5h-6zM670 657h6v5h-6zM118 662h6v5h-6zM382 662h6v5h-6zM586 662h6v5h-6zM112 667h6v5h-6zM94 672h18v5h-18zM592 672h6v5h-6zM664 672h6v5h-6zM388 677h6v5h-6zM424 677h6v5h-6zM598 677h6v5h-6zM664 677h6v5h-6zM604 682h6v5h-6zM604 687h6v5h-6zM394 692h6v5h-6zM418 692h6v5h-6zM394 697h6v5h-6zM610 697h6v5h-6zM400 702h6v5h-6zM412 702h6v5h-6zM610 702h6v5h-6zM652 702h6v5h-6zM406 707h6v5h-6zM610 707h6v5h-6zM616 712h6v5h-6zM646 712h6v5h-6zM616 717h6v5h-6zM640 717h6v5h-6zM622 722h18v5h-18z"/>
<path fill="#14b8db" d="M880 552h42v5h-42zM538 557h6v5h-6zM550 557h6v5h-6zM862 557h6v5h-6zM526 562h6v5h-6zM556 562h6v5h-6zM772 562h12v5h-12zM448 567h24v5h-24zM754 567h6v5h-6zM442 572h6v5h-6zM712 572h36v5h-36zM256 577h60v5h-60zM706 577h6v5h-6zM244 582h12v5h-12zM316 582h6v5h-6zM562 582h6v5h-6zM214 587h18v5h-18zM322 587h6v5h-6zM436 587h6v5h-6zM700 587h6v5h-6zM208 592h6v5h-6zM328 592h12v5h-12zM436 592h6v5h-6zM202 597h6v5h-6zM346 597h24v5h-24zM436 597h6v5h-6zM568 597h6v5h-6zM694 597h6v5h-6zM196 602h6v5h-6zM364 602h6v5h-6zM568 602h6v5h-6zM196 607h6v5h-6zM364 607h6v5h-6zM688 607h6v5h-6zM190 612h6v5h-6zM184 617h12v5h-12zM148 622h42v5h-42zM370 622h6v5h-6zM574 622h6v5h-6zM682 622h6v5h-6zM148 627h30v5h-30zM370 627h6v5h-6zM574 627h6v5h-6zM142 632h6v5h-6zM136 637h6v5h-6zM676 637h6v5h-6zM130 642h6v5h-6zM376 642h6v5h-6zM676 642h6v5h-6zM376 647h6v5h-6zM580 647h6v5h-6zM580 652h6v5h-6zM124 657h6v5h-6zM430 662h6v5h-6zM670 662h6v5h-6zM118 667h6v5h-6zM382 667h6v5h-6zM586 667h6v5h-6zM670 667h6v5h-6zM112 672h6v5h-6zM94 677h12v5h-12zM592 677h6v5h-6zM388 682h6v5h-6zM424 682h6v5h-6zM592 682h12v5h-12zM664 682h6v5h-6zM388 687h6v5h-6zM598 687h6v5h-6zM604 692h6v5h-6zM658 692h6v5h-6zM604 697h6v5h-6zM394 702h6v5h-6zM400 707h6v5h-6zM652 707h6v5h-6zM610 712h6v5h-6zM610 717h6v5h-6zM646 717h6v5h-6zM610 722h12v5h-12zM640 722h6v5h-6zM616 727h30v5h-30zM622 732h18v5h-18z"/>
<path fill="#16b4e2" d="M544 557h6v5h-6zM868 557h12v5h-12zM532 562h6v5h-6zM784 562h66v5h-66zM472 567h54v5h-54zM760 567h6v5h-6zM748 572h12v5h-12zM442 577h6v5h-6zM712 577h6v5h-6zM256 582h60v5h-60zM706 582h6v5h-6zM232 587h18v5h-18zM316 587h6v5h-6zM562 587h6v5h-6zM214 592h6v5h-6zM322 592h6v5h-6zM208 597h6v5h-6zM328 597h18v5h-18zM202 602h6v5h-6zM334 602h30v5h-30zM436 602h6v5h-6zM694 602h6v5h-6zM202 607h6v5h-6zM340 607h24v5h-24zM436 607h6v5h-6zM568 607h6v5h-6zM196 612h6v5h-6zM340 612h30v5h-30zM436 612h6v5h-6zM688 612h6v5h-6zM196 617h6v5h-6zM352 617h18v5h-18zM436 617h6v5h-6zM190 622h6v5h-6zM364 622h6v5h-6zM436 622h6v5h-6zM178 627h18v5h-18zM364 627h6v5h-6zM436 627h6v5h-6zM682 627h6v5h-6zM148 632h42v5h-42zM370 632h6v5h-6zM574 632h6v5h-6zM142 637h12v5h-12zM370 637h6v5h-6zM136 642h6v5h-6zM130 647h6v5h-6zM676 647h6v5h-6zM376 652h6v5h-6zM676 652h6v5h-6zM580 657h6v5h-6zM430 667h6v5h-6zM382 672h6v5h-6zM586 672h6v5h-6zM670 672h6v5h-6zM106 677h12v5h-12zM586 677h6v5h-6zM670 677h6v5h-6zM424 687h6v5h-6zM592 687h6v5h-6zM388 692h6v5h-6zM598 692h6v5h-6zM418 697h6v5h-6zM598 697h6v5h-6zM658 697h6v5h-6zM604 702h6v5h-6zM394 707h6v5h-6zM412 707h6v5h-6zM604 707h6v5h-6zM400 712h12v5h-12zM604 712h6v5h-6zM646 722h6v5h-6zM610 727h6v5h-6zM610 732h12v5h-12zM640 732h6v5h-6zM616 737h30v5h-30zM616 742h30v5h-30zM622 747h24v5h-24zM628 752h6v5h-6z"/>
<path fill="#19afe5" d="M880 557h42v5h-42zM850 562h12v5h-12zM526 567h6v5h-6zM556 567h6v5h-6zM766 567h6v5h-6zM448 572h72v5h-72zM760 572h6v5h-6zM718 577h36v5h-36zM442 582h6v5h-6zM250 587h66v5h-66zM220 592h24v5h-24zM310 592h12v5h-12zM562 592h6v5h-6zM700 592h6v5h-6zM214 597h6v5h-6zM322 597h6v5h-6zM208 602h6v5h-6zM322 602h12v5h-12zM208 607h6v5h-6zM328 607h12v5h-12zM694 607h6v5h-6zM202 612h6v5h-6zM328 612h12v5h-12zM568 612h6v5h-6zM202 617h6v5h-6zM328 617h24v5h-24zM568 617h6v5h-6zM688 617h6v5h-6zM196 622h6v5h-6zM334 622h30v5h-30zM196 627h6v5h-6zM334 627h30v5h-30zM190 632h6v5h-6zM334 632h36v5h-36zM436 632h6v5h-6zM682 632h6v5h-6zM154 637h42v5h-42zM340 637h30v5h-30zM436 637h6v5h-6zM574 637h6v5h-6zM142 642h48v5h-48zM340 642h36v5h-36zM436 642h6v5h-6zM574 642h6v5h-6zM136 647h6v5h-6zM370 647h6v5h-6zM436 647h6v5h-6zM130 652h6v5h-6zM376 657h6v5h-6zM676 657h6v5h-6zM124 662h6v5h-6zM376 662h6v5h-6zM580 662h6v5h-6zM676 662h6v5h-6zM580 667h6v5h-6zM676 667h6v5h-6zM118 672h6v5h-6zM430 672h6v5h-6zM676 672h6v5h-6zM382 677h6v5h-6zM94 682h24v5h-24zM586 682h6v5h-6zM670 682h6v5h-6zM94 687h12v5h-12zM664 687h6v5h-6zM424 692h6v5h-6zM592 692h6v5h-6zM388 697h6v5h-6zM388 702h6v5h-6zM418 702h6v5h-6zM598 702h6v5h-6zM598 707h6v5h-6zM394 712h6v5h-6zM412 712h6v5h-6zM652 712h6v5h-6zM400 717h12v5h-12zM604 717h6v5h-6zM604 722h6v5h-6zM646 727h6v5h-6zM646 732h6v5h-6zM610 737h6v5h-6zM646 737h6v5h-6zM610 742h6v5h-6zM646 742h6v5h-6zM616 747h6v5h-6zM646 747h6v5h-6zM616 752h12v5h-12zM634 752h18v5h-18zM622 757h30v5h-30z"/>
<path fill="#1caae8" d="M538 562h18v5h-18zM862 562h18v5h-18zM532 567h6v5h-6zM772 567h18v5h-18zM520 572h12v5h-12zM556 572h6v5h-6zM766 572h6v5h-6zM448 577h72v5h-72zM556 577h6v5h-6zM754 577h6v5h-6zM712 582h12v5h-12zM442 587h6v5h-6zM706 587h6v5h-6zM244 592h66v5h-66zM220 597h102v5h-102zM562 597h6v5h-6zM700 597h6v5h-6zM214 602h6v5h-6zM310 602h12v5h-12zM562 602h6v5h-6zM214 607h6v5h-6zM316 607h12v5h-12zM208 612h6v5h-6zM316 612h12v5h-12zM694 612h6v5h-6zM208 617h6v5h-6zM322 617h6v5h-6zM202 622h12v5h-12zM322 622h12v5h-12zM568 622h6v5h-6zM688 622h6v5h-6zM202 627h6v5h-6zM322 627h12v5h-12zM568 627h6v5h-6zM196 632h12v5h-12zM328 632h6v5h-6zM196 637h6v5h-6zM328 637h12v5h-12zM682 637h6v5h-6zM190 642h6v5h-6zM328 642h12v5h-12zM142 647h48v5h-48zM334 647h36v5h-36zM574 647h6v5h-6zM136 652h6v5h-6zM340 652h36v5h-36zM436 652h6v5h-6zM574 652h6v5h-6zM130 657h6v5h-6zM364 657h12v5h-12zM124 667h6v5h-6zM376 667h6v5h-6zM376 672h6v5h-6zM580 672h6v5h-6zM118 677h6v5h-6zM430 677h6v5h-6zM580 677h6v5h-6zM676 677h6v5h-6zM382 682h6v5h-6zM430 682h6v5h-6zM676 682h6v5h-6zM106 687h12v5h-12zM382 687h6v5h-6zM586 687h6v5h-6zM670 687h6v5h-6zM94 692h24v5h-24zM382 692h6v5h-6zM586 692h6v5h-6zM664 692h6v5h-6zM94 697h18v5h-18zM424 697h6v5h-6zM592 697h6v5h-6zM94 702h12v5h-12zM592 702h6v5h-6zM658 702h6v5h-6zM388 707h6v5h-6zM418 707h6v5h-6zM388 712h6v5h-6zM598 712h6v5h-6zM394 717h6v5h-6zM412 717h6v5h-6zM652 717h6v5h-6zM400 722h12v5h-12zM604 727h6v5h-6zM604 732h6v5h-6zM610 747h6v5h-6zM616 757h6v5h-6zM652 757h6v5h-6zM616 762h36v5h-36z"/>
<path fill="#20a5ea" d="M880 562h42v5h-42zM538 567h6v5h-6zM550 567h6v5h-6zM790 567h84v5h-84zM532 572h6v5h-6zM772 572h12v5h-12zM520 577h12v5h-12zM760 577h12v5h-12zM448 582h6v5h-6zM556 582h6v5h-6zM724 582h36v5h-36zM712 587h6v5h-6zM442 592h6v5h-6zM706 592h6v5h-6zM220 602h90v5h-90zM700 602h6v5h-6zM220 607h96v5h-96zM562 607h6v5h-6zM700 607h6v5h-6zM214 612h102v5h-102zM562 612h6v5h-6zM214 617h12v5h-12zM310 617h12v5h-12zM694 617h6v5h-6zM214 622h6v5h-6zM310 622h12v5h-12zM208 627h6v5h-6zM316 627h6v5h-6zM688 627h6v5h-6zM208 632h6v5h-6zM316 632h12v5h-12zM568 632h6v5h-6zM202 637h6v5h-6zM322 637h6v5h-6zM196 642h12v5h-12zM322 642h6v5h-6zM682 642h6v5h-6zM190 647h12v5h-12zM328 647h6v5h-6zM682 647h6v5h-6zM142 652h54v5h-54zM328 652h12v5h-12zM682 652h6v5h-6zM136 657h42v5h-42zM334 657h30v5h-30zM436 657h6v5h-6zM574 657h6v5h-6zM682 657h6v5h-6zM130 662h6v5h-6zM340 662h36v5h-36zM436 662h6v5h-6zM574 662h6v5h-6zM682 662h6v5h-6zM364 667h12v5h-12zM682 667h6v5h-6zM124 672h6v5h-6zM682 672h6v5h-6zM376 677h6v5h-6zM682 677h6v5h-6zM118 682h6v5h-6zM580 682h6v5h-6zM118 687h6v5h-6zM430 687h6v5h-6zM676 687h6v5h-6zM112 697h6v5h-6zM382 697h6v5h-6zM586 697h6v5h-6zM106 702h12v5h-12zM382 702h6v5h-6zM94 707h24v5h-24zM382 707h6v5h-6zM592 707h6v5h-6zM658 707h6v5h-6zM94 712h24v5h-24zM418 712h6v5h-6zM94 717h18v5h-18zM388 717h6v5h-6zM598 717h6v5h-6zM394 722h6v5h-6zM412 722h6v5h-6zM598 722h6v5h-6zM652 722h6v5h-6zM400 727h6v5h-6zM604 737h6v5h-6zM652 737h6v5h-6zM652 742h6v5h-6zM652 747h6v5h-6zM610 752h6v5h-6zM652 752h6v5h-6zM610 757h6v5h-6zM652 762h6v5h-6z"/>
<path fill="#23a0ed" d="M544 567h6v5h-6zM874 567h48v5h-48zM538 572h18v5h-18zM784 572h96v5h-96zM532 577h6v5h-6zM550 577h6v5h-6zM772 577h24v5h-24zM454 582h78v5h-78zM760 582h12v5h-12zM448 587h6v5h-6zM556 587h6v5h-6zM718 587h30v5h-30zM556 592h6v5h-6zM442 597h6v5h-6zM556 597h6v5h-6zM706 597h6v5h-6zM442 602h6v5h-6zM442 607h6v5h-6zM442 612h6v5h-6zM700 612h6v5h-6zM226 617h84v5h-84zM442 617h6v5h-6zM562 617h6v5h-6zM220 622h90v5h-90zM562 622h6v5h-6zM694 622h6v5h-6zM214 627h102v5h-102zM214 632h24v5h-24zM292 632h24v5h-24zM688 632h6v5h-6zM208 637h12v5h-12zM310 637h12v5h-12zM568 637h6v5h-6zM208 642h6v5h-6zM316 642h6v5h-6zM568 642h6v5h-6zM202 647h12v5h-12zM316 647h12v5h-12zM196 652h12v5h-12zM322 652h6v5h-6zM178 657h18v5h-18zM322 657h12v5h-12zM136 662h54v5h-54zM328 662h12v5h-12zM130 667h6v5h-6zM334 667h30v5h-30zM436 667h6v5h-6zM574 667h6v5h-6zM130 672h6v5h-6zM340 672h36v5h-36zM574 672h6v5h-6zM124 677h6v5h-6zM352 677h24v5h-24zM376 682h6v5h-6zM682 682h6v5h-6zM376 687h6v5h-6zM580 687h6v5h-6zM682 687h6v5h-6zM118 692h6v5h-6zM376 692h6v5h-6zM430 692h6v5h-6zM580 692h6v5h-6zM670 692h6v5h-6zM118 697h6v5h-6zM376 697h6v5h-6zM664 697h6v5h-6zM118 702h6v5h-6zM376 702h6v5h-6zM424 702h6v5h-6zM586 702h6v5h-6zM118 707h6v5h-6zM376 707h6v5h-6zM586 707h6v5h-6zM118 712h6v5h-6zM382 712h6v5h-6zM592 712h6v5h-6zM112 717h12v5h-12zM382 717h6v5h-6zM418 717h6v5h-6zM592 717h6v5h-6zM94 722h24v5h-24zM382 722h12v5h-12zM394 727h6v5h-6zM406 727h6v5h-6zM598 727h6v5h-6zM652 727h6v5h-6zM652 732h6v5h-6zM604 742h6v5h-6zM604 747h6v5h-6zM658 757h6v5h-6zM610 762h6v5h-6zM658 762h6v5h-6zM616 767h42v5h-42z"/>
<path fill="#269bf0" d="M880 572h42v5h-42zM538 577h12v5h-12zM796 577h126v5h-126zM532 582h24v5h-24zM772 582h102v5h-102zM454 587h78v5h-78zM550 587h6v5h-6zM748 587h24v5h-24zM448 592h6v5h-6zM712 592h12v5h-12zM556 602h6v5h-6zM706 602h6v5h-6zM556 607h6v5h-6zM706 607h6v5h-6zM700 617h6v5h-6zM442 622h6v5h-6zM442 627h6v5h-6zM562 627h6v5h-6zM694 627h6v5h-6zM238 632h54v5h-54zM442 632h6v5h-6zM562 632h6v5h-6zM220 637h90v5h-90zM442 637h6v5h-6zM688 637h6v5h-6zM214 642h102v5h-102zM442 642h6v5h-6zM214 647h18v5h-18zM298 647h18v5h-18zM442 647h6v5h-6zM568 647h6v5h-6zM208 652h6v5h-6zM310 652h12v5h-12zM568 652h6v5h-6zM196 657h12v5h-12zM316 657h6v5h-6zM568 657h6v5h-6zM190 662h12v5h-12zM322 662h6v5h-6zM136 667h54v5h-54zM322 667h12v5h-12zM688 667h6v5h-6zM136 672h6v5h-6zM328 672h12v5h-12zM436 672h6v5h-6zM688 672h6v5h-6zM130 677h6v5h-6zM334 677h18v5h-18zM436 677h6v5h-6zM574 677h6v5h-6zM688 677h6v5h-6zM124 682h6v5h-6zM334 682h42v5h-42zM574 682h6v5h-6zM688 682h6v5h-6zM124 687h6v5h-6zM340 687h36v5h-36zM124 692h6v5h-6zM340 692h36v5h-36zM676 692h6v5h-6zM124 697h6v5h-6zM346 697h30v5h-30zM430 697h6v5h-6zM580 697h6v5h-6zM670 697h6v5h-6zM124 702h6v5h-6zM346 702h30v5h-30zM580 702h6v5h-6zM664 702h6v5h-6zM124 707h6v5h-6zM346 707h30v5h-30zM424 707h6v5h-6zM124 712h6v5h-6zM346 712h36v5h-36zM586 712h6v5h-6zM658 712h6v5h-6zM124 717h6v5h-6zM346 717h36v5h-36zM118 722h6v5h-6zM352 722h30v5h-30zM592 722h6v5h-6zM94 727h30v5h-30zM382 727h12v5h-12zM412 727h6v5h-6zM394 732h18v5h-18zM598 732h6v5h-6zM658 747h6v5h-6zM604 752h6v5h-6zM658 752h6v5h-6zM658 767h6v5h-6z"/>
<path fill="#2996f1" d="M874 582h48v5h-48zM532 587h18v5h-18zM772 587h150v5h-150zM454 592h84v5h-84zM544 592h12v5h-12zM724 592h60v5h-60zM448 597h6v5h-6zM550 597h6v5h-6zM712 597h12v5h-12zM448 602h6v5h-6zM550 602h6v5h-6zM712 602h6v5h-6zM448 607h6v5h-6zM712 607h6v5h-6zM556 612h6v5h-6zM706 612h6v5h-6zM760 612h12v5h-12zM556 617h6v5h-6zM706 617h6v5h-6zM754 617h24v5h-24zM556 622h6v5h-6zM700 622h6v5h-6zM754 622h24v5h-24zM700 627h6v5h-6zM754 627h24v5h-24zM694 632h6v5h-6zM754 632h30v5h-30zM562 637h6v5h-6zM748 637h36v5h-36zM562 642h6v5h-6zM688 642h6v5h-6zM754 642h30v5h-30zM232 647h66v5h-66zM688 647h6v5h-6zM754 647h24v5h-24zM214 652h96v5h-96zM442 652h6v5h-6zM688 652h6v5h-6zM760 652h12v5h-12zM208 657h108v5h-108zM442 657h6v5h-6zM688 657h6v5h-6zM202 662h12v5h-12zM310 662h12v5h-12zM568 662h6v5h-6zM688 662h6v5h-6zM190 667h18v5h-18zM316 667h6v5h-6zM568 667h6v5h-6zM142 672h54v5h-54zM322 672h6v5h-6zM136 677h6v5h-6zM322 677h12v5h-12zM694 677h6v5h-6zM130 682h6v5h-6zM328 682h6v5h-6zM436 682h6v5h-6zM694 682h6v5h-6zM130 687h6v5h-6zM328 687h12v5h-12zM436 687h6v5h-6zM574 687h6v5h-6zM688 687h6v5h-6zM334 692h6v5h-6zM574 692h6v5h-6zM682 692h6v5h-6zM334 697h12v5h-12zM574 697h6v5h-6zM676 697h6v5h-6zM334 702h12v5h-12zM430 702h6v5h-6zM334 707h12v5h-12zM580 707h6v5h-6zM334 712h12v5h-12zM424 712h6v5h-6zM580 712h6v5h-6zM340 717h6v5h-6zM586 717h6v5h-6zM658 717h6v5h-6zM124 722h6v5h-6zM340 722h12v5h-12zM418 722h6v5h-6zM586 722h6v5h-6zM124 727h6v5h-6zM346 727h36v5h-36zM592 727h6v5h-6zM94 732h24v5h-24zM382 732h12v5h-12zM598 737h6v5h-6zM658 737h6v5h-6zM598 742h6v5h-6zM658 742h6v5h-6zM604 757h6v5h-6zM664 757h6v5h-6zM664 762h6v5h-6zM610 767h6v5h-6zM622 772h30v5h-30z"/>
<path fill="#2c92f2" d="M538 592h6v5h-6zM784 592h138v5h-138zM454 597h96v5h-96zM724 597h198v5h-198zM454 602h96v5h-96zM718 602h162v5h-162zM454 607h102v5h-102zM718 607h84v5h-84zM448 612h18v5h-18zM538 612h18v5h-18zM712 612h12v5h-12zM736 612h24v5h-24zM772 612h24v5h-24zM448 617h12v5h-12zM550 617h6v5h-6zM712 617h6v5h-6zM742 617h12v5h-12zM778 617h12v5h-12zM448 622h6v5h-6zM550 622h6v5h-6zM706 622h6v5h-6zM742 622h12v5h-12zM778 622h12v5h-12zM448 627h6v5h-6zM556 627h6v5h-6zM706 627h6v5h-6zM742 627h12v5h-12zM778 627h12v5h-12zM448 632h6v5h-6zM556 632h6v5h-6zM700 632h6v5h-6zM742 632h12v5h-12zM784 632h6v5h-6zM448 637h6v5h-6zM556 637h6v5h-6zM694 637h6v5h-6zM742 637h6v5h-6zM784 637h6v5h-6zM448 642h6v5h-6zM742 642h12v5h-12zM784 642h6v5h-6zM562 647h6v5h-6zM748 647h6v5h-6zM778 647h6v5h-6zM562 652h6v5h-6zM748 652h12v5h-12zM772 652h12v5h-12zM562 657h6v5h-6zM694 657h6v5h-6zM754 657h24v5h-24zM214 662h96v5h-96zM442 662h6v5h-6zM694 662h6v5h-6zM208 667h108v5h-108zM442 667h6v5h-6zM694 667h6v5h-6zM196 672h18v5h-18zM310 672h12v5h-12zM442 672h6v5h-6zM568 672h6v5h-6zM694 672h6v5h-6zM142 677h60v5h-60zM316 677h6v5h-6zM568 677h6v5h-6zM136 682h48v5h-48zM322 682h6v5h-6zM568 682h6v5h-6zM136 687h6v5h-6zM322 687h6v5h-6zM694 687h6v5h-6zM130 692h12v5h-12zM322 692h12v5h-12zM436 692h6v5h-6zM688 692h6v5h-6zM130 697h6v5h-6zM322 697h12v5h-12zM436 697h6v5h-6zM682 697h6v5h-6zM130 702h6v5h-6zM328 702h6v5h-6zM574 702h6v5h-6zM670 702h6v5h-6zM130 707h6v5h-6zM328 707h6v5h-6zM430 707h6v5h-6zM574 707h6v5h-6zM664 707h6v5h-6zM130 712h6v5h-6zM328 712h6v5h-6zM574 712h6v5h-6zM130 717h6v5h-6zM328 717h12v5h-12zM424 717h6v5h-6zM580 717h6v5h-6zM130 722h6v5h-6zM334 722h6v5h-6zM580 722h6v5h-6zM658 722h6v5h-6zM334 727h12v5h-12zM418 727h6v5h-6zM586 727h6v5h-6zM658 727h6v5h-6zM118 732h6v5h-6zM346 732h36v5h-36zM412 732h6v5h-6zM592 732h6v5h-6zM658 732h6v5h-6zM388 737h24v5h-24zM598 747h6v5h-6zM664 752h6v5h-6zM604 762h6v5h-6zM664 767h6v5h-6zM616 772h6v5h-6zM652 772h6v5h-6z"/>
<path fill="#2e8df3" d="M880 602h42v5h-42zM802 607h102v5h-102zM466 612h72v5h-72zM724 612h12v5h-12zM796 612h90v5h-90zM460 617h90v5h-90zM718 617h24v5h-24zM790 617h90v5h-90zM454 622h96v5h-96zM712 622h30v5h-30zM790 622h84v5h-84zM454 627h102v5h-102zM712 627h30v5h-30zM790 627h78v5h-78zM454 632h102v5h-102zM706 632h18v5h-18zM730 632h12v5h-12zM790 632h18v5h-18zM454 637h102v5h-102zM700 637h12v5h-12zM736 637h6v5h-6zM790 637h12v5h-12zM454 642h108v5h-108zM694 642h12v5h-12zM736 642h6v5h-6zM790 642h6v5h-6zM448 647h12v5h-12zM550 647h12v5h-12zM694 647h6v5h-6zM742 647h6v5h-6zM784 647h12v5h-12zM448 652h6v5h-6zM556 652h6v5h-6zM694 652h6v5h-6zM742 652h6v5h-6zM784 652h6v5h-6zM448 657h6v5h-6zM700 657h6v5h-6zM742 657h12v5h-12zM778 657h12v5h-12zM448 662h6v5h-6zM562 662h6v5h-6zM700 662h6v5h-6zM748 662h36v5h-36zM562 667h6v5h-6zM700 667h6v5h-6zM754 667h24v5h-24zM214 672h96v5h-96zM562 672h6v5h-6zM700 672h6v5h-6zM202 677h114v5h-114zM442 677h6v5h-6zM700 677h6v5h-6zM184 682h30v5h-30zM310 682h12v5h-12zM442 682h6v5h-6zM700 682h6v5h-6zM142 687h48v5h-48zM310 687h12v5h-12zM568 687h6v5h-6zM700 687h6v5h-6zM142 692h36v5h-36zM316 692h6v5h-6zM568 692h6v5h-6zM694 692h6v5h-6zM136 697h36v5h-36zM316 697h6v5h-6zM568 697h6v5h-6zM688 697h6v5h-6zM136 702h30v5h-30zM316 702h12v5h-12zM436 702h6v5h-6zM568 702h6v5h-6zM676 702h12v5h-12zM136 707h24v5h-24zM322 707h6v5h-6zM670 707h6v5h-6zM136 712h12v5h-12zM322 712h6v5h-6zM430 712h6v5h-6zM664 712h6v5h-6zM136 717h6v5h-6zM322 717h6v5h-6zM574 717h6v5h-6zM136 722h6v5h-6zM322 722h12v5h-12zM424 722h6v5h-6zM574 722h6v5h-6zM130 727h6v5h-6zM328 727h6v5h-6zM580 727h6v5h-6zM124 732h6v5h-6zM334 732h12v5h-12zM586 732h6v5h-6zM94 737h30v5h-30zM346 737h42v5h-42zM412 737h6v5h-6zM592 737h6v5h-6zM664 742h6v5h-6zM664 747h6v5h-6zM598 752h6v5h-6zM670 757h6v5h-6zM670 762h6v5h-6zM604 767h6v5h-6zM610 772h6v5h-6zM658 772h6v5h-6z"/>
<path fill="#3189f4" d="M904 607h18v5h-18zM886 612h36v5h-36zM880 617h12v5h-12zM874 622h12v5h-12zM868 627h12v5h-12zM724 632h6v5h-6zM808 632h72v5h-72zM712 637h24v5h-24zM802 637h72v5h-72zM706 642h30v5h-30zM796 642h78v5h-78zM460 647h90v5h-90zM700 647h42v5h-42zM796 647h78v5h-78zM454 652h102v5h-102zM700 652h42v5h-42zM790 652h78v5h-78zM454 657h108v5h-108zM706 657h36v5h-36zM790 657h66v5h-66zM454 662h108v5h-108zM706 662h12v5h-12zM736 662h12v5h-12zM784 662h18v5h-18zM448 667h12v5h-12zM550 667h12v5h-12zM706 667h12v5h-12zM742 667h12v5h-12zM778 667h18v5h-18zM448 672h6v5h-6zM556 672h6v5h-6zM706 672h12v5h-12zM748 672h42v5h-42zM448 677h6v5h-6zM562 677h6v5h-6zM706 677h6v5h-6zM214 682h96v5h-96zM562 682h6v5h-6zM706 682h6v5h-6zM190 687h120v5h-120zM442 687h6v5h-6zM562 687h6v5h-6zM706 687h6v5h-6zM178 692h138v5h-138zM442 692h6v5h-6zM562 692h6v5h-6zM700 692h6v5h-6zM172 697h12v5h-12zM232 697h84v5h-84zM442 697h6v5h-6zM562 697h6v5h-6zM694 697h6v5h-6zM166 702h12v5h-12zM304 702h12v5h-12zM562 702h6v5h-6zM688 702h6v5h-6zM160 707h12v5h-12zM310 707h12v5h-12zM436 707h6v5h-6zM568 707h6v5h-6zM676 707h6v5h-6zM148 712h24v5h-24zM310 712h12v5h-12zM436 712h6v5h-6zM568 712h6v5h-6zM142 717h30v5h-30zM316 717h6v5h-6zM430 717h6v5h-6zM568 717h6v5h-6zM142 722h24v5h-24zM316 722h6v5h-6zM568 722h6v5h-6zM136 727h6v5h-6zM322 727h6v5h-6zM424 727h6v5h-6zM574 727h6v5h-6zM130 732h6v5h-6zM328 732h6v5h-6zM418 732h6v5h-6zM580 732h6v5h-6zM124 737h6v5h-6zM334 737h12v5h-12zM586 737h6v5h-6zM664 737h6v5h-6zM94 742h24v5h-24zM346 742h66v5h-66zM592 742h6v5h-6zM670 752h6v5h-6zM598 757h6v5h-6zM670 767h6v5h-6zM664 772h6v5h-6zM622 777h30v5h-30z"/>
<path fill="#3484f5" d="M892 617h30v5h-30zM886 622h36v5h-36zM880 627h12v5h-12zM880 632h6v5h-6zM874 637h12v5h-12zM874 642h6v5h-6zM874 647h6v5h-6zM868 652h12v5h-12zM856 657h24v5h-24zM718 662h18v5h-18zM802 662h78v5h-78zM460 667h90v5h-90zM718 667h24v5h-24zM796 667h84v5h-84zM454 672h102v5h-102zM718 672h30v5h-30zM790 672h90v5h-90zM454 677h108v5h-108zM712 677h168v5h-168zM448 682h114v5h-114zM712 682h162v5h-162zM448 687h6v5h-6zM514 687h48v5h-48zM712 687h12v5h-12zM754 687h24v5h-24zM448 692h6v5h-6zM520 692h42v5h-42zM706 692h12v5h-12zM184 697h48v5h-48zM526 697h36v5h-36zM700 697h12v5h-12zM178 702h6v5h-6zM208 702h96v5h-96zM442 702h6v5h-6zM526 702h36v5h-36zM694 702h12v5h-12zM172 707h6v5h-6zM214 707h96v5h-96zM442 707h6v5h-6zM526 707h42v5h-42zM682 707h12v5h-12zM172 712h6v5h-6zM220 712h90v5h-90zM442 712h6v5h-6zM526 712h42v5h-42zM670 712h6v5h-6zM220 717h96v5h-96zM436 717h6v5h-6zM532 717h36v5h-36zM664 717h6v5h-6zM166 722h6v5h-6zM304 722h12v5h-12zM430 722h6v5h-6zM556 722h12v5h-12zM142 727h24v5h-24zM316 727h6v5h-6zM568 727h6v5h-6zM136 732h6v5h-6zM322 732h6v5h-6zM574 732h6v5h-6zM664 732h6v5h-6zM130 737h6v5h-6zM328 737h6v5h-6zM418 737h6v5h-6zM580 737h6v5h-6zM118 742h12v5h-12zM334 742h12v5h-12zM412 742h6v5h-6zM586 742h6v5h-6zM670 742h6v5h-6zM346 747h48v5h-48zM592 747h6v5h-6zM670 747h6v5h-6zM676 752h6v5h-6zM676 757h6v5h-6zM598 762h6v5h-6zM676 762h6v5h-6zM604 772h6v5h-6zM616 777h6v5h-6zM652 777h6v5h-6z"/>
<path fill="#387ff5" d="M892 627h30v5h-30zM886 632h12v5h-12zM886 637h6v5h-6zM880 642h6v5h-6zM880 647h6v5h-6zM880 652h6v5h-6zM880 657h12v5h-12zM880 662h12v5h-12zM880 667h24v5h-24zM880 672h42v5h-42zM880 677h42v5h-42zM874 682h48v5h-48zM454 687h60v5h-60zM724 687h30v5h-30zM778 687h144v5h-144zM454 692h66v5h-66zM718 692h162v5h-162zM448 697h12v5h-12zM502 697h24v5h-24zM712 697h156v5h-156zM184 702h24v5h-24zM448 702h6v5h-6zM508 702h18v5h-18zM706 702h156v5h-156zM178 707h12v5h-12zM202 707h12v5h-12zM448 707h6v5h-6zM514 707h12v5h-12zM694 707h18v5h-18zM718 707h138v5h-138zM178 712h6v5h-6zM208 712h12v5h-12zM514 712h12v5h-12zM676 712h12v5h-12zM730 712h114v5h-114zM172 717h6v5h-6zM214 717h6v5h-6zM442 717h6v5h-6zM514 717h18v5h-18zM172 722h6v5h-6zM214 722h90v5h-90zM436 722h12v5h-12zM520 722h36v5h-36zM664 722h6v5h-6zM166 727h6v5h-6zM226 727h90v5h-90zM430 727h12v5h-12zM526 727h42v5h-42zM664 727h6v5h-6zM142 732h24v5h-24zM316 732h6v5h-6zM424 732h6v5h-6zM562 732h12v5h-12zM136 737h6v5h-6zM322 737h6v5h-6zM574 737h6v5h-6zM670 737h6v5h-6zM130 742h6v5h-6zM328 742h6v5h-6zM580 742h6v5h-6zM94 747h30v5h-30zM334 747h12v5h-12zM394 747h18v5h-18zM586 747h6v5h-6zM676 747h6v5h-6zM346 752h36v5h-36zM592 752h6v5h-6zM676 767h6v5h-6zM670 772h6v5h-6zM610 777h6v5h-6zM658 777h6v5h-6z"/>
<path fill="#3c7af5" d="M898 632h24v5h-24zM892 637h30v5h-30zM886 642h12v5h-12zM886 647h12v5h-12zM886 652h18v5h-18zM892 657h30v5h-30zM892 662h30v5h-30zM904 667h18v5h-18zM880 692h42v5h-42zM460 697h42v5h-42zM868 697h54v5h-54zM454 702h54v5h-54zM862 702h12v5h-12zM190 707h12v5h-12zM454 707h6v5h-6zM502 707h12v5h-12zM712 707h6v5h-6zM856 707h12v5h-12zM184 712h24v5h-24zM448 712h6v5h-6zM508 712h6v5h-6zM688 712h42v5h-42zM844 712h18v5h-18zM178 717h6v5h-6zM202 717h12v5h-12zM448 717h6v5h-6zM508 717h6v5h-6zM670 717h12v5h-12zM712 717h150v5h-150zM208 722h6v5h-6zM448 722h6v5h-6zM514 722h6v5h-6zM718 722h138v5h-138zM172 727h6v5h-6zM214 727h12v5h-12zM442 727h6v5h-6zM514 727h12v5h-12zM166 732h6v5h-6zM226 732h90v5h-90zM430 732h12v5h-12zM526 732h36v5h-36zM670 732h6v5h-6zM142 737h18v5h-18zM316 737h6v5h-6zM424 737h6v5h-6zM562 737h12v5h-12zM136 742h6v5h-6zM322 742h6v5h-6zM418 742h6v5h-6zM568 742h12v5h-12zM676 742h6v5h-6zM124 747h6v5h-6zM328 747h6v5h-6zM412 747h6v5h-6zM580 747h6v5h-6zM682 747h6v5h-6zM94 752h18v5h-18zM334 752h12v5h-12zM382 752h18v5h-18zM682 752h6v5h-6zM346 757h30v5h-30zM592 757h6v5h-6zM682 757h6v5h-6zM682 762h6v5h-6zM598 767h6v5h-6zM682 767h6v5h-6zM676 772h6v5h-6zM664 777h6v5h-6z"/>
<path fill="#4076f5" d="M898 642h24v5h-24zM898 647h24v5h-24zM904 652h18v5h-18zM874 702h48v5h-48zM460 707h42v5h-42zM868 707h18v5h-18zM454 712h54v5h-54zM862 712h12v5h-12zM184 717h18v5h-18zM454 717h6v5h-6zM502 717h6v5h-6zM682 717h30v5h-30zM862 717h6v5h-6zM178 722h6v5h-6zM202 722h6v5h-6zM454 722h6v5h-6zM502 722h12v5h-12zM670 722h12v5h-12zM706 722h12v5h-12zM856 722h12v5h-12zM178 727h6v5h-6zM208 727h6v5h-6zM448 727h6v5h-6zM508 727h6v5h-6zM670 727h6v5h-6zM712 727h150v5h-150zM172 732h6v5h-6zM214 732h12v5h-12zM442 732h6v5h-6zM514 732h12v5h-12zM676 732h6v5h-6zM730 732h120v5h-120zM160 737h12v5h-12zM298 737h18v5h-18zM430 737h12v5h-12zM526 737h36v5h-36zM676 737h12v5h-12zM142 742h12v5h-12zM316 742h6v5h-6zM424 742h6v5h-6zM556 742h12v5h-12zM682 742h6v5h-6zM130 747h12v5h-12zM322 747h6v5h-6zM418 747h6v5h-6zM568 747h12v5h-12zM112 752h18v5h-18zM328 752h6v5h-6zM400 752h12v5h-12zM580 752h12v5h-12zM334 757h12v5h-12zM376 757h12v5h-12zM688 757h6v5h-6zM346 762h30v5h-30zM592 762h6v5h-6zM352 767h18v5h-18zM598 772h6v5h-6zM604 777h6v5h-6zM670 777h6v5h-6zM622 782h36v5h-36z"/>
<path fill="#4471f5" d="M886 707h36v5h-36zM874 712h48v5h-48zM460 717h42v5h-42zM868 717h12v5h-12zM184 722h18v5h-18zM460 722h42v5h-42zM682 722h24v5h-24zM868 722h6v5h-6zM184 727h6v5h-6zM196 727h12v5h-12zM454 727h6v5h-6zM502 727h6v5h-6zM676 727h36v5h-36zM862 727h6v5h-6zM178 732h6v5h-6zM202 732h12v5h-12zM448 732h6v5h-6zM508 732h6v5h-6zM682 732h48v5h-48zM850 732h12v5h-12zM172 737h6v5h-6zM214 737h84v5h-84zM442 737h6v5h-6zM514 737h12v5h-12zM688 737h6v5h-6zM724 737h132v5h-132zM154 742h18v5h-18zM304 742h12v5h-12zM430 742h12v5h-12zM526 742h30v5h-30zM688 742h6v5h-6zM142 747h6v5h-6zM316 747h6v5h-6zM550 747h18v5h-18zM688 747h6v5h-6zM130 752h6v5h-6zM322 752h6v5h-6zM412 752h6v5h-6zM568 752h12v5h-12zM688 752h6v5h-6zM94 757h30v5h-30zM328 757h6v5h-6zM388 757h12v5h-12zM580 757h12v5h-12zM334 762h12v5h-12zM376 762h12v5h-12zM688 762h6v5h-6zM340 767h12v5h-12zM370 767h12v5h-12zM592 767h6v5h-6zM688 767h6v5h-6zM340 772h36v5h-36zM682 772h6v5h-6zM346 777h30v5h-30zM676 777h6v5h-6zM346 782h30v5h-30zM610 782h12v5h-12zM658 782h12v5h-12zM346 787h24v5h-24zM352 792h18v5h-18zM352 797h12v5h-12z"/>
<path fill="#486cf5" d="M880 717h42v5h-42zM874 722h12v5h-12zM190 727h6v5h-6zM460 727h42v5h-42zM868 727h12v5h-12zM184 732h18v5h-18zM454 732h18v5h-18zM490 732h18v5h-18zM862 732h12v5h-12zM178 737h6v5h-6zM202 737h12v5h-12zM448 737h12v5h-12zM502 737h12v5h-12zM694 737h30v5h-30zM856 737h12v5h-12zM172 742h6v5h-6zM214 742h90v5h-90zM442 742h12v5h-12zM508 742h18v5h-18zM694 742h12v5h-12zM718 742h138v5h-138zM148 747h18v5h-18zM304 747h12v5h-12zM424 747h18v5h-18zM526 747h24v5h-24zM694 747h6v5h-6zM136 752h12v5h-12zM316 752h6v5h-6zM418 752h6v5h-6zM550 752h18v5h-18zM694 752h6v5h-6zM124 757h12v5h-12zM322 757h6v5h-6zM400 757h12v5h-12zM562 757h18v5h-18zM694 757h6v5h-6zM94 762h24v5h-24zM328 762h6v5h-6zM388 762h6v5h-6zM580 762h12v5h-12zM694 762h6v5h-6zM334 767h6v5h-6zM382 767h6v5h-6zM334 772h6v5h-6zM376 772h12v5h-12zM688 772h6v5h-6zM334 777h12v5h-12zM376 777h6v5h-6zM598 777h6v5h-6zM682 777h6v5h-6zM340 782h6v5h-6zM376 782h6v5h-6zM670 782h6v5h-6zM340 787h6v5h-6zM370 787h12v5h-12zM340 792h12v5h-12zM370 792h6v5h-6zM340 797h12v5h-12zM364 797h12v5h-12zM346 802h30v5h-30zM346 807h30v5h-30zM346 812h30v5h-30zM346 817h30v5h-30zM346 822h30v5h-30zM346 827h30v5h-30z"/>
<path fill="#4c68f5" d="M886 722h36v5h-36zM880 727h42v5h-42zM472 732h18v5h-18zM874 732h18v5h-18zM184 737h18v5h-18zM460 737h42v5h-42zM868 737h12v5h-12zM178 742h12v5h-12zM196 742h18v5h-18zM454 742h12v5h-12zM496 742h12v5h-12zM706 742h12v5h-12zM856 742h18v5h-18zM166 747h12v5h-12zM208 747h96v5h-96zM442 747h12v5h-12zM508 747h18v5h-18zM700 747h162v5h-162zM148 752h18v5h-18zM310 752h6v5h-6zM424 752h18v5h-18zM526 752h24v5h-24zM700 752h6v5h-6zM136 757h12v5h-12zM316 757h6v5h-6zM412 757h6v5h-6zM550 757h12v5h-12zM700 757h6v5h-6zM118 762h18v5h-18zM322 762h6v5h-6zM394 762h12v5h-12zM556 762h24v5h-24zM328 767h6v5h-6zM388 767h6v5h-6zM580 767h12v5h-12zM694 767h6v5h-6zM328 772h6v5h-6zM388 772h6v5h-6zM592 772h6v5h-6zM382 777h6v5h-6zM334 782h6v5h-6zM382 782h6v5h-6zM604 782h6v5h-6zM676 782h6v5h-6zM334 787h6v5h-6zM382 787h6v5h-6zM334 792h6v5h-6zM376 792h6v5h-6zM334 797h6v5h-6zM376 797h6v5h-6zM340 802h6v5h-6zM376 802h6v5h-6zM340 807h6v5h-6zM376 807h6v5h-6zM340 812h6v5h-6zM376 812h6v5h-6zM340 817h6v5h-6zM376 817h6v5h-6zM340 822h6v5h-6zM376 822h6v5h-6zM340 827h6v5h-6zM376 827h6v5h-6z"/>
<path fill="#5064f5" d="M892 732h30v5h-30zM880 737h42v5h-42zM190 742h6v5h-6zM466 742h30v5h-30zM874 742h48v5h-48zM178 747h30v5h-30zM454 747h54v5h-54zM862 747h24v5h-24zM166 752h12v5h-12zM208 752h102v5h-102zM442 752h18v5h-18zM496 752h30v5h-30zM706 752h168v5h-168zM148 757h12v5h-12zM310 757h6v5h-6zM418 757h24v5h-24zM526 757h24v5h-24zM706 757h6v5h-6zM136 762h12v5h-12zM316 762h6v5h-6zM406 762h6v5h-6zM544 762h12v5h-12zM700 762h6v5h-6zM94 767h42v5h-42zM322 767h6v5h-6zM394 767h12v5h-12zM556 767h24v5h-24zM94 772h30v5h-30zM322 772h6v5h-6zM394 772h6v5h-6zM568 772h24v5h-24zM694 772h6v5h-6zM328 777h6v5h-6zM388 777h6v5h-6zM592 777h6v5h-6zM688 777h6v5h-6zM328 782h6v5h-6zM388 782h6v5h-6zM598 782h6v5h-6zM682 782h6v5h-6zM328 787h6v5h-6zM640 787h30v5h-30zM328 792h6v5h-6zM382 792h6v5h-6zM382 797h6v5h-6zM334 802h6v5h-6zM382 802h6v5h-6zM334 807h6v5h-6zM334 812h6v5h-6zM334 817h6v5h-6zM334 822h6v5h-6zM334 827h6v5h-6z"/>
<path fill="#5460f5" d="M886 747h36v5h-36zM178 752h30v5h-30zM460 752h36v5h-36zM874 752h48v5h-48zM160 757h24v5h-24zM202 757h108v5h-108zM442 757h84v5h-84zM712 757h210v5h-210zM148 762h12v5h-12zM310 762h6v5h-6zM412 762h42v5h-42zM514 762h30v5h-30zM706 762h156v5h-156zM136 767h12v5h-12zM316 767h6v5h-6zM406 767h6v5h-6zM538 767h18v5h-18zM700 767h12v5h-12zM124 772h12v5h-12zM316 772h6v5h-6zM400 772h6v5h-6zM550 772h18v5h-18zM700 772h6v5h-6zM94 777h36v5h-36zM322 777h6v5h-6zM394 777h12v5h-12zM562 777h30v5h-30zM694 777h6v5h-6zM322 782h6v5h-6zM394 782h6v5h-6zM688 782h6v5h-6zM322 787h6v5h-6zM388 787h6v5h-6zM610 787h30v5h-30zM670 787h12v5h-12zM388 792h6v5h-6zM328 797h6v5h-6zM388 797h6v5h-6zM328 802h6v5h-6zM328 807h6v5h-6zM382 807h6v5h-6zM328 812h6v5h-6zM382 812h6v5h-6zM328 817h6v5h-6zM382 817h6v5h-6zM328 822h6v5h-6zM382 822h6v5h-6zM328 827h6v5h-6zM382 827h6v5h-6z"/>
<path fill="#585cf5" d="M184 757h18v5h-18zM160 762h150v5h-150zM454 762h60v5h-60zM862 762h60v5h-60zM148 767h12v5h-12zM304 767h12v5h-12zM412 767h126v5h-126zM712 767h210v5h-210zM136 772h12v5h-12zM310 772h6v5h-6zM406 772h42v5h-42zM526 772h24v5h-24zM706 772h180v5h-180zM130 777h12v5h-12zM310 777h12v5h-12zM406 777h12v5h-12zM544 777h18v5h-18zM700 777h12v5h-12zM94 782h36v5h-36zM316 782h6v5h-6zM400 782h6v5h-6zM556 782h42v5h-42zM694 782h6v5h-6zM316 787h6v5h-6zM394 787h12v5h-12zM604 787h6v5h-6zM682 787h12v5h-12zM322 792h6v5h-6zM394 792h6v5h-6zM322 797h6v5h-6zM322 802h6v5h-6zM388 802h6v5h-6zM322 807h6v5h-6zM388 807h6v5h-6zM322 812h6v5h-6zM388 812h6v5h-6zM322 817h6v5h-6zM388 817h6v5h-6zM322 822h6v5h-6zM388 822h6v5h-6zM322 827h6v5h-6zM388 827h6v5h-6z"/>
<path fill="#5c58f5" d="M160 767h144v5h-144zM148 772h162v5h-162zM448 772h78v5h-78zM886 772h36v5h-36zM142 777h12v5h-12zM232 777h78v5h-78zM418 777h126v5h-126zM712 777h210v5h-210zM130 782h18v5h-18zM256 782h60v5h-60zM406 782h48v5h-48zM514 782h42v5h-42zM700 782h192v5h-192zM94 787h42v5h-42zM310 787h6v5h-6zM406 787h36v5h-36zM544 787h36v5h-36zM592 787h12v5h-12zM694 787h186v5h-186zM310 792h12v5h-12zM400 792h12v5h-12zM664 792h6v5h-6zM724 792h144v5h-144zM316 797h6v5h-6zM394 797h12v5h-12zM316 802h6v5h-6zM394 802h6v5h-6zM316 807h6v5h-6zM394 807h6v5h-6zM316 812h6v5h-6zM394 812h6v5h-6zM316 817h6v5h-6zM394 817h6v5h-6zM316 822h6v5h-6zM394 822h6v5h-6zM316 827h6v5h-6zM394 827h6v5h-6z"/>
<path fill="#6054f4" d="M154 777h78v5h-78zM148 782h108v5h-108zM454 782h60v5h-60zM892 782h30v5h-30zM136 787h12v5h-12zM226 787h84v5h-84zM442 787h24v5h-24zM496 787h48v5h-48zM580 787h12v5h-12zM880 787h42v5h-42zM94 792h42v5h-42zM238 792h72v5h-72zM412 792h42v5h-42zM514 792h60v5h-60zM640 792h24v5h-24zM670 792h54v5h-54zM868 792h30v5h-30zM94 797h30v5h-30zM244 797h72v5h-72zM406 797h42v5h-42zM706 797h180v5h-180zM256 802h60v5h-60zM400 802h42v5h-42zM712 802h168v5h-168zM304 807h12v5h-12zM400 807h12v5h-12zM718 807h162v5h-162zM304 812h12v5h-12zM400 812h12v5h-12zM718 812h162v5h-162zM304 817h12v5h-12zM400 817h12v5h-12zM718 817h162v5h-162zM304 822h12v5h-12zM400 822h12v5h-12zM712 822h168v5h-168zM304 827h12v5h-12zM400 827h12v5h-12zM712 827h168v5h-168z"/>
<path fill="#6450f3" d="M148 787h78v5h-78zM466 787h30v5h-30zM136 792h36v5h-36zM202 792h36v5h-36zM454 792h60v5h-60zM574 792h66v5h-66zM898 792h24v5h-24zM124 797h18v5h-18zM226 797h18v5h-18zM448 797h18v5h-18zM502 797h72v5h-72zM676 797h30v5h-30zM886 797h36v5h-36zM94 802h42v5h-42zM232 802h24v5h-24zM442 802h18v5h-18zM508 802h54v5h-54zM700 802h12v5h-12zM880 802h18v5h-18zM94 807h36v5h-36zM232 807h72v5h-72zM412 807h42v5h-42zM514 807h42v5h-42zM700 807h18v5h-18zM880 807h18v5h-18zM94 812h30v5h-30zM232 812h72v5h-72zM412 812h42v5h-42zM514 812h42v5h-42zM700 812h18v5h-18zM880 812h12v5h-12zM94 817h30v5h-30zM232 817h72v5h-72zM412 817h42v5h-42zM514 817h48v5h-48zM700 817h18v5h-18zM880 817h12v5h-12zM94 822h30v5h-30zM232 822h72v5h-72zM412 822h42v5h-42zM514 822h60v5h-60zM700 822h12v5h-12zM880 822h12v5h-12zM94 827h30v5h-30zM232 827h72v5h-72zM412 827h42v5h-42zM514 827h60v5h-60zM700 827h12v5h-12zM880 827h12v5h-12z"/>
<path fill="#684cf2" d="M172 792h30v5h-30zM142 797h84v5h-84zM466 797h36v5h-36zM574 797h12v5h-12zM658 797h18v5h-18zM136 802h24v5h-24zM208 802h24v5h-24zM460 802h48v5h-48zM562 802h18v5h-18zM688 802h12v5h-12zM898 802h24v5h-24zM130 807h18v5h-18zM214 807h18v5h-18zM454 807h12v5h-12zM496 807h18v5h-18zM556 807h24v5h-24zM694 807h6v5h-6zM898 807h24v5h-24zM124 812h18v5h-18zM214 812h18v5h-18zM454 812h12v5h-12zM496 812h18v5h-18zM556 812h24v5h-24zM694 812h6v5h-6zM892 812h30v5h-30zM124 817h18v5h-18zM214 817h18v5h-18zM454 817h12v5h-12zM496 817h18v5h-18zM562 817h24v5h-24zM688 817h12v5h-12zM892 817h30v5h-30zM124 822h18v5h-18zM214 822h18v5h-18zM454 822h12v5h-12zM496 822h18v5h-18zM574 822h18v5h-18zM688 822h12v5h-12zM892 822h30v5h-30zM124 827h18v5h-18zM214 827h18v5h-18zM454 827h12v5h-12zM496 827h18v5h-18zM574 827h18v5h-18zM688 827h12v5h-12zM892 827h30v5h-30z"/>
<path fill="#6c48f1" d="M586 797h18v5h-18zM646 797h12v5h-12zM160 802h48v5h-48zM580 802h12v5h-12zM670 802h18v5h-18zM148 807h66v5h-66zM466 807h30v5h-30zM580 807h6v5h-6zM682 807h12v5h-12zM142 812h72v5h-72zM466 812h30v5h-30zM580 812h12v5h-12zM682 812h12v5h-12zM142 817h72v5h-72zM466 817h30v5h-30zM586 817h12v5h-12zM676 817h12v5h-12zM142 822h72v5h-72zM466 822h30v5h-30zM592 822h18v5h-18zM676 822h12v5h-12zM142 827h72v5h-72zM466 827h30v5h-30zM592 827h18v5h-18zM676 827h12v5h-12z"/>
<path fill="#7044f0" d="M604 797h42v5h-42zM592 802h12v5h-12zM652 802h18v5h-18zM586 807h18v5h-18zM658 807h24v5h-24zM592 812h18v5h-18zM652 812h30v5h-30zM598 817h78v5h-78zM610 822h66v5h-66zM610 827h66v5h-66z"/>
<path fill="#7643f0" d="M604 802h48v5h-48zM604 807h54v5h-54zM610 812h42v5h-42z"/></g></g>
<g clip-path="url(#cBR)"><g filter="url(#bl)"><path fill="#fcab00" d="M935 472h18v5h-18zM935 477h18v5h-18zM935 482h18v5h-18zM977 482h6v5h-6zM947 487h12v5h-12zM965 487h18v5h-18zM1175 492h6v5h-6zM1193 492h6v5h-6zM1181 497h12v5h-12zM1121 507h6v5h-6z"/>
<path fill="#fba600" d="M953 472h30v5h-30zM1193 472h6v5h-6zM953 477h30v5h-30zM1193 477h6v5h-6zM953 482h24v5h-24zM1193 482h6v5h-6zM959 487h6v5h-6zM1175 487h6v5h-6zM1193 487h6v5h-6zM1181 492h12v5h-12zM1133 497h6v5h-6z"/>
<path fill="#fdb100" d="M983 472h6v5h-6zM1199 472h6v5h-6zM983 477h6v5h-6zM1199 477h6v5h-6zM983 482h6v5h-6zM1199 482h6v5h-6zM935 487h12v5h-12zM1199 487h6v5h-6zM947 492h36v5h-36zM1199 492h6v5h-6zM1151 497h6v5h-6zM1175 497h6v5h-6zM1193 497h6v5h-6zM1157 502h6v5h-6zM1157 507h6v5h-6z"/>
<path fill="#ffc100" d="M989 472h6v5h-6zM989 477h6v5h-6zM1163 487h6v5h-6zM1127 497h6v5h-6zM1211 502h6v5h-6zM1163 512h24v5h-24zM1151 517h6v5h-6z"/>
<path fill="#bfc40a" d="M995 472h6v5h-6zM995 477h6v5h-6zM1151 487h6v5h-6zM1211 517h6v5h-6zM983 522h6v5h-6z"/>
<path fill="#2da220" d="M1001 472h6v5h-6zM1001 477h6v5h-6zM1145 482h6v5h-6zM1001 497h6v5h-6zM1097 497h6v5h-6zM1001 502h6v5h-6zM1001 507h6v5h-6zM1001 512h6v5h-6zM1031 512h6v5h-6zM1001 517h6v5h-6zM1109 522h6v5h-6zM1157 527h36v5h-36zM1031 532h6v5h-6z"/>
<path fill="#16af32" d="M1007 472h6v5h-6zM1121 472h6v5h-6zM1007 477h6v5h-6zM1121 477h6v5h-6zM1139 477h6v5h-6zM1007 492h6v5h-6zM959 522h6v5h-6zM1067 522h18v5h-18zM965 527h6v5h-6zM1055 527h12v5h-12zM1097 527h6v5h-6zM995 532h6v5h-6zM1043 532h6v5h-6zM1121 532h12v5h-12zM1157 532h36v5h-36z"/>
<path fill="#18ad2e" d="M1013 472h6v5h-6zM1115 472h6v5h-6zM1013 477h6v5h-6zM1115 477h6v5h-6zM1013 482h6v5h-6zM1121 482h6v5h-6zM1139 482h6v5h-6zM1013 487h6v5h-6zM1127 487h6v5h-6zM1067 517h12v5h-12zM1055 522h12v5h-12zM1085 522h6v5h-6zM1049 527h6v5h-6zM1103 527h6v5h-6zM1229 527h6v5h-6zM977 532h6v5h-6zM1007 532h6v5h-6z"/>
<path fill="#1ca828" d="M1019 472h96v5h-96zM1019 477h96v5h-96zM1019 482h78v5h-78zM1109 482h6v5h-6zM1019 487h72v5h-72zM1139 487h6v5h-6zM1019 492h66v5h-66zM1007 497h12v5h-12zM1043 497h42v5h-42zM1049 502h36v5h-36zM1049 507h18v5h-18zM1079 507h6v5h-6zM1049 512h12v5h-12zM959 517h6v5h-6zM1049 517h6v5h-6zM1085 517h6v5h-6zM1043 522h6v5h-6zM1097 522h6v5h-6zM1001 527h6v5h-6zM983 532h6v5h-6zM1013 532h6v5h-6zM1031 537h6v5h-6z"/>
<path fill="#12b438" d="M1127 472h6v5h-6zM1127 477h12v5h-12zM1007 487h6v5h-6zM935 522h24v5h-24zM1079 527h6v5h-6zM1067 532h6v5h-6zM1109 532h6v5h-6zM1199 532h6v5h-6zM1043 537h30v5h-30zM1031 542h6v5h-6zM1073 557h6v5h-6zM1115 562h6v5h-6z"/>
<path fill="#10b840" d="M1133 472h6v5h-6zM971 532h6v5h-6zM1073 532h12v5h-12zM1103 532h6v5h-6zM1205 532h6v5h-6zM1073 537h6v5h-6zM1019 542h6v5h-6zM1055 542h18v5h-18zM1061 547h12v5h-12zM1067 552h12v5h-12zM1067 557h6v5h-6z"/>
<path fill="#14b235" d="M1139 472h6v5h-6zM1007 482h6v5h-6zM1127 482h12v5h-12zM1067 527h12v5h-12zM1085 527h12v5h-12zM1001 532h6v5h-6zM1049 532h18v5h-18zM1115 532h6v5h-6zM1133 532h24v5h-24zM1193 532h6v5h-6zM1013 537h6v5h-6zM1037 537h6v5h-6zM1025 542h6v5h-6z"/>
<path fill="#26a423" d="M1145 472h6v5h-6zM1145 477h6v5h-6zM1109 487h18v5h-18zM1097 492h6v5h-6zM1019 507h6v5h-6zM1031 507h6v5h-6zM1007 512h12v5h-12zM1037 512h6v5h-6zM1091 512h6v5h-6zM1007 517h6v5h-6zM1037 517h6v5h-6zM1001 522h12v5h-12zM1037 522h6v5h-6zM1013 527h6v5h-6zM1199 527h6v5h-6z"/>
<path fill="#75b218" d="M1151 472h6v5h-6zM1151 477h6v5h-6zM1145 487h6v5h-6zM995 492h6v5h-6zM965 507h6v5h-6zM995 507h6v5h-6zM1103 507h6v5h-6zM995 512h6v5h-6zM1205 522h6v5h-6z"/>
<path fill="#cfc706" d="M1157 472h6v5h-6zM1157 477h6v5h-6zM1157 482h6v5h-6zM1121 497h6v5h-6zM1115 502h6v5h-6zM1115 512h6v5h-6zM1223 512h12v5h-12zM1205 517h6v5h-6z"/>
<path fill="#ffc800" d="M1163 472h6v5h-6zM1163 477h6v5h-6zM989 487h6v5h-6zM1151 492h6v5h-6zM983 507h6v5h-6zM983 512h6v5h-6zM1193 512h6v5h-6z"/>
<path fill="#feb600" d="M1169 472h6v5h-6zM1205 472h12v5h-12zM1169 477h6v5h-6zM1205 477h12v5h-12zM1169 482h6v5h-6zM1205 482h12v5h-12zM983 487h6v5h-6zM1169 487h6v5h-6zM1205 487h12v5h-12zM935 492h12v5h-12zM1169 492h6v5h-6zM1205 492h12v5h-12zM1157 497h18v5h-18zM1199 497h12v5h-12zM1163 502h30v5h-30zM1127 517h6v5h-6z"/>
<path fill="#faa000" d="M1175 472h6v5h-6zM1175 477h6v5h-6zM1175 482h6v5h-6zM1187 487h6v5h-6zM1145 497h6v5h-6zM1145 517h6v5h-6z"/>
<path fill="#f99802" d="M1181 472h12v5h-12zM1181 477h12v5h-12zM1181 482h12v5h-12zM1181 487h6v5h-6zM1151 512h6v5h-6z"/>
<path fill="#ffbc00" d="M1217 472h18v5h-18zM1217 477h18v5h-18zM1217 482h18v5h-18zM1217 487h18v5h-18zM983 492h6v5h-6zM1217 492h18v5h-18zM977 497h6v5h-6zM1211 497h12v5h-12zM1193 502h12v5h-12zM1163 507h24v5h-24zM1157 512h6v5h-6z"/>
<path fill="#ffc300" d="M989 482h6v5h-6zM1157 492h6v5h-6zM965 497h6v5h-6zM983 502h6v5h-6zM1217 502h18v5h-18zM1199 507h6v5h-6zM1187 512h6v5h-6z"/>
<path fill="#a4be12" d="M995 482h6v5h-6zM1115 517h6v5h-6zM1223 517h12v5h-12zM977 522h6v5h-6zM1163 522h30v5h-30z"/>
<path fill="#23a625" d="M1001 482h6v5h-6zM1097 487h12v5h-12zM1091 497h6v5h-6zM1019 502h18v5h-18zM1085 502h6v5h-6zM1007 507h12v5h-12zM1037 507h6v5h-6zM1085 507h6v5h-6zM935 512h24v5h-24zM1091 517h6v5h-6zM965 522h6v5h-6zM1103 522h6v5h-6zM971 527h6v5h-6zM995 527h6v5h-6zM1037 527h6v5h-6zM1205 527h6v5h-6zM1025 537h6v5h-6z"/>
<path fill="#1fa726" d="M1097 482h12v5h-12zM1091 487h6v5h-6zM1085 492h12v5h-12zM1019 497h24v5h-24zM1085 497h6v5h-6zM1007 502h12v5h-12zM1037 502h12v5h-12zM1043 507h6v5h-6zM1043 512h6v5h-6zM1085 512h6v5h-6zM1043 517h6v5h-6zM1007 527h6v5h-6zM1115 527h6v5h-6zM1211 527h6v5h-6z"/>
<path fill="#1aaa2b" d="M1115 482h6v5h-6zM1001 492h6v5h-6zM1013 492h6v5h-6zM1067 507h12v5h-12zM1061 512h24v5h-24zM935 517h24v5h-24zM1055 517h12v5h-12zM1079 517h6v5h-6zM1049 522h6v5h-6zM1091 522h6v5h-6zM1043 527h6v5h-6zM1109 527h6v5h-6zM1217 527h12v5h-12zM989 532h6v5h-6zM1037 532h6v5h-6zM1019 537h6v5h-6z"/>
<path fill="#8eb915" d="M1151 482h6v5h-6zM1115 497h6v5h-6zM959 502h6v5h-6zM995 502h6v5h-6zM1109 512h6v5h-6zM1199 522h6v5h-6z"/>
<path fill="#ffc600" d="M1163 482h6v5h-6zM977 502h6v5h-6zM1205 507h6v5h-6z"/>
<path fill="#53aa1b" d="M995 487h6v5h-6zM965 512h6v5h-6zM1115 522h6v5h-6zM1217 522h6v5h-6zM983 527h6v5h-6z"/>
<path fill="#0fbb48" d="M1001 487h6v5h-6zM1133 487h6v5h-6zM959 527h6v5h-6zM1085 532h18v5h-18zM1211 532h6v5h-6zM1007 537h6v5h-6zM1115 537h6v5h-6zM1037 542h18v5h-18zM1073 542h6v5h-6zM1055 547h6v5h-6zM1073 547h6v5h-6zM1061 552h6v5h-6z"/>
<path fill="#efca00" d="M1157 487h6v5h-6zM1229 507h6v5h-6zM977 512h6v5h-6zM1205 512h6v5h-6zM1187 517h6v5h-6z"/>
<path fill="#fbc800" d="M989 492h6v5h-6zM953 497h12v5h-12zM1211 507h6v5h-6zM1199 512h6v5h-6zM1157 517h6v5h-6z"/>
<path fill="#2aa322" d="M1103 492h6v5h-6zM1091 502h6v5h-6zM1025 507h6v5h-6zM1091 507h6v5h-6zM959 512h6v5h-6zM1019 512h6v5h-6zM1013 517h6v5h-6zM1097 517h6v5h-6zM1013 522h6v5h-6zM1121 527h6v5h-6zM1193 527h6v5h-6zM1019 532h6v5h-6z"/>
<path fill="#36a41f" d="M1109 492h6v5h-6zM1133 492h6v5h-6zM935 507h24v5h-24zM1025 512h6v5h-6zM1097 512h6v5h-6zM965 517h6v5h-6zM1019 517h6v5h-6zM1127 527h30v5h-30z"/>
<path fill="#49a81c" d="M1115 492h6v5h-6zM1097 507h6v5h-6zM1025 517h6v5h-6zM1019 522h6v5h-6zM1031 522h6v5h-6zM1223 522h12v5h-12zM1019 527h6v5h-6zM1031 527h6v5h-6z"/>
<path fill="#69af19" d="M1121 492h6v5h-6zM1103 502h6v5h-6zM995 517h6v5h-6zM1109 517h6v5h-6zM1211 522h6v5h-6zM1025 527h6v5h-6z"/>
<path fill="#5cac1a" d="M1127 492h6v5h-6zM1109 497h6v5h-6zM1103 512h6v5h-6zM971 522h6v5h-6zM1025 522h6v5h-6z"/>
<path fill="#9bbc14" d="M1139 492h6v5h-6zM995 497h6v5h-6zM1109 502h6v5h-6zM971 517h6v5h-6zM989 522h6v5h-6zM1193 522h6v5h-6z"/>
<path fill="#ebca00" d="M1145 492h6v5h-6zM971 502h6v5h-6zM989 502h6v5h-6zM1115 507h6v5h-6zM1193 517h6v5h-6z"/>
<path fill="#ffbe00" d="M1163 492h6v5h-6zM971 497h6v5h-6zM983 497h6v5h-6zM1223 497h12v5h-12zM1121 502h6v5h-6zM1205 502h6v5h-6zM1187 507h12v5h-12zM1121 512h6v5h-6z"/>
<path fill="#f7c900" d="M935 497h18v5h-18z"/>
<path fill="#f3c900" d="M989 497h6v5h-6zM977 507h6v5h-6zM1217 507h12v5h-12zM983 517h6v5h-6zM1163 517h24v5h-24z"/>
<path fill="#40a61e" d="M1103 497h6v5h-6zM1097 502h6v5h-6zM959 507h6v5h-6zM1031 517h6v5h-6zM1103 517h6v5h-6zM995 522h6v5h-6zM977 527h6v5h-6zM989 527h6v5h-6zM1025 532h6v5h-6z"/>
<path fill="#f88f04" d="M1139 497h6v5h-6zM1151 502h6v5h-6z"/>
<path fill="#82b616" d="M935 502h24v5h-24zM1121 522h6v5h-6z"/>
<path fill="#b6c20d" d="M965 502h6v5h-6zM971 512h6v5h-6zM1127 522h6v5h-6zM1151 522h6v5h-6z"/>
<path fill="#f26a0c" d="M1127 502h6v5h-6z"/>
<path fill="#da221c" d="M1133 502h6v5h-6z"/>
<path fill="#d71e24" d="M1139 502h6v5h-6zM1145 507h6v5h-6z"/>
<path fill="#e43c14" d="M1145 502h6v5h-6z"/>
<path fill="#c8c608" d="M971 507h6v5h-6zM989 517h6v5h-6zM1145 522h6v5h-6z"/>
<path fill="#ddc803" d="M989 507h6v5h-6zM977 517h6v5h-6zM1199 517h6v5h-6z"/>
<path fill="#adc00f" d="M1109 507h6v5h-6zM1217 517h6v5h-6zM1157 522h6v5h-6z"/>
<path fill="#df2f18" d="M1127 507h6v5h-6zM1145 512h6v5h-6z"/>
<path fill="#da364a" d="M1133 507h6v5h-6z"/>
<path fill="#db3d51" d="M1139 507h6v5h-6z"/>
<path fill="#f5760a" d="M1151 507h6v5h-6zM1139 517h6v5h-6z"/>
<path fill="#d6c805" d="M989 512h6v5h-6zM1217 512h6v5h-6zM1133 522h12v5h-12z"/>
<path fill="#eb5310" d="M1127 512h6v5h-6z"/>
<path fill="#d72330" d="M1133 512h6v5h-6z"/>
<path fill="#d72636" d="M1139 512h6v5h-6z"/>
<path fill="#e4c902" d="M1211 512h6v5h-6zM1121 517h6v5h-6z"/>
<path fill="#f78706" d="M1133 517h6v5h-6z"/>
<path fill="#0ac65f" d="M935 527h18v5h-18zM965 532h6v5h-6zM977 537h6v5h-6zM1091 537h6v5h-6zM1127 537h6v5h-6zM1157 537h6v5h-6zM1193 537h6v5h-6zM1007 542h6v5h-6zM1037 547h12v5h-12zM1049 552h6v5h-6zM1109 552h6v5h-6zM1055 557h6v5h-6zM1109 557h6v5h-6zM1061 562h6v5h-6z"/>
<path fill="#0cc257" d="M953 527h6v5h-6zM1223 532h12v5h-12zM983 537h18v5h-18zM1085 537h6v5h-6zM1097 537h12v5h-12zM1163 537h30v5h-30zM1013 542h6v5h-6zM1079 542h6v5h-6zM1109 542h6v5h-6zM1025 547h12v5h-12zM1079 547h6v5h-6zM1109 547h12v5h-12zM1079 552h6v5h-6zM1115 552h6v5h-6zM1079 557h6v5h-6zM1109 562h6v5h-6z"/>
<path fill="#0ad08e" d="M935 532h18v5h-18zM965 537h6v5h-6zM971 542h6v5h-6zM1133 542h6v5h-6zM1145 542h12v5h-12zM1205 542h12v5h-12zM1001 547h6v5h-6zM1163 547h30v5h-30zM1019 552h6v5h-6zM1091 557h12v5h-12zM1121 557h6v5h-6zM1085 562h6v5h-6zM1103 562h6v5h-6zM1079 572h6v5h-6zM1067 577h12v5h-12z"/>
<path fill="#0ace85" d="M953 532h6v5h-6zM977 542h6v5h-6zM1199 542h6v5h-6zM1007 547h6v5h-6zM1091 552h12v5h-12zM1121 552h6v5h-6zM1043 557h6v5h-6zM1085 557h6v5h-6zM1103 557h6v5h-6zM1049 562h6v5h-6zM1055 567h6v5h-6zM1079 567h6v5h-6zM1061 572h6v5h-6zM1109 572h12v5h-12z"/>
<path fill="#0acc7b" d="M959 532h6v5h-6zM1217 537h18v5h-18zM983 542h18v5h-18zM1127 542h6v5h-6zM1157 542h12v5h-12zM1187 542h12v5h-12zM1013 547h6v5h-6zM1121 547h6v5h-6zM1025 552h18v5h-18zM1085 552h6v5h-6zM1103 552h6v5h-6zM1067 572h12v5h-12z"/>
<path fill="#0dbf4f" d="M1217 532h6v5h-6zM1001 537h6v5h-6zM1079 537h6v5h-6zM1109 537h6v5h-6zM1121 537h6v5h-6zM1115 542h6v5h-6zM1049 547h6v5h-6zM1055 552h6v5h-6zM1061 557h6v5h-6zM1115 557h6v5h-6zM1067 562h12v5h-12zM1115 567h6v5h-6z"/>
<path fill="#0cc8c0" d="M935 537h18v5h-18zM959 542h6v5h-6zM965 547h6v5h-6zM1139 547h6v5h-6zM971 552h6v5h-6zM1127 552h6v5h-6zM1205 552h30v5h-30zM995 557h12v5h-12zM1163 557h6v5h-6zM1187 557h12v5h-12zM1001 562h18v5h-18zM1019 567h12v5h-12zM1091 577h12v5h-12zM1103 582h6v5h-6zM1079 587h6v5h-6zM1109 587h6v5h-6zM1067 592h12v5h-12z"/>
<path fill="#0ccab6" d="M953 537h6v5h-6zM1133 547h6v5h-6zM1145 547h6v5h-6zM977 552h18v5h-18zM1157 552h6v5h-6zM1199 552h6v5h-6zM1007 557h6v5h-6zM1169 557h18v5h-18zM1019 562h6v5h-6zM1031 567h12v5h-12zM1043 572h6v5h-6zM1091 572h12v5h-12zM1049 577h6v5h-6zM1085 577h6v5h-6zM1103 577h6v5h-6zM1055 582h6v5h-6zM1115 582h6v5h-6zM1061 587h6v5h-6z"/>
<path fill="#0bcda2" d="M959 537h6v5h-6zM977 547h6v5h-6zM1127 547h6v5h-6zM1199 547h12v5h-12zM1007 552h6v5h-6zM1169 552h18v5h-18zM1019 557h6v5h-6zM1037 562h6v5h-6zM1085 567h6v5h-6zM1079 577h6v5h-6zM1115 577h6v5h-6zM1067 582h6v5h-6z"/>
<path fill="#0aca72" d="M971 537h6v5h-6zM1205 537h12v5h-12zM1001 542h6v5h-6zM1169 542h18v5h-18zM1085 547h24v5h-24zM1043 552h6v5h-6zM1049 557h6v5h-6zM1055 562h6v5h-6zM1079 562h6v5h-6zM1121 562h6v5h-6zM1061 567h6v5h-6z"/>
<path fill="#0ac868" d="M1133 537h24v5h-24zM1199 537h6v5h-6zM1085 542h24v5h-24zM1121 542h6v5h-6zM1019 547h6v5h-6zM1067 567h12v5h-12zM1109 567h6v5h-6z"/>
<path fill="#10c0ce" d="M935 542h18v5h-18zM959 547h6v5h-6zM965 552h6v5h-6zM971 557h6v5h-6zM977 562h18v5h-18zM1163 562h6v5h-6zM1193 562h42v5h-42zM995 567h6v5h-6zM1181 567h12v5h-12zM1001 572h24v5h-24zM1037 577h6v5h-6zM1091 582h12v5h-12zM1049 587h6v5h-6zM1085 587h6v5h-6zM1103 587h6v5h-6zM1055 592h6v5h-6zM1109 592h6v5h-6zM1067 597h12v5h-12z"/>
<path fill="#0ec4c7" d="M953 542h6v5h-6zM1151 552h6v5h-6zM977 557h18v5h-18zM1157 557h6v5h-6zM1199 557h36v5h-36zM995 562h6v5h-6zM1169 562h24v5h-24zM1001 567h18v5h-18zM1025 572h18v5h-18zM1043 577h6v5h-6zM1049 582h6v5h-6zM1085 582h6v5h-6zM1055 587h6v5h-6zM1115 587h6v5h-6zM1061 592h6v5h-6zM1079 592h6v5h-6z"/>
<path fill="#0bcbac" d="M965 542h6v5h-6zM971 547h6v5h-6zM1151 547h6v5h-6zM1211 547h24v5h-24zM995 552h12v5h-12zM1163 552h6v5h-6zM1187 552h12v5h-12zM1013 557h6v5h-6zM1025 562h12v5h-12zM1043 567h6v5h-6zM1091 567h12v5h-12zM1049 572h6v5h-6zM1085 572h6v5h-6zM1103 572h6v5h-6zM1055 577h6v5h-6zM1061 582h6v5h-6zM1079 582h6v5h-6zM1109 582h6v5h-6zM1067 587h12v5h-12z"/>
<path fill="#0ace98" d="M1139 542h6v5h-6zM1217 542h18v5h-18zM983 547h18v5h-18zM1157 547h6v5h-6zM1193 547h6v5h-6zM1013 552h6v5h-6zM1025 557h18v5h-18zM1043 562h6v5h-6zM1091 562h12v5h-12zM1049 567h6v5h-6zM1103 567h6v5h-6zM1121 567h6v5h-6zM1055 572h6v5h-6zM1061 577h6v5h-6zM1109 577h6v5h-6zM1073 582h6v5h-6z"/>
<path fill="#14b8db" d="M935 547h18v5h-18zM959 552h6v5h-6zM1139 552h6v5h-6zM1151 557h6v5h-6zM965 562h6v5h-6zM1157 562h6v5h-6zM971 567h6v5h-6zM971 572h18v5h-18zM1121 572h6v5h-6zM1175 572h60v5h-60zM983 577h18v5h-18zM995 582h48v5h-48zM1043 587h6v5h-6zM1049 592h6v5h-6zM1091 592h12v5h-12zM1055 597h6v5h-6zM1103 597h6v5h-6zM1061 602h18v5h-18zM1103 602h6v5h-6zM1115 617h6v5h-6zM1115 622h6v5h-6zM1115 627h6v5h-6zM1115 632h6v5h-6zM1115 637h6v5h-6zM1115 642h6v5h-6zM1115 647h6v5h-6zM1109 652h6v5h-6z"/>
<path fill="#12bcd4" d="M953 547h6v5h-6zM1133 552h6v5h-6zM1145 552h6v5h-6zM965 557h6v5h-6zM1127 557h6v5h-6zM971 562h6v5h-6zM977 567h18v5h-18zM1169 567h12v5h-12zM1193 567h42v5h-42zM989 572h12v5h-12zM1001 577h36v5h-36zM1043 582h6v5h-6zM1091 587h12v5h-12zM1085 592h6v5h-6zM1103 592h6v5h-6zM1115 592h6v5h-6zM1061 597h6v5h-6zM1079 597h6v5h-6zM1109 597h6v5h-6zM1109 602h6v5h-6zM1109 607h6v5h-6zM1109 612h6v5h-6zM1109 617h6v5h-6zM1109 622h6v5h-6zM1109 627h6v5h-6zM1109 632h6v5h-6zM1109 637h6v5h-6zM1109 642h6v5h-6zM1109 647h6v5h-6z"/>
<path fill="#16b4e2" d="M935 552h24v5h-24zM959 557h6v5h-6zM965 567h6v5h-6zM1163 567h6v5h-6zM1169 572h6v5h-6zM971 577h12v5h-12zM977 582h18v5h-18zM989 587h54v5h-54zM995 592h18v5h-18zM1043 592h6v5h-6zM1049 597h6v5h-6zM1085 597h18v5h-18zM1115 597h6v5h-6zM1055 602h6v5h-6zM1079 602h6v5h-6zM1115 602h6v5h-6zM1103 607h6v5h-6zM1115 607h6v5h-6zM1103 612h6v5h-6zM1115 612h6v5h-6zM1115 652h6v5h-6zM1109 657h12v5h-12zM1109 662h6v5h-6z"/>
<path fill="#19afe5" d="M935 557h24v5h-24zM953 562h12v5h-12zM1127 562h6v5h-6zM959 567h6v5h-6zM965 572h6v5h-6zM965 577h6v5h-6zM1175 577h60v5h-60zM971 582h6v5h-6zM977 587h12v5h-12zM983 592h12v5h-12zM1013 592h30v5h-30zM995 597h24v5h-24zM1043 597h6v5h-6zM1001 602h6v5h-6zM1049 602h6v5h-6zM1085 602h18v5h-18zM1061 607h18v5h-18zM1103 617h6v5h-6zM1103 622h6v5h-6zM1103 627h6v5h-6zM1103 632h6v5h-6zM1103 637h6v5h-6zM1103 642h6v5h-6zM1103 647h6v5h-6zM1115 662h6v5h-6zM1109 667h12v5h-12zM1109 672h6v5h-6z"/>
<path fill="#20a5ea" d="M1133 557h12v5h-12zM1151 562h6v5h-6zM935 567h12v5h-12zM1157 567h6v5h-6zM935 572h24v5h-24zM947 577h18v5h-18zM1163 577h6v5h-6zM959 582h6v5h-6zM1121 582h6v5h-6zM1169 582h12v5h-12zM959 587h12v5h-12zM965 592h6v5h-6zM971 597h12v5h-12zM977 602h12v5h-12zM1031 602h12v5h-12zM983 607h12v5h-12zM1013 607h18v5h-18zM1043 607h6v5h-6zM989 612h24v5h-24zM1049 612h18v5h-18zM1073 612h12v5h-12zM1091 612h6v5h-6zM995 617h12v5h-12zM1067 617h6v5h-6zM1097 617h6v5h-6zM1097 622h6v5h-6zM1097 627h6v5h-6zM1097 632h6v5h-6zM1097 637h6v5h-6zM1097 642h6v5h-6zM1103 662h6v5h-6zM1103 667h6v5h-6zM1109 682h12v5h-12zM1109 687h12v5h-12z"/>
<path fill="#1caae8" d="M1145 557h6v5h-6zM935 562h18v5h-18zM947 567h12v5h-12zM959 572h6v5h-6zM1163 572h6v5h-6zM1121 577h6v5h-6zM1169 577h6v5h-6zM965 582h6v5h-6zM1181 582h54v5h-54zM971 587h6v5h-6zM971 592h12v5h-12zM983 597h12v5h-12zM1019 597h24v5h-24zM989 602h12v5h-12zM1007 602h24v5h-24zM1043 602h6v5h-6zM995 607h18v5h-18zM1049 607h12v5h-12zM1079 607h24v5h-24zM1067 612h6v5h-6zM1097 612h6v5h-6zM1103 652h6v5h-6zM1103 657h6v5h-6zM1115 672h6v5h-6zM1109 677h12v5h-12z"/>
<path fill="#2c92f2" d="M1133 562h6v5h-6zM1151 567h6v5h-6zM1157 577h6v5h-6zM1163 587h6v5h-6zM1169 592h6v5h-6zM1175 597h12v5h-12zM1175 602h60v5h-60zM1181 607h54v5h-54zM935 632h30v5h-30zM1031 632h18v5h-18zM935 637h36v5h-36zM1007 637h72v5h-72zM959 642h18v5h-18zM1001 642h12v5h-12zM1055 642h30v5h-30zM965 647h42v5h-42zM1085 647h6v5h-6zM971 652h30v5h-30zM1085 652h6v5h-6zM1091 662h6v5h-6zM1091 667h6v5h-6zM1097 677h6v5h-6zM1097 682h6v5h-6zM1097 687h6v5h-6zM1121 692h6v5h-6zM1103 697h6v5h-6zM1121 697h6v5h-6zM1103 702h6v5h-6zM1121 702h6v5h-6zM1109 717h12v5h-12z"/>
<path fill="#2e8df3" d="M1139 562h6v5h-6zM1157 582h6v5h-6zM1163 592h6v5h-6zM1169 597h6v5h-6zM1169 602h6v5h-6zM1169 607h12v5h-12zM1175 612h60v5h-60zM1175 617h60v5h-60zM935 642h24v5h-24zM1013 642h42v5h-42zM935 647h30v5h-30zM1007 647h78v5h-78zM935 652h36v5h-36zM1001 652h12v5h-12zM1037 652h48v5h-48zM935 657h72v5h-72zM1079 657h12v5h-12zM965 662h36v5h-36zM1085 662h6v5h-6zM971 667h30v5h-30zM1091 672h6v5h-6zM1091 677h6v5h-6zM1097 692h6v5h-6zM1097 697h6v5h-6zM1103 707h6v5h-6zM1121 707h6v5h-6zM1103 712h6v5h-6zM1121 712h6v5h-6zM1109 722h12v5h-12zM1109 727h12v5h-12z"/>
<path fill="#2996f1" d="M1145 562h6v5h-6zM1127 567h6v5h-6zM1175 592h6v5h-6zM1121 597h6v5h-6zM1187 597h48v5h-48zM1121 602h6v5h-6zM1121 607h6v5h-6zM1121 612h6v5h-6zM935 617h36v5h-36zM935 622h42v5h-42zM1037 622h6v5h-6zM935 627h48v5h-48zM1013 627h42v5h-42zM965 632h24v5h-24zM1007 632h24v5h-24zM1049 632h42v5h-42zM971 637h36v5h-36zM1079 637h12v5h-12zM977 642h24v5h-24zM1085 642h6v5h-6zM1091 647h6v5h-6zM1091 652h6v5h-6zM1091 657h6v5h-6zM1097 667h6v5h-6zM1097 672h6v5h-6zM1121 672h6v5h-6zM1121 677h6v5h-6zM1121 682h6v5h-6zM1121 687h6v5h-6zM1103 692h6v5h-6zM1109 707h12v5h-12zM1109 712h12v5h-12z"/>
<path fill="#3c7af5" d="M1133 567h6v5h-6zM1151 577h6v5h-6zM1127 587h6v5h-6zM1127 592h6v5h-6zM1127 597h6v5h-6zM1157 597h6v5h-6zM1127 602h6v5h-6zM1157 602h6v5h-6zM1127 607h6v5h-6zM1157 607h6v5h-6zM1127 612h6v5h-6zM1157 612h6v5h-6zM1157 617h6v5h-6zM1157 622h6v5h-6zM1151 657h6v5h-6zM1151 662h6v5h-6zM1151 667h12v5h-12zM1151 672h12v5h-12zM1133 677h6v5h-6zM1151 677h12v5h-12zM1019 682h12v5h-12zM1133 682h6v5h-6zM1151 682h84v5h-84zM1007 687h36v5h-36zM1133 687h6v5h-6zM1145 687h90v5h-90zM1007 692h72v5h-72zM1133 692h6v5h-6zM1145 692h90v5h-90zM1007 697h6v5h-6zM1037 697h48v5h-48zM1133 697h6v5h-6zM1151 697h84v5h-84zM1007 702h6v5h-6zM1079 702h12v5h-12zM1133 702h6v5h-6zM1151 702h84v5h-84zM935 707h36v5h-36zM1001 707h12v5h-12zM1085 707h6v5h-6zM1133 707h6v5h-6zM935 712h54v5h-54zM1001 712h6v5h-6zM1085 712h6v5h-6zM1133 712h6v5h-6zM965 717h30v5h-30zM1001 717h6v5h-6zM1091 717h6v5h-6zM1133 717h6v5h-6zM971 722h36v5h-36zM1091 722h6v5h-6zM983 727h24v5h-24zM1097 727h6v5h-6zM989 732h18v5h-18zM1097 732h6v5h-6zM1127 732h6v5h-6zM995 737h12v5h-12zM1127 737h6v5h-6zM995 742h12v5h-12zM1103 742h6v5h-6zM1127 742h6v5h-6zM995 747h12v5h-12zM1109 747h6v5h-6zM1121 747h12v5h-12zM995 752h12v5h-12zM1115 752h6v5h-6zM1133 752h6v5h-6zM995 757h12v5h-12zM1133 757h6v5h-6zM995 762h12v5h-12zM1133 762h12v5h-12zM995 767h12v5h-12zM1133 767h12v5h-12zM1001 772h6v5h-6zM1133 772h12v5h-12zM1133 777h12v5h-12z"/>
<path fill="#4076f5" d="M1139 567h6v5h-6zM1127 577h6v5h-6zM1127 582h6v5h-6zM1151 582h6v5h-6zM1151 587h6v5h-6zM1151 627h6v5h-6zM1151 632h6v5h-6zM1151 637h6v5h-6zM1133 642h6v5h-6zM1151 642h6v5h-6zM1133 647h6v5h-6zM1151 647h6v5h-6zM1133 652h6v5h-6zM1145 652h12v5h-12zM1133 657h6v5h-6zM1145 657h6v5h-6zM1133 662h6v5h-6zM1145 662h6v5h-6zM1133 667h6v5h-6zM1145 667h6v5h-6zM1133 672h18v5h-18zM1139 677h12v5h-12zM1139 682h12v5h-12zM1139 687h6v5h-6zM1139 692h6v5h-6zM1013 697h24v5h-24zM1139 697h12v5h-12zM1013 702h66v5h-66zM1139 702h12v5h-12zM1013 707h72v5h-72zM1139 707h96v5h-96zM1007 712h24v5h-24zM1079 712h6v5h-6zM1139 712h96v5h-96zM935 717h30v5h-30zM1007 717h12v5h-12zM1085 717h6v5h-6zM1139 717h96v5h-96zM935 722h36v5h-36zM1007 722h6v5h-6zM1085 722h6v5h-6zM1133 722h12v5h-12zM959 727h24v5h-24zM1007 727h6v5h-6zM1091 727h6v5h-6zM1133 727h12v5h-12zM965 732h24v5h-24zM1007 732h6v5h-6zM1091 732h6v5h-6zM1133 732h12v5h-12zM971 737h24v5h-24zM1007 737h6v5h-6zM1097 737h6v5h-6zM1133 737h12v5h-12zM977 742h18v5h-18zM1007 742h6v5h-6zM1097 742h6v5h-6zM1133 742h12v5h-12zM983 747h12v5h-12zM1007 747h6v5h-6zM1103 747h6v5h-6zM1133 747h12v5h-12zM983 752h12v5h-12zM1007 752h6v5h-6zM1109 752h6v5h-6zM1121 752h12v5h-12zM1139 752h6v5h-6zM989 757h6v5h-6zM1007 757h6v5h-6zM1115 757h18v5h-18zM1139 757h6v5h-6zM989 762h6v5h-6zM1007 762h6v5h-6zM1127 762h6v5h-6zM989 767h6v5h-6zM1007 767h6v5h-6zM1127 767h6v5h-6zM989 772h6v5h-6zM1007 772h6v5h-6zM989 777h6v5h-6zM1007 777h6v5h-6zM989 782h6v5h-6zM1007 782h6v5h-6zM989 787h6v5h-6zM1007 787h6v5h-6zM989 792h6v5h-6zM1007 792h6v5h-6zM989 797h6v5h-6zM1007 797h6v5h-6zM989 802h6v5h-6zM1007 802h6v5h-6zM989 807h6v5h-6zM1007 807h6v5h-6zM989 812h6v5h-6zM1007 812h6v5h-6zM989 817h6v5h-6zM1007 817h6v5h-6zM989 822h6v5h-6zM1007 822h6v5h-6zM989 827h6v5h-6zM1007 827h6v5h-6z"/>
<path fill="#387ff5" d="M1145 567h6v5h-6zM1127 572h6v5h-6zM1151 572h6v5h-6zM1157 592h6v5h-6zM1127 617h6v5h-6zM1127 622h6v5h-6zM1127 627h6v5h-6zM1157 627h6v5h-6zM1157 632h6v5h-6zM1157 637h6v5h-6zM1157 642h12v5h-12zM1157 647h78v5h-78zM1157 652h78v5h-78zM1157 657h78v5h-78zM1157 662h78v5h-78zM1163 667h72v5h-72zM1019 672h12v5h-12zM1163 672h72v5h-72zM1007 677h66v5h-66zM1163 677h72v5h-72zM1007 682h12v5h-12zM1031 682h54v5h-54zM1001 687h6v5h-6zM1043 687h42v5h-42zM935 692h24v5h-24zM1001 692h6v5h-6zM1079 692h12v5h-12zM935 697h72v5h-72zM1085 697h6v5h-6zM935 702h72v5h-72zM971 707h30v5h-30zM1091 707h6v5h-6zM1127 707h6v5h-6zM989 712h12v5h-12zM1091 712h6v5h-6zM1127 712h6v5h-6zM995 717h6v5h-6zM1127 717h6v5h-6zM1097 722h6v5h-6zM1127 722h6v5h-6zM1127 727h6v5h-6zM1103 732h6v5h-6zM1103 737h6v5h-6zM1121 737h6v5h-6zM1109 742h6v5h-6zM1121 742h6v5h-6zM1115 747h6v5h-6zM995 772h6v5h-6zM995 777h12v5h-12zM995 782h12v5h-12zM1133 782h12v5h-12zM995 787h12v5h-12zM1133 787h12v5h-12zM995 792h12v5h-12zM1133 792h12v5h-12zM995 797h12v5h-12zM1133 797h12v5h-12zM995 802h12v5h-12zM1133 802h12v5h-12zM995 807h12v5h-12zM1133 807h12v5h-12zM995 812h12v5h-12zM1133 812h12v5h-12zM995 817h12v5h-12zM1133 817h12v5h-12zM995 822h12v5h-12zM1133 822h12v5h-12zM995 827h12v5h-12zM1133 827h12v5h-12z"/>
<path fill="#4c68f5" d="M1133 572h6v5h-6zM1133 587h6v5h-6zM1145 587h6v5h-6zM1133 592h6v5h-6zM1145 592h6v5h-6zM1133 597h6v5h-6zM1145 597h6v5h-6zM1133 602h6v5h-6zM1145 602h6v5h-6zM1139 607h12v5h-12zM1139 612h12v5h-12zM1139 617h6v5h-6zM1037 737h42v5h-42zM1031 742h54v5h-54zM1025 747h12v5h-12zM1085 747h6v5h-6zM1163 747h72v5h-72zM1019 752h12v5h-12zM1091 752h6v5h-6zM1151 752h84v5h-84zM935 757h30v5h-30zM1019 757h6v5h-6zM1097 757h6v5h-6zM1151 757h6v5h-6zM935 762h30v5h-30zM1103 762h6v5h-6zM935 767h36v5h-36zM1013 767h6v5h-6zM1109 767h6v5h-6zM959 772h12v5h-12zM1013 772h6v5h-6zM1115 772h6v5h-6zM965 777h12v5h-12zM1013 777h6v5h-6zM1121 777h6v5h-6zM971 782h6v5h-6zM1013 782h6v5h-6zM971 787h6v5h-6zM1013 787h6v5h-6zM971 792h12v5h-12zM977 797h6v5h-6zM1145 797h6v5h-6zM977 802h6v5h-6zM1145 802h6v5h-6zM977 807h6v5h-6zM1145 807h6v5h-6zM977 812h6v5h-6zM1145 812h6v5h-6zM977 817h6v5h-6zM1145 817h6v5h-6zM977 822h6v5h-6zM1145 822h6v5h-6zM977 827h6v5h-6zM1145 827h6v5h-6z"/>
<path fill="#5064f5" d="M1139 572h6v5h-6zM1145 577h6v5h-6zM1133 582h6v5h-6zM1145 582h6v5h-6zM1139 587h6v5h-6zM1139 592h6v5h-6zM1139 597h6v5h-6zM1139 602h6v5h-6zM1037 747h48v5h-48zM1031 752h12v5h-12zM1079 752h12v5h-12zM1025 757h12v5h-12zM1091 757h6v5h-6zM1157 757h78v5h-78zM1019 762h12v5h-12zM1097 762h6v5h-6zM1151 762h84v5h-84zM1019 767h6v5h-6zM1103 767h6v5h-6zM1151 767h6v5h-6zM935 772h24v5h-24zM1019 772h6v5h-6zM1109 772h6v5h-6zM1151 772h6v5h-6zM935 777h30v5h-30zM1115 777h6v5h-6zM935 782h36v5h-36zM1121 782h6v5h-6zM935 787h36v5h-36zM1121 787h6v5h-6zM965 792h6v5h-6zM1013 792h6v5h-6zM965 797h12v5h-12zM1013 797h6v5h-6zM971 802h6v5h-6zM1013 802h6v5h-6zM971 807h6v5h-6zM1013 807h6v5h-6zM971 812h6v5h-6zM1013 812h6v5h-6zM1013 817h6v5h-6zM1013 822h6v5h-6zM1013 827h6v5h-6z"/>
<path fill="#486cf5" d="M1145 572h6v5h-6zM1151 597h6v5h-6zM1133 607h6v5h-6zM1133 612h6v5h-6zM1133 617h6v5h-6zM1145 617h6v5h-6zM1139 622h12v5h-12zM1139 627h12v5h-12zM1139 632h6v5h-6zM1139 637h6v5h-6zM1037 727h42v5h-42zM1031 732h54v5h-54zM1025 737h12v5h-12zM1079 737h12v5h-12zM935 742h30v5h-30zM1019 742h12v5h-12zM1085 742h6v5h-6zM1151 742h84v5h-84zM935 747h30v5h-30zM1013 747h12v5h-12zM1091 747h6v5h-6zM1151 747h12v5h-12zM935 752h36v5h-36zM1013 752h6v5h-6zM1097 752h6v5h-6zM965 757h6v5h-6zM1013 757h6v5h-6zM1103 757h6v5h-6zM1145 757h6v5h-6zM965 762h12v5h-12zM1013 762h6v5h-6zM1109 762h6v5h-6zM1145 762h6v5h-6zM971 767h12v5h-12zM1115 767h12v5h-12zM1145 767h6v5h-6zM971 772h12v5h-12zM1121 772h6v5h-6zM1145 772h6v5h-6zM977 777h6v5h-6zM1145 777h6v5h-6zM977 782h6v5h-6zM1145 782h6v5h-6zM977 787h12v5h-12zM1145 787h6v5h-6zM983 792h6v5h-6zM1127 792h6v5h-6zM1145 792h6v5h-6zM983 797h6v5h-6zM1127 797h6v5h-6zM983 802h6v5h-6zM1127 802h6v5h-6zM983 807h6v5h-6zM1127 807h6v5h-6zM983 812h6v5h-6zM1127 812h6v5h-6zM983 817h6v5h-6zM1127 817h6v5h-6zM983 822h6v5h-6zM1127 822h6v5h-6zM983 827h6v5h-6zM1127 827h6v5h-6z"/>
<path fill="#269bf0" d="M1157 572h6v5h-6zM1163 582h6v5h-6zM1169 587h6v5h-6zM1121 592h6v5h-6zM1181 592h54v5h-54zM935 597h18v5h-18zM935 602h30v5h-30zM935 607h36v5h-36zM935 612h48v5h-48zM1037 612h6v5h-6zM971 617h12v5h-12zM1025 617h24v5h-24zM1121 617h6v5h-6zM977 622h12v5h-12zM1013 622h24v5h-24zM1043 622h12v5h-12zM1085 622h6v5h-6zM1121 622h6v5h-6zM983 627h30v5h-30zM1055 627h36v5h-36zM1121 627h6v5h-6zM989 632h18v5h-18zM1091 632h6v5h-6zM1121 632h6v5h-6zM1091 637h6v5h-6zM1091 642h6v5h-6zM1121 652h6v5h-6zM1097 657h6v5h-6zM1121 657h6v5h-6zM1097 662h6v5h-6zM1121 662h6v5h-6zM1121 667h6v5h-6zM1103 682h6v5h-6zM1103 687h6v5h-6zM1109 697h6v5h-6zM1109 702h12v5h-12z"/>
<path fill="#23a0ed" d="M935 577h12v5h-12zM935 582h24v5h-24zM935 587h24v5h-24zM1121 587h6v5h-6zM1175 587h60v5h-60zM935 592h30v5h-30zM953 597h18v5h-18zM965 602h12v5h-12zM971 607h12v5h-12zM1031 607h12v5h-12zM983 612h6v5h-6zM1013 612h24v5h-24zM1043 612h6v5h-6zM1085 612h6v5h-6zM983 617h12v5h-12zM1007 617h18v5h-18zM1049 617h18v5h-18zM1073 617h24v5h-24zM989 622h24v5h-24zM1055 622h30v5h-30zM1091 622h6v5h-6zM1091 627h6v5h-6zM1121 637h6v5h-6zM1121 642h6v5h-6zM1097 647h6v5h-6zM1121 647h6v5h-6zM1097 652h6v5h-6zM1103 672h6v5h-6zM1103 677h6v5h-6zM1109 692h12v5h-12zM1115 697h6v5h-6z"/>
<path fill="#5460f5" d="M1133 577h6v5h-6zM1139 582h6v5h-6zM1043 752h36v5h-36zM1037 757h18v5h-18zM1079 757h12v5h-12zM1031 762h6v5h-6zM1085 762h12v5h-12zM1025 767h12v5h-12zM1097 767h6v5h-6zM1157 767h78v5h-78zM1025 772h6v5h-6zM1103 772h6v5h-6zM1157 772h78v5h-78zM1019 777h6v5h-6zM1109 777h6v5h-6zM1151 777h6v5h-6zM1019 782h6v5h-6zM1115 782h6v5h-6zM1151 782h6v5h-6zM935 792h30v5h-30zM1121 792h6v5h-6zM935 797h30v5h-30zM1121 797h6v5h-6zM935 802h36v5h-36zM1121 802h6v5h-6zM935 807h36v5h-36zM1121 807h6v5h-6zM935 812h36v5h-36zM1121 812h6v5h-6zM965 817h12v5h-12zM1121 817h6v5h-6zM965 822h12v5h-12zM1121 822h6v5h-6zM965 827h12v5h-12zM1121 827h6v5h-6z"/>
<path fill="#585cf5" d="M1139 577h6v5h-6zM1055 757h24v5h-24zM1037 762h48v5h-48zM1037 767h6v5h-6zM1085 767h12v5h-12zM1031 772h6v5h-6zM1097 772h6v5h-6zM1025 777h6v5h-6zM1103 777h6v5h-6zM1157 777h78v5h-78zM1025 782h6v5h-6zM1157 782h6v5h-6zM1019 787h6v5h-6zM1115 787h6v5h-6zM1151 787h6v5h-6zM1019 792h6v5h-6zM1151 792h6v5h-6zM1019 797h6v5h-6zM1151 797h6v5h-6zM1019 802h6v5h-6zM1151 802h6v5h-6zM935 817h30v5h-30zM935 822h30v5h-30zM935 827h30v5h-30z"/>
<path fill="#3189f4" d="M1157 587h6v5h-6zM1163 597h6v5h-6zM1163 602h6v5h-6zM1163 607h6v5h-6zM1169 612h6v5h-6zM1169 617h6v5h-6zM1169 622h66v5h-66zM1169 627h66v5h-66zM1181 632h54v5h-54zM1013 652h24v5h-24zM1007 657h72v5h-72zM935 662h30v5h-30zM1001 662h18v5h-18zM1031 662h54v5h-54zM935 667h36v5h-36zM1001 667h6v5h-6zM1079 667h12v5h-12zM935 672h72v5h-72zM1085 672h6v5h-6zM965 677h36v5h-36zM1085 677h6v5h-6zM1091 682h6v5h-6zM1091 687h6v5h-6zM1097 702h6v5h-6zM1097 707h6v5h-6zM1103 717h6v5h-6zM1121 717h6v5h-6zM1103 722h6v5h-6zM1121 722h6v5h-6zM1109 732h12v5h-12zM1115 737h6v5h-6z"/>
<path fill="#4471f5" d="M1151 592h6v5h-6zM1151 602h6v5h-6zM1151 607h6v5h-6zM1151 612h6v5h-6zM1151 617h6v5h-6zM1133 622h6v5h-6zM1151 622h6v5h-6zM1133 627h6v5h-6zM1133 632h6v5h-6zM1145 632h6v5h-6zM1133 637h6v5h-6zM1145 637h6v5h-6zM1139 642h12v5h-12zM1139 647h12v5h-12zM1139 652h6v5h-6zM1139 657h6v5h-6zM1139 662h6v5h-6zM1139 667h6v5h-6zM1031 712h48v5h-48zM1019 717h66v5h-66zM1013 722h72v5h-72zM1145 722h90v5h-90zM935 727h24v5h-24zM1013 727h24v5h-24zM1079 727h12v5h-12zM1145 727h90v5h-90zM935 732h30v5h-30zM1013 732h18v5h-18zM1085 732h6v5h-6zM1145 732h90v5h-90zM935 737h36v5h-36zM1013 737h12v5h-12zM1091 737h6v5h-6zM1145 737h90v5h-90zM965 742h12v5h-12zM1013 742h6v5h-6zM1091 742h6v5h-6zM1145 742h6v5h-6zM965 747h18v5h-18zM1097 747h6v5h-6zM1145 747h6v5h-6zM971 752h12v5h-12zM1103 752h6v5h-6zM1145 752h6v5h-6zM971 757h18v5h-18zM1109 757h6v5h-6zM977 762h12v5h-12zM1115 762h12v5h-12zM983 767h6v5h-6zM983 772h6v5h-6zM1127 772h6v5h-6zM983 777h6v5h-6zM1127 777h6v5h-6zM983 782h6v5h-6zM1127 782h6v5h-6zM1127 787h6v5h-6z"/>
<path fill="#3484f5" d="M1163 612h6v5h-6zM1163 617h6v5h-6zM1163 622h6v5h-6zM1163 627h6v5h-6zM1127 632h6v5h-6zM1163 632h18v5h-18zM1127 637h6v5h-6zM1163 637h72v5h-72zM1127 642h6v5h-6zM1169 642h66v5h-66zM1127 647h6v5h-6zM1127 652h6v5h-6zM1127 657h6v5h-6zM1019 662h12v5h-12zM1127 662h6v5h-6zM1007 667h72v5h-72zM1127 667h6v5h-6zM1007 672h12v5h-12zM1031 672h54v5h-54zM1127 672h6v5h-6zM935 677h30v5h-30zM1001 677h6v5h-6zM1073 677h12v5h-12zM1127 677h6v5h-6zM935 682h72v5h-72zM1085 682h6v5h-6zM1127 682h6v5h-6zM935 687h66v5h-66zM1085 687h6v5h-6zM1127 687h6v5h-6zM959 692h42v5h-42zM1091 692h6v5h-6zM1127 692h6v5h-6zM1091 697h6v5h-6zM1127 697h6v5h-6zM1091 702h6v5h-6zM1127 702h6v5h-6zM1097 712h6v5h-6zM1097 717h6v5h-6zM1103 727h6v5h-6zM1121 727h6v5h-6zM1121 732h6v5h-6zM1109 737h6v5h-6zM1115 742h6v5h-6z"/>
<path fill="#5c58f5" d="M1043 767h42v5h-42zM1037 772h18v5h-18zM1079 772h18v5h-18zM1031 777h12v5h-12zM1091 777h12v5h-12zM1031 782h6v5h-6zM1103 782h12v5h-12zM1163 782h72v5h-72zM1025 787h6v5h-6zM1157 787h78v5h-78zM1025 792h6v5h-6zM1115 792h6v5h-6zM1157 792h78v5h-78zM1025 797h6v5h-6zM1115 797h6v5h-6zM1157 797h6v5h-6zM1115 802h6v5h-6zM1157 802h6v5h-6zM1019 807h6v5h-6zM1115 807h6v5h-6zM1151 807h6v5h-6zM1019 812h6v5h-6zM1115 812h6v5h-6zM1151 812h6v5h-6zM1019 817h6v5h-6zM1151 817h6v5h-6zM1019 822h6v5h-6zM1151 822h6v5h-6zM1019 827h6v5h-6zM1151 827h6v5h-6z"/>
<path fill="#6054f4" d="M1055 772h24v5h-24zM1043 777h24v5h-24zM1073 777h18v5h-18zM1037 782h12v5h-12zM1091 782h12v5h-12zM1031 787h12v5h-12zM1103 787h12v5h-12zM1031 792h6v5h-6zM1109 792h6v5h-6zM1031 797h6v5h-6zM1109 797h6v5h-6zM1163 797h72v5h-72zM1025 802h12v5h-12zM1109 802h6v5h-6zM1163 802h72v5h-72zM1025 807h6v5h-6zM1157 807h78v5h-78zM1025 812h6v5h-6zM1157 812h78v5h-78zM1025 817h6v5h-6zM1115 817h6v5h-6zM1157 817h78v5h-78zM1025 822h6v5h-6zM1115 822h6v5h-6zM1157 822h6v5h-6zM1025 827h6v5h-6zM1115 827h6v5h-6zM1157 827h6v5h-6z"/>
<path fill="#6450f3" d="M1067 777h6v5h-6zM1049 782h42v5h-42zM1043 787h12v5h-12zM1085 787h18v5h-18zM1037 792h12v5h-12zM1085 792h24v5h-24zM1037 797h12v5h-12zM1091 797h18v5h-18zM1037 802h6v5h-6zM1097 802h12v5h-12zM1031 807h12v5h-12zM1103 807h12v5h-12zM1031 812h6v5h-6zM1109 812h6v5h-6zM1031 817h6v5h-6zM1109 817h6v5h-6zM1031 822h6v5h-6zM1109 822h6v5h-6zM1163 822h72v5h-72zM1031 827h6v5h-6zM1109 827h6v5h-6zM1163 827h72v5h-72z"/>
<path fill="#684cf2" d="M1055 787h30v5h-30zM1049 792h36v5h-36zM1049 797h42v5h-42zM1043 802h54v5h-54zM1043 807h60v5h-60zM1037 812h72v5h-72zM1037 817h72v5h-72zM1037 822h72v5h-72zM1037 827h72v5h-72z"/></g></g>
<path fill="#2a1a1a" fill-opacity="0.75" d="M121.9 97.4h1.6v1.6h-1.6zM121.9 121.0h1.6v1.6h-1.6zM121.9 143.1h1.6v1.6h-1.6zM121.9 166.9h1.6v1.6h-1.6zM121.9 247.2h1.6v1.6h-1.6zM121.9 326.7h1.6v1.6h-1.6zM121.9 405.7h1.6v1.6h-1.6zM143.9 97.4h1.6v1.6h-1.6zM143.9 121.0h1.6v1.6h-1.6zM143.9 143.1h1.6v1.6h-1.6zM143.9 166.9h1.6v1.6h-1.6zM143.9 247.2h1.6v1.6h-1.6zM143.9 326.7h1.6v1.6h-1.6zM143.9 405.7h1.6v1.6h-1.6zM165.9 97.4h1.6v1.6h-1.6zM165.9 121.0h1.6v1.6h-1.6zM165.9 143.1h1.6v1.6h-1.6zM165.9 166.9h1.6v1.6h-1.6zM165.9 247.2h1.6v1.6h-1.6zM165.9 326.7h1.6v1.6h-1.6zM165.9 405.7h1.6v1.6h-1.6zM188.0 97.4h1.6v1.6h-1.6zM188.0 121.0h1.6v1.6h-1.6zM188.0 143.1h1.6v1.6h-1.6zM188.0 166.9h1.6v1.6h-1.6zM188.0 247.2h1.6v1.6h-1.6zM188.0 326.7h1.6v1.6h-1.6zM188.0 405.7h1.6v1.6h-1.6zM210.0 97.4h1.6v1.6h-1.6zM210.0 121.0h1.6v1.6h-1.6zM210.0 143.1h1.6v1.6h-1.6zM210.0 166.9h1.6v1.6h-1.6zM210.0 247.2h1.6v1.6h-1.6zM210.0 326.7h1.6v1.6h-1.6zM210.0 405.7h1.6v1.6h-1.6zM232.0 97.4h1.6v1.6h-1.6zM232.0 121.0h1.6v1.6h-1.6zM232.0 143.1h1.6v1.6h-1.6zM232.0 166.9h1.6v1.6h-1.6zM232.0 247.2h1.6v1.6h-1.6zM232.0 326.7h1.6v1.6h-1.6zM232.0 405.7h1.6v1.6h-1.6zM254.0 97.4h1.6v1.6h-1.6zM254.0 121.0h1.6v1.6h-1.6zM254.0 143.1h1.6v1.6h-1.6zM254.0 166.9h1.6v1.6h-1.6zM254.0 247.2h1.6v1.6h-1.6zM254.0 326.7h1.6v1.6h-1.6zM254.0 405.7h1.6v1.6h-1.6zM276.0 97.4h1.6v1.6h-1.6zM276.0 121.0h1.6v1.6h-1.6zM276.0 143.1h1.6v1.6h-1.6zM276.0 166.9h1.6v1.6h-1.6zM276.0 247.2h1.6v1.6h-1.6zM276.0 326.7h1.6v1.6h-1.6zM276.0 405.7h1.6v1.6h-1.6zM298.1 97.4h1.6v1.6h-1.6zM298.1 121.0h1.6v1.6h-1.6zM298.1 143.1h1.6v1.6h-1.6zM298.1 166.9h1.6v1.6h-1.6zM298.1 247.2h1.6v1.6h-1.6zM298.1 326.7h1.6v1.6h-1.6zM298.1 405.7h1.6v1.6h-1.6zM320.1 97.4h1.6v1.6h-1.6zM320.1 121.0h1.6v1.6h-1.6zM320.1 143.1h1.6v1.6h-1.6zM320.1 166.9h1.6v1.6h-1.6zM320.1 247.2h1.6v1.6h-1.6zM320.1 326.7h1.6v1.6h-1.6zM320.1 405.7h1.6v1.6h-1.6zM342.1 97.4h1.6v1.6h-1.6zM342.1 121.0h1.6v1.6h-1.6zM342.1 143.1h1.6v1.6h-1.6zM342.1 166.9h1.6v1.6h-1.6zM342.1 247.2h1.6v1.6h-1.6zM342.1 326.7h1.6v1.6h-1.6zM342.1 405.7h1.6v1.6h-1.6zM364.1 97.4h1.6v1.6h-1.6zM364.1 121.0h1.6v1.6h-1.6zM364.1 143.1h1.6v1.6h-1.6zM364.1 166.9h1.6v1.6h-1.6zM364.1 247.2h1.6v1.6h-1.6zM364.1 326.7h1.6v1.6h-1.6zM364.1 405.7h1.6v1.6h-1.6zM386.1 97.4h1.6v1.6h-1.6zM386.1 121.0h1.6v1.6h-1.6zM386.1 143.1h1.6v1.6h-1.6zM386.1 166.9h1.6v1.6h-1.6zM386.1 247.2h1.6v1.6h-1.6zM386.1 326.7h1.6v1.6h-1.6zM386.1 405.7h1.6v1.6h-1.6zM408.2 97.4h1.6v1.6h-1.6zM408.2 121.0h1.6v1.6h-1.6zM408.2 143.1h1.6v1.6h-1.6zM408.2 166.9h1.6v1.6h-1.6zM408.2 247.2h1.6v1.6h-1.6zM408.2 326.7h1.6v1.6h-1.6zM408.2 405.7h1.6v1.6h-1.6zM430.2 97.4h1.6v1.6h-1.6zM430.2 121.0h1.6v1.6h-1.6zM430.2 143.1h1.6v1.6h-1.6zM430.2 166.9h1.6v1.6h-1.6zM430.2 247.2h1.6v1.6h-1.6zM430.2 326.7h1.6v1.6h-1.6zM430.2 405.7h1.6v1.6h-1.6zM452.2 97.4h1.6v1.6h-1.6zM452.2 121.0h1.6v1.6h-1.6zM452.2 143.1h1.6v1.6h-1.6zM452.2 166.9h1.6v1.6h-1.6zM452.2 247.2h1.6v1.6h-1.6zM452.2 326.7h1.6v1.6h-1.6zM452.2 405.7h1.6v1.6h-1.6zM474.2 97.4h1.6v1.6h-1.6zM474.2 121.0h1.6v1.6h-1.6zM474.2 143.1h1.6v1.6h-1.6zM474.2 166.9h1.6v1.6h-1.6zM474.2 247.2h1.6v1.6h-1.6zM474.2 326.7h1.6v1.6h-1.6zM474.2 405.7h1.6v1.6h-1.6zM496.2 97.4h1.6v1.6h-1.6zM496.2 121.0h1.6v1.6h-1.6zM496.2 143.1h1.6v1.6h-1.6zM496.2 166.9h1.6v1.6h-1.6zM496.2 247.2h1.6v1.6h-1.6zM496.2 326.7h1.6v1.6h-1.6zM496.2 405.7h1.6v1.6h-1.6zM518.3 97.4h1.6v1.6h-1.6zM518.3 121.0h1.6v1.6h-1.6zM518.3 143.1h1.6v1.6h-1.6zM518.3 166.9h1.6v1.6h-1.6zM518.3 247.2h1.6v1.6h-1.6zM518.3 326.7h1.6v1.6h-1.6zM518.3 405.7h1.6v1.6h-1.6zM540.3 97.4h1.6v1.6h-1.6zM540.3 121.0h1.6v1.6h-1.6zM540.3 143.1h1.6v1.6h-1.6zM540.3 166.9h1.6v1.6h-1.6zM540.3 247.2h1.6v1.6h-1.6zM540.3 326.7h1.6v1.6h-1.6zM540.3 405.7h1.6v1.6h-1.6zM562.3 97.4h1.6v1.6h-1.6zM562.3 121.0h1.6v1.6h-1.6zM562.3 143.1h1.6v1.6h-1.6zM562.3 166.9h1.6v1.6h-1.6zM562.3 247.2h1.6v1.6h-1.6zM562.3 326.7h1.6v1.6h-1.6zM562.3 405.7h1.6v1.6h-1.6zM584.3 97.4h1.6v1.6h-1.6zM584.3 121.0h1.6v1.6h-1.6zM584.3 143.1h1.6v1.6h-1.6zM584.3 166.9h1.6v1.6h-1.6zM584.3 247.2h1.6v1.6h-1.6zM584.3 326.7h1.6v1.6h-1.6zM584.3 405.7h1.6v1.6h-1.6zM606.3 97.4h1.6v1.6h-1.6zM606.3 121.0h1.6v1.6h-1.6zM606.3 143.1h1.6v1.6h-1.6zM606.3 166.9h1.6v1.6h-1.6zM606.3 247.2h1.6v1.6h-1.6zM606.3 326.7h1.6v1.6h-1.6zM606.3 405.7h1.6v1.6h-1.6zM628.4 97.4h1.6v1.6h-1.6zM628.4 121.0h1.6v1.6h-1.6zM628.4 143.1h1.6v1.6h-1.6zM628.4 166.9h1.6v1.6h-1.6zM628.4 247.2h1.6v1.6h-1.6zM628.4 326.7h1.6v1.6h-1.6zM628.4 405.7h1.6v1.6h-1.6zM650.4 97.4h1.6v1.6h-1.6zM650.4 121.0h1.6v1.6h-1.6zM650.4 143.1h1.6v1.6h-1.6zM650.4 166.9h1.6v1.6h-1.6zM650.4 247.2h1.6v1.6h-1.6zM650.4 326.7h1.6v1.6h-1.6zM650.4 405.7h1.6v1.6h-1.6zM672.4 97.4h1.6v1.6h-1.6zM672.4 121.0h1.6v1.6h-1.6zM672.4 143.1h1.6v1.6h-1.6zM672.4 166.9h1.6v1.6h-1.6zM672.4 247.2h1.6v1.6h-1.6zM672.4 326.7h1.6v1.6h-1.6zM672.4 405.7h1.6v1.6h-1.6zM694.4 97.4h1.6v1.6h-1.6zM694.4 121.0h1.6v1.6h-1.6zM694.4 143.1h1.6v1.6h-1.6zM694.4 166.9h1.6v1.6h-1.6zM694.4 247.2h1.6v1.6h-1.6zM694.4 326.7h1.6v1.6h-1.6zM694.4 405.7h1.6v1.6h-1.6zM716.4 97.4h1.6v1.6h-1.6zM716.4 121.0h1.6v1.6h-1.6zM716.4 143.1h1.6v1.6h-1.6zM716.4 166.9h1.6v1.6h-1.6zM716.4 247.2h1.6v1.6h-1.6zM716.4 326.7h1.6v1.6h-1.6zM716.4 405.7h1.6v1.6h-1.6zM738.5 97.4h1.6v1.6h-1.6zM738.5 121.0h1.6v1.6h-1.6zM738.5 143.1h1.6v1.6h-1.6zM738.5 166.9h1.6v1.6h-1.6zM738.5 247.2h1.6v1.6h-1.6zM738.5 326.7h1.6v1.6h-1.6zM738.5 405.7h1.6v1.6h-1.6zM760.5 97.4h1.6v1.6h-1.6zM760.5 121.0h1.6v1.6h-1.6zM760.5 143.1h1.6v1.6h-1.6zM760.5 166.9h1.6v1.6h-1.6zM760.5 247.2h1.6v1.6h-1.6zM760.5 326.7h1.6v1.6h-1.6zM760.5 405.7h1.6v1.6h-1.6zM782.5 97.4h1.6v1.6h-1.6zM782.5 121.0h1.6v1.6h-1.6zM782.5 143.1h1.6v1.6h-1.6zM782.5 166.9h1.6v1.6h-1.6zM782.5 247.2h1.6v1.6h-1.6zM782.5 326.7h1.6v1.6h-1.6zM782.5 405.7h1.6v1.6h-1.6zM804.5 97.4h1.6v1.6h-1.6zM804.5 121.0h1.6v1.6h-1.6zM804.5 143.1h1.6v1.6h-1.6zM804.5 166.9h1.6v1.6h-1.6zM804.5 247.2h1.6v1.6h-1.6zM804.5 326.7h1.6v1.6h-1.6zM804.5 405.7h1.6v1.6h-1.6zM826.5 97.4h1.6v1.6h-1.6zM826.5 121.0h1.6v1.6h-1.6zM826.5 143.1h1.6v1.6h-1.6zM826.5 166.9h1.6v1.6h-1.6zM826.5 247.2h1.6v1.6h-1.6zM826.5 326.7h1.6v1.6h-1.6zM826.5 405.7h1.6v1.6h-1.6zM848.6 97.4h1.6v1.6h-1.6zM848.6 121.0h1.6v1.6h-1.6zM848.6 143.1h1.6v1.6h-1.6zM848.6 166.9h1.6v1.6h-1.6zM848.6 247.2h1.6v1.6h-1.6zM848.6 326.7h1.6v1.6h-1.6zM848.6 405.7h1.6v1.6h-1.6zM870.6 97.4h1.6v1.6h-1.6zM870.6 121.0h1.6v1.6h-1.6zM870.6 143.1h1.6v1.6h-1.6zM870.6 166.9h1.6v1.6h-1.6zM870.6 247.2h1.6v1.6h-1.6zM870.6 326.7h1.6v1.6h-1.6zM870.6 405.7h1.6v1.6h-1.6zM892.6 97.4h1.6v1.6h-1.6zM892.6 121.0h1.6v1.6h-1.6zM892.6 143.1h1.6v1.6h-1.6zM892.6 166.9h1.6v1.6h-1.6zM892.6 247.2h1.6v1.6h-1.6zM892.6 326.7h1.6v1.6h-1.6zM892.6 405.7h1.6v1.6h-1.6z"/>
<path fill="#2a1a1a" fill-opacity="0.75" d="M960.0 97.4h1.6v1.6h-1.6zM960.0 121.0h1.6v1.6h-1.6zM960.0 143.1h1.6v1.6h-1.6zM960.0 166.9h1.6v1.6h-1.6zM960.0 247.2h1.6v1.6h-1.6zM960.0 326.7h1.6v1.6h-1.6zM960.0 405.7h1.6v1.6h-1.6zM982.4 97.4h1.6v1.6h-1.6zM982.4 121.0h1.6v1.6h-1.6zM982.4 143.1h1.6v1.6h-1.6zM982.4 166.9h1.6v1.6h-1.6zM982.4 247.2h1.6v1.6h-1.6zM982.4 326.7h1.6v1.6h-1.6zM982.4 405.7h1.6v1.6h-1.6zM1004.8 97.4h1.6v1.6h-1.6zM1004.8 121.0h1.6v1.6h-1.6zM1004.8 143.1h1.6v1.6h-1.6zM1004.8 166.9h1.6v1.6h-1.6zM1004.8 247.2h1.6v1.6h-1.6zM1004.8 326.7h1.6v1.6h-1.6zM1004.8 405.7h1.6v1.6h-1.6zM1027.2 97.4h1.6v1.6h-1.6zM1027.2 121.0h1.6v1.6h-1.6zM1027.2 143.1h1.6v1.6h-1.6zM1027.2 166.9h1.6v1.6h-1.6zM1027.2 247.2h1.6v1.6h-1.6zM1027.2 326.7h1.6v1.6h-1.6zM1027.2 405.7h1.6v1.6h-1.6zM1049.6 97.4h1.6v1.6h-1.6zM1049.6 121.0h1.6v1.6h-1.6zM1049.6 143.1h1.6v1.6h-1.6zM1049.6 166.9h1.6v1.6h-1.6zM1049.6 247.2h1.6v1.6h-1.6zM1049.6 326.7h1.6v1.6h-1.6zM1049.6 405.7h1.6v1.6h-1.6zM1072.0 97.4h1.6v1.6h-1.6zM1072.0 121.0h1.6v1.6h-1.6zM1072.0 143.1h1.6v1.6h-1.6zM1072.0 166.9h1.6v1.6h-1.6zM1072.0 247.2h1.6v1.6h-1.6zM1072.0 326.7h1.6v1.6h-1.6zM1072.0 405.7h1.6v1.6h-1.6zM1094.4 97.4h1.6v1.6h-1.6zM1094.4 121.0h1.6v1.6h-1.6zM1094.4 143.1h1.6v1.6h-1.6zM1094.4 166.9h1.6v1.6h-1.6zM1094.4 247.2h1.6v1.6h-1.6zM1094.4 326.7h1.6v1.6h-1.6zM1094.4 405.7h1.6v1.6h-1.6zM1116.8 97.4h1.6v1.6h-1.6zM1116.8 121.0h1.6v1.6h-1.6zM1116.8 143.1h1.6v1.6h-1.6zM1116.8 166.9h1.6v1.6h-1.6zM1116.8 247.2h1.6v1.6h-1.6zM1116.8 326.7h1.6v1.6h-1.6zM1116.8 405.7h1.6v1.6h-1.6zM1139.2 97.4h1.6v1.6h-1.6zM1139.2 121.0h1.6v1.6h-1.6zM1139.2 143.1h1.6v1.6h-1.6zM1139.2 166.9h1.6v1.6h-1.6zM1139.2 247.2h1.6v1.6h-1.6zM1139.2 326.7h1.6v1.6h-1.6zM1139.2 405.7h1.6v1.6h-1.6zM1161.6 97.4h1.6v1.6h-1.6zM1161.6 121.0h1.6v1.6h-1.6zM1161.6 143.1h1.6v1.6h-1.6zM1161.6 166.9h1.6v1.6h-1.6zM1161.6 247.2h1.6v1.6h-1.6zM1161.6 326.7h1.6v1.6h-1.6zM1161.6 405.7h1.6v1.6h-1.6zM1184.0 97.4h1.6v1.6h-1.6zM1184.0 121.0h1.6v1.6h-1.6zM1184.0 143.1h1.6v1.6h-1.6zM1184.0 166.9h1.6v1.6h-1.6zM1184.0 247.2h1.6v1.6h-1.6zM1184.0 326.7h1.6v1.6h-1.6zM1184.0 405.7h1.6v1.6h-1.6zM1206.4 97.4h1.6v1.6h-1.6zM1206.4 121.0h1.6v1.6h-1.6zM1206.4 143.1h1.6v1.6h-1.6zM1206.4 166.9h1.6v1.6h-1.6zM1206.4 247.2h1.6v1.6h-1.6zM1206.4 326.7h1.6v1.6h-1.6zM1206.4 405.7h1.6v1.6h-1.6z"/>
<path fill="#2a1a1a" fill-opacity="0.75" d="M122.4 492.6h1.6v1.6h-1.6zM122.4 516.0h1.6v1.6h-1.6zM122.4 533.6h1.6v1.6h-1.6zM122.4 561.8h1.6v1.6h-1.6zM122.4 644.2h1.6v1.6h-1.6zM122.4 723.9h1.6v1.6h-1.6zM122.4 803.5h1.6v1.6h-1.6zM144.5 492.6h1.6v1.6h-1.6zM144.5 516.0h1.6v1.6h-1.6zM144.5 533.6h1.6v1.6h-1.6zM144.5 561.8h1.6v1.6h-1.6zM144.5 644.2h1.6v1.6h-1.6zM144.5 723.9h1.6v1.6h-1.6zM144.5 803.5h1.6v1.6h-1.6zM166.6 492.6h1.6v1.6h-1.6zM166.6 516.0h1.6v1.6h-1.6zM166.6 533.6h1.6v1.6h-1.6zM166.6 561.8h1.6v1.6h-1.6zM166.6 644.2h1.6v1.6h-1.6zM166.6 723.9h1.6v1.6h-1.6zM166.6 803.5h1.6v1.6h-1.6zM188.7 492.6h1.6v1.6h-1.6zM188.7 516.0h1.6v1.6h-1.6zM188.7 533.6h1.6v1.6h-1.6zM188.7 561.8h1.6v1.6h-1.6zM188.7 644.2h1.6v1.6h-1.6zM188.7 723.9h1.6v1.6h-1.6zM188.7 803.5h1.6v1.6h-1.6zM210.8 492.6h1.6v1.6h-1.6zM210.8 516.0h1.6v1.6h-1.6zM210.8 533.6h1.6v1.6h-1.6zM210.8 561.8h1.6v1.6h-1.6zM210.8 644.2h1.6v1.6h-1.6zM210.8 723.9h1.6v1.6h-1.6zM210.8 803.5h1.6v1.6h-1.6zM232.9 492.6h1.6v1.6h-1.6zM232.9 516.0h1.6v1.6h-1.6zM232.9 533.6h1.6v1.6h-1.6zM232.9 561.8h1.6v1.6h-1.6zM232.9 644.2h1.6v1.6h-1.6zM232.9 723.9h1.6v1.6h-1.6zM232.9 803.5h1.6v1.6h-1.6zM254.9 492.6h1.6v1.6h-1.6zM254.9 516.0h1.6v1.6h-1.6zM254.9 533.6h1.6v1.6h-1.6zM254.9 561.8h1.6v1.6h-1.6zM254.9 644.2h1.6v1.6h-1.6zM254.9 723.9h1.6v1.6h-1.6zM254.9 803.5h1.6v1.6h-1.6zM277.0 492.6h1.6v1.6h-1.6zM277.0 516.0h1.6v1.6h-1.6zM277.0 533.6h1.6v1.6h-1.6zM277.0 561.8h1.6v1.6h-1.6zM277.0 644.2h1.6v1.6h-1.6zM277.0 723.9h1.6v1.6h-1.6zM277.0 803.5h1.6v1.6h-1.6zM299.1 492.6h1.6v1.6h-1.6zM299.1 516.0h1.6v1.6h-1.6zM299.1 533.6h1.6v1.6h-1.6zM299.1 561.8h1.6v1.6h-1.6zM299.1 644.2h1.6v1.6h-1.6zM299.1 723.9h1.6v1.6h-1.6zM299.1 803.5h1.6v1.6h-1.6zM321.2 492.6h1.6v1.6h-1.6zM321.2 516.0h1.6v1.6h-1.6zM321.2 533.6h1.6v1.6h-1.6zM321.2 561.8h1.6v1.6h-1.6zM321.2 644.2h1.6v1.6h-1.6zM321.2 723.9h1.6v1.6h-1.6zM321.2 803.5h1.6v1.6h-1.6zM343.3 492.6h1.6v1.6h-1.6zM343.3 516.0h1.6v1.6h-1.6zM343.3 533.6h1.6v1.6h-1.6zM343.3 561.8h1.6v1.6h-1.6zM343.3 644.2h1.6v1.6h-1.6zM343.3 723.9h1.6v1.6h-1.6zM343.3 803.5h1.6v1.6h-1.6zM365.4 492.6h1.6v1.6h-1.6zM365.4 516.0h1.6v1.6h-1.6zM365.4 533.6h1.6v1.6h-1.6zM365.4 561.8h1.6v1.6h-1.6zM365.4 644.2h1.6v1.6h-1.6zM365.4 723.9h1.6v1.6h-1.6zM365.4 803.5h1.6v1.6h-1.6zM387.4 492.6h1.6v1.6h-1.6zM387.4 516.0h1.6v1.6h-1.6zM387.4 533.6h1.6v1.6h-1.6zM387.4 561.8h1.6v1.6h-1.6zM387.4 644.2h1.6v1.6h-1.6zM387.4 723.9h1.6v1.6h-1.6zM387.4 803.5h1.6v1.6h-1.6zM409.5 492.6h1.6v1.6h-1.6zM409.5 516.0h1.6v1.6h-1.6zM409.5 533.6h1.6v1.6h-1.6zM409.5 561.8h1.6v1.6h-1.6zM409.5 644.2h1.6v1.6h-1.6zM409.5 723.9h1.6v1.6h-1.6zM409.5 803.5h1.6v1.6h-1.6zM431.6 492.6h1.6v1.6h-1.6zM431.6 516.0h1.6v1.6h-1.6zM431.6 533.6h1.6v1.6h-1.6zM431.6 561.8h1.6v1.6h-1.6zM431.6 644.2h1.6v1.6h-1.6zM431.6 723.9h1.6v1.6h-1.6zM431.6 803.5h1.6v1.6h-1.6zM453.7 492.6h1.6v1.6h-1.6zM453.7 516.0h1.6v1.6h-1.6zM453.7 533.6h1.6v1.6h-1.6zM453.7 561.8h1.6v1.6h-1.6zM453.7 644.2h1.6v1.6h-1.6zM453.7 723.9h1.6v1.6h-1.6zM453.7 803.5h1.6v1.6h-1.6zM475.8 492.6h1.6v1.6h-1.6zM475.8 516.0h1.6v1.6h-1.6zM475.8 533.6h1.6v1.6h-1.6zM475.8 561.8h1.6v1.6h-1.6zM475.8 644.2h1.6v1.6h-1.6zM475.8 723.9h1.6v1.6h-1.6zM475.8 803.5h1.6v1.6h-1.6zM497.9 492.6h1.6v1.6h-1.6zM497.9 516.0h1.6v1.6h-1.6zM497.9 533.6h1.6v1.6h-1.6zM497.9 561.8h1.6v1.6h-1.6zM497.9 644.2h1.6v1.6h-1.6zM497.9 723.9h1.6v1.6h-1.6zM497.9 803.5h1.6v1.6h-1.6zM519.9 492.6h1.6v1.6h-1.6zM519.9 516.0h1.6v1.6h-1.6zM519.9 533.6h1.6v1.6h-1.6zM519.9 561.8h1.6v1.6h-1.6zM519.9 644.2h1.6v1.6h-1.6zM519.9 723.9h1.6v1.6h-1.6zM519.9 803.5h1.6v1.6h-1.6zM542.0 492.6h1.6v1.6h-1.6zM542.0 516.0h1.6v1.6h-1.6zM542.0 533.6h1.6v1.6h-1.6zM542.0 561.8h1.6v1.6h-1.6zM542.0 644.2h1.6v1.6h-1.6zM542.0 723.9h1.6v1.6h-1.6zM542.0 803.5h1.6v1.6h-1.6zM564.1 492.6h1.6v1.6h-1.6zM564.1 516.0h1.6v1.6h-1.6zM564.1 533.6h1.6v1.6h-1.6zM564.1 561.8h1.6v1.6h-1.6zM564.1 644.2h1.6v1.6h-1.6zM564.1 723.9h1.6v1.6h-1.6zM564.1 803.5h1.6v1.6h-1.6zM586.2 492.6h1.6v1.6h-1.6zM586.2 516.0h1.6v1.6h-1.6zM586.2 533.6h1.6v1.6h-1.6zM586.2 561.8h1.6v1.6h-1.6zM586.2 644.2h1.6v1.6h-1.6zM586.2 723.9h1.6v1.6h-1.6zM586.2 803.5h1.6v1.6h-1.6zM608.3 492.6h1.6v1.6h-1.6zM608.3 516.0h1.6v1.6h-1.6zM608.3 533.6h1.6v1.6h-1.6zM608.3 561.8h1.6v1.6h-1.6zM608.3 644.2h1.6v1.6h-1.6zM608.3 723.9h1.6v1.6h-1.6zM608.3 803.5h1.6v1.6h-1.6zM630.4 492.6h1.6v1.6h-1.6zM630.4 516.0h1.6v1.6h-1.6zM630.4 533.6h1.6v1.6h-1.6zM630.4 561.8h1.6v1.6h-1.6zM630.4 644.2h1.6v1.6h-1.6zM630.4 723.9h1.6v1.6h-1.6zM630.4 803.5h1.6v1.6h-1.6zM652.4 492.6h1.6v1.6h-1.6zM652.4 516.0h1.6v1.6h-1.6zM652.4 533.6h1.6v1.6h-1.6zM652.4 561.8h1.6v1.6h-1.6zM652.4 644.2h1.6v1.6h-1.6zM652.4 723.9h1.6v1.6h-1.6zM652.4 803.5h1.6v1.6h-1.6zM674.5 492.6h1.6v1.6h-1.6zM674.5 516.0h1.6v1.6h-1.6zM674.5 533.6h1.6v1.6h-1.6zM674.5 561.8h1.6v1.6h-1.6zM674.5 644.2h1.6v1.6h-1.6zM674.5 723.9h1.6v1.6h-1.6zM674.5 803.5h1.6v1.6h-1.6zM696.6 492.6h1.6v1.6h-1.6zM696.6 516.0h1.6v1.6h-1.6zM696.6 533.6h1.6v1.6h-1.6zM696.6 561.8h1.6v1.6h-1.6zM696.6 644.2h1.6v1.6h-1.6zM696.6 723.9h1.6v1.6h-1.6zM696.6 803.5h1.6v1.6h-1.6zM718.7 492.6h1.6v1.6h-1.6zM718.7 516.0h1.6v1.6h-1.6zM718.7 533.6h1.6v1.6h-1.6zM718.7 561.8h1.6v1.6h-1.6zM718.7 644.2h1.6v1.6h-1.6zM718.7 723.9h1.6v1.6h-1.6zM718.7 803.5h1.6v1.6h-1.6zM740.8 492.6h1.6v1.6h-1.6zM740.8 516.0h1.6v1.6h-1.6zM740.8 533.6h1.6v1.6h-1.6zM740.8 561.8h1.6v1.6h-1.6zM740.8 644.2h1.6v1.6h-1.6zM740.8 723.9h1.6v1.6h-1.6zM740.8 803.5h1.6v1.6h-1.6zM762.9 492.6h1.6v1.6h-1.6zM762.9 516.0h1.6v1.6h-1.6zM762.9 533.6h1.6v1.6h-1.6zM762.9 561.8h1.6v1.6h-1.6zM762.9 644.2h1.6v1.6h-1.6zM762.9 723.9h1.6v1.6h-1.6zM762.9 803.5h1.6v1.6h-1.6zM784.9 492.6h1.6v1.6h-1.6zM784.9 516.0h1.6v1.6h-1.6zM784.9 533.6h1.6v1.6h-1.6zM784.9 561.8h1.6v1.6h-1.6zM784.9 644.2h1.6v1.6h-1.6zM784.9 723.9h1.6v1.6h-1.6zM784.9 803.5h1.6v1.6h-1.6zM807.0 492.6h1.6v1.6h-1.6zM807.0 516.0h1.6v1.6h-1.6zM807.0 533.6h1.6v1.6h-1.6zM807.0 561.8h1.6v1.6h-1.6zM807.0 644.2h1.6v1.6h-1.6zM807.0 723.9h1.6v1.6h-1.6zM807.0 803.5h1.6v1.6h-1.6zM829.1 492.6h1.6v1.6h-1.6zM829.1 516.0h1.6v1.6h-1.6zM829.1 533.6h1.6v1.6h-1.6zM829.1 561.8h1.6v1.6h-1.6zM829.1 644.2h1.6v1.6h-1.6zM829.1 723.9h1.6v1.6h-1.6zM829.1 803.5h1.6v1.6h-1.6zM851.2 492.6h1.6v1.6h-1.6zM851.2 516.0h1.6v1.6h-1.6zM851.2 533.6h1.6v1.6h-1.6zM851.2 561.8h1.6v1.6h-1.6zM851.2 644.2h1.6v1.6h-1.6zM851.2 723.9h1.6v1.6h-1.6zM851.2 803.5h1.6v1.6h-1.6zM873.3 492.6h1.6v1.6h-1.6zM873.3 516.0h1.6v1.6h-1.6zM873.3 533.6h1.6v1.6h-1.6zM873.3 561.8h1.6v1.6h-1.6zM873.3 644.2h1.6v1.6h-1.6zM873.3 723.9h1.6v1.6h-1.6zM873.3 803.5h1.6v1.6h-1.6zM895.4 492.6h1.6v1.6h-1.6zM895.4 516.0h1.6v1.6h-1.6zM895.4 533.6h1.6v1.6h-1.6zM895.4 561.8h1.6v1.6h-1.6zM895.4 644.2h1.6v1.6h-1.6zM895.4 723.9h1.6v1.6h-1.6zM895.4 803.5h1.6v1.6h-1.6z"/>
<path fill="#2a1a1a" fill-opacity="0.75" d="M962.8 492.6h1.6v1.6h-1.6zM962.8 516.0h1.6v1.6h-1.6zM962.8 533.6h1.6v1.6h-1.6zM962.8 561.8h1.6v1.6h-1.6zM962.8 644.2h1.6v1.6h-1.6zM962.8 723.9h1.6v1.6h-1.6zM962.8 803.5h1.6v1.6h-1.6zM985.0 492.6h1.6v1.6h-1.6zM985.0 516.0h1.6v1.6h-1.6zM985.0 533.6h1.6v1.6h-1.6zM985.0 561.8h1.6v1.6h-1.6zM985.0 644.2h1.6v1.6h-1.6zM985.0 723.9h1.6v1.6h-1.6zM985.0 803.5h1.6v1.6h-1.6zM1007.2 492.6h1.6v1.6h-1.6zM1007.2 516.0h1.6v1.6h-1.6zM1007.2 533.6h1.6v1.6h-1.6zM1007.2 561.8h1.6v1.6h-1.6zM1007.2 644.2h1.6v1.6h-1.6zM1007.2 723.9h1.6v1.6h-1.6zM1007.2 803.5h1.6v1.6h-1.6zM1029.3 492.6h1.6v1.6h-1.6zM1029.3 516.0h1.6v1.6h-1.6zM1029.3 533.6h1.6v1.6h-1.6zM1029.3 561.8h1.6v1.6h-1.6zM1029.3 644.2h1.6v1.6h-1.6zM1029.3 723.9h1.6v1.6h-1.6zM1029.3 803.5h1.6v1.6h-1.6zM1051.5 492.6h1.6v1.6h-1.6zM1051.5 516.0h1.6v1.6h-1.6zM1051.5 533.6h1.6v1.6h-1.6zM1051.5 561.8h1.6v1.6h-1.6zM1051.5 644.2h1.6v1.6h-1.6zM1051.5 723.9h1.6v1.6h-1.6zM1051.5 803.5h1.6v1.6h-1.6zM1073.7 492.6h1.6v1.6h-1.6zM1073.7 516.0h1.6v1.6h-1.6zM1073.7 533.6h1.6v1.6h-1.6zM1073.7 561.8h1.6v1.6h-1.6zM1073.7 644.2h1.6v1.6h-1.6zM1073.7 723.9h1.6v1.6h-1.6zM1073.7 803.5h1.6v1.6h-1.6zM1095.8 492.6h1.6v1.6h-1.6zM1095.8 516.0h1.6v1.6h-1.6zM1095.8 533.6h1.6v1.6h-1.6zM1095.8 561.8h1.6v1.6h-1.6zM1095.8 644.2h1.6v1.6h-1.6zM1095.8 723.9h1.6v1.6h-1.6zM1095.8 803.5h1.6v1.6h-1.6zM1118.0 492.6h1.6v1.6h-1.6zM1118.0 516.0h1.6v1.6h-1.6zM1118.0 533.6h1.6v1.6h-1.6zM1118.0 561.8h1.6v1.6h-1.6zM1118.0 644.2h1.6v1.6h-1.6zM1118.0 723.9h1.6v1.6h-1.6zM1118.0 803.5h1.6v1.6h-1.6zM1140.2 492.6h1.6v1.6h-1.6zM1140.2 516.0h1.6v1.6h-1.6zM1140.2 533.6h1.6v1.6h-1.6zM1140.2 561.8h1.6v1.6h-1.6zM1140.2 644.2h1.6v1.6h-1.6zM1140.2 723.9h1.6v1.6h-1.6zM1140.2 803.5h1.6v1.6h-1.6zM1162.3 492.6h1.6v1.6h-1.6zM1162.3 516.0h1.6v1.6h-1.6zM1162.3 533.6h1.6v1.6h-1.6zM1162.3 561.8h1.6v1.6h-1.6zM1162.3 644.2h1.6v1.6h-1.6zM1162.3 723.9h1.6v1.6h-1.6zM1162.3 803.5h1.6v1.6h-1.6zM1184.5 492.6h1.6v1.6h-1.6zM1184.5 516.0h1.6v1.6h-1.6zM1184.5 533.6h1.6v1.6h-1.6zM1184.5 561.8h1.6v1.6h-1.6zM1184.5 644.2h1.6v1.6h-1.6zM1184.5 723.9h1.6v1.6h-1.6zM1184.5 803.5h1.6v1.6h-1.6zM1206.7 492.6h1.6v1.6h-1.6zM1206.7 516.0h1.6v1.6h-1.6zM1206.7 533.6h1.6v1.6h-1.6zM1206.7 561.8h1.6v1.6h-1.6zM1206.7 644.2h1.6v1.6h-1.6zM1206.7 723.9h1.6v1.6h-1.6zM1206.7 803.5h1.6v1.6h-1.6z"/>
<g clip-path="url(#cAL)"><path d="M106.9 158.0L132.3 163.1L150.0 163.6L186.2 147.7L231.6 138.5L244.0 134.3L265.5 134.3L281.7 140.0L292.4 137.7L310.0 129.2L331.6 125.0L343.9 124.6L360.0 128.5L376.2 140.8L391.6 153.1L425.5 169.3L444.0 174.7L465.5 170.8L490.0 163.1L508.0 155.4L522.3 152.9L569.8 152.0L596.0 150.0L632.4 154.6L679.8 161.3L711.7 162.9L762.8 165.6L819.9 170.3L845.9 177.2L875.3 185.4L910.0 190.2" fill="none" stroke="#2a2a2a" stroke-width="3.2" stroke-linejoin="round"/><path d="M105.7 327.6C108.1 329.3 115.3 335.5 120.0 338.0C124.7 340.5 129.7 343.5 134.0 342.8C138.3 342.1 143.4 336.5 146.0 334.0C148.6 331.5 147.5 336.3 149.3 327.6C151.1 318.9 154.1 295.3 156.9 282.0C159.8 268.7 162.3 255.9 166.4 248.0C170.5 240.1 177.1 236.7 181.5 234.8C185.9 232.9 189.4 233.9 192.9 236.7C196.4 239.5 199.9 248.7 202.4 251.8C204.9 255.0 206.3 257.5 208.0 255.6C209.7 253.7 211.7 249.2 212.6 240.4C213.5 231.6 212.2 213.9 213.7 202.5C215.1 191.1 217.5 181.3 221.3 172.2C225.1 163.0 231.8 152.8 236.5 147.6C241.2 142.4 245.4 141.1 249.8 141.1C254.2 141.1 258.3 144.9 263.0 147.6C267.7 150.2 274.7 152.3 278.2 157.0C281.7 161.7 281.7 171.1 283.9 176.0C286.1 180.9 288.4 185.5 291.5 186.6C294.6 187.7 300.6 185.5 302.8 182.8C305.0 180.1 304.7 174.3 304.7 170.3C304.7 166.3 302.3 162.7 302.8 158.9C303.3 155.1 307.0 149.5 307.8 147.6" fill="none" stroke="#111" stroke-width="1.6"/><path d="M344.6 138.0C345.2 139.9 346.8 143.2 348.4 149.5C350.0 155.8 351.8 166.5 354.0 176.0C356.2 185.5 358.8 193.0 361.7 206.3C364.6 219.6 368.3 240.4 371.2 255.6C374.1 270.8 376.7 287.3 378.8 297.3C380.9 307.3 382.2 315.5 383.7 315.5C385.1 315.5 385.8 310.4 387.5 297.3C389.2 284.2 392.3 253.1 394.0 236.7C395.7 220.3 395.5 208.2 397.7 198.7C399.9 189.2 403.1 184.5 407.2 179.8C411.3 175.1 418.6 173.5 422.4 170.3C426.2 167.1 427.5 164.3 430.0 160.8C432.5 157.3 434.0 152.2 437.5 149.5C441.0 146.8 446.7 144.9 450.8 144.9C454.9 144.9 459.7 145.6 462.2 149.5C464.7 153.4 464.4 162.4 466.0 168.4C467.6 174.4 468.9 181.8 471.7 185.5C474.5 189.2 477.3 190.1 483.0 190.4C488.7 190.7 499.5 188.4 505.8 187.4C512.1 186.4 517.2 185.9 521.0 184.3C524.8 182.7 525.3 179.5 528.5 177.9C531.7 176.3 535.5 174.8 540.0 174.5C544.5 174.2 550.2 174.2 555.2 176.0C560.2 177.8 566.5 180.5 570.3 185.5C574.1 190.5 575.6 195.2 578.0 206.0C580.4 216.8 582.6 246.2 584.4 250.0C586.1 253.8 586.7 235.7 588.5 229.0C590.3 222.3 592.3 213.5 595.0 210.0C597.7 206.5 602.3 207.5 604.5 208.2C606.7 208.8 607.3 209.2 608.2 213.9C609.1 218.7 608.8 226.6 610.1 236.7C611.4 246.8 613.3 260.7 615.8 274.6C618.3 288.5 621.8 308.1 625.3 320.0C628.8 331.9 632.6 344.0 636.7 345.9C640.8 347.8 646.5 342.0 650.0 331.4C653.5 320.8 655.7 298.0 657.5 282.2C659.3 266.4 660.0 251.2 660.6 236.7C661.2 222.2 661.1 203.1 661.3 195.0C661.5 186.9 661.9 189.2 662.0 188.0" fill="none" stroke="#111" stroke-width="1.6"/><path d="M684.0 183.6C685.3 185.5 689.2 187.4 691.7 195.0C694.2 202.6 696.7 215.7 699.2 229.0C701.7 242.3 703.9 262.0 706.8 274.6C709.6 287.2 713.1 303.6 716.3 304.9C719.5 306.2 722.9 294.8 725.8 282.2C728.6 269.6 730.8 241.0 733.4 229.0C736.0 217.0 738.4 214.3 741.7 210.1C745.0 205.9 748.9 204.3 753.0 203.7C757.1 203.1 762.2 204.0 766.3 206.3C770.4 208.6 774.2 212.9 777.7 217.7C781.2 222.4 784.0 228.5 787.2 234.8C790.4 241.1 792.9 245.2 796.7 255.6C800.5 266.0 805.9 285.3 810.0 297.3C814.1 309.3 817.8 321.2 821.3 327.7C824.8 334.1 827.6 336.0 830.8 336.0C834.0 336.0 837.1 334.1 840.3 327.7C843.5 321.2 847.0 310.6 849.8 297.3C852.6 284.0 855.1 261.9 857.3 248.0C859.5 234.1 860.5 221.2 863.0 213.9C865.5 206.6 869.3 204.4 872.5 204.4C875.7 204.4 878.8 208.2 882.0 213.9C885.2 219.6 888.3 232.6 891.5 238.6C894.7 244.6 898.0 246.8 901.0 250.0C904.0 253.2 908.2 256.2 909.7 257.5" fill="none" stroke="#111" stroke-width="1.6"/><path d="M171.0 166.0C171.7 166.7 173.3 169.1 175.0 170.0C176.7 170.9 179.0 171.5 181.0 171.5C183.0 171.5 185.7 170.9 187.0 170.0C188.3 169.1 188.7 166.7 189.0 166.0" fill="none" stroke="#111" stroke-width="1.6"/></g>
<g clip-path="url(#cAR)"><path d="M946.0 186.0C948.3 185.6 955.0 184.5 960.0 183.5C965.0 182.5 972.6 181.8 976.2 179.8C979.8 177.8 980.4 176.1 981.7 171.4C983.0 166.7 983.0 156.1 983.9 151.7C984.8 147.3 983.6 147.7 987.2 145.1C990.9 142.5 999.0 138.7 1005.8 136.3C1012.6 133.9 1020.5 132.8 1027.8 130.8C1035.1 128.8 1043.1 124.7 1049.7 124.3C1056.3 123.9 1062.9 127.0 1067.3 128.6C1071.7 130.2 1071.6 130.2 1076.0 134.1C1080.4 137.9 1087.0 147.5 1093.6 151.7C1100.2 155.9 1108.9 157.7 1115.5 159.4C1122.1 161.2 1127.9 162.6 1133.0 162.2C1138.1 161.8 1141.8 161.5 1146.2 157.2C1150.6 152.9 1155.4 141.2 1159.4 136.3C1163.4 131.4 1166.8 129.2 1170.4 127.6C1174.1 126.0 1175.8 126.0 1181.3 126.5C1186.8 127.0 1196.4 129.1 1203.3 130.8C1210.2 132.5 1219.2 135.8 1222.4 136.8" fill="none" stroke="#2a2a2a" stroke-width="3.2" stroke-linejoin="round"/><path d="M945.7 223.4C947.9 226.9 956.2 233.8 959.0 244.2C961.8 254.6 960.5 266.9 962.7 285.9C964.9 304.8 968.7 344.0 972.2 357.9C975.7 371.8 979.5 369.3 983.6 369.3C987.7 369.3 994.0 366.1 996.9 357.9C999.8 349.7 998.5 331.1 1000.7 320.0C1002.9 308.9 1006.6 297.3 1010.1 291.6C1013.6 285.9 1017.1 284.9 1021.5 285.9C1025.9 286.8 1033.2 291.0 1036.7 297.3C1040.2 303.6 1040.4 315.0 1042.3 323.8C1044.2 332.6 1046.1 347.1 1048.0 350.3C1049.9 353.5 1052.1 351.6 1053.7 342.8C1055.3 334.0 1056.6 306.9 1057.5 297.3C1058.4 287.7 1058.8 287.1 1059.0 285.0" fill="none" stroke="#111" stroke-width="1.6"/><path d="M1061.5 259.0C1061.6 257.8 1061.7 258.7 1062.0 251.8C1062.3 244.9 1061.7 228.4 1063.2 217.7C1064.7 206.9 1066.7 195.2 1070.8 187.3C1074.9 179.4 1083.4 173.8 1087.8 170.3C1092.2 166.8 1094.1 166.2 1097.3 166.5C1100.5 166.8 1103.6 169.0 1106.8 172.2C1110.0 175.4 1113.1 184.6 1116.3 185.5C1119.5 186.4 1122.2 181.1 1125.7 177.9C1129.2 174.7 1132.7 168.4 1137.1 166.5C1141.5 164.6 1147.2 164.9 1152.3 166.5C1157.3 168.1 1162.4 172.7 1167.4 176.0C1172.5 179.3 1176.3 184.7 1182.6 186.6C1188.9 188.5 1198.7 187.7 1205.3 187.3C1211.9 186.9 1219.6 184.8 1222.4 184.3" fill="none" stroke="#111" stroke-width="1.6"/></g>
<g clip-path="url(#cBL)"><path d="M107.4 553.8L132.9 558.9L150.6 559.4L186.9 543.4L232.5 534.1L244.9 529.9L266.5 529.9L282.7 535.6L293.4 533.3L311.1 524.7L332.7 520.5L345.1 520.1L361.2 524.0L377.5 536.4L392.9 548.8L426.9 565.2L445.5 570.6L467.0 566.7L491.6 558.9L509.6 551.1L524.0 548.6L571.6 547.7L597.9 545.7L634.4 550.3L681.9 557.1L713.9 558.7L765.2 561.4L822.4 566.2L848.5 573.1L878.0 581.4L912.8 586.2" fill="none" stroke="#2a2a2a" stroke-width="3.2" stroke-linejoin="round"/></g>
<g clip-path="url(#cBR)"><path d="M949.0 582.0C951.3 581.6 957.9 580.5 962.8 579.5C967.8 578.4 975.3 577.8 978.9 575.7C982.4 573.7 983.0 572.0 984.3 567.3C985.6 562.5 985.6 551.8 986.5 547.4C987.4 543.0 986.1 543.3 989.8 540.8C993.4 538.2 1001.5 534.3 1008.2 531.9C1014.9 529.5 1022.7 528.4 1029.9 526.3C1037.2 524.3 1045.1 520.2 1051.6 519.8C1058.1 519.4 1064.7 522.5 1069.0 524.1C1073.4 525.8 1073.3 525.8 1077.6 529.7C1082.0 533.5 1088.5 543.2 1095.0 547.4C1101.6 551.7 1110.2 553.4 1116.7 555.2C1123.2 556.9 1129.0 558.4 1134.0 558.0C1139.1 557.6 1142.7 557.3 1147.1 553.0C1151.4 548.6 1156.2 536.9 1160.2 531.9C1164.1 526.9 1167.4 524.8 1171.0 523.1C1174.7 521.5 1176.4 521.5 1181.8 522.0C1187.3 522.5 1196.8 524.6 1203.6 526.3C1210.4 528.1 1219.3 531.4 1222.5 532.4" fill="none" stroke="#2a2a2a" stroke-width="3.2" stroke-linejoin="round"/></g>
<line x1="294.2" y1="91.5" x2="294.2" y2="422.5" stroke="#2a2a2a" stroke-width="2.4" stroke-dasharray="3.8 10.75"/>
<line x1="388.0" y1="89.5" x2="388.0" y2="422.5" stroke="#2a2a33" stroke-width="2.4"/>
<line x1="712.0" y1="91.5" x2="712.0" y2="422.5" stroke="#2a2a2a" stroke-width="2.4" stroke-dasharray="3.8 10.75"/>
<line x1="299.8" y1="489.8" x2="299.8" y2="820.5" stroke="#2a2a2a" stroke-width="2.4" stroke-dasharray="3.8 10.75"/>
<line x1="388.2" y1="484.7" x2="388.2" y2="820.5" stroke="#2a2a33" stroke-width="2.4"/>
<line x1="721.0" y1="489.8" x2="721.0" y2="820.5" stroke="#2a2a2a" stroke-width="2.4" stroke-dasharray="3.8 10.75"/>
<line x1="1049.2" y1="89.5" x2="1049.2" y2="422.5" stroke="#2a2a33" stroke-width="2.4"/>
<line x1="1049.5" y1="484.7" x2="1049.5" y2="820.5" stroke="#2a2a33" stroke-width="2.4"/>
<rect x="106.0" y="89.5" width="804.0" height="333.0" fill="none" stroke="#1a1a1a" stroke-width="2.2"/>
<rect x="944.7" y="89.5" width="277.5" height="333.0" fill="none" stroke="#1a1a1a" stroke-width="2.2"/>
<rect x="106.5" y="484.7" width="806.3" height="335.8" fill="none" stroke="#1a1a1a" stroke-width="2.2"/>
<rect x="947.7" y="484.7" width="274.6" height="335.8" fill="none" stroke="#1a1a1a" stroke-width="2.2"/>
<text x="316.3" y="147" font-size="21" font-weight="bold" textLength="19" lengthAdjust="spacingAndGlyphs" fill="#111">60</text>
<text x="168.5" y="166" font-size="21" font-weight="bold" textLength="19" lengthAdjust="spacingAndGlyphs" fill="#111">60</text>
<text x="663" y="188" font-size="21" font-weight="bold" textLength="19" lengthAdjust="spacingAndGlyphs" fill="#111" transform="rotate(-8 663 188)">60</text>
<text x="1069" y="283" font-size="21" font-weight="bold" textLength="19" lengthAdjust="spacingAndGlyphs" fill="#111" transform="rotate(-80 1069 283)">60</text>
<text x="401.5" y="124.8" font-size="24" font-weight="normal" font-style="normal" text-anchor="start" fill="#222">T2</text>
<text x="401.5" y="519.8" font-size="24" font-weight="normal" font-style="normal" text-anchor="start" fill="#222">T2</text>
<text x="1061.3" y="124.8" font-size="24" font-weight="normal" font-style="normal" text-anchor="start" fill="#222">T1</text>
<text x="1062.5" y="515.6" font-size="24" font-weight="normal" font-style="normal" text-anchor="start" fill="#222">T1</text>
<text x="115" y="410.3" font-size="30" font-weight="bold" font-style="italic" textLength="37.5" lengthAdjust="spacingAndGlyphs" fill="#3a2626">SE</text>
<text x="851" y="410.3" font-size="30" font-weight="bold" font-style="italic" textLength="46" lengthAdjust="spacingAndGlyphs" fill="#3a2626">NW</text>
<text x="954" y="410.3" font-size="30" font-weight="bold" font-style="italic" textLength="43.5" lengthAdjust="spacingAndGlyphs" fill="#3a2626">SW</text>
<text x="1168" y="410.3" font-size="30" font-weight="bold" font-style="italic" textLength="38" lengthAdjust="spacingAndGlyphs" fill="#3a2626">NE</text>
<text transform="translate(459 23.4) skewX(-12)" font-size="33.5" fill="#222">T1</text>
<text transform="translate(1039.5 22.8) skewX(-12)" font-size="33.5" fill="#222">T2</text>
<text x="1141.5" y="42.6" font-size="33" font-weight="normal" font-style="normal" text-anchor="start" fill="#222">DOC</text>
<text x="1150.5" y="476.8" font-size="33" font-weight="normal" font-style="normal" text-anchor="start" fill="#222">POC</text>
<text x="0" y="57" font-size="28" font-weight="bold" font-style="normal" text-anchor="start" fill="#000">A</text>
<text x="0" y="498.8" font-size="28" font-weight="bold" font-style="normal" text-anchor="start" fill="#000">B</text>
<path d="M100 89.5h6M100 129.2h6M100 169.0h6M100 208.8h6M100 248.5h6M100 288.2h6M100 328.0h6M100 367.8h6M100 407.5h6" stroke="#333" stroke-width="1.2"/>
<text x="82.5" y="99.1" font-size="20.5" font-weight="normal" font-style="normal" text-anchor="end" fill="#2a2a2a">0</text>
<text x="82.5" y="178.6" font-size="20.5" font-weight="normal" font-style="normal" text-anchor="end" fill="#2a2a2a">50</text>
<text x="82.5" y="258.1" font-size="20.5" font-weight="normal" font-style="normal" text-anchor="end" fill="#2a2a2a">100</text>
<text x="82.5" y="337.6" font-size="20.5" font-weight="normal" font-style="normal" text-anchor="end" fill="#2a2a2a">150</text>
<text x="82.5" y="417.1" font-size="20.5" font-weight="normal" font-style="normal" text-anchor="end" fill="#2a2a2a">200</text>
<text transform="translate(20.5 249.2) rotate(-90)" x="0" y="0" font-size="27" font-style="italic" text-anchor="middle" fill="#2a2a2a">Depth [m]</text>
<path d="M100.5 484.7h6M100.5 524.8h6M100.5 564.9h6M100.5 604.9h6M100.5 645.0h6M100.5 685.1h6M100.5 725.1h6M100.5 765.2h6M100.5 805.3h6" stroke="#333" stroke-width="1.2"/>
<text x="82.5" y="494.3" font-size="20.5" font-weight="normal" font-style="normal" text-anchor="end" fill="#2a2a2a">0</text>
<text x="82.5" y="574.45" font-size="20.5" font-weight="normal" font-style="normal" text-anchor="end" fill="#2a2a2a">50</text>
<text x="82.5" y="654.6" font-size="20.5" font-weight="normal" font-style="normal" text-anchor="end" fill="#2a2a2a">100</text>
<text x="82.5" y="734.75" font-size="20.5" font-weight="normal" font-style="normal" text-anchor="end" fill="#2a2a2a">150</text>
<text x="82.5" y="814.9" font-size="20.5" font-weight="normal" font-style="normal" text-anchor="end" fill="#2a2a2a">200</text>
<text transform="translate(20.5 653) rotate(-90)" x="0" y="0" font-size="27" font-style="italic" text-anchor="middle" fill="#2a2a2a">Depth [m]</text>
<path d="M938.7 89.5h6M938.7 169.0h6M938.7 248.5h6M938.7 328.0h6M938.7 407.5h6" stroke="#555" stroke-width="1"/>
<path d="M941.7 484.7h6M941.7 564.9h6M941.7 645.0h6M941.7 725.1h6M941.7 805.3h6" stroke="#555" stroke-width="1"/>
<path d="M106.3 822v5M225.5 822v4M344.8 822v5M464.0 822v4M583.3 822v5M702.5 822v4M821.8 822v5" stroke="#777" stroke-width="1"/>
<path d="M106.0 424v5M224.5 424v4M343.0 424v5M461.5 424v4M580.0 424v5M698.5 424v4M817.0 424v5" stroke="#777" stroke-width="1"/>
<path d="M947.6 822v5M971.3 822v4M995.0 822v5M1018.7 822v4M1042.4 822v5M1066.1 822v4M1089.8 822v5M1113.5 822v4M1137.2 822v5M1160.9 822v4M1184.6 822v5M1208.3 822v4" stroke="#777" stroke-width="1"/>
<path d="M944.7 424v5M968.6 424v4M992.4 424v5M1016.2 424v4M1040.1 424v5M1064.0 424v4M1087.8 424v5M1111.7 424v4M1135.5 424v5M1159.3 424v4M1183.2 424v5M1207.0 424v4" stroke="#777" stroke-width="1"/>
<text x="341.5" y="851.6" font-size="21" font-weight="normal" font-style="normal" text-anchor="middle" fill="#2a2a2a">100</text>
<text x="583.3" y="851.6" font-size="21" font-weight="normal" font-style="normal" text-anchor="middle" fill="#2a2a2a">200</text>
<text x="827" y="851.6" font-size="21" font-weight="normal" font-style="normal" text-anchor="middle" fill="#2a2a2a">300</text>
<text x="950" y="850.2" font-size="21" font-weight="normal" font-style="normal" text-anchor="middle" fill="#2a2a2a">0</text>
<text x="996" y="850.2" font-size="21" font-weight="normal" font-style="normal" text-anchor="middle" fill="#2a2a2a">20</text>
<text x="1044" y="850.2" font-size="21" font-weight="normal" font-style="normal" text-anchor="middle" fill="#2a2a2a">40</text>
<text x="1092" y="850.2" font-size="21" font-weight="normal" font-style="normal" text-anchor="middle" fill="#2a2a2a">60</text>
<text x="1141" y="850.2" font-size="21" font-weight="normal" font-style="normal" text-anchor="middle" fill="#2a2a2a">80</text>
<text x="1189" y="850.2" font-size="21" font-weight="normal" font-style="normal" text-anchor="middle" fill="#2a2a2a">100</text>
<text x="528" y="904.3" font-size="27.3" font-weight="normal" font-style="italic" text-anchor="start" fill="#2a2a2a">Section distance [km]</text>
<text transform="translate(152.0 76.5) rotate(-90) skewX(-12)" font-size="19" font-weight="bold" fill="#1a1a1a" stroke="#1a1a1a" stroke-width="0.45">2</text>
<text transform="translate(195.8 76.5) rotate(-90) skewX(-12)" font-size="19" font-weight="bold" fill="#1a1a1a" stroke="#1a1a1a" stroke-width="0.45">4</text>
<text transform="translate(239.6 76.5) rotate(-90) skewX(-12)" font-size="19" font-weight="bold" fill="#1a1a1a" stroke="#1a1a1a" stroke-width="0.45">6</text>
<text transform="translate(283.4 76.5) rotate(-90) skewX(-12)" font-size="19" font-weight="bold" fill="#1a1a1a" stroke="#1a1a1a" stroke-width="0.45">8</text>
<text transform="translate(327.2 76.5) rotate(-90) skewX(-12)" font-size="19" font-weight="bold" fill="#1a1a1a" stroke="#1a1a1a" stroke-width="0.45">10</text>
<text transform="translate(371.0 76.5) rotate(-90) skewX(-12)" font-size="19" font-weight="bold" fill="#1a1a1a" stroke="#1a1a1a" stroke-width="0.45">12</text>
<text transform="translate(414.8 76.5) rotate(-90) skewX(-12)" font-size="19" font-weight="bold" fill="#1a1a1a" stroke="#1a1a1a" stroke-width="0.45">14</text>
<text transform="translate(458.6 76.5) rotate(-90) skewX(-12)" font-size="19" font-weight="bold" fill="#1a1a1a" stroke="#1a1a1a" stroke-width="0.45">16</text>
<text transform="translate(502.4 76.5) rotate(-90) skewX(-12)" font-size="19" font-weight="bold" fill="#1a1a1a" stroke="#1a1a1a" stroke-width="0.45">18</text>
<text transform="translate(546.2 76.5) rotate(-90) skewX(-12)" font-size="19" font-weight="bold" fill="#1a1a1a" stroke="#1a1a1a" stroke-width="0.45">20</text>
<text transform="translate(590.0 76.5) rotate(-90) skewX(-12)" font-size="19" font-weight="bold" fill="#1a1a1a" stroke="#1a1a1a" stroke-width="0.45">22</text>
<text transform="translate(633.8 76.5) rotate(-90) skewX(-12)" font-size="19" font-weight="bold" fill="#1a1a1a" stroke="#1a1a1a" stroke-width="0.45">24</text>
<text transform="translate(677.6 76.5) rotate(-90) skewX(-12)" font-size="19" font-weight="bold" fill="#1a1a1a" stroke="#1a1a1a" stroke-width="0.45">26</text>
<text transform="translate(721.4 76.5) rotate(-90) skewX(-12)" font-size="19" font-weight="bold" fill="#1a1a1a" stroke="#1a1a1a" stroke-width="0.45">28</text>
<text transform="translate(765.2 76.5) rotate(-90) skewX(-12)" font-size="19" font-weight="bold" fill="#1a1a1a" stroke="#1a1a1a" stroke-width="0.45">30</text>
<text transform="translate(809.0 76.5) rotate(-90) skewX(-12)" font-size="19" font-weight="bold" fill="#1a1a1a" stroke="#1a1a1a" stroke-width="0.45">32</text>
<text transform="translate(852.8 76.5) rotate(-90) skewX(-12)" font-size="19" font-weight="bold" fill="#1a1a1a" stroke="#1a1a1a" stroke-width="0.45">34</text>
<text transform="translate(896.6 76.5) rotate(-90) skewX(-12)" font-size="19" font-weight="bold" fill="#1a1a1a" stroke="#1a1a1a" stroke-width="0.45">36</text>
<text transform="translate(989.4 76.5) rotate(-90) skewX(-12)" font-size="19" font-weight="bold" fill="#1a1a1a" stroke="#1a1a1a" stroke-width="0.45">38</text>
<text transform="translate(1034.0 76.5) rotate(-90) skewX(-12)" font-size="19" font-weight="bold" fill="#1a1a1a" stroke="#1a1a1a" stroke-width="0.45">40</text>
<text transform="translate(1078.6 76.5) rotate(-90) skewX(-12)" font-size="19" font-weight="bold" fill="#1a1a1a" stroke="#1a1a1a" stroke-width="0.45">42</text>
<text transform="translate(1123.2 76.5) rotate(-90) skewX(-12)" font-size="19" font-weight="bold" fill="#1a1a1a" stroke="#1a1a1a" stroke-width="0.45">44</text>
<text transform="translate(1167.8 76.5) rotate(-90) skewX(-12)" font-size="19" font-weight="bold" fill="#1a1a1a" stroke="#1a1a1a" stroke-width="0.45">46</text>
<text transform="translate(1212.4 76.5) rotate(-90) skewX(-12)" font-size="19" font-weight="bold" fill="#1a1a1a" stroke="#1a1a1a" stroke-width="0.45">48</text>
<rect x="104.3" y="436.3" width="188.7" height="32.4" fill="#a3d8f4"/>
<rect x="297" y="436.3" width="412.7" height="32.4" fill="#a8d4b0"/>
<rect x="715.1" y="436.3" width="192.5" height="32.4" fill="#a3d8f4"/>
<text x="144.6" y="460.8" font-size="22" font-weight="bold" textLength="112" lengthAdjust="spacingAndGlyphs" fill="#2a2222">DOMAIN A</text>
<text x="458.8" y="460.8" font-size="22" font-weight="bold" textLength="112" lengthAdjust="spacingAndGlyphs" fill="#2a2222">DOMAIN B</text>
<text x="761.7" y="460.8" font-size="22" font-weight="bold" textLength="112" lengthAdjust="spacingAndGlyphs" fill="#2a2222">DOMAIN C</text>
<rect x="1237.1" y="91.5" width="24.3" height="333.3" fill="url(#g91)"/>
<path d="M1237.1 92.0L1249.25 86.2L1261.4 92.0z" fill="rgb(246,178,132)" stroke="#b08060" stroke-width="0.6"/>
<path d="M1237.1 424.3L1249.25 430L1261.4 424.3z" fill="rgb(210,120,240)" stroke="#a070b0" stroke-width="0.6"/>
<path d="M1237.1 91.5V424.8M1261.4 91.5V424.8" stroke="#999" stroke-width="0.6"/>
<path d="M1237.1 91.5h5M1256.4 91.5h5M1237.1 139.1h5M1256.4 139.1h5M1237.1 186.7h5M1256.4 186.7h5M1237.1 234.3h5M1256.4 234.3h5M1237.1 281.9h5M1256.4 281.9h5M1237.1 329.6h5M1256.4 329.6h5M1237.1 377.2h5M1256.4 377.2h5M1237.1 424.8h5M1256.4 424.8h5" stroke="#4a3a3a" stroke-width="1"/>
<text x="1280" y="98.9" font-size="21" font-weight="normal" font-style="normal" text-anchor="middle" fill="#2a2a2a">100</text>
<text x="1280" y="146.51000000000002" font-size="21" font-weight="normal" font-style="normal" text-anchor="middle" fill="#2a2a2a">90</text>
<text x="1280" y="194.12" font-size="21" font-weight="normal" font-style="normal" text-anchor="middle" fill="#2a2a2a">80</text>
<text x="1280" y="241.73" font-size="21" font-weight="normal" font-style="normal" text-anchor="middle" fill="#2a2a2a">70</text>
<text x="1280" y="289.34" font-size="21" font-weight="normal" font-style="normal" text-anchor="middle" fill="#2a2a2a">60</text>
<text x="1280" y="336.95" font-size="21" font-weight="normal" font-style="normal" text-anchor="middle" fill="#2a2a2a">50</text>
<text x="1280" y="384.55999999999995" font-size="21" font-weight="normal" font-style="normal" text-anchor="middle" fill="#2a2a2a">40</text>
<text x="1280" y="432.16999999999996" font-size="21" font-weight="normal" font-style="normal" text-anchor="middle" fill="#2a2a2a">30</text>
<rect x="1235.4" y="484.4" width="24.2" height="335.9" fill="url(#gpoc)"/>
<path d="M1235.4 484.9L1247.5 481L1259.6 484.9z" fill="rgb(246,178,132)" stroke="#b08060" stroke-width="0.6"/>
<path d="M1235.4 819.8L1247.5 825L1259.6 819.8z" fill="rgb(210,120,240)" stroke="#a070b0" stroke-width="0.6"/>
<path d="M1235.4 484.4V820.3M1259.6 484.4V820.3" stroke="#999" stroke-width="0.6"/>
<path d="M1235.4 484.4h5M1254.6 484.4h5M1235.4 540.4h5M1254.6 540.4h5M1235.4 596.4h5M1254.6 596.4h5M1235.4 652.3h5M1254.6 652.3h5M1235.4 708.3h5M1254.6 708.3h5M1235.4 764.3h5M1254.6 764.3h5M1235.4 820.3h5M1254.6 820.3h5" stroke="#4a3a3a" stroke-width="1"/>
<text x="1280" y="493.59999999999997" font-size="21" font-weight="normal" font-style="normal" text-anchor="middle" fill="#2a2a2a">12</text>
<text x="1280" y="549.5833333333334" font-size="21" font-weight="normal" font-style="normal" text-anchor="middle" fill="#2a2a2a">10</text>
<text x="1280" y="605.5666666666667" font-size="21" font-weight="normal" font-style="normal" text-anchor="middle" fill="#2a2a2a">8</text>
<text x="1280" y="661.55" font-size="21" font-weight="normal" font-style="normal" text-anchor="middle" fill="#2a2a2a">6</text>
<text x="1280" y="717.5333333333333" font-size="21" font-weight="normal" font-style="normal" text-anchor="middle" fill="#2a2a2a">4</text>
<text x="1280" y="773.5166666666667" font-size="21" font-weight="normal" font-style="normal" text-anchor="middle" fill="#2a2a2a">2</text>
<text x="1280" y="829.5" font-size="21" font-weight="normal" font-style="normal" text-anchor="middle" fill="#2a2a2a">0</text>
<text transform="translate(1234.2 423) rotate(-90)" font-size="8.6" font-weight="bold" font-style="italic" fill="#222">Ocean Data View</text>
<text transform="translate(1231.8 820) rotate(-90)" font-size="8.6" font-weight="bold" font-style="italic" fill="#222">Ocean Data View</text>
</svg></body></html>
